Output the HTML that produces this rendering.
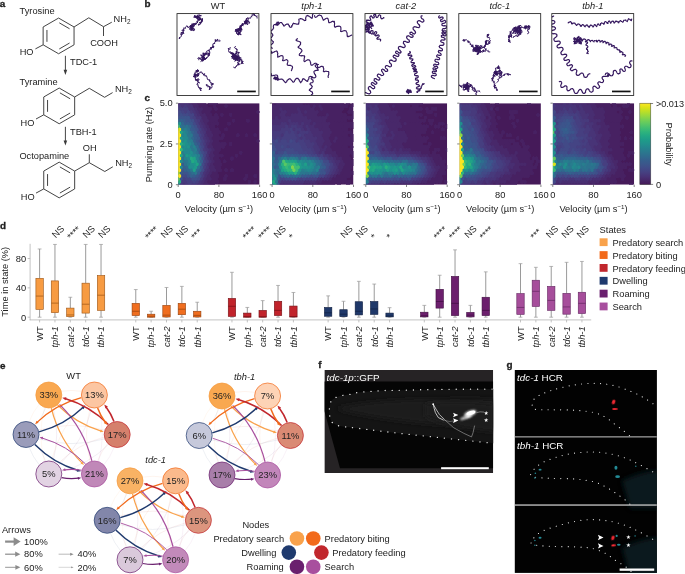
<!DOCTYPE html>
<html><head><meta charset="utf-8"><title>Figure</title>
<style>
html,body{margin:0;padding:0;background:#fff;}
svg{display:block;font-family:"Liberation Sans",sans-serif;font-size:9.3px;fill:#222;}
</style></head><body>
<svg width="685" height="574" viewBox="0 0 685 574">
<rect width="685" height="574" fill="#fff"/>
<g>
<g font-size="9.25">
<text x="-0.2" y="7.3" font-weight="bold" font-size="9.9" stroke="#1a1a1a" stroke-width="0.3">a</text>
<text x="19.6" y="14">Tyrosine</text>
<polygon points="58.6,18.05 74.06,26.98 74.06,44.82 58.6,53.75 43.14,44.82 43.14,26.97" fill="none" stroke="#3a3a3a" stroke-width="0.95" stroke-linejoin="round"/>
<line x1="59.3" y1="22.85" x2="69.55" y2="28.77" stroke="#3a3a3a" stroke-width="0.95"/>
<line x1="69.55" y1="43.03" x2="59.3" y2="48.95" stroke="#3a3a3a" stroke-width="0.95"/>
<line x1="46.95" y1="41.82" x2="46.95" y2="29.98" stroke="#3a3a3a" stroke-width="0.95"/>
<polyline points="74.06,26.98 88.8,17.8 103.5,26.7 111.8,22.2" fill="none" stroke="#3a3a3a" stroke-width="0.95" stroke-linejoin="round"/>
<line x1="103.5" y1="26.7" x2="103.5" y2="36" stroke="#3a3a3a" stroke-width="0.95"/>
<text x="113.6" y="21.5">NH<tspan font-size="6.4" dy="2.1">2</tspan></text>
<text x="90.2" y="46">COOH</text>
<line x1="43.14" y1="44.82" x2="35.4" y2="48.9" stroke="#3a3a3a" stroke-width="0.95"/>
<text x="19.7" y="55">HO</text>
<line x1="65.4" y1="55.8" x2="65.4" y2="71.9" stroke="#3a3a3a" stroke-width="0.95"/>
<polygon points="63.6,69.8 67.2,69.8 65.4,75" fill="#3a3a3a"/>
<text x="70" y="65">TDC-1</text>
<text x="19.6" y="84.8">Tyramine</text>
<polygon points="59.2,88.05 74.66,96.98 74.66,114.83 59.2,123.75 43.74,114.83 43.74,96.98" fill="none" stroke="#3a3a3a" stroke-width="0.95" stroke-linejoin="round"/>
<line x1="59.9" y1="92.85" x2="70.15" y2="98.77" stroke="#3a3a3a" stroke-width="0.95"/>
<line x1="70.15" y1="113.03" x2="59.9" y2="118.95" stroke="#3a3a3a" stroke-width="0.95"/>
<line x1="47.55" y1="111.82" x2="47.55" y2="99.98" stroke="#3a3a3a" stroke-width="0.95"/>
<polyline points="74.66,96.98 89.3,88.3 104.6,97.3 112.6,92.6" fill="none" stroke="#3a3a3a" stroke-width="0.95" stroke-linejoin="round"/>
<text x="114.9" y="92">NH<tspan font-size="6.4" dy="2.1">2</tspan></text>
<line x1="43.74" y1="114.83" x2="36" y2="119" stroke="#3a3a3a" stroke-width="0.95"/>
<text x="20.6" y="125.7">HO</text>
<line x1="65.4" y1="126.8" x2="65.4" y2="142.5" stroke="#3a3a3a" stroke-width="0.95"/>
<polygon points="63.6,140.4 67.2,140.4 65.4,145.6" fill="#3a3a3a"/>
<text x="70" y="135.4">TBH-1</text>
<text x="19.4" y="159">Octopamine</text>
<polygon points="59.2,162.15 74.66,171.07 74.66,188.93 59.2,197.85 43.74,188.93 43.74,171.07" fill="none" stroke="#3a3a3a" stroke-width="0.95" stroke-linejoin="round"/>
<line x1="59.9" y1="166.95" x2="70.15" y2="172.87" stroke="#3a3a3a" stroke-width="0.95"/>
<line x1="70.15" y1="187.13" x2="59.9" y2="193.05" stroke="#3a3a3a" stroke-width="0.95"/>
<line x1="47.55" y1="185.92" x2="47.55" y2="174.08" stroke="#3a3a3a" stroke-width="0.95"/>
<polyline points="74.66,171.07 89.3,162.7 104.8,171.5 112.8,166.8" fill="none" stroke="#3a3a3a" stroke-width="0.95" stroke-linejoin="round"/>
<line x1="89.3" y1="162.7" x2="89.3" y2="154.3" stroke="#3a3a3a" stroke-width="0.95"/>
<text x="82.8" y="151.3">OH</text>
<text x="115.2" y="165.6">NH<tspan font-size="6.4" dy="2.1">2</tspan></text>
<line x1="43.74" y1="188.93" x2="36" y2="193.1" stroke="#3a3a3a" stroke-width="0.95"/>
<text x="20.8" y="199.7">HO</text>
</g>
</g>
<g>
<text x="144.5" y="7.3" font-weight="bold" font-size="9.9" stroke="#1a1a1a" stroke-width="0.3">b</text>
<defs>
<clipPath id="cb0"><rect x="177" y="13.6" width="81.9" height="81.9"/></clipPath>
<clipPath id="cb1"><rect x="271" y="13.6" width="81.9" height="81.9"/></clipPath>
<clipPath id="cb2"><rect x="365" y="13.6" width="81.9" height="81.9"/></clipPath>
<clipPath id="cb3"><rect x="458.8" y="13.6" width="81.9" height="81.9"/></clipPath>
<clipPath id="cb4"><rect x="551.8" y="13.6" width="81.9" height="81.9"/></clipPath>
</defs>
<text x="217.95" y="8.8" text-anchor="middle">WT</text>
<path d="M195.2 16.8L196.1 16.3L195.0 16.3L195.6 17.3L194.6 16.1L195.4 16.5L196.8 17.4L196.6 17.0L198.8 16.7L197.8 15.7L197.7 15.9L197.2 16.0L197.3 16.6L198.1 16.8L196.4 17.3L195.1 17.1L194.0 17.0L193.6 17.1L196.7 17.0L197.4 15.8L197.0 16.5L196.8 16.8L196.8 15.9L197.2 15.3L198.7 15.0L199.0 15.2L199.4 14.8L199.9 14.9L200.5 15.6L200.1 15.1L200.3 15.7L201.2 15.4L201.1 16.0L200.7 16.2L200.3 15.8L199.0 15.5L199.1 16.9L199.6 17.7L199.9 18.2L199.6 18.6L200.7 18.1L199.5 19.6L199.4 20.0L199.7 18.6L201.3 19.9L200.9 20.1L200.4 18.9L199.8 19.0L200.3 19.3L199.9 20.1L198.8 20.3L199.4 19.6L197.5 18.5L197.6 18.7L198.7 17.6L198.4 18.0L198.0 15.8L198.5 17.8L199.1 16.9L198.4 17.0L200.2 17.5L199.8 18.7L199.3 20.0L198.4 19.2L198.7 20.1L199.0 19.9L197.1 18.9L196.5 18.1L196.9 17.7L197.5 17.6M195.7 16.4L194.8 16.5L194.5 16.7L195.7 16.4L194.5 15.1L195.3 16.8L196.6 18.1L197.5 17.9L197.3 17.3L195.3 16.6L197.1 17.1L196.8 17.7L198.2 19.0L198.5 18.7L197.9 18.9L198.3 20.6L197.7 20.5L197.8 22.0L197.6 22.0L197.4 23.0L196.8 21.2L197.4 21.4L196.9 22.5L197.2 22.7L196.0 24.0L195.9 23.2L196.3 23.5L195.2 23.8L196.1 24.8L194.8 24.0L193.5 24.5L195.6 23.3L194.2 24.0L192.6 24.4L193.6 23.8L193.8 23.6L191.5 24.2L192.4 24.6L192.9 25.3L190.8 25.5L191.0 27.0L190.9 25.6L191.9 26.6M190.9 27.7L190.2 25.9L190.6 26.5L191.0 27.0L191.0 26.5L190.4 26.3L190.2 27.2L190.9 26.1L191.6 26.2L192.7 27.6L193.1 26.0L193.5 24.7L194.7 24.4L194.2 26.4L192.3 26.5L191.3 26.1L190.6 26.8L190.5 27.2L191.2 25.6L192.6 25.6L191.0 25.2L191.9 26.3L191.2 26.5L191.5 27.5L191.5 28.4L190.7 27.6L191.4 28.2L191.4 28.6L191.7 29.1L192.8 29.4L193.4 28.8L192.7 26.4L193.0 26.5L193.3 24.9L192.7 24.7L191.0 25.8L192.2 24.8L192.6 26.7L191.4 27.6L192.9 29.3L191.5 28.0L191.7 29.0L190.6 28.1L189.7 29.0L189.5 29.3L190.4 30.1L190.9 30.1L192.1 30.2L190.9 29.3L191.9 29.2L191.5 29.2L194.6 28.9L194.7 29.1L194.2 30.0L194.7 30.0L193.1 30.8L193.6 30.3L191.0 29.9L189.9 29.3L189.7 28.3L190.9 28.3L192.2 27.3L191.9 28.5L192.2 27.7L191.4 27.1L191.4 27.7L191.6 28.3L192.4 28.3L193.5 28.9L193.1 28.5M190.6 25.5L190.6 26.6L190.0 27.4L189.4 26.4L188.7 27.3L188.3 28.0L187.0 25.8L187.5 26.5L187.8 26.9L188.0 26.6L186.6 26.1L186.3 26.3L185.5 27.2L185.6 28.2L185.8 28.2L183.3 28.0L183.8 28.6L183.3 30.7L183.3 30.8L183.3 30.7L183.3 31.5L183.5 31.2L183.0 30.3L184.4 30.2L182.9 29.8L181.8 30.4L182.4 30.6L183.2 31.7L183.7 33.1L183.6 33.7L183.4 33.2L183.7 33.4L182.4 32.0L182.7 32.0L182.1 33.4L181.4 32.0L180.8 34.5L183.0 33.8L181.9 34.0L181.2 33.9L181.1 35.1L181.8 36.0L179.4 37.9L179.3 38.7L179.5 37.3L179.6 38.7L179.6 37.8M197.9 18.0L198.6 17.6L199.2 18.4L200.3 18.8L200.5 19.7L200.8 19.9L202.4 18.1L202.0 19.5L201.8 19.5L202.9 19.5L202.0 19.7L201.8 21.1L202.0 20.6L202.4 21.1L202.1 20.2L202.5 20.1L201.4 20.2L202.3 20.2L201.9 21.1L201.5 21.7L201.5 20.5L201.3 21.8L202.0 21.5L200.7 22.0L202.2 21.9L202.1 21.2L200.9 22.9L200.0 22.8L199.8 22.2L200.4 22.9L200.7 22.0L200.9 23.6L199.5 22.5L200.5 23.7L199.8 23.5L200.0 24.8L198.3 24.1L198.6 25.1L198.0 24.8L198.3 24.9M257.1 18.1L257.0 17.1L256.5 16.6L257.4 16.1L256.3 16.2L256.2 16.0L254.9 15.7L254.6 14.7L255.2 15.5L253.5 15.2L253.8 14.2L253.4 12.8L253.9 14.1L254.7 14.5L253.2 13.8L252.8 13.2L252.0 14.9L252.7 15.3L251.5 15.8L251.9 17.1L251.0 16.5L250.4 17.4L250.5 18.3L249.1 18.1L248.3 18.7L248.2 17.9L248.1 17.8L247.2 18.3L247.8 17.7L248.2 20.0L247.5 20.3L247.3 20.5L246.6 21.1L248.6 21.0L248.2 20.6L248.3 21.8L247.1 20.1L247.0 20.1L245.7 20.2L245.7 20.4L246.3 20.4L246.5 18.2L246.1 20.6L245.5 22.0L246.2 23.0L245.5 22.0L244.8 23.1L244.8 23.5L243.4 23.7L244.1 24.2L242.5 25.2L241.8 24.3L242.4 25.0L242.5 25.2L242.4 23.1L242.3 24.7L242.1 24.4L243.2 25.9L242.3 25.2L242.5 25.5L240.9 25.5L240.3 27.0L239.9 25.8L241.9 26.0L241.3 25.2L240.5 26.4L241.7 25.9L239.5 27.1L241.3 26.9L241.3 27.4L240.8 26.0L240.3 27.8L240.2 28.4L240.0 29.4L239.0 28.0L240.4 28.1L241.3 28.5L239.3 28.7L240.0 29.5L239.5 28.9L240.2 29.8L240.2 31.1L239.6 32.2L239.2 32.8L238.9 32.0L239.9 32.1L239.4 32.6M237.8 30.8L238.8 30.6L239.0 29.2L238.8 29.0L239.8 29.4L239.8 28.9L238.9 29.1L240.3 27.5L237.4 29.9L239.3 30.7L239.7 30.3L239.3 29.2L240.0 29.3L238.0 29.0L237.7 28.6L239.8 30.0L236.7 30.6L238.1 32.0L239.1 29.9L240.1 30.2L241.5 30.8L239.8 32.7L238.6 33.7L239.2 32.8L237.0 31.8L236.4 31.5L236.6 33.1L237.4 34.1L236.5 33.3L237.8 34.0L238.7 33.3L237.8 34.8L237.3 34.0L239.2 33.7L238.6 34.3L238.5 35.2L238.5 33.9L241.1 34.8L241.1 34.3L239.6 33.3L238.3 33.9L239.7 33.2L239.2 33.4L239.2 33.6L239.7 33.7L240.4 32.4L241.0 30.2L240.9 30.0L241.1 30.0L241.2 28.3L240.4 27.8L240.7 28.4L240.1 28.2L239.3 28.3L239.7 29.3L239.5 28.5L238.7 29.4L237.7 29.3L235.6 30.3L236.0 29.7L236.2 30.4L236.4 30.7L236.8 29.5L235.3 30.6L235.2 31.7L236.8 31.1L236.5 30.5L238.4 30.6L238.3 31.5L237.4 30.8L237.1 30.7L236.0 30.1L236.6 29.1L235.9 29.7L235.2 29.7L236.5 29.9L238.6 29.9L237.2 30.3L237.6 31.1L236.4 31.0L237.8 31.1L239.1 30.4L239.6 30.5L241.1 29.5L242.1 29.9L241.8 29.4L240.4 28.1L240.6 27.5L241.6 28.3L241.8 29.7M247.0 23.6L246.7 23.9L245.7 23.8L244.9 23.7L245.1 24.2L245.0 23.3L244.5 22.0L246.0 20.6L246.2 21.4L246.1 20.5L246.5 21.9L247.6 20.9L247.6 21.7L249.6 21.9L249.5 23.3L248.1 22.9L246.4 22.6L245.9 22.2L246.6 22.8L247.0 22.6L246.5 21.6L246.8 22.1L246.4 21.4L245.7 22.0L246.8 22.8L245.9 22.3L245.2 23.5L245.8 22.5L246.3 22.7L246.5 23.0L245.9 22.1L246.5 23.8L245.5 22.7L246.1 21.5L243.9 21.3L245.0 22.3L245.9 21.7L246.2 21.4L245.7 21.8L244.8 22.6L245.4 23.2L245.9 22.6L247.8 24.4L247.5 24.1L247.0 23.7L247.6 24.7L247.0 23.7L245.9 23.5L245.6 23.5L245.9 22.0M219.5 40.2L220.3 40.8L219.7 41.2L219.0 41.0L217.9 40.8L216.6 41.2L218.0 39.1L216.7 40.0L216.0 40.6L214.9 41.1L216.2 40.7L215.3 41.0L215.3 39.4L215.5 40.8L216.1 41.0L215.7 40.9L216.2 40.4L214.5 42.8L214.3 43.9L214.9 43.2L212.9 43.9L212.9 45.1L213.4 46.1L213.2 47.1L212.1 47.0L213.5 47.6L212.7 47.1L213.9 46.4L214.1 46.9L212.3 45.9L213.8 47.0L212.1 47.3L210.6 47.6L211.2 47.7L211.8 48.1L210.2 48.0L211.7 47.9L211.6 48.0L211.6 47.8L211.5 48.5L211.0 48.0L210.7 48.3L211.2 49.6L210.0 48.9L209.3 49.4L209.0 50.6L209.5 50.6L208.8 49.9L208.9 50.0L208.0 51.0L207.7 50.7L207.4 51.2L207.2 51.2L207.1 50.8L206.6 51.3L206.4 52.1L205.8 53.0L206.1 54.1L206.5 54.5L205.5 54.9L205.3 54.3L205.6 53.5L205.6 53.2L205.4 53.2L206.7 53.2L205.7 54.1L205.8 53.6L204.8 53.9L207.0 53.8L205.6 53.6L203.9 54.4L204.3 54.8L205.2 54.3L203.7 54.1L203.4 53.8L202.7 53.2L202.7 53.4L204.1 53.3L204.0 53.4L203.8 52.8L203.1 54.5L203.9 53.1L204.1 55.0L202.9 54.7L202.8 56.7L203.9 55.6L202.5 57.9L201.6 57.3L201.7 57.7L200.4 58.7L199.2 58.1L198.6 57.5L199.5 58.2L200.4 58.0L199.3 58.5L198.9 58.9L198.8 59.8M204.1 56.3L204.1 54.5L203.9 56.0L205.2 55.2L204.5 55.2L202.0 56.8L202.7 57.3L203.6 57.0L203.8 57.7L204.3 57.2L203.1 57.7L203.4 56.7L204.3 57.3L204.5 57.3L204.8 58.5L204.3 59.6L204.4 59.6L205.5 59.5L205.6 58.7L205.3 58.7L204.6 57.9L205.2 58.7L204.2 58.0L204.7 58.8L203.7 58.3L204.6 59.8L205.2 58.5L206.1 58.3L205.5 58.5L204.4 57.7L201.8 58.6L202.1 58.1L202.3 57.9L201.9 57.2L201.8 55.1L200.5 55.1L202.0 55.7L202.8 56.5L202.7 56.8L202.7 56.5L202.7 56.9L202.4 56.3L202.7 56.4L202.9 57.5L203.1 57.5L202.6 56.5L203.1 57.1L203.6 57.6L203.0 57.9L203.2 58.4L202.9 59.2L203.8 58.1L203.6 58.0L204.0 59.0L202.5 59.7L203.2 59.0L202.7 59.3L202.6 58.7L202.3 60.2L200.8 61.4M197.8 58.4L198.2 58.3L199.4 58.5L201.6 59.6L201.0 59.0L201.3 60.0L201.7 60.7L203.3 60.8L203.6 60.1L202.8 59.7L204.2 59.3L202.0 61.3L203.6 58.5L203.9 59.6L203.9 59.9L204.1 59.0L205.5 58.8L205.9 58.2L206.6 57.6L206.5 58.7L206.8 57.6L206.9 58.0L207.9 56.3L208.4 56.4L209.4 55.2L208.1 55.7L208.0 53.6L207.8 54.1L208.6 53.5L207.5 52.7L208.1 53.3L208.4 54.2L208.3 54.5L208.0 53.4L208.4 55.9L209.7 55.0L208.8 52.8L209.3 53.9L209.5 54.0L209.8 52.9L209.0 51.3L209.9 51.8M236.2 56.6L239.9 57.2L239.6 57.7L238.5 56.8L238.8 56.3L239.3 56.1L236.9 54.7L235.8 52.8L235.7 53.0L236.7 52.5L236.3 53.6L237.0 52.9L238.6 52.6L239.5 52.8L238.6 51.9L238.1 55.1L237.1 57.0L238.4 56.6L239.3 58.1L238.5 57.4L239.4 57.7L241.3 58.1L239.3 57.9L237.6 58.6L238.1 57.9L236.8 58.8L236.3 59.9L235.1 59.2L234.6 57.8L237.7 59.5L236.8 60.1L234.6 61.1L236.0 60.2L235.5 60.1L236.1 59.3L235.1 58.7L234.7 59.4L234.9 59.3L233.1 58.6L233.0 57.8L233.2 57.4L231.8 58.4L233.3 57.6L234.3 56.5L233.0 56.3L235.1 56.3L233.5 56.6L233.1 55.9L233.8 54.1L232.1 52.8L233.7 53.4L233.3 53.1L234.4 55.0L233.7 55.5L236.6 56.4L236.2 56.9L236.3 57.7L236.7 57.1L236.4 57.5L235.6 57.6L234.7 58.9L236.6 57.7L237.5 57.9L237.4 57.5L237.5 58.6L236.0 59.6L235.7 58.1L235.7 58.7L235.7 58.9L235.3 58.1L236.5 56.9L237.6 57.4L237.1 57.1L236.7 57.1L236.5 57.0L234.4 54.7L234.9 54.3L234.5 54.5L233.4 56.5L233.8 56.4L232.9 57.5L234.1 59.1L235.3 58.0L234.0 59.4L233.5 59.1L233.7 59.4L234.6 58.0L234.0 56.0L234.9 56.0L233.2 57.3L233.6 56.2L233.4 55.7L233.9 56.1L233.5 56.7L231.0 56.4L232.3 57.6L233.6 56.4L232.1 56.2L235.1 56.6L234.4 54.8L234.8 54.7L235.5 55.2L233.0 55.3L234.2 54.9L233.1 53.9L232.0 56.7L234.1 56.1L235.8 55.1L235.2 54.5L235.1 55.6L237.4 56.6L237.1 56.8L236.8 57.3L235.7 57.5L236.3 58.5L235.3 58.8L235.7 57.7L233.6 57.1L234.8 56.8L237.4 57.4L236.5 57.3L236.9 57.8L236.5 58.2L239.7 59.1L239.4 58.3L237.1 58.4L236.5 58.2L235.8 58.9L237.0 57.9L235.4 58.2L236.9 58.5L237.3 56.8L236.6 57.5L236.9 57.4L237.4 58.3L237.3 57.4L235.6 57.6L235.5 57.3L236.7 56.6L236.3 57.4M230.2 47.4L229.9 48.6L230.1 49.2L229.5 49.2L228.7 48.7L228.2 48.0L228.8 50.0L229.1 50.0L228.5 50.5L229.0 52.3L230.3 51.9L229.9 52.2L230.6 52.0L230.7 52.2L231.1 53.0L230.8 53.3L231.2 53.1L231.3 54.1L232.6 53.6L230.9 53.1L232.3 53.1L230.6 53.0L231.4 53.3L231.2 53.3L231.9 53.1L233.5 54.4L232.1 54.1L232.9 54.6L233.6 55.0L234.8 56.6L234.7 55.7L234.7 55.0L234.7 55.5L234.1 54.8L235.3 55.5L235.9 55.9L235.5 55.8L235.4 55.9L234.9 56.0L235.2 55.2L235.7 55.3L235.9 55.7L236.8 56.2L235.6 54.6L235.0 55.2L234.0 55.0L233.9 56.3L234.0 56.9L233.9 54.9L234.4 53.8L234.6 54.1L235.9 53.3L237.1 53.1L236.1 51.5L236.0 51.1L237.1 52.0L236.9 50.1L236.6 49.5L237.5 49.7L236.3 49.4L236.5 48.6L235.5 48.1L235.5 48.7L234.3 47.4L235.5 46.5M236.0 57.8L235.5 56.0L234.7 56.7L237.3 56.8L237.2 58.8L236.6 59.6L237.3 59.8L237.4 60.7L238.1 60.8L236.8 59.8L238.0 59.7L238.1 59.9L237.4 59.6L238.0 60.8L239.1 61.1L239.1 60.2L239.6 60.6L239.4 61.9L237.4 62.4L238.8 64.1L238.8 64.0L238.8 64.9L238.6 63.4L237.9 63.0L238.8 64.7L238.9 63.5L238.7 63.4L239.4 64.2L237.6 64.6L239.1 65.0L238.3 64.2L237.0 65.3L236.3 66.5L237.0 65.6L235.7 66.5L235.2 68.1L233.6 67.2M236.7 57.7L237.4 58.0L237.8 59.1L236.3 57.8L238.7 60.0L238.2 59.6L238.3 59.3L240.1 60.5L239.1 60.2L240.4 59.6L240.7 59.1L240.5 59.6L241.0 59.4L239.0 58.9L240.6 59.4L240.4 60.1L241.7 59.5L242.1 60.1L240.9 61.1L242.8 61.0L243.2 61.6L241.8 61.5L243.1 63.4L242.9 63.7L241.6 62.3L243.1 63.3L241.8 62.4L241.3 62.9L242.0 63.4L240.8 63.8M197.2 71.1L198.2 71.3L196.3 71.1L199.0 70.5L196.2 71.7L197.6 69.4L198.7 71.3L195.9 70.4L197.5 72.2L195.7 72.1L195.2 71.7L195.0 74.6L194.7 73.8L193.9 74.2L194.1 74.1L194.6 74.3L195.6 76.0L195.2 73.7L194.5 75.8L194.8 75.8L196.0 75.4L194.4 75.6L194.9 76.6L194.1 74.7L196.2 76.3L194.8 76.2L195.5 75.2L195.3 75.9L195.0 77.2L195.5 79.2L195.1 78.9L195.5 78.9L195.4 80.0L196.3 80.0L196.3 79.7L196.3 79.9L195.6 79.4L195.2 79.7L197.8 80.1L197.4 80.1L196.6 80.6L196.6 80.4L195.7 80.2L197.5 79.0L197.9 79.8L198.0 78.6L199.3 79.6L197.4 80.7L197.6 81.4L197.2 80.9L197.8 80.7L198.1 80.3L197.9 81.9L199.0 82.8L199.6 82.8L198.8 82.7L198.4 81.8L197.3 83.8L198.1 84.5L197.8 83.7L196.7 84.4L198.4 85.7L197.9 85.8L198.8 87.4L199.8 88.3L198.7 87.8L198.7 87.1L199.5 87.8L200.9 88.6L200.2 88.6L201.2 88.8L201.3 88.5L200.6 87.8L199.7 88.7L200.6 88.5L201.4 88.3L200.6 89.7L201.0 91.0L200.3 89.7M195.7 74.6L196.2 74.6L197.4 75.2L196.9 75.8L197.0 75.4L197.6 75.0L198.8 75.7L198.3 75.6L198.7 74.6L198.3 73.7L198.2 73.9L198.9 73.9L198.6 75.0L197.8 76.0L197.4 75.1L197.8 75.5L197.3 76.6L198.2 76.0L197.6 75.8L197.3 75.3L197.6 75.3L197.6 75.3L197.5 74.7L196.7 74.5L196.4 75.3L196.7 74.7L195.9 75.7L196.2 76.3L195.4 76.1L196.1 77.1L195.8 76.9L195.7 76.9L195.6 77.0L195.7 77.7L195.5 76.9L194.8 76.9L193.7 76.0L194.3 77.1L193.1 76.4L193.5 76.3M196.0 74.8L196.5 75.4L197.4 74.7L198.0 74.3L197.3 73.6L198.9 73.6L198.7 73.4L198.5 73.6L198.9 73.2L200.2 72.6L200.5 72.7L201.0 71.5L201.0 71.7L201.1 72.3L201.8 73.2L202.1 72.6L202.8 74.1L204.0 74.8L204.0 75.0L203.1 74.4L204.5 73.6L204.8 73.9L205.0 73.9L203.9 75.5L204.7 75.7L206.3 75.7L205.8 76.1L206.2 76.0L207.3 77.4L206.7 77.8L207.6 78.6L207.3 78.7L208.0 80.0L208.9 79.8L209.9 80.9L209.3 79.5L210.0 80.3L209.6 80.7L210.0 82.1L210.5 82.0L211.0 83.4L211.0 82.9L213.6 83.9L212.4 84.5L211.2 84.7L211.3 83.9L213.1 84.4L211.6 85.4L212.1 86.3L211.6 88.1L210.4 87.2L209.7 88.9L210.0 88.9L208.9 89.5L210.4 89.1L209.7 88.2L210.3 88.2L209.6 88.3L209.6 86.7L209.6 86.6L210.2 86.0L209.6 86.6L209.6 86.7L208.3 86.1L208.0 87.2L207.9 85.2L205.9 84.9L207.0 84.8L206.7 85.8" fill="none" stroke="#35185f" stroke-width="0.95" stroke-linejoin="round" stroke-linecap="round" clip-path="url(#cb0)"/>
<rect x="177" y="13.6" width="81.9" height="81.9" fill="none" stroke="#222" stroke-width="0.85"/>
<rect x="237.2" y="90.6" width="18.6" height="1.7" fill="#111"/>
<text x="311.95" y="8.8" text-anchor="middle"><tspan font-style="italic">tph-1</tspan></text>
<path d="M277.3 22.5L276.6 23.0L276.8 23.2L276.9 24.0L277.5 24.5L277.3 24.0L276.7 23.7L275.2 24.5L275.5 24.3L276.2 23.9L276.4 24.2L275.6 24.9L275.9 25.0L275.4 24.4L276.6 23.9L276.4 24.0L277.3 22.4L278.1 22.6L278.5 22.0L278.5 23.0L278.3 22.6L277.9 22.3L278.3 22.5L277.8 22.9L277.1 22.1M276.3 24.5L276.5 24.8L277.1 25.3L277.5 25.2L277.9 25.1L278.0 24.8L278.5 24.2L279.2 23.7L279.7 22.9L280.2 22.6L280.8 22.5L281.4 22.5L281.9 23.0L282.3 23.5L282.7 24.3L283.3 24.8L283.4 25.1L283.5 25.6L283.8 25.9L284.0 26.1L284.1 26.1L284.7 25.6L285.0 25.2L285.6 24.8L286.4 24.3L286.9 24.1L287.5 24.0L288.3 24.1L288.3 24.2L288.5 25.0L289.3 25.5L289.3 26.3L289.8 27.0L290.1 27.2L290.6 27.3L290.7 27.2L291.2 27.1L291.9 26.8L291.6 26.0L292.1 25.5L292.6 24.9L292.5 24.4L292.8 24.0L293.1 23.7L293.5 23.2L294.2 23.7L294.6 23.5L295.4 23.7L296.0 23.9L296.8 24.1L297.1 24.1L297.6 24.2L298.1 24.3L298.7 24.0L298.6 24.0L298.4 23.5L299.0 22.9L298.8 22.5L299.0 21.7L299.1 21.0L298.9 20.0L298.8 19.2L299.4 19.0L300.1 19.0L300.6 18.5L301.1 18.8L301.8 18.9L302.7 19.3L303.3 19.7L303.7 20.1L304.6 20.6L305.0 20.5L305.2 20.5L305.6 20.5L305.7 20.2L305.8 19.6L305.8 19.1L305.6 18.3L305.9 17.2L306.1 16.7L306.2 16.0L306.9 15.8L307.3 15.4L308.0 16.0L308.6 15.8L309.3 16.5L310.2 17.0L311.1 17.9L311.4 18.0L311.8 18.3L312.2 18.2L312.2 17.7L312.4 17.0L312.6 16.0L312.4 15.2L312.8 14.0L313.2 13.9L313.4 13.3M314.6 15.5L314.6 16.1L314.9 16.8L315.1 17.1L315.2 17.4L315.7 17.3L316.5 17.0L316.8 16.8L317.4 16.2L318.0 15.6L318.6 15.4L319.6 14.9L320.3 15.4L320.5 15.5L321.2 15.6L321.6 16.2L321.9 16.8L322.3 17.3L322.4 18.1L322.7 18.7L323.1 19.3L323.0 19.5L323.2 20.0L323.5 20.2L323.7 20.2L324.0 19.8L324.6 19.5L325.1 19.0L325.9 18.6L326.5 18.3L327.2 18.2L327.7 18.4L328.0 18.8L328.3 19.7L328.5 20.2L328.5 21.0L328.6 21.6L328.7 22.3L328.9 22.6L329.4 22.6L329.6 22.7L329.9 22.6L330.6 22.2L331.4 22.0L331.9 21.5L332.5 21.2L333.4 21.4L333.5 21.8L334.4 21.4L334.3 22.2L334.5 22.8L334.6 23.8L334.5 24.7L334.4 25.3L334.5 26.3L334.7 26.6L334.5 26.7L334.9 27.1L335.4 27.1L335.4 27.2L336.5 26.5L337.1 26.2L337.7 26.4L338.1 26.4L338.9 26.0L339.7 26.2L340.0 26.4L340.6 26.8L340.6 27.1L340.9 27.8L340.9 28.4L340.9 29.0L340.9 29.7L340.7 30.4L340.8 30.8L340.6 31.4L341.0 31.5L341.5 31.6L341.9 31.4L342.6 31.3L343.5 30.8L344.0 30.7L344.8 30.5L345.5 30.7L346.2 31.1L346.2 31.1L346.5 32.0L346.9 32.5L347.0 33.0L347.1 33.7L347.1 34.5L347.1 35.1L347.3 35.9L347.2 36.2L347.6 36.6L348.1 36.4L348.4 36.6L348.6 36.4L349.7 36.1L350.4 35.7L351.2 35.3L351.7 35.1M276.0 24.7L275.5 24.6L275.0 24.5L274.5 24.5L274.1 24.7L273.8 25.2L273.6 25.4L273.4 26.2L273.3 27.0L273.5 27.3L273.6 28.0L273.5 28.3L273.1 28.7L272.9 29.2L272.6 29.7L272.4 29.9L271.8 30.1L271.4 30.7L271.0 31.3L270.8 31.2L270.7 31.6L270.8 32.0L270.9 32.1L271.2 32.9L271.7 33.4L272.3 33.8L272.7 34.4L272.7 34.9L272.9 35.4L272.4 35.9L272.4 36.2L271.8 36.8L271.6 37.4L271.0 37.8L270.7 37.8L270.4 38.5L270.0 38.7L270.3 39.1L270.8 39.6L271.6 39.9L271.8 40.4L272.5 41.1L273.0 41.4L273.5 41.9L273.0 42.7L273.0 43.1L272.3 43.7L271.9 44.0L271.5 44.4L271.0 44.9L270.4 45.4L270.2 45.9L270.1 46.1L270.4 46.6L270.6 46.7L271.1 47.1L271.2 47.6L272.0 47.8L272.2 48.5M297.3 38.5L296.7 39.6L296.1 39.7L296.1 39.9L296.2 40.6L296.5 40.5L297.1 40.8L297.8 41.1L298.6 41.3L299.6 41.7L300.3 42.1L300.7 42.6L300.5 43.1L300.6 43.8L300.5 44.3L300.2 44.7L299.5 45.6L299.0 46.2L298.4 46.5L298.1 47.0L298.4 47.2L298.2 47.5L298.7 47.9L299.2 48.0L299.6 48.3L300.3 48.5L301.0 49.2L301.6 49.8L301.7 50.1L302.0 50.5L301.9 51.1L301.6 51.5L301.3 52.0L300.7 52.6L300.4 53.1L299.7 53.6L299.4 54.0L299.3 54.5L299.3 54.8L299.3 55.2L299.6 55.5L300.3 55.7L301.0 55.6L301.7 55.9L302.3 55.6L302.9 55.7L303.3 55.8L303.8 55.9L304.5 55.9L304.7 56.4L304.6 57.1L304.2 58.2L304.2 59.2L304.1 60.1L303.9 60.7L304.2 61.3L304.3 61.6L304.7 61.5L305.5 61.2L306.1 60.5L306.8 60.2L307.4 59.8L308.2 59.9L308.7 59.8L309.2 60.0L309.8 60.5L309.9 60.7L310.2 61.2L310.3 62.2L310.7 62.6L310.7 63.0L310.6 63.6L310.8 64.5L311.0 64.8L311.2 65.1L311.6 65.0L312.2 65.2L312.6 64.9L313.0 64.7L313.6 64.0L314.2 63.8L315.0 63.3L315.5 63.2L316.2 63.4L316.4 63.8L316.9 64.2L317.1 64.6L317.2 65.3L317.6 66.1L317.6 66.6L317.7 67.1L317.8 67.5L318.0 67.8L318.5 67.7L318.7 67.6L319.3 67.4L319.8 67.3L320.3 66.8L321.0 66.4L321.4 66.4L322.1 66.4L322.7 66.6L323.4 66.8L323.3 67.8L323.7 68.3L323.7 69.2L323.7 69.5L323.6 70.4L323.4 70.9L323.3 71.2L323.7 71.7L323.9 71.5L324.5 71.7L325.3 71.2L326.3 71.3L326.9 71.4L327.8 71.5L328.3 71.5L328.9 72.1L328.7 72.8L328.7 73.5L328.8 74.2L328.5 75.0L328.3 75.5L328.1 76.3L328.1 76.8L328.1 77.0L328.2 77.3L328.4 77.3M271.7 51.3L271.5 52.0L271.6 52.8L271.7 53.4L271.8 53.3L272.3 52.9L273.3 52.3L273.8 52.2L274.8 51.5L275.7 51.3L276.3 50.9L277.0 51.3L277.4 51.8L277.3 52.5L277.9 53.3L277.6 54.1L277.6 55.2L277.9 55.7L277.7 56.5L277.6 57.1L277.8 57.0L278.4 56.9L279.0 56.7L279.8 56.2L280.7 55.8L281.2 55.6L282.0 55.7L282.5 55.7L282.8 56.1L283.0 56.6L283.1 57.4L283.1 58.0L283.1 59.1L282.7 59.7L282.8 60.1L282.5 60.4L283.1 60.7L283.4 60.7L284.0 60.6L284.8 60.2L285.5 60.0L286.3 59.6L287.1 60.0L287.5 60.2L287.7 60.5L287.9 61.1L287.8 61.9L287.6 62.7L287.4 63.3L287.2 64.2L287.4 64.7L287.3 64.8L287.6 65.1L288.2 65.3L288.7 65.5L289.0 65.4L289.9 65.3L290.6 65.4L291.2 65.8L291.8 66.1L292.3 66.4L292.5 66.8L292.5 67.4L292.5 68.1L292.0 68.6L291.9 69.6L291.5 70.3L291.4 70.7M275.8 79.7L274.7 78.6L275.3 77.9L274.9 77.6L274.6 77.8L274.3 77.0L274.3 78.2L274.5 77.5L276.8 77.2L276.9 77.2L277.4 77.9L276.4 79.1L276.9 78.3L276.1 77.6L277.1 78.2L277.1 79.2L278.2 79.4L278.2 79.3L277.8 79.3L277.3 79.8L278.0 78.8L278.2 78.5L277.7 77.4L275.6 77.6L275.2 77.4L275.1 76.8L275.5 78.3L276.4 78.8L276.3 78.9L276.1 78.7L275.6 78.3L278.8 79.1L278.9 79.4L277.9 79.4L276.8 79.3L275.7 78.9L275.6 79.6L275.4 78.8L273.6 78.7L274.5 78.9M271.5 73.8L271.3 74.3L271.3 75.0L271.5 75.6L271.7 75.9L271.8 75.8L272.6 75.6L273.2 75.4L274.1 75.5L274.9 75.2L275.4 75.0L276.4 75.0L276.9 75.3L277.4 75.4L277.6 75.9L277.7 76.9L277.5 77.7L277.4 78.6L277.3 79.2L277.2 79.9L277.3 80.0L277.6 80.2L278.2 79.9L279.0 79.6L279.4 79.3L280.1 79.2L280.4 79.3L281.2 79.0L281.7 79.1L282.0 79.1L282.3 79.3L282.8 79.6L283.2 80.2L283.5 80.5L283.9 81.0L284.6 81.7L284.9 82.1L285.1 82.3L285.4 82.7L285.8 82.5L286.0 82.4L286.1 82.0L286.8 81.7L286.9 81.0L287.2 80.3L287.7 80.1L288.1 79.5L288.7 79.4L289.1 78.7L289.8 78.8L290.3 78.8L290.8 79.3L291.4 80.1L291.8 80.6L292.5 81.2L292.6 81.7L293.0 82.0L293.3 82.2L293.7 82.0L294.0 81.8L294.4 81.5L294.4 80.9L294.9 80.3L295.4 79.4L295.8 79.0L296.4 78.4L297.0 78.4L297.6 78.2L298.1 78.2L298.1 78.9L298.9 79.5L299.2 80.1L299.4 80.9L300.0 81.5L300.2 82.1L300.6 82.4L300.7 82.8L301.1 82.0L301.7 81.6L302.0 80.8L302.4 80.2L302.5 79.2L302.9 78.8L303.5 78.7L303.8 79.1L304.5 79.1L305.0 79.7L305.5 80.3L306.3 80.7L306.7 81.0L307.0 81.3L307.2 81.4L307.8 81.3L307.7 80.8L308.0 80.1L308.3 79.4L308.9 78.8L308.8 77.9L309.1 77.0L309.2 76.9L309.8 76.6L310.2 76.4L310.7 76.5L311.1 76.5L312.3 76.9L312.8 77.3L313.2 77.8L314.0 77.9L314.5 77.7L315.0 77.6L315.5 77.1L315.7 77.1L315.9 76.2L315.9 76.0L315.4 75.3L315.4 74.8L314.7 74.2L314.5 73.5L314.2 73.2L314.1 72.7L313.9 72.0L314.0 71.4L314.7 70.9L315.4 70.6L316.2 70.4L317.1 70.3L317.7 70.3L318.3 70.2L318.3 70.1L318.1 69.6L317.4 68.9L317.4 68.4L316.3 67.3L315.8 66.9L315.2 66.0L315.3 65.2L315.8 64.9L316.2 64.7L317.3 64.2L318.4 64.5M312.1 77.8L311.3 77.8L311.1 78.2L311.2 78.7L311.4 79.1L312.0 79.3L312.4 79.9L313.0 80.1L313.1 81.1L313.2 81.5L312.8 82.3L312.5 82.6L311.3 82.8L310.5 83.1L310.3 83.2L310.1 83.8L310.0 84.2L310.3 84.6L311.2 85.0L311.6 85.8L312.0 86.0L312.3 86.4L311.8 87.2L311.8 87.7L311.6 88.2L310.5 88.6L310.2 89.3L309.7 89.4L309.3 90.1L309.2 90.1L309.6 90.5L310.3 90.8L310.8 91.4L311.5 91.7L312.4 92.1L312.5 93.0L312.7 93.5L312.6 94.1L311.8 94.5L311.3 94.9" fill="none" stroke="#35185f" stroke-width="1.15" stroke-linejoin="round" stroke-linecap="round" clip-path="url(#cb1)"/>
<rect x="271" y="13.6" width="81.9" height="81.9" fill="none" stroke="#222" stroke-width="0.85"/>
<rect x="331.2" y="90.6" width="18.6" height="1.7" fill="#111"/>
<text x="405.95" y="8.8" text-anchor="middle"><tspan font-style="italic">cat-2</tspan></text>
<path d="M367.5 26.6L369.0 29.0L367.2 27.7L366.2 27.1L366.2 25.3L366.8 23.6L367.7 22.7L368.2 23.7L368.0 23.2L367.1 22.1L369.3 23.4L371.6 24.2L371.7 23.7L371.0 21.9L372.0 23.7L373.5 26.0L371.6 22.7L372.2 23.5L370.4 22.6L371.3 25.4L371.5 24.6L372.3 26.3L370.2 27.3L368.7 27.2L369.3 27.1L367.2 27.5L365.5 28.3L363.3 27.3L363.2 26.3L364.1 26.6L367.1 27.1L368.7 25.5L370.1 26.7L371.7 28.6L370.1 26.5L368.8 25.6L370.6 23.0L370.4 24.7L370.0 23.0L368.6 24.1L369.5 24.1L369.8 26.2L369.2 28.9L367.7 31.1L365.9 32.3L366.2 29.5L366.6 29.8L367.6 29.5L367.4 28.7L367.6 30.0L368.3 30.4L368.6 31.8L371.8 34.1L369.7 31.9L368.1 30.7M383.9 17.8L383.5 17.5L383.5 18.0L383.3 18.1L382.9 18.3L382.8 18.7L382.4 18.6L382.0 18.6L382.1 18.7L381.5 18.6L381.5 18.8L381.1 18.4L381.1 18.3L380.7 17.7L380.8 17.4L380.9 17.3L380.5 16.9L380.6 16.5L380.6 16.3L380.8 16.1L380.7 15.8L380.6 15.6L380.4 15.4L380.1 15.2L379.9 15.1L379.7 14.9L379.2 14.9L378.9 15.1L378.5 15.6L378.4 15.4L378.3 15.6L378.3 16.0L378.2 16.4L378.0 16.7L378.0 16.8L377.6 17.2L377.2 17.4L377.1 17.3L376.9 17.5L376.7 17.5L376.5 17.6L376.2 17.0L376.2 16.7L375.9 16.3L375.9 16.1L375.6 16.1L375.6 15.5L375.9 15.2L375.8 14.8L375.6 14.6L375.4 14.4L375.1 14.3L375.1 14.1L374.5 14.4L374.4 14.6L374.1 14.5L373.8 14.8L373.9 15.4L373.6 15.5L373.9 15.8L374.0 16.1L374.3 16.3L374.2 16.6L374.4 17.0L374.2 17.2L374.0 17.5L374.0 17.5L373.9 17.9L373.6 17.9L373.5 17.8L373.2 18.0L372.9 17.6L372.5 17.9L372.4 17.2L372.2 17.0L372.1 16.9L371.9 16.5L371.8 16.3L371.5 16.0L371.5 15.8L370.9 15.9L370.8 16.3L370.2 16.2L370.2 16.3L370.0 16.8L369.8 17.2L369.8 17.4L369.9 17.4L370.2 18.1L370.1 18.5L370.4 18.6L370.3 18.9L370.5 19.2L370.7 19.3L370.6 19.6L370.8 20.1L370.4 19.9L370.2 20.2L369.8 20.5L369.5 20.6L369.3 20.5L369.0 20.4L368.6 20.2L368.0 20.4L368.2 20.1L367.7 20.0L367.3 20.3L367.0 20.0L366.8 20.1L366.5 20.3L366.4 20.6L366.3 21.0L366.3 21.5L366.2 21.6L366.6 22.1L366.6 22.3L366.7 22.3L366.9 22.5L367.3 22.7L367.4 22.9L367.6 23.3L367.8 23.4L367.6 23.8L368.1 23.9L368.1 24.2L368.2 24.3L367.9 24.6L367.8 25.1L367.3 24.9L367.3 25.1L367.0 25.2L366.5 25.4L366.3 25.2L366.0 25.3L365.5 25.2L365.2 25.2L365.1 25.5L364.8 25.6L364.7 25.5L364.5 25.8M366.6 26.5L366.8 26.6L366.6 27.0L366.3 27.3L366.3 27.3L366.0 27.5L365.8 28.0L365.6 27.8L365.4 28.2L364.9 28.4L364.9 28.5L365.0 28.9L365.2 29.2L365.6 29.3L365.6 29.8L366.0 29.6L366.4 29.5L366.8 29.4L367.0 29.4L367.2 28.9L367.3 29.1L367.6 28.7L368.0 28.5L368.4 28.7L368.5 28.7L368.5 28.6L368.9 29.0L368.9 29.3L369.3 29.5L369.4 29.9L369.0 30.1L368.9 30.4L368.6 30.5L368.4 30.7L368.1 31.0L368.0 31.2L368.2 31.3L368.0 31.9L368.2 32.1L368.3 32.4L369.0 32.8L369.2 32.8L369.4 33.1L369.9 32.9L370.3 32.6L370.3 32.3L370.5 32.3L370.7 31.8L370.7 31.7L371.0 31.5L371.0 30.8L371.1 30.6L371.5 30.7L371.8 30.7L372.1 30.5L372.3 30.6L372.7 30.7L372.6 30.8L373.1 31.1L373.1 31.4L373.0 31.9L372.9 32.0L373.0 32.4L372.9 32.8L372.8 33.1L372.9 33.3L372.7 33.6L373.0 33.9L373.0 33.9L373.4 34.2L373.5 34.1L373.6 34.1L373.7 33.9L374.0 34.0L373.9 33.6L374.3 33.5L374.4 33.2L374.3 32.9L374.7 32.4L375.0 32.1L375.0 32.0L375.4 31.7L375.6 31.6L375.9 31.7L376.3 31.7L376.7 31.9L376.7 32.7L376.6 32.5L376.6 33.0L376.4 33.3L376.3 33.6L376.1 33.7L376.1 34.0L375.6 34.1L375.5 34.1L375.2 34.5L375.1 34.6L374.9 35.0L375.1 35.2L374.9 35.4L375.2 35.7L375.5 35.6L375.6 35.9L376.0 35.8L376.1 35.6L376.5 35.9L376.8 35.5L377.0 35.7L377.4 35.1L377.7 35.3L377.7 35.2L378.1 35.0L378.4 34.9L378.6 35.2L378.8 35.3L379.1 35.5L379.1 35.7L379.2 36.1L379.0 36.4L378.8 36.5L378.7 36.8L378.4 37.1L378.3 37.3L377.9 37.3L377.5 37.4L377.4 37.5L377.3 37.9L377.2 38.1L377.0 38.2L376.8 38.7L376.9 38.7L377.0 39.0L377.4 39.0L377.6 39.1L377.8 39.4L377.9 39.1L378.3 39.2L378.7 39.1L378.8 39.0L379.2 39.0L379.5 39.1L379.7 39.2L380.1 39.3L380.4 39.4L380.7 39.8L380.6 40.0L380.5 40.4L380.6 40.7L380.3 40.9M422.2 15.8L421.9 15.8L421.7 15.9L421.1 16.1L421.2 16.3L421.0 16.7L421.0 17.0L421.1 17.1L421.2 17.6L421.5 18.0L421.5 18.2L421.6 18.3L421.7 18.6L422.1 18.6L422.3 18.9L422.7 19.0L422.8 19.0L423.2 19.3L423.3 19.3L423.4 19.8L423.6 19.8L423.7 20.1L423.7 20.4L423.9 20.6L424.0 20.8L423.9 21.2L423.7 21.5L423.5 21.6L423.0 21.8L423.0 22.1L422.8 22.2L422.5 22.0L422.2 22.1L421.9 22.0L421.5 21.9L421.1 21.6L420.9 21.5L420.7 21.3L420.5 21.2L420.2 20.9L420.0 20.8L419.7 20.8L419.5 20.8L419.2 20.6L418.7 20.6L418.5 20.8L418.1 20.9L418.0 20.9L417.7 21.4L417.5 21.3L417.3 21.7L417.4 21.9L417.4 22.1L417.3 22.7L417.5 22.8L417.5 23.0L417.8 23.4L417.8 23.6L418.2 23.8L418.3 24.1L418.4 24.2L418.7 24.5L419.0 24.5L419.4 24.7L419.3 24.8L419.3 25.4L419.6 25.3L419.7 25.8L419.7 25.9L419.8 26.3L419.6 26.6L419.6 26.9L419.4 27.1L419.1 27.4L418.8 27.4L418.8 27.7L418.2 27.5L418.0 27.5L417.6 27.5L417.3 27.4L417.1 27.4L416.9 27.4L416.6 27.1L416.3 27.2L416.1 26.9L415.7 26.9L415.3 26.9L415.0 26.9L414.8 26.6L414.5 26.9L414.0 26.9L413.7 27.0L413.6 27.0L413.3 27.4L413.1 27.7L413.1 28.0L413.2 28.1L413.0 28.5L413.2 28.8L413.2 29.1L413.3 29.6L413.5 29.6L413.7 29.8L414.0 30.2L414.1 30.2L414.3 30.3L414.5 30.8L414.9 30.9L414.9 31.2L415.1 31.2L415.2 31.4L415.5 32.0L415.2 32.1L415.6 32.4L415.5 32.8L415.5 32.9L415.1 33.4L415.1 33.5L414.8 33.6L414.6 33.8L414.3 34.1L413.9 33.9L413.7 33.8L413.3 33.5L413.2 33.6L412.9 33.2L412.6 33.1L412.4 32.8L412.3 32.6L411.9 32.3L411.8 32.3L411.5 32.3L411.2 32.1L410.9 32.2L410.6 32.4L410.3 32.3L410.0 32.5L410.0 32.8L410.0 33.1L409.9 33.4L410.0 33.7L410.0 33.9L410.3 34.2L410.7 34.4L410.8 34.4L411.1 34.6L411.6 34.7L411.7 34.6L412.0 34.9L412.2 34.9L412.3 35.0L412.6 35.3L413.0 35.5L413.0 36.0L413.0 36.0L413.1 36.4L413.2 36.8L412.6 36.8L412.5 37.3L412.2 37.0L411.9 37.3L411.7 37.3L411.4 37.3L410.9 37.3L410.7 37.1L410.5 37.0L410.3 36.8L410.0 36.7L409.6 36.4L409.5 36.3L409.2 36.2L409.0 36.1L408.6 35.8L408.4 35.7L408.2 35.8L407.7 35.8L407.6 36.1L406.9 36.1L407.1 36.2L406.9 36.5L406.6 36.8L406.6 37.0L406.6 37.4L406.7 37.5L406.7 37.8L406.9 38.0L407.1 38.5L407.2 38.8L407.6 38.8L407.7 39.0L407.9 39.3L408.2 39.6L408.4 39.7L408.7 39.7L408.9 39.9L409.0 40.1L409.3 40.3L409.1 40.6L409.4 41.0L409.4 41.2L409.4 41.5L409.4 41.9L409.0 42.0L408.7 42.2L408.5 42.3L408.2 42.5L407.9 42.2L407.6 42.4L407.1 42.5L407.0 42.0L406.7 42.1L406.2 42.0L406.1 41.7L405.8 41.5L405.6 41.4L405.3 41.3L404.9 41.3L404.7 41.4L404.5 41.4L404.1 41.3L403.8 41.5L403.5 41.7L403.6 42.0L403.4 42.2L403.5 42.5L403.4 43.1L403.3 43.2L403.6 43.4L403.9 43.8L403.9 44.0L404.2 44.3L404.3 44.4L404.5 44.6L404.6 44.8L404.8 45.2L404.9 45.3L405.1 45.7L405.2 45.9L405.4 46.1L405.1 46.5L404.9 46.8L404.9 47.1L404.6 47.2L404.3 47.3L404.0 47.6L403.7 47.3L403.4 47.6L403.0 47.4L402.8 47.3L402.4 47.4L402.4 47.1L402.1 47.2L401.7 46.9L401.4 46.9L401.3 46.6L400.8 46.6L400.4 46.6L400.3 46.3L400.2 46.3L399.5 46.5L399.7 46.5L399.1 46.6L399.0 46.7L398.7 47.0L398.5 47.1L398.4 47.5L398.5 47.8L398.4 48.2L398.5 48.5L398.4 48.7L398.6 48.8L399.0 49.3L399.2 49.3L399.1 49.7L399.3 49.9L399.8 49.9L399.9 50.3L400.3 50.6L400.1 50.6L400.5 51.2L400.8 51.3L401.0 51.5L401.0 51.6L401.1 51.9L401.1 52.1L400.9 52.4L400.7 52.8L400.7 52.8L400.3 53.1L400.1 52.8L399.6 53.1L399.4 52.9L399.0 52.8L398.8 52.7L398.5 52.5L398.2 52.1L398.1 51.9L397.8 51.7L397.7 51.7L397.6 51.6L397.3 51.3L396.9 51.1L396.7 51.1L396.4 51.3L396.1 51.2L396.0 51.5L395.7 51.7L395.7 51.9L395.6 52.3L395.5 52.6L395.7 52.8L395.8 53.0L396.1 53.3L396.4 53.5L396.6 53.6L396.8 53.7L397.3 53.8L397.5 53.8L397.6 53.8L398.1 54.1L398.3 54.2L398.4 54.3L398.4 54.6L399.0 54.8L398.8 55.3L398.9 55.6L398.6 55.7L398.5 56.0L398.4 56.3L398.1 56.3L397.8 56.6L397.5 56.4L397.3 56.4L396.9 56.4L396.7 56.2L396.3 56.1L396.0 55.8L395.8 55.9L395.7 55.7L395.2 55.5L395.2 55.2L394.9 55.3L394.6 55.1L394.3 55.3L393.8 55.3L393.6 55.4L393.7 55.6L393.3 55.9L393.1 56.1L393.1 56.5L393.4 56.8L393.5 57.0L393.6 57.2L393.7 57.5L394.3 57.9L394.2 57.7L394.6 57.8L394.8 58.1L395.1 58.1L395.7 58.3L395.7 58.5L395.9 58.7L396.1 58.9L396.1 59.4L396.3 59.7L395.9 59.7L395.9 60.2L396.0 60.5L396.0 60.7L395.7 60.9L395.4 61.1L395.1 61.4L394.7 61.4L394.5 61.2L394.3 61.3L393.8 61.2L393.7 61.2L393.2 61.1L392.9 61.0L392.6 60.8L392.5 60.5L392.1 60.5L392.0 60.1L391.5 60.3L391.2 60.0L391.1 60.1L390.8 60.2L390.5 60.0L390.2 60.3L389.8 60.6L390.0 60.7L389.5 60.9L389.4 61.3L389.5 61.2L389.3 61.7L389.5 62.1L389.6 62.2L389.6 62.6L389.6 62.7L390.0 63.0L390.3 63.2L390.4 63.3L390.8 63.6L391.1 63.9L391.0 64.1L391.4 64.5L391.2 64.7L391.3 65.1L391.5 65.2L391.5 65.6L391.4 65.9L391.3 66.0L391.1 66.5L390.8 66.6L390.3 66.7L390.1 66.8L389.8 67.0L389.6 66.7L389.2 66.5L389.0 66.5L388.7 66.4L388.4 66.2L388.2 66.0L387.9 65.9L387.7 65.7L387.4 65.7L387.1 65.6L386.8 65.5L386.5 65.6L386.1 65.6L386.0 65.7L385.8 65.9L385.4 66.3L385.6 66.2L385.4 66.8L385.3 67.1L385.3 67.3L385.4 67.6L385.5 68.0L385.7 68.3L385.9 68.4L386.0 68.5L386.5 68.7L386.8 68.7L386.8 69.0L387.2 69.0L387.3 69.5L387.4 69.7L387.7 70.1L387.6 70.4L387.4 70.7L387.7 70.9L387.3 71.1L387.0 71.5L386.8 71.4L386.5 71.4L386.0 71.5L385.9 71.5L385.5 71.5L385.5 71.0L385.1 71.0L384.8 70.7L384.7 70.6L384.5 70.1L384.5 70.0L384.2 69.8L383.7 69.8L383.5 69.3L383.4 69.3L383.2 69.2L382.8 69.2L382.5 69.1L382.2 69.3L381.9 69.3L381.9 69.6L381.6 70.0L381.5 70.1L381.7 70.7L381.6 71.0L381.7 71.1L381.9 71.1L382.0 71.7L382.3 71.7L382.5 72.2L382.6 72.4L382.7 72.7L382.9 72.8L383.2 73.1L383.2 73.3L383.5 73.6L383.6 73.7L383.7 74.2L383.6 74.4L383.5 74.9L383.3 74.8L383.1 75.1L382.9 75.2L382.7 75.5L382.6 75.5L382.0 75.5L381.8 75.6L381.5 75.3L381.0 75.3L380.9 75.1L380.6 75.0L380.5 74.7L380.2 74.5L379.9 74.4L379.9 74.5L379.2 74.3L379.0 74.2L378.8 74.1L378.5 74.2L378.2 74.1L378.2 74.3L377.9 74.5L377.5 74.8L377.5 75.1L377.4 75.2L377.2 75.5L377.4 75.9L377.4 76.1L377.6 76.3L377.9 76.6L378.0 76.9L378.2 77.1L378.6 77.2L378.9 77.2L378.9 77.6L379.4 77.7L379.6 78.1L379.6 78.2L379.8 78.4L379.9 78.7L379.8 79.1L379.8 79.2L379.7 79.7L379.4 79.5L379.4 80.0L379.0 80.0L378.6 80.2L378.5 80.1L378.1 80.1L378.0 79.9L377.6 79.8L377.1 79.7L377.0 79.6L376.8 79.3L376.4 79.2L376.4 78.9L376.1 78.8L376.0 78.5L375.5 78.6L375.2 78.6L374.9 78.7L374.5 78.7L374.3 78.8L374.4 79.1L374.3 79.5L374.1 79.8L374.0 79.9L374.2 80.3L374.1 80.6L374.4 81.0L374.8 81.0L374.8 81.2L375.1 81.6L375.5 81.5L375.8 81.6L376.0 81.7L376.2 81.7L376.3 82.3L376.6 82.3L376.7 82.5L376.9 82.9L376.9 83.2L376.8 83.6L376.7 83.9L376.5 83.8L376.2 84.0L375.8 84.0L375.6 84.3L375.3 84.5L374.9 84.2L374.6 83.9L374.6 83.8L374.4 83.7L374.1 83.5L373.7 83.2L373.6 83.2L373.4 82.9L373.1 82.8L372.6 82.6L372.5 82.7L372.2 82.4L372.0 82.7L371.8 82.7L371.5 82.9L371.4 83.2L371.2 83.6L371.3 83.8L371.3 84.2L371.3 84.3L371.7 84.5L372.0 84.8L372.1 85.1L372.4 85.3L372.4 85.4L372.9 85.3L373.0 85.6L373.4 85.8L373.8 85.8L374.0 85.9L374.1 86.1L374.3 86.4L374.5 86.5L374.7 86.8L374.7 87.3L374.8 87.5L374.6 87.6L374.6 88.2L374.2 88.3L374.1 88.5L373.9 88.5L373.6 88.8L373.1 88.6L372.9 88.6L372.4 88.5L372.4 88.3L372.0 88.1L371.9 88.0L371.6 87.7L371.5 87.5L371.1 87.1L371.1 87.2L370.7 87.0L370.4 86.7L370.4 86.5L369.9 86.4L369.7 86.5L369.5 86.5L369.1 86.9L368.9 86.9L368.6 87.1L368.5 87.4L368.3 87.6L368.3 87.9L368.3 88.3L368.6 88.6L368.4 88.9L368.7 89.1L368.8 89.5L369.0 89.8L369.1 89.9L369.3 90.1L369.8 90.2L369.8 90.5L370.2 90.6L370.1 91.0L370.2 91.3L370.5 91.5L370.6 91.7L370.6 92.1L370.8 92.3L370.6 92.7L370.5 92.9L370.3 93.1L370.2 93.2L369.7 93.6L369.6 93.9L369.3 93.7L368.9 93.8L368.7 93.9L368.5 93.8L368.1 93.7L367.9 93.5L367.5 93.5L367.3 93.4L366.9 93.4L366.8 93.1L366.6 92.9L366.4 92.8L365.8 92.7L365.7 92.7L365.5 92.5L364.9 92.8L365.0 92.7M439.6 15.8L439.4 15.9L439.1 16.1L438.9 16.2L438.7 16.5L438.7 16.6L438.7 17.3L438.7 17.4L438.8 17.7L439.2 17.8L439.5 18.1L439.8 17.9L440.2 18.0L440.3 17.9L440.7 17.5L440.8 17.3L441.1 17.1L441.3 17.1L441.9 17.1L442.0 16.9L442.2 16.9L442.4 17.0L442.7 17.2L443.0 17.3L443.1 17.6L443.0 18.1L443.1 18.2L443.1 18.4L442.7 18.7L442.5 19.0L442.3 19.1L442.1 19.2L441.6 19.2L441.4 19.5L441.1 19.6L441.1 19.7L440.6 19.9L440.5 20.2L440.8 20.5L440.5 20.7L440.6 21.0L440.8 21.3L440.9 21.4L441.2 21.4L441.3 21.7L441.7 21.8L442.0 21.7L442.3 21.6L442.7 21.3L442.8 21.1L443.1 21.0L443.3 21.0L443.7 21.0L443.9 20.7L444.2 20.4L444.3 20.4L444.7 20.4L445.0 20.5L445.5 20.9L445.5 21.2L445.8 21.5L445.6 21.9L445.7 21.9L445.6 22.2L445.3 22.7L445.1 22.6L444.6 23.1L444.4 23.1L444.2 23.2L443.8 23.3L443.7 23.3L443.3 23.4L442.9 23.5L442.7 23.4L442.5 23.5L442.2 23.8L442.0 23.9L441.8 24.1L442.0 24.5L442.0 24.7L441.9 24.9L442.1 25.3L442.2 25.5L442.6 25.6L442.8 25.7L442.9 25.8L443.5 25.9L443.6 25.9L443.9 25.7L444.2 26.0L444.6 25.5L444.9 25.8L445.2 25.7L445.6 25.7L445.6 25.8L446.1 25.8L446.4 26.2L446.3 26.3L446.6 26.7L446.8 26.8L446.7 27.3L446.7 27.6L446.3 27.8L446.1 28.2L446.0 28.2L445.7 28.5L445.4 28.4L445.0 28.5L444.7 28.5L444.4 28.7L444.1 28.9L443.9 28.6L443.8 28.8L443.3 28.6L443.1 28.8L442.6 28.9L442.4 29.1L442.4 29.5L442.3 29.8L442.0 30.2L442.3 30.3L442.4 30.4L442.5 30.5L442.7 30.9L442.9 30.8L443.3 30.7L443.7 31.0L444.1 31.1L444.2 30.9L444.6 30.8L444.7 30.7L445.1 30.7L445.6 30.7L445.8 30.8L445.8 31.0L446.3 31.1L446.0 31.5L446.1 32.0L446.1 32.2L445.9 32.3L445.4 32.5L445.2 32.6L444.8 32.7L444.5 32.8L444.4 32.6L444.1 32.4L443.8 32.4L443.5 31.9L443.5 32.3L442.9 32.0L442.6 31.9L442.4 32.2L442.2 32.4L442.1 32.5L441.9 32.8L442.0 33.3L442.1 33.5L442.3 33.7L442.6 33.7L442.8 33.7L443.0 33.9L443.6 33.9L443.7 33.9L444.2 33.7L444.4 33.7L444.5 33.7L445.0 33.6L445.2 33.6L445.5 34.0L445.7 33.9L445.8 34.0L446.2 34.4L446.2 34.6L446.3 34.8L446.0 35.2L446.1 35.5L445.6 35.6L445.6 35.8L445.3 35.9L444.7 35.8L444.4 35.7L444.3 35.9L444.1 35.4L443.8 35.4L443.2 35.5L443.2 35.1L443.1 35.1L442.8 35.1L442.4 35.1L441.8 35.4L442.0 35.4L441.6 35.5L441.3 35.7L441.3 35.8L441.4 36.2L441.5 36.7L441.4 36.9L441.9 37.2L442.1 37.1L442.7 37.2L442.7 37.3L443.0 37.5L443.3 37.4L443.8 37.7L443.8 37.6L444.2 37.9L444.3 38.1L444.7 38.0L444.9 38.3L445.2 38.6L445.0 38.7L445.2 39.2L445.0 39.3L444.9 39.7L444.5 40.0L444.2 39.9L444.0 40.1L443.8 40.2L443.5 40.1L443.0 40.0L442.7 40.0L442.2 39.8L442.1 39.9L441.9 40.1L441.5 39.9L441.5 40.0L441.3 40.1L441.0 40.4L440.9 40.5L440.8 40.8L440.7 41.3L440.7 41.6L441.0 41.7L441.4 42.0L441.4 42.0L441.9 42.3L442.1 42.3L442.3 42.4L442.6 42.5L443.0 42.6L443.2 42.8L443.4 42.8L443.7 42.9L443.8 43.2L444.0 43.6L443.9 43.6L443.9 44.0L443.9 44.5L443.6 44.7L443.6 44.9L443.2 45.0L442.9 45.3L442.9 45.5L442.3 45.3L442.1 45.4L441.7 45.4L441.7 45.3L441.3 45.4L441.0 45.5L440.8 45.3L440.4 45.3L440.2 45.3L439.9 45.5L439.6 45.5L439.5 46.0L439.5 46.1L439.1 46.4L439.3 46.8L439.5 47.0L439.6 47.5L439.9 47.7L440.1 47.7L440.6 47.9L440.7 48.1L440.8 48.2L441.3 48.2L441.5 48.3L441.8 48.6L442.0 48.7L442.1 48.9L442.4 49.4L442.4 49.5L442.5 49.8L442.4 50.1L442.2 50.4L442.3 50.6L441.9 50.5L441.7 50.6L441.4 50.9L440.9 50.7L440.8 50.8L440.5 50.8L440.2 50.5L440.0 50.5L439.6 50.6L439.2 50.6L439.0 50.3L438.7 50.7L438.6 50.7L438.4 51.3L438.3 51.6L438.4 51.6L438.4 52.1L438.6 52.1L438.8 52.5L438.8 52.7L439.4 52.8L439.4 52.8L439.9 53.0L440.2 53.2L440.4 53.5L440.7 53.5L440.8 53.8L440.9 53.8L441.1 54.4L441.2 54.6L441.1 55.0L441.0 55.1L440.6 55.3L440.4 55.3L440.0 55.3L439.7 55.5L439.3 55.3L438.9 55.3L438.8 55.2L438.3 55.1L438.3 55.0L437.9 54.9L437.6 54.8L437.3 54.9L437.3 55.1L436.9 55.4L436.7 55.6L436.7 55.8L436.7 56.4L436.8 56.4L437.0 56.7L437.1 56.9L437.6 57.0L437.7 57.1L437.9 57.3L438.3 57.4L438.5 57.5L438.8 57.6L439.0 57.6L439.4 57.9L439.5 58.1L439.6 58.4L439.5 58.8L439.7 59.0L439.5 59.3L439.3 59.3L439.2 59.7L438.6 59.7L438.4 59.7L438.2 59.5L437.7 59.6L437.4 59.6L437.1 59.4L437.2 59.4L436.6 59.2L436.6 59.2L436.2 59.2L435.7 59.3L435.4 59.4L435.2 59.5L435.1 59.8L435.0 60.0L435.1 60.2L434.9 60.7L435.1 60.9L435.0 61.1L435.5 61.4L435.9 61.9L435.8 61.8L436.4 61.8L436.6 62.1L436.7 62.1L437.0 62.1L437.3 62.0L437.5 62.2L438.0 62.3L438.3 62.5L438.4 62.6L438.5 62.8L438.6 63.2L438.8 63.5L438.8 63.9L438.6 64.1L438.5 64.1L438.1 64.7L438.1 64.7L437.6 64.5L437.4 64.7L437.1 64.6L436.7 64.8L436.3 64.7L436.2 64.7L435.8 64.5L435.6 64.4L435.3 64.1L435.1 64.1L434.6 64.2L434.4 64.2L434.0 64.3L434.1 64.5L433.8 64.7L433.7 65.0L433.5 65.2L433.7 65.3L433.9 65.8L434.2 66.1L434.3 66.3L434.6 66.4L435.0 66.2L435.3 66.3L435.6 66.3L435.8 66.3L436.0 66.4L436.3 66.2L436.6 66.3L437.1 66.5L437.4 66.5L437.4 67.0L437.5 67.2L437.7 67.3L437.8 67.7L437.7 67.8L437.4 68.1L437.1 68.3L436.8 68.5L436.6 68.6L436.3 68.6L436.0 68.5L435.7 68.3L435.5 68.2L435.2 68.3L434.9 68.0L434.5 67.8L434.4 67.7L433.9 67.7L433.8 67.7L433.5 67.9L433.5 67.9L433.2 68.1L432.9 68.5L432.9 68.8L433.4 69.2L433.2 69.3L433.6 69.4L433.8 69.6L434.2 69.7L434.4 69.8L434.7 69.7L434.9 69.7L435.3 69.9L435.6 69.6L436.0 70.1L436.2 70.1L436.3 70.3L436.5 70.8L436.5 71.2L436.5 71.1L436.0 71.6L435.8 71.4L435.7 71.6L435.0 71.8L434.9 71.6L434.7 71.7L434.4 71.5L434.1 71.3L433.9 71.3L433.4 71.0L433.3 71.1L433.0 71.2L432.6 71.3L432.4 71.6L432.4 71.8L432.3 72.1L432.4 72.4L432.4 72.7L432.7 72.9L432.9 73.2L433.2 73.4L433.5 73.3L433.7 73.4L434.0 73.4L434.4 73.3L434.6 73.6L434.9 73.3L435.2 73.4L435.5 73.7L435.8 73.8L436.1 74.1L436.1 74.2L436.2 74.5L436.2 74.8L436.3 75.1L436.2 75.3L435.7 75.5L435.5 75.6L435.3 75.7L435.0 75.9L434.7 75.9L434.3 75.8L434.1 75.7L433.9 75.6L433.6 75.5L433.2 75.3L432.9 75.4L432.7 75.2L432.4 75.2L432.1 75.2L432.0 75.5L431.6 75.8L431.5 75.9L431.3 76.1L431.4 76.3L431.4 76.6L431.4 77.1L431.6 77.2L432.1 77.4L432.1 77.6L432.4 77.8L432.7 78.0L433.2 78.1L433.2 78.1L433.5 78.2L433.7 78.2L433.9 78.5L434.3 78.5L434.4 78.6M409.7 51.4L409.8 51.6L410.2 51.8L410.4 52.2L410.4 52.2L410.4 52.9L409.6 52.9L409.8 53.1L409.7 53.3L409.3 53.5L409.2 53.6L408.6 53.6L408.5 53.9L408.2 53.9L408.2 54.3L408.1 54.6L408.1 54.8L408.1 55.3L408.5 55.3L408.7 55.6L409.0 55.2L409.4 55.5L409.8 55.5L409.8 55.4L410.0 55.1L410.6 55.2L410.9 55.1L411.2 55.0L411.6 55.2L411.6 55.5L411.4 55.5L411.9 56.0L411.9 56.3L411.5 56.6L411.1 56.9L411.1 57.0L410.8 56.8L410.5 57.0L410.2 57.2L409.9 57.5L410.1 57.7L409.5 58.0L409.5 58.0L409.9 58.3L409.9 58.7L410.0 58.9L410.3 58.9L410.8 58.9L411.2 58.7L411.2 58.8L412.0 59.0L412.0 58.7L412.4 58.9L412.4 59.1L413.0 59.1L412.8 59.4L412.7 59.6L412.7 60.0L412.6 60.2L412.5 60.5L412.1 60.4L411.9 60.8L411.4 60.9L411.3 61.1L411.1 61.3L411.0 61.7L410.9 61.9L411.0 62.1L411.4 62.5L411.5 62.7L412.0 62.6L412.3 62.5L412.6 62.6L412.7 62.6L413.1 62.8L413.2 62.5L413.8 62.5L414.0 62.9L414.2 62.6L414.1 63.2L414.4 63.6L414.1 63.7L413.8 64.0L413.5 64.2L413.2 64.2L412.8 64.4L412.8 64.3L412.5 64.6L412.1 64.7L412.1 65.2L411.8 65.0L411.7 65.5L411.7 65.4L411.9 65.9L412.1 66.0L412.4 66.3L412.9 66.3L412.9 66.2L413.4 65.9L413.5 65.8L413.8 66.0L413.9 65.8L414.4 65.6L414.5 65.5L415.0 65.7L415.3 65.6L415.3 66.0L415.6 66.3L415.8 66.7L415.4 66.9L415.5 66.9L414.9 67.4L414.7 67.2L414.5 67.6L414.3 67.7L414.1 67.7L413.5 67.9L413.4 68.0L413.1 67.8L413.1 68.2L412.8 68.5L413.1 68.8L413.4 69.2L413.6 69.5L413.8 69.1L414.1 69.3L414.3 69.2L414.4 69.1L415.0 68.9L415.1 68.8L415.3 68.6L415.5 69.0L415.9 68.8L415.9 69.0L416.4 69.5L416.4 69.6L416.3 70.1L415.8 70.1L415.5 69.9L415.3 69.9L415.3 70.7L414.8 70.2L414.2 70.3L414.2 70.3L414.0 70.9L414.1 70.8L413.8 71.3L413.8 71.6L414.4 71.6L414.3 71.8L414.8 71.6L415.2 71.8L415.2 71.5L415.4 71.4L416.0 71.3L416.4 71.6L416.5 71.2L416.4 71.4L417.2 71.7L416.7 71.9L417.2 72.3L417.1 72.4L416.9 72.8L416.6 73.0L416.6 73.1L416.0 73.4L415.8 73.3L415.8 73.4L415.1 73.9L415.0 73.6L414.9 73.7L414.6 74.2L414.6 74.3L414.5 74.5L414.6 75.1L414.9 75.2L415.1 75.4L415.4 75.6L415.5 75.5L416.0 75.6L416.2 75.8L416.1 75.5L416.8 75.8L416.9 75.7L417.3 75.8L417.8 75.6L418.1 76.2L418.0 76.0L418.2 76.2L418.3 76.7L418.4 77.0L418.0 77.3L417.8 77.4L417.2 77.9L417.3 78.0L416.9 78.2L416.8 78.0L416.3 77.9L415.9 78.3L415.6 78.1L415.7 78.6L415.5 78.6L415.5 79.2L415.5 79.4L415.7 79.5L415.4 79.9L415.9 79.9L416.2 80.2L416.8 80.1L417.0 79.8L417.3 80.2L417.7 79.8L417.8 80.2L418.2 80.3L418.4 80.5L418.2 80.8L418.5 81.1L418.5 81.2L418.5 81.6L418.5 81.9L418.1 82.2L418.0 82.3L417.5 82.5L417.2 82.3L416.9 82.7L416.5 82.8L416.3 82.8L416.4 83.0L416.0 83.5L415.9 83.7L416.3 83.9L416.4 84.0L416.5 84.4L416.9 84.4L417.4 84.4L417.6 84.7L417.6 84.7L418.1 84.7L418.4 84.7L418.6 84.6L419.0 85.2L419.1 85.1L419.2 85.1L419.2 85.6L419.5 85.8L419.4 86.2L419.2 86.1L419.1 86.5L418.5 86.7L418.2 86.6L417.9 86.9L417.5 86.9L417.3 87.2L416.9 87.1L417.0 87.3L416.6 87.3L416.5 87.7L416.3 88.0L416.7 88.3L416.7 88.3L416.9 88.8L417.1 88.9L417.3 88.8L418.0 88.8L417.9 89.1L418.4 89.1L418.7 89.1L419.2 88.8L419.3 89.1L419.6 89.1L419.7 89.5L420.0 89.7L420.0 89.9L419.9 90.0L419.8 90.4L419.7 90.7L419.3 90.9L419.0 91.0L418.7 91.1L418.4 91.2L418.1 90.9L418.1 91.0L417.6 91.1L417.4 91.3L417.1 91.3L417.1 91.7L416.8 92.1L417.0 92.1L417.6 92.4M418.5 90.9L419.1 90.3L419.0 90.4L419.9 90.1L419.8 89.6L420.1 89.3L420.3 88.5L421.4 87.6L421.2 87.5L421.3 88.3L421.2 87.9L421.2 86.2L421.8 86.0L422.0 85.4L422.4 84.6L422.5 84.3L422.8 83.9L423.0 84.5L424.1 83.7L423.1 84.5L422.9 84.1L422.8 83.5M408.4 91.4L408.3 90.7L408.8 90.6L408.9 90.3L410.4 90.1L411.1 91.0L411.0 92.0L411.0 91.5L410.8 91.8L411.4 92.1L411.3 92.4L410.8 91.7L410.2 92.3L410.4 91.7L409.1 90.1L408.5 90.0L409.2 91.1L409.6 91.9L410.0 90.5L409.7 91.4L409.5 92.1L409.0 92.0L409.3 92.2L408.8 93.0L408.4 93.6L408.7 92.0L407.2 92.7L408.5 92.5L408.2 91.7L407.7 91.9L407.9 91.4L406.8 90.9L407.9 89.4L408.3 90.0L408.1 91.7L407.1 91.0L406.4 91.5L407.4 91.4L406.6 91.9L408.0 90.5" fill="none" stroke="#35185f" stroke-width="1.15" stroke-linejoin="round" stroke-linecap="round" clip-path="url(#cb2)"/>
<rect x="365" y="13.6" width="81.9" height="81.9" fill="none" stroke="#222" stroke-width="0.85"/>
<rect x="425.2" y="90.6" width="18.6" height="1.7" fill="#111"/>
<text x="499.75" y="8.8" text-anchor="middle"><tspan font-style="italic">tdc-1</tspan></text>
<path d="M464.8 40.5L462.7 40.4L463.6 39.3L464.0 40.4L464.3 41.4L464.8 39.7L463.6 40.8L466.2 39.6L467.5 40.6L468.6 42.6L467.9 42.4L468.4 40.8L468.1 41.6L469.8 41.8L469.6 42.2L470.2 43.3L470.3 43.8L470.3 44.7L470.5 43.8L470.3 43.7L471.1 44.6L470.5 44.6L472.0 45.7L471.4 46.5L471.2 46.3L473.2 47.0L472.8 46.0L473.4 46.1L473.3 45.8L472.0 46.3L472.7 44.7L472.3 45.8L472.7 46.8L474.3 48.5L474.9 47.1L476.3 46.7L475.5 47.4M477.9 49.5L477.6 48.3L478.6 48.0L479.0 47.9L479.9 48.1L480.0 49.1L479.5 49.0L479.2 49.1L479.6 49.4L479.4 50.3L479.4 49.1L480.6 47.4L482.2 46.1L480.3 45.8L480.9 45.3L481.3 46.8L480.2 47.0L480.4 47.7L479.4 46.1L478.6 45.6L478.6 46.0L477.7 45.4L477.1 46.1L477.6 46.9L478.6 48.3L478.0 49.7L476.7 50.2L476.7 48.3L478.4 50.6L479.5 48.9L476.7 49.7L477.1 49.0L476.4 47.2L476.6 45.2L475.1 45.4L476.8 46.6L477.9 48.3L478.7 47.9L478.8 48.2L478.1 48.3L477.9 47.0L476.3 47.3L477.1 48.5L478.4 49.0L478.5 48.5L477.1 45.5L476.8 46.6L476.9 48.9L478.5 49.9L478.3 51.6L479.7 50.0L479.9 51.2L478.8 53.0L478.4 53.2L478.0 53.0L478.2 54.2L477.8 54.2L478.5 53.3L478.8 51.3L477.2 50.6L475.5 49.5L475.5 48.7L475.0 47.7L475.8 47.7L473.3 48.7L475.4 49.5L476.8 48.7L478.6 49.4L478.4 50.7L478.6 49.7L478.5 50.2L478.1 50.5L477.4 48.5L478.6 49.1L479.0 47.4L478.7 48.9L478.0 47.8L480.3 48.0L480.5 48.1L481.5 48.5L480.3 48.2L480.0 50.2L479.8 50.0L480.7 51.1L479.8 51.2L480.4 50.7L481.0 51.0L479.3 51.7L479.2 51.0L476.7 51.2L474.6 51.2L476.5 49.9L476.3 49.4L477.4 49.3L476.9 50.5L475.2 50.0L473.2 49.4L474.1 47.9L474.2 49.6L472.8 49.6L473.1 51.4L473.5 50.5L475.1 49.9L474.5 50.2L473.4 51.4L475.0 50.6L474.1 50.2L476.1 51.7L476.1 51.5L476.3 52.2L476.6 51.2L478.0 52.9L477.1 54.8L477.6 54.2L477.8 54.6L476.9 53.8L479.4 52.7L476.4 51.1L478.4 48.7L477.8 48.5M474.2 49.5L475.0 48.3L475.6 48.2L475.9 49.2L475.2 48.3L475.0 48.7L476.0 48.7L475.8 50.7L477.1 50.4L476.0 50.8L478.9 50.7L479.6 49.8L479.9 50.2L480.1 51.3L479.9 51.2L480.5 52.8L481.8 51.0L481.7 51.2L482.0 52.2L484.3 51.2L482.7 51.1L483.5 49.7L482.8 50.6L484.0 50.6L485.3 51.5L485.2 50.9L486.0 50.3L485.9 49.7L485.1 49.6L486.3 48.8L485.5 49.1L487.5 50.9L488.2 50.4L488.1 50.4L488.4 51.9L489.8 51.9M477.7 47.6L478.0 47.6L481.0 47.9L478.2 46.8L480.8 48.4L481.8 47.5L482.4 47.0L482.4 47.2L484.0 47.3L482.2 47.8L485.2 46.5L484.2 47.3L485.1 48.4L484.2 48.0L484.5 45.4L484.3 45.8L485.5 46.5L485.4 45.2L487.1 43.8L487.6 44.7L487.5 44.4L488.2 44.6L488.4 43.4L488.2 43.7L488.2 43.0L489.2 42.7L488.8 42.5L489.8 40.9L489.6 41.8L490.4 40.4L489.5 39.6L489.8 38.8L489.3 37.3L487.8 37.8L487.6 37.1L487.1 37.2L487.6 36.3L487.3 36.4L488.0 34.5L487.2 36.5L488.8 34.5L488.6 35.1L486.9 34.9L488.5 34.2L487.0 35.7L488.4 35.3L488.1 36.1M489.0 43.0L489.6 43.8L490.0 42.6L489.5 43.2L488.9 41.1L488.2 40.5L487.6 41.1L487.4 40.5L486.4 40.4L486.4 40.5L486.7 41.8L485.5 41.2L486.2 41.5L485.2 41.5L485.9 42.8L485.5 43.0L485.9 42.6L486.7 42.3L486.5 42.6L485.2 42.8L485.7 43.6L485.3 43.7L486.3 44.3L485.8 44.5L485.7 43.9L486.5 42.3L486.6 43.6L486.5 42.8L486.6 43.0L486.0 43.3L485.4 43.2L485.3 43.0L485.7 43.8L485.4 43.7L485.3 45.5L486.0 43.9L485.7 44.3L485.6 43.1L485.7 42.8L485.8 42.3L485.6 43.0L486.5 42.7L486.4 42.2L487.0 42.0L486.0 41.7L485.9 41.0L486.0 41.0L487.2 41.0L486.7 40.8L485.8 41.1M508.4 41.5L509.4 41.4L509.9 41.4L509.5 41.0L510.2 41.1L509.3 41.5L510.2 42.6L508.9 40.6L510.1 40.7L508.8 40.2L508.8 40.2L508.8 40.2L508.0 39.9L509.4 39.5L509.4 39.1L508.7 39.5L509.6 37.1L508.1 37.2L509.6 37.1L508.5 35.9L509.3 36.2L508.9 35.3L509.4 35.3L509.8 34.4L510.7 34.8L511.2 33.3L509.8 33.4L511.0 33.1L511.0 32.6L510.1 31.6L510.2 32.4L511.0 32.8L509.9 32.4L511.0 31.8L511.3 32.2L511.2 31.1L512.8 30.3L514.0 30.2L512.4 28.9L512.4 29.7L515.1 28.1L513.2 28.3L515.1 28.1L513.9 27.7L515.1 27.7L515.5 26.8L515.7 27.3L515.7 27.0L514.9 27.7L516.1 27.5L516.5 28.2L517.2 27.7L517.2 26.7L517.7 26.1L517.7 26.2L519.0 25.8L520.5 25.6L520.7 25.1L520.7 25.9L520.1 25.4L519.2 26.7L519.0 27.1L517.8 27.4L520.4 27.6L519.8 27.7L519.4 28.1L521.6 26.8L520.9 27.3L523.1 27.3L523.2 28.0L525.2 27.5L524.1 27.3L525.0 27.1L525.0 27.3L524.7 27.5L525.7 27.8L524.4 27.7L526.0 27.3L524.4 26.2L526.1 26.0L525.7 28.4L525.4 28.6L525.5 29.0L524.6 28.2L525.5 28.8L525.5 28.4L527.0 27.3L526.8 28.0L528.7 27.8L528.3 26.2L529.8 26.1L529.0 27.9L529.4 28.1L529.8 27.8L528.9 29.8L528.4 29.3L527.7 30.7L527.1 30.6L529.0 32.2L527.6 33.8L528.4 33.1M511.5 36.8L510.0 36.3L509.1 36.2L508.7 37.5L509.4 35.4L509.7 35.5L510.9 36.0L510.8 36.4L511.9 37.4L510.8 35.7L511.5 35.4L511.4 35.4L512.1 35.5L510.9 36.1L511.5 35.3L511.4 35.1L511.2 34.8L512.0 33.9L512.6 33.4L512.5 32.8L513.5 31.9L513.9 33.6L513.7 31.9L514.8 31.6L514.8 30.3L515.0 31.4L513.9 31.2L513.6 31.8L514.1 30.3L515.4 30.5L514.9 30.5L514.5 29.4L515.6 29.5L515.7 28.3L515.5 29.0L516.4 29.6L516.5 29.8L515.2 30.4L515.6 28.5L517.1 28.7L518.1 29.7L517.6 28.0L518.8 27.7L519.1 28.8L519.5 28.9L520.1 28.3L520.6 28.0L521.1 29.2L520.1 31.0L520.9 30.5L520.3 29.2L521.1 31.1L520.9 32.3L520.5 32.4L520.5 33.2L521.0 33.8L518.4 32.3L520.0 34.5L520.3 34.0L519.5 34.1L518.7 34.8L519.3 34.6L518.3 34.3L517.6 35.4L517.8 35.6L518.3 35.2L519.3 35.2L517.1 36.8L516.5 34.8L516.0 35.4L515.2 35.9L515.1 36.3L514.9 36.2L513.2 37.5L513.6 36.6M517.9 29.2L516.5 27.3L517.8 27.9L517.3 28.7L519.4 27.0L519.6 26.3L519.8 26.3L518.5 26.8L519.7 27.7L518.8 28.6L520.0 29.6L520.0 29.8L520.4 29.1L518.9 28.1L519.0 26.1L519.6 27.4L520.5 28.8L520.4 29.7L520.2 31.2L518.1 31.3L517.0 30.4L516.8 29.5L516.3 30.0L517.2 32.0L516.5 31.0L516.3 30.4L517.4 29.5L517.1 31.0L515.7 30.9L517.8 32.5L518.2 31.8L518.0 31.5L518.7 31.5L520.9 32.3L519.4 32.1L519.1 31.0L517.5 30.9L516.9 30.2L519.1 30.9L521.8 30.5L521.9 30.9L522.0 32.6L520.2 33.1L520.0 31.5L520.8 34.4L519.0 33.0L520.2 33.0L520.1 31.6L518.2 32.3L516.8 32.0L516.8 31.9L515.6 31.4L515.8 30.2L516.8 28.4L517.4 28.8L518.1 27.1L518.3 26.9L518.8 27.0L519.5 28.5L519.3 28.4L519.1 28.1L518.4 28.7L518.6 27.7L520.4 28.6L518.6 30.1L518.8 30.5L518.4 31.3L519.8 31.3L520.0 29.9L517.9 29.9L517.7 30.3L517.8 32.2L518.6 32.6L517.6 34.2L517.0 32.8L516.9 33.2L518.0 33.3L516.7 32.0L516.7 32.2L515.3 33.9L515.4 30.2L514.7 29.5L515.7 29.1L516.1 29.9L516.5 30.3L517.7 29.8L516.7 29.7L517.3 30.2L519.4 30.5L519.8 31.1M527.8 29.6L527.9 29.3L528.4 28.3L528.3 28.2L528.5 27.6L528.7 26.8L528.6 25.8L527.9 27.0L529.3 26.8L529.4 26.8L528.3 25.9L528.1 26.3L528.0 25.7L528.5 25.8L529.1 26.6L529.5 25.9L529.7 26.6L530.0 27.2L529.8 26.6L529.0 26.6L526.8 26.6L526.4 27.1L526.0 25.9L527.1 26.5L526.4 26.1L525.5 26.2L526.1 26.0L526.5 26.6L526.1 26.6L525.4 26.9L524.8 27.4L524.3 27.3L524.8 26.8L526.6 27.2L526.3 27.8L527.1 28.4L527.2 28.1L527.1 28.0L526.8 28.2L526.7 26.6M498.8 66.8L498.5 65.6L498.1 68.3L498.7 69.0L498.2 68.0L497.1 67.7L498.9 68.6L498.4 67.3L497.8 68.4L498.1 66.7L496.5 67.8L496.4 67.8L495.4 68.5L495.4 68.3L496.1 68.5L495.8 68.4L495.6 69.5L495.8 69.3L495.5 70.8L494.0 72.4L494.9 74.0L494.7 73.0L497.3 73.1L493.0 74.2L494.4 75.1L494.9 76.7L494.4 74.9L493.4 76.4L494.0 75.5L494.0 75.7L493.0 76.0L493.2 75.3L493.6 77.6L493.2 78.7L492.8 77.2L492.3 78.8L492.1 78.7L492.7 78.9L492.9 79.4L491.3 78.7L491.5 78.8L492.1 78.7L492.7 80.0L492.4 80.6L491.8 80.7L493.0 80.0L492.7 79.7L493.2 81.5L493.0 82.1L494.3 81.4L494.5 82.3L493.6 82.9L493.6 82.7L494.6 82.9L494.9 83.6L494.5 84.8L494.8 85.9L494.2 84.5L495.7 85.5L494.7 86.2L493.6 86.1L494.7 86.1L494.9 85.8L494.3 86.2L495.6 87.7L496.4 87.4L495.0 87.4L494.4 86.7L494.6 87.0L494.5 87.9L495.1 87.0L494.1 87.7L495.2 88.5L495.5 87.0L496.8 88.1L496.4 89.2L496.8 90.0L497.1 89.2L496.9 91.0L497.2 90.1M498.8 66.6L498.3 67.6L499.8 67.6L499.6 69.7L498.2 71.7L499.7 70.9L499.8 70.7L500.3 71.0L500.2 70.7L498.8 70.9L499.6 70.9L499.5 71.2L500.1 70.3L500.3 71.0L499.8 71.5L500.4 70.2L499.5 71.5L501.3 72.0L501.4 72.4L501.8 71.3L500.7 72.4L501.3 72.5L501.8 72.4L502.2 73.1L502.2 72.9L501.1 73.1L502.0 73.6L501.4 73.9L501.2 74.1L501.1 74.6L501.4 73.9L501.2 75.9L499.4 74.6L500.6 75.3L498.9 76.2L499.4 77.7L500.0 77.3L499.8 78.3L499.6 77.8L498.6 79.0L498.2 79.8L498.2 79.6L497.7 79.6L498.8 80.7L496.8 82.4M500.5 77.4L500.4 77.0L501.7 77.2L501.4 76.0L501.6 75.9L501.3 76.5L502.5 75.9L502.9 75.6L504.9 74.7L504.0 75.3L503.5 75.1L505.0 74.8L504.1 74.3L505.0 74.1L507.6 73.7L508.2 74.2L507.5 74.9L507.0 74.5L508.1 73.9L509.3 74.2L507.4 74.1L508.7 75.3L509.2 74.4L510.6 74.8L510.4 74.4L510.3 74.7M496.3 72.3L497.2 71.7L498.5 72.5L498.9 72.7L499.8 73.2L500.1 72.0L500.0 73.7L500.2 72.9L499.6 74.1L501.3 73.6L501.8 72.4L501.4 73.6L499.7 73.9L498.8 73.7L498.8 73.4L498.1 73.9L498.4 73.6L496.3 72.4L494.9 71.0L494.4 71.7L494.1 72.4L494.2 72.6L496.0 72.4L495.6 71.4L496.0 72.1L497.8 71.7L496.2 72.1L496.6 72.1L496.0 72.7L495.5 73.6L495.6 73.8L496.4 72.9L496.6 72.4L496.3 73.3L497.3 73.4L497.6 74.0L497.2 75.3L496.5 74.8L495.7 74.0L496.1 75.3L496.1 74.8L495.3 74.2L497.6 75.2L495.4 72.9L494.7 72.9L495.7 73.9L495.3 73.7L496.1 72.5L498.4 73.7L496.4 74.5L496.3 74.4L495.5 73.8L495.9 72.6L495.4 73.2L494.1 73.2L494.7 72.2L495.1 72.3L494.8 71.9L495.6 71.1L496.1 71.1L496.5 70.9L496.6 71.9L496.4 72.9L495.3 72.7L496.7 72.9L495.8 73.6L495.4 75.0L495.7 75.0L495.6 73.4L496.1 74.0M465.0 86.2L463.2 87.5L466.8 87.7L466.2 85.7L466.4 85.0L467.1 83.8L468.3 85.7L466.5 86.4L467.9 87.1L468.1 87.0L468.2 87.1L467.3 86.6L467.9 88.3L467.8 87.0L468.1 88.6L466.9 87.9L466.5 88.7L465.9 88.4L467.1 88.1L467.1 88.2L466.8 89.5L466.8 88.8L467.1 87.7L468.4 85.7L467.7 87.2L466.9 86.7L468.3 86.3L468.7 86.1L468.3 88.4L467.8 89.1L467.3 90.7L467.1 90.7L468.8 91.6L469.1 91.2L468.1 91.7L469.3 88.6L467.4 88.6L466.8 89.4L468.5 89.4L466.7 88.6L467.8 86.7L469.3 86.4L469.7 87.0L468.9 86.5L467.8 87.1L468.4 87.8L467.1 85.4L466.2 84.2L467.7 87.1L467.7 85.3L466.2 85.6L467.0 86.1L470.1 86.6L468.7 87.7L468.4 86.3L471.2 85.9L470.3 85.9L470.1 84.7L471.3 85.1L468.5 83.4L467.3 83.1L467.7 83.9L467.4 82.1L466.5 83.7L466.5 84.0L466.6 84.9L466.8 84.6L467.1 85.8L467.7 85.4L466.9 87.1L464.6 87.4L463.9 87.2L465.4 86.1L463.6 86.7L463.6 87.2L464.2 87.9L465.0 85.8L465.3 86.0L465.5 86.2L464.8 85.6L464.6 85.2L463.9 83.8L463.5 86.8L463.2 90.1L465.9 89.4L464.3 89.9L465.4 89.0L465.6 87.6L465.7 89.7L465.4 87.5L466.6 87.8L467.8 87.9L466.6 87.3L465.5 87.4L466.7 87.4L466.5 86.0L467.2 86.0L467.2 86.2L466.5 86.7L464.9 87.3M459.9 85.9L459.2 85.3L459.8 85.4L460.4 86.3L460.5 86.1L460.5 86.1L459.5 85.2L461.4 86.5L461.4 87.1L461.4 86.5L461.4 86.3L462.2 86.4L461.9 87.6L460.7 86.4L461.9 85.9L462.7 85.1L463.0 85.4L463.5 85.1L464.7 86.4L465.4 85.7L465.2 84.5L464.9 85.2L465.4 86.2L464.8 85.1L465.4 86.1L465.8 83.9L467.4 85.5L466.7 84.0L467.9 85.0L468.3 84.8L469.4 85.5L469.2 85.3L469.5 84.8L470.0 85.4L470.6 85.7L470.8 85.3L470.8 85.4L470.0 87.0L471.3 85.5L470.9 85.7L471.3 84.7L472.2 86.0L472.1 86.2L471.5 87.6L472.4 87.1L473.2 87.6L472.4 86.9L472.8 88.0L473.2 88.2L474.4 87.6L474.7 89.6L475.0 89.1L474.7 88.4L475.2 90.0L476.1 90.4L475.6 90.5L476.8 92.6L476.3 91.3L477.3 91.0L479.7 91.0L479.3 91.3L480.0 91.8M472.3 89.5L472.8 88.1L473.0 89.5L472.9 90.5L473.4 90.8L474.1 90.2L474.5 91.5L474.4 90.8L474.6 91.2L475.4 91.1L476.3 91.5L476.1 92.0L476.4 92.7L475.5 94.2L476.6 94.3" fill="none" stroke="#35185f" stroke-width="0.95" stroke-linejoin="round" stroke-linecap="round" clip-path="url(#cb3)"/>
<rect x="458.8" y="13.6" width="81.9" height="81.9" fill="none" stroke="#222" stroke-width="0.85"/>
<rect x="519" y="90.6" width="18.6" height="1.7" fill="#111"/>
<text x="592.75" y="8.8" text-anchor="middle"><tspan font-style="italic">tbh-1</tspan></text>
<path d="M568.3 22.4L568.3 22.2L568.3 22.9L568.8 22.5L569.6 22.0L569.9 21.9L570.6 21.5L571.1 22.2L571.6 22.8L571.5 23.5L571.8 23.8L572.4 23.8L572.5 23.8L572.9 23.1L573.5 23.1L574.0 23.1L574.8 23.1L575.1 23.6L575.3 24.0L575.9 24.5L576.3 25.1L576.5 25.4L576.7 25.0L577.6 24.8L577.9 23.9L578.7 24.0L578.9 24.1L579.4 24.4L580.0 25.1L580.7 25.3L580.4 26.1L581.0 26.4L581.3 26.2L581.6 25.7L582.2 24.9L582.5 24.6L582.7 24.5L583.5 25.0L583.9 25.4L584.3 26.1L584.8 26.7L585.1 26.8L585.1 26.3L585.9 25.7L586.0 25.2L586.6 24.9L587.5 25.1L587.7 25.3L588.0 26.4L588.7 26.6L588.7 27.1L589.1 27.4L589.6 26.7L589.5 26.1L590.3 25.7L590.7 24.9L590.9 24.9L591.6 25.5L592.1 25.8L592.7 26.3L592.9 27.0L593.3 26.9L593.5 26.4L593.9 25.8L594.2 24.9L594.7 24.5L595.0 24.6L595.8 25.7L596.6 26.5L596.8 26.7L596.7 26.0L597.1 25.3L597.4 24.7L597.8 24.1L598.3 23.8L598.6 24.1L599.1 24.9L600.1 25.4L600.3 25.2L600.3 25.0L600.6 24.8L600.5 23.6L601.1 23.2L601.5 22.9L602.5 23.2L602.4 23.3L603.3 23.5L603.6 24.2L604.3 23.9L604.4 23.6L604.2 23.1L604.4 22.5L605.0 21.7L605.5 21.6L605.9 21.7L606.5 22.3L606.9 22.7L607.1 23.4L608.0 23.4L607.7 22.5L608.2 22.1L608.6 21.2L609.2 20.9L609.7 21.2L610.0 22.1L610.6 22.6L610.6 23.2L610.9 23.0L611.3 22.0L611.6 21.7L612.2 21.0L613.0 21.4L613.4 21.2L613.8 22.3L613.9 22.7L614.2 23.1L614.5 22.8L615.0 22.4L615.4 21.4L615.7 21.1L616.5 21.4L616.8 21.2L617.3 21.8L618.0 21.9L618.3 22.6L618.3 22.8L619.0 22.6L618.7 21.9L619.5 21.3L620.0 21.0L620.4 20.6L620.7 20.6L621.4 21.5L622.0 21.5L622.5 22.1L622.8 22.1L623.3 21.7L623.4 21.4L623.7 20.4L624.2 20.2L625.1 20.3L625.7 19.9L626.1 20.8L626.4 21.0L627.3 21.2L627.1 21.6L627.6 20.9L627.8 20.1L628.3 19.4L628.5 18.7L629.1 19.0L629.6 19.2L630.4 20.1L630.7 19.9L631.3 20.6L631.5 20.0L631.5 19.7L631.7 19.1M553.6 16.0L553.4 16.2L553.2 16.2L553.1 16.5L552.7 16.7L552.3 16.6L552.2 16.9L551.7 16.8L551.6 16.9L551.4 16.9L551.0 17.1L550.8 17.2L550.4 17.1L550.2 17.3L550.2 17.5L549.8 17.7L549.8 18.0L549.7 18.3L549.5 18.7L549.7 18.9L549.7 19.2L549.8 19.4L550.2 19.6L550.3 20.0L550.4 20.1L550.9 20.3L551.2 20.3L551.4 20.4L551.6 20.6L552.1 20.6L552.4 20.6L552.7 20.5L553.0 20.5L553.3 20.5L553.5 20.6L553.8 20.7L554.1 20.9L554.4 21.1L554.4 21.3L554.7 21.5L554.9 21.8L554.9 22.0L554.8 22.4L554.6 22.8L554.5 23.2L554.3 23.2L554.0 23.4L553.9 23.4L553.5 23.7L553.3 23.8L552.9 23.8L552.7 23.8L552.4 24.0L552.1 24.2L551.9 24.2L551.7 24.4L551.4 24.6L551.3 24.8L551.3 25.2L551.3 25.4L551.4 25.8L551.5 26.1L551.7 26.2L551.9 26.4L552.3 26.7L552.6 26.9L552.7 26.6L552.9 26.7L553.5 26.8L553.8 27.0L554.1 26.9L554.3 26.9L554.6 27.0L554.7 27.2L555.0 27.4L555.2 27.6L555.4 27.9L555.5 28.1L555.5 28.5L555.4 28.8L555.3 28.9L555.0 29.2L554.9 29.4L554.5 29.7L554.3 29.8L554.1 30.0L553.8 30.1L553.4 30.1L553.2 29.9L552.9 30.2L552.7 30.3L552.4 30.3L552.0 30.5L552.0 30.5L551.8 30.8L551.5 30.9L551.2 31.3L551.2 31.7L551.2 32.0L551.3 32.2L551.2 32.6L551.5 33.0L551.6 33.1L552.0 33.5L552.1 33.7L552.3 33.7L552.8 33.7L553.1 33.8L553.5 33.8L553.8 33.6L554.2 33.7L554.4 33.7L554.7 33.6L554.9 33.7L555.2 33.7L555.6 33.9L555.9 33.9L556.3 34.0L556.3 34.2L556.5 34.4L556.8 34.6L556.8 35.0L557.0 35.1L557.0 35.6L556.7 35.8L556.8 36.0L556.8 36.4L556.5 36.5L556.4 36.7L556.1 37.0L555.8 37.1L555.6 37.3L555.4 37.5L555.2 37.7L554.8 37.8L554.7 38.1L554.4 38.2L554.2 38.5L554.0 38.6L554.1 39.1L554.0 39.2L553.8 39.5L554.0 39.7L554.1 40.2L554.3 40.6L554.4 40.8L554.6 40.8L554.8 41.3L555.1 41.4L555.6 41.5L555.9 41.4L556.0 41.4L556.5 41.2L556.8 41.2L557.2 41.4L557.2 41.2L557.6 41.3L558.0 41.1L558.3 41.0L558.5 41.1L558.9 41.1L559.1 41.1L559.5 41.2L559.8 41.5L559.9 41.7L560.0 41.9L560.3 42.0L560.3 42.4L560.1 42.5L560.2 43.0L560.1 43.3L559.9 43.8L559.5 43.9L559.6 43.9L559.4 44.4L559.1 44.2L558.8 44.4L558.3 44.6L558.2 44.8L558.1 45.0L557.8 45.1L557.4 45.3L557.3 45.7L557.2 45.7L557.0 46.0L557.0 46.3L557.0 46.6L557.1 46.8L557.2 47.1L557.3 47.3L557.7 47.6L557.9 47.7L558.3 47.9L558.6 47.9L559.0 47.8L559.1 47.9L559.4 47.9L559.8 47.6L560.1 47.5L560.3 47.6L560.6 47.5L560.9 47.4L561.2 47.4L561.6 47.4L561.7 47.5L562.2 47.6L562.5 47.8L562.5 47.8L562.8 48.2L562.9 48.4L563.0 48.6L562.9 49.0L563.1 49.3L563.1 49.6L562.9 49.9L562.8 50.1L562.7 50.3L562.3 50.6L562.2 50.8L562.1 51.0L561.9 51.3L561.5 51.4L561.4 51.8L561.2 52.0L561.2 52.3L560.9 52.4L560.8 52.7L560.9 53.1L561.0 53.4L561.1 53.6L561.2 54.0L561.5 54.1L561.5 54.3L561.8 54.6L562.1 54.6L562.5 54.7L562.7 54.8L563.1 54.7L563.4 54.6L563.6 54.5L563.9 54.5L564.2 54.3L564.5 54.3L564.7 54.1L565.0 54.4L565.4 54.2L565.7 54.3L566.0 54.3L566.3 54.4L566.4 54.7L566.6 54.8L566.7 55.1L566.7 55.5L566.7 55.8L566.5 56.0L566.3 56.3L566.2 56.7L566.1 56.7L565.8 56.9L565.5 57.3L565.3 57.4L565.1 57.6L564.8 57.7L564.6 57.9L564.5 58.0L564.2 58.1L564.0 58.4L564.0 58.9L563.8 59.2L564.1 59.4L564.0 59.5L564.1 59.8L564.4 60.2L564.7 60.4L564.9 60.4L565.2 60.4L565.5 60.3L565.8 60.4L566.1 60.4L566.4 60.2L566.6 60.2L566.9 59.9L567.0 59.9L567.5 59.9L567.8 59.6L568.1 59.6L568.3 59.7L568.7 59.6L569.0 59.7L569.2 60.0L569.5 60.3L569.5 60.3L569.5 60.6L569.6 61.0L569.5 61.3L569.4 61.7L569.3 61.9L569.1 61.9L568.7 62.2L568.6 62.3L568.4 62.6L568.2 62.8L567.8 63.0L567.5 63.1L567.2 63.2L567.2 63.4L567.0 63.8L566.9 63.8L566.7 64.2L566.9 64.5L566.9 64.8L567.2 65.0L567.3 65.3L567.6 65.7L567.9 65.6L568.0 65.7L568.5 65.7L568.9 65.7L569.2 65.5L569.4 65.5L569.5 65.1L569.8 65.1L570.0 65.1L570.5 64.9L570.7 64.9L571.0 64.8L571.2 64.8L571.4 64.6L571.9 64.8L572.0 65.0L572.3 65.2L572.4 65.4L572.6 65.8L572.5 66.0L572.5 66.2L572.3 66.5L572.1 66.8L572.0 67.2L571.9 67.3L571.8 67.4L571.4 67.7L571.0 68.0L571.1 68.0L570.7 68.3L570.6 68.5L570.4 68.9L570.4 69.0L570.3 69.5L570.5 69.7L570.7 70.0L570.9 70.3L571.2 70.4L571.4 70.7L571.6 70.7L572.1 70.7L572.3 70.6L572.6 70.6L572.9 70.3L573.2 70.1L573.4 69.9L573.8 69.9L574.0 69.6L574.3 69.6L574.5 69.5L574.9 69.5L574.9 69.2L575.3 69.3L575.7 69.3L576.0 69.5L576.0 69.6L576.3 69.7L576.4 70.0L576.6 70.3L576.9 70.5L576.7 70.9L576.8 71.3L576.8 71.4L576.5 71.8L576.6 71.9L576.6 72.2L576.4 72.4L576.2 72.8L576.2 73.1L576.2 73.4L576.2 73.7L576.2 73.9L576.3 74.3L576.5 74.5L576.6 74.8L576.8 75.2L577.0 75.1L577.4 75.3L577.7 75.5L578.1 75.4L578.4 75.4L578.8 75.1L579.1 75.1L579.2 74.7L579.5 74.6L579.7 74.3L580.0 74.1L580.2 74.0L580.3 73.9L580.6 73.7L580.8 73.4L581.1 73.3L581.3 73.2L581.5 73.0L581.9 73.1L582.1 73.0L582.4 73.1L582.5 73.1L582.7 73.3L583.1 73.6L583.2 73.8L583.4 74.1L583.4 74.3L583.5 74.5L583.6 75.0L583.7 75.1L583.6 75.5L583.7 75.7L584.0 76.1L584.1 76.3L584.0 76.7L584.1 76.9L584.5 77.1L584.6 77.2L585.0 77.3L585.3 77.5L585.6 77.4L586.1 77.4L586.1 77.4L586.3 77.2L586.7 76.9L586.9 76.8L587.2 76.7L587.2 76.4L587.4 76.0L587.7 75.7L587.8 75.5L587.8 75.3L587.8 75.0L587.9 74.7L588.2 74.5L588.4 74.2L588.8 74.2L589.0 73.8L589.1 73.7L589.4 73.7L589.6 73.7L589.9 73.8M578.3 40.5L577.4 40.0L576.7 39.4L576.3 39.4L577.1 39.8L577.3 39.6L576.9 40.3L576.2 39.9L577.7 38.2L577.3 38.1L578.7 37.0L577.1 37.7L578.9 36.4L578.9 37.4L579.1 37.0L579.0 37.6L579.0 37.2L579.5 38.5L580.8 39.4L582.6 40.6L582.4 40.9L580.5 41.0L578.8 41.0L578.9 42.6L579.1 43.1L579.3 41.8L580.6 42.0L581.1 42.2L580.2 42.8L581.3 43.9L581.4 42.3L580.8 42.8L580.5 43.4L578.7 43.0L580.4 43.8L581.1 42.6L580.4 42.1L580.2 42.1L581.1 42.7L581.3 43.6L581.1 42.2L580.3 40.8L579.2 39.8L578.8 39.4L579.4 39.4L579.7 39.9L580.6 37.6L580.8 37.8L579.4 39.0L580.0 39.6L579.2 39.3L578.8 40.3L580.0 41.6L579.3 41.5L578.3 41.3L578.1 40.8L578.0 40.9L577.2 40.1L577.7 38.8L576.5 38.8L576.3 39.9L575.8 40.5L576.1 40.4L576.7 41.4L577.6 41.7L578.1 40.5L578.2 39.6L579.2 39.6L579.2 38.6L578.0 40.0L576.7 41.5L576.8 40.7L576.1 39.6L575.3 38.8L574.5 39.8L573.7 38.9L574.4 37.7L574.2 37.8L575.6 38.6L575.1 38.7M574.9 41.5L575.1 41.7L574.6 42.8L575.0 42.5L574.4 42.6L574.9 42.3L574.7 42.8L575.3 42.7L575.9 43.4L574.5 43.7L574.1 43.7L575.2 43.5L576.7 43.3L577.2 42.2L576.1 41.8L575.8 41.4L576.4 41.6L576.4 41.5L576.0 41.0L575.2 41.6L574.3 41.1L573.8 41.5L573.6 41.3L573.9 41.3L574.1 41.1L575.3 43.0L575.0 42.5L574.8 42.0L574.7 41.6L574.5 41.8M578.7 39.4L578.4 39.3L578.5 39.5L579.4 38.8L579.6 38.8L580.6 38.3L581.2 38.7L581.7 38.9L581.8 39.6L582.6 40.3L582.0 40.2L582.5 39.8L583.2 39.4L583.5 39.1L584.3 38.9L585.1 39.3L585.8 39.9L586.0 40.5L586.0 40.8L586.5 41.0L586.6 40.8L587.1 40.7L587.6 39.7L588.8 39.6L589.2 40.3L589.8 40.3L590.1 40.9L590.2 41.2L590.4 41.7L590.5 41.0L590.9 41.0L591.3 40.5L592.3 40.3L592.6 40.7L592.8 41.0L593.7 41.3L593.9 41.8L594.0 41.9L593.8 41.3L594.4 40.5L594.9 40.7L596.0 40.5L596.5 40.3L596.5 41.7L596.9 41.8L597.4 41.8L597.3 41.8L597.8 40.9L598.3 40.3L599.2 40.3L599.7 40.7L600.2 41.3L600.2 42.1L599.9 42.0L600.7 41.3L601.0 41.6L601.6 40.8L602.3 40.6L602.8 41.1L603.1 42.0L602.9 42.7L603.4 42.3L603.7 42.0L604.3 41.4L605.2 41.3L605.4 42.0L606.1 42.5L606.0 43.2L606.2 43.7L606.3 43.6L606.5 43.1L607.1 42.2L607.7 42.8L608.7 42.7L608.9 43.5L609.1 44.6L609.1 45.1L608.7 44.7L609.7 44.6L610.2 44.0L611.1 44.1L611.8 44.6L611.8 45.6L611.8 46.5L611.4 46.0L612.0 46.2L612.6 46.1L613.4 45.6L614.0 46.0L614.4 45.9L614.2 46.8L614.2 47.9L614.3 47.7L614.6 47.7L615.4 47.7L615.9 47.4L616.7 47.8L616.9 48.0L617.1 49.1L617.2 49.6L617.1 49.5L617.5 49.6L618.1 49.8L619.4 49.8L619.4 50.6L620.1 50.6L619.8 51.5L619.7 52.2L620.2 52.3L620.2 51.9L621.6 51.6L621.8 52.0L622.5 52.2L623.0 52.8L622.9 53.6L622.4 54.5L622.7 54.8L622.3 54.7L622.9 54.7L623.8 54.5L624.9 54.6L625.0 55.1L625.6 55.6L625.0 56.5M585.8 41.4L585.4 41.5L585.6 42.0L586.3 41.8L587.3 42.1L587.6 42.7L587.4 43.2L586.5 43.7L586.3 44.4L585.8 44.9L585.9 45.0L586.9 45.6L587.2 45.5L587.9 46.6L587.8 47.1L587.7 47.2L586.7 48.1L586.5 48.3L586.5 48.9L587.0 49.0L586.7 49.5L587.5 49.4L587.6 50.7L588.0 50.9L588.3 51.7L587.5 52.0L587.4 52.7L586.7 53.1L586.9 52.9L587.4 53.3L588.2 53.6M559.3 81.7L559.5 81.6L559.8 81.5L560.1 81.4L560.5 81.5L560.8 81.6L561.1 81.6L561.3 81.8L561.5 82.2L561.6 82.3L561.7 82.7L561.7 83.0L561.6 83.3L561.6 83.5L561.6 83.7L561.3 84.0L561.2 84.4L561.0 84.7L560.9 84.8L560.9 85.2L560.7 85.4L560.8 85.9L560.8 86.1L560.9 86.3L560.9 86.6L561.0 87.0L561.2 87.0L561.4 87.4L561.9 87.4L562.2 87.4L562.5 87.4L563.0 87.3L563.1 87.2L563.2 87.0L563.6 86.9L564.0 86.7L564.2 86.4L564.3 86.2L564.6 86.1L564.8 85.8L565.2 86.0L565.4 85.9L565.5 85.8L565.9 85.9L566.2 85.9L566.4 86.1L566.6 86.3L566.7 86.6L567.0 86.8L566.9 87.1L566.9 87.6L567.1 87.8L566.9 88.1L566.9 88.4L566.9 88.6L566.9 88.9L567.0 89.3L566.8 89.5L567.0 89.8L567.2 90.0L567.3 90.3L567.6 90.4L567.9 90.8L568.2 90.8L568.6 90.6L568.9 90.6L569.2 90.5L569.5 90.4L569.7 90.3L569.9 89.9L570.0 89.8L570.2 89.7L570.4 89.5L570.6 89.1L570.9 89.0L571.1 88.8L571.3 88.8L571.9 88.7L571.9 88.5L572.3 88.6L572.4 88.6L572.8 88.8L573.1 89.2L573.3 89.2L573.2 89.3L573.6 89.8L573.7 90.0L573.6 90.2L573.9 90.6L573.9 90.9L574.1 91.1L574.0 91.4L574.2 91.8L574.3 92.0L574.3 92.2L574.5 92.5L574.6 92.7L574.8 93.0L574.8 93.1L575.2 93.4L575.7 93.5L575.8 93.4L576.3 93.5L576.6 93.4L577.0 93.2L577.1 92.9L577.5 92.9L577.6 92.7L577.9 92.3L577.9 92.0L578.0 91.8L578.1 91.5L578.3 91.3L578.5 91.0L578.5 90.6L578.7 90.4L578.9 90.3L579.2 90.0L579.3 89.8L579.6 89.7L579.7 89.5L580.1 89.3L580.5 89.4L580.7 89.5L580.8 89.7L581.3 89.8L581.5 90.0L581.6 90.3L581.6 90.4L581.7 90.9L582.0 91.1L582.2 91.4L582.3 91.6L582.2 91.8L582.4 92.2L582.4 92.5L582.8 92.8L582.9 93.0L583.3 93.2L583.5 93.3L583.8 93.3L584.2 93.3L584.3 93.2L584.7 93.2L585.1 92.9L585.0 92.7L585.3 92.4L585.6 92.2L585.5 91.9L585.5 91.5L585.6 91.3L585.6 90.9L585.9 90.7L585.7 90.3L586.0 90.2L586.0 89.8L586.2 89.6L586.3 89.3L586.6 89.3L586.8 88.9L587.0 88.9L587.3 88.9L587.6 88.9L587.8 88.9L588.2 88.8L588.4 89.1L588.5 89.4L588.9 89.8L589.2 89.9L589.0 90.1L589.2 90.3L589.4 90.6L589.7 91.0L589.8 91.1L589.8 91.4L590.1 91.6L590.4 91.7L590.6 92.0L590.8 92.0L591.2 92.1L591.7 92.2L592.0 91.9L592.2 91.9L592.6 91.6L592.8 91.3L593.1 90.9L593.2 90.8L593.1 90.4L593.0 90.2L593.2 89.9L593.2 89.4L593.0 89.0L593.1 89.0L593.0 88.6L592.9 88.3L592.8 88.0L592.8 87.7L593.0 87.4L593.1 87.1L593.1 86.8L593.4 86.7L593.4 86.5L593.7 86.3L594.1 86.2L594.3 86.1L594.5 86.3L594.9 86.2L595.1 86.4L595.3 86.5L595.6 86.7L595.8 87.0L596.0 87.2L596.2 87.2L596.5 87.4L596.7 87.6L596.8 87.9L597.1 88.1L597.4 88.2L597.7 88.4L597.9 88.4L598.3 88.3L598.7 88.1L598.8 88.1L599.0 87.7L599.4 87.7L599.4 87.2L599.5 86.9L599.7 86.6L599.5 86.2L599.3 86.2L599.3 85.9L599.1 85.4L598.8 85.2L598.7 85.1L598.4 84.5L598.4 84.5L598.1 84.2L598.2 84.0L598.0 83.8L597.9 83.5L597.7 83.2L597.9 82.9L598.0 82.5L598.2 82.4L598.5 82.1L598.6 82.0L598.9 81.9L599.1 82.0L599.5 81.8L599.7 81.9L600.2 82.0L600.3 82.0L600.7 82.3L600.8 82.5L601.4 82.5L601.6 82.5L601.8 82.5L602.1 82.6L602.4 82.5L602.6 82.4L603.0 82.3L603.0 82.1L603.1 81.8L603.4 81.6L603.5 81.2L603.6 80.8L603.4 80.5L603.5 80.2L603.3 80.0L603.1 79.6L602.8 79.5L602.6 79.2L602.5 79.0L602.3 78.7L602.3 78.4L602.1 78.2L602.1 77.9L602.1 77.5L602.3 77.2L602.2 77.1L602.5 77.0L602.8 76.9L602.8 76.6L603.1 76.4L603.5 76.5L603.7 76.4L604.2 76.2L604.4 76.2L604.5 76.3L605.0 76.3L605.2 76.4L605.6 76.4L605.8 76.4L606.2 76.3L606.4 76.4L606.7 76.3L606.9 76.1L607.3 76.1L607.4 76.1M605.3 74.6L605.4 74.3L605.6 74.1L605.6 73.7L605.8 73.5L605.9 73.3L606.3 73.2L606.3 73.2L606.7 73.1L607.2 73.1L607.5 72.9L607.7 73.1L608.0 73.3L608.1 73.3L608.5 73.7L608.8 73.8L608.9 73.8L609.3 74.1L609.4 74.5L609.6 74.6L609.6 74.9L610.0 75.1L610.1 75.2L610.5 75.4L610.6 75.7L610.9 75.8L611.0 75.7L611.6 75.8L611.8 75.7L612.2 75.7L612.3 75.4L612.6 75.4L612.6 75.0L613.0 74.8L613.1 74.6L613.2 74.3L613.3 73.9L613.3 73.6L613.4 73.3L613.3 73.2L613.3 72.7L613.2 72.3L613.3 72.1L613.4 71.8L613.3 71.5L613.6 71.3L613.4 70.9L613.8 70.7L614.0 70.6L614.4 70.6L614.5 70.4L614.8 70.4L615.3 70.3L615.4 70.5L615.8 70.6L615.9 70.9L616.2 71.2L616.3 71.2L616.5 71.7L616.7 71.9L616.7 72.1L616.8 72.3L616.9 72.7L617.0 72.9L617.3 73.2L617.7 73.4L617.9 73.6L618.0 73.8L618.2 73.9L618.5 73.7L618.8 73.8L619.1 73.6L619.4 73.5L619.7 73.3L620.1 73.0L619.9 72.7L620.1 72.6L620.0 72.2L620.3 71.9L620.0 71.4L620.1 71.4L620.0 71.0L620.0 70.5L619.9 70.4L619.8 70.0L620.0 69.8L620.1 69.6L620.2 69.3L620.6 69.0L620.8 69.0L620.9 68.9L621.3 69.0L621.6 69.0L621.8 69.3L622.1 69.5L622.4 69.5L622.3 70.1L622.5 70.1L622.7 70.2L622.9 70.7L623.0 71.0L623.4 71.0L623.3 71.3L623.8 71.4L624.2 71.5L624.6 71.3L625.0 71.2L625.1 70.8L625.2 70.7L625.3 70.4L625.4 70.0L625.3 69.7L625.3 69.5L625.2 69.2L625.1 68.8L624.9 68.5L624.7 68.2L624.7 68.1L624.6 67.7L624.5 67.7L624.6 67.2L624.7 66.9L625.0 66.7L625.2 66.5L625.4 66.3L625.7 66.2L625.9 66.2L626.3 66.2L626.6 66.2L626.8 66.3L627.0 66.4L627.4 66.6L627.4 66.7L627.9 67.0L628.2 67.1L628.1 67.3L628.6 67.3L628.8 67.6L629.1 67.6L629.3 67.7L629.8 67.7L630.1 67.4L630.4 67.5L630.7 67.1L630.7 66.8L630.9 66.6L630.9 66.2L631.2 65.8L630.9 65.4L631.0 65.4L631.0 65.0L630.7 64.7L630.6 64.4L630.3 64.2L630.3 63.8L629.9 63.8L629.9 63.5L629.7 63.1L629.7 62.8L629.5 62.7L629.7 62.3L629.7 62.0L629.9 61.7L630.0 61.5L630.1 61.3L630.5 61.1L630.6 60.9L630.9 61.1L631.3 60.8L631.8 60.8L631.8 60.9L632.0 60.9M607.8 74.8L607.9 75.1L607.8 74.8L607.6 75.0L608.1 74.9L607.8 75.3L608.0 74.8L608.1 74.3L608.0 75.4L609.0 75.5L608.4 76.1L608.1 75.9L608.2 75.9L608.4 75.9L608.2 76.1L608.0 75.4L608.0 75.4L607.6 74.8L607.8 74.6L608.1 75.7L607.9 76.6L608.4 76.3L608.2 75.8L608.5 75.1L608.3 75.0" fill="none" stroke="#35185f" stroke-width="1.15" stroke-linejoin="round" stroke-linecap="round" clip-path="url(#cb4)"/>
<rect x="551.8" y="13.6" width="81.9" height="81.9" fill="none" stroke="#222" stroke-width="0.85"/>
<rect x="612" y="90.6" width="18.6" height="1.7" fill="#111"/>
</g>
<g>
<defs><filter id="sa" color-interpolation-filters="sRGB" filterUnits="userSpaceOnUse" x="3400" y="2000" width="9400" height="1800"><feComponentTransfer><feFuncA type="discrete" tableValues="0 0 1 1 1 1 1 1 1 1 1 1 1 1 1 1"/></feComponentTransfer></filter></defs>
<text x="144.5" y="100.7" font-weight="bold" font-size="9.9" stroke="#1a1a1a" stroke-width="0.3">c</text>
<clipPath id="ch0"><rect x="178.2" y="103.2" width="81.4" height="81.5"/></clipPath>
<g clip-path="url(#ch0)">
<rect x="178.2" y="103.2" width="81.4" height="81.5" fill="#451a59"/>
<g transform="scale(0.05)" filter="url(#sa)">
<path fill="#472162" d="M3971 2026l29 19v39l-29 19l-29-19v-39zM4029 2026l29 19v39l-29 19l-29-19v-39zM4087 2026l29 19v39l-29 19l-29-19v-39zM4087 2142l29 19v39l-29 19l-29-19v-39zM4145 2142l29 19v39l-29 19l-29-19v-39zM4145 2259l29 19v39l-29 19l-29-19v-39zM4204 2026l29 19v39l-29 19l-29-19v-39zM4204 2142l29 19v39l-29 19l-29-19v-39zM4204 2259l29 19v39l-29 19l-29-19v-39zM4204 2375l29 19v39l-29 19l-29-19v-39zM4204 2492l29 19v39l-29 19l-29-19v-39zM4204 3656l29 19v39l-29 19l-29-19v-39zM4262 2026l29 19v39l-29 19l-29-19v-39zM4262 2375l29 19v39l-29 19l-29-19v-39zM4262 2492l29 19v39l-29 19l-29-19v-39zM4262 2608l29 19v39l-29 19l-29-19v-39zM4262 2725l29 19v39l-29 19l-29-19v-39zM4262 2841l29 19v39l-29 19l-29-19v-39zM4262 3423l29 19v39l-29 19l-29-19v-39zM4262 3540l29 19v39l-29 19l-29-19v-39zM4262 3656l29 19v39l-29 19l-29-19v-39zM4320 2026l29 19v39l-29 19l-29-19v-39zM4320 2142l29 19v39l-29 19l-29-19v-39zM4320 2259l29 19v39l-29 19l-29-19v-39zM4320 2375l29 19v39l-29 19l-29-19v-39zM4320 2608l29 19v39l-29 19l-29-19v-39zM4320 2725l29 19v39l-29 19l-29-19v-39zM4320 2841l29 19v39l-29 19l-29-19v-39zM4320 2957l29 19v39l-29 19l-29-19v-39zM4320 3074l29 19v39l-29 19l-29-19v-39zM4320 3190l29 19v39l-29 19l-29-19v-39zM4320 3307l29 19v39l-29 19l-29-19v-39zM4320 3423l29 19v39l-29 19l-29-19v-39zM4320 3540l29 19v39l-29 19l-29-19v-39zM4378 2608l29 19v39l-29 19l-29-19v-39zM4378 2725l29 19v39l-29 19l-29-19v-39zM4378 2841l29 19v39l-29 19l-29-19v-39zM4378 2957l29 19v39l-29 19l-29-19v-39zM4378 3074l29 19v39l-29 19l-29-19v-39zM4378 3190l29 19v39l-29 19l-29-19v-39zM4378 3307l29 19v39l-29 19l-29-19v-39zM4436 2259l29 19v39l-29 19l-29-19v-39zM4436 2725l29 19v39l-29 19l-29-19v-39zM4436 2841l29 19v39l-29 19l-29-19v-39zM4436 3074l29 19v39l-29 19l-29-19v-39zM4494 2841l29 19v39l-29 19l-29-19v-39zM4494 3190l29 19v39l-29 19l-29-19v-39zM4494 3540l29 19v39l-29 19l-29-19v-39zM4611 2259l29 19v39l-29 19l-29-19v-39zM4611 2841l29 19v39l-29 19l-29-19v-39zM4669 2375l29 19v39l-29 19l-29-19v-39zM4727 3074l29 19v39l-29 19l-29-19v-39zM4901 3540l29 19v39l-29 19l-29-19v-39zM4959 2375l29 19v39l-29 19l-29-19v-39zM4000 2084l29 19v39l-29 19l-29-19v-39zM4058 2084l29 19v39l-29 19l-29-19v-39zM4058 2201l29 19v39l-29 19l-29-19v-39zM4116 2084l29 19v39l-29 19l-29-19v-39zM4116 2201l29 19v39l-29 19l-29-19v-39zM4174 2201l29 19v39l-29 19l-29-19v-39zM4174 2317l29 19v39l-29 19l-29-19v-39zM4174 2434l29 19v39l-29 19l-29-19v-39zM4174 3598l29 19v39l-29 19l-29-19v-39zM4233 2317l29 19v39l-29 19l-29-19v-39zM4233 2434l29 19v39l-29 19l-29-19v-39zM4233 2550l29 19v39l-29 19l-29-19v-39zM4233 3481l29 19v39l-29 19l-29-19v-39zM4233 3598l29 19v39l-29 19l-29-19v-39zM4291 2084l29 19v39l-29 19l-29-19v-39zM4291 2317l29 19v39l-29 19l-29-19v-39zM4291 2434l29 19v39l-29 19l-29-19v-39zM4291 2550l29 19v39l-29 19l-29-19v-39zM4291 2666l29 19v39l-29 19l-29-19v-39zM4291 2783l29 19v39l-29 19l-29-19v-39zM4291 2899l29 19v39l-29 19l-29-19v-39zM4291 3016l29 19v39l-29 19l-29-19v-39zM4291 3132l29 19v39l-29 19l-29-19v-39zM4291 3248l29 19v39l-29 19l-29-19v-39zM4291 3481l29 19v39l-29 19l-29-19v-39zM4291 3598l29 19v39l-29 19l-29-19v-39zM4349 2317l29 19v39l-29 19l-29-19v-39zM4349 2434l29 19v39l-29 19l-29-19v-39zM4349 2550l29 19v39l-29 19l-29-19v-39zM4349 2666l29 19v39l-29 19l-29-19v-39zM4349 2783l29 19v39l-29 19l-29-19v-39zM4349 2899l29 19v39l-29 19l-29-19v-39zM4349 3016l29 19v39l-29 19l-29-19v-39zM4349 3132l29 19v39l-29 19l-29-19v-39zM4349 3248l29 19v39l-29 19l-29-19v-39zM4349 3365l29 19v39l-29 19l-29-19v-39zM4349 3481l29 19v39l-29 19l-29-19v-39zM4349 3598l29 19v39l-29 19l-29-19v-39zM4407 2899l29 19v39l-29 19l-29-19v-39zM4407 3248l29 19v39l-29 19l-29-19v-39zM4407 3365l29 19v39l-29 19l-29-19v-39zM4465 2666l29 19v39l-29 19l-29-19v-39zM4465 2899l29 19v39l-29 19l-29-19v-39zM4523 2084l29 19v39l-29 19l-29-19v-39zM4523 2550l29 19v39l-29 19l-29-19v-39zM4523 3365l29 19v39l-29 19l-29-19v-39zM4523 3481l29 19v39l-29 19l-29-19v-39zM4582 2434l29 19v39l-29 19l-29-19v-39zM4640 3132l29 19v39l-29 19l-29-19v-39zM4640 3365l29 19v39l-29 19l-29-19v-39zM4756 2666l29 19v39l-29 19l-29-19v-39zM4814 3016l29 19v39l-29 19l-29-19v-39zM4930 2666l29 19v39l-29 19l-29-19v-39zM4930 3481l29 19v39l-29 19l-29-19v-39zM4988 3598l29 19v39l-29 19l-29-19v-39zM5105 2666l29 19v39l-29 19l-29-19v-39zM5105 3481l29 19v39l-29 19l-29-19v-39zM5105 3598l29 19v39l-29 19l-29-19v-39zM5163 2201l29 19v39l-29 19l-29-19v-39zM5163 2783l29 19v39l-29 19l-29-19v-39z"/>
<path fill="#48286a" d="M3855 2026l29 19v39l-29 19l-29-19v-39zM3913 2026l29 19v39l-29 19l-29-19v-39zM3971 2142l29 19v39l-29 19l-29-19v-39zM4029 2142l29 19v39l-29 19l-29-19v-39zM4029 2259l29 19v39l-29 19l-29-19v-39zM4087 2259l29 19v39l-29 19l-29-19v-39zM4087 2375l29 19v39l-29 19l-29-19v-39zM4087 3656l29 19v39l-29 19l-29-19v-39zM4145 2375l29 19v39l-29 19l-29-19v-39zM4145 2492l29 19v39l-29 19l-29-19v-39zM4145 2608l29 19v39l-29 19l-29-19v-39zM4145 3540l29 19v39l-29 19l-29-19v-39zM4145 3656l29 19v39l-29 19l-29-19v-39zM4204 2608l29 19v39l-29 19l-29-19v-39zM4204 2725l29 19v39l-29 19l-29-19v-39zM4204 2841l29 19v39l-29 19l-29-19v-39zM4204 3074l29 19v39l-29 19l-29-19v-39zM4204 3307l29 19v39l-29 19l-29-19v-39zM4204 3423l29 19v39l-29 19l-29-19v-39zM4204 3540l29 19v39l-29 19l-29-19v-39zM4262 2957l29 19v39l-29 19l-29-19v-39zM4262 3074l29 19v39l-29 19l-29-19v-39zM4262 3190l29 19v39l-29 19l-29-19v-39zM4262 3307l29 19v39l-29 19l-29-19v-39zM3884 2084l29 19v39l-29 19l-29-19v-39zM3942 2084l29 19v39l-29 19l-29-19v-39zM4000 2201l29 19v39l-29 19l-29-19v-39zM4058 2317l29 19v39l-29 19l-29-19v-39zM4116 2317l29 19v39l-29 19l-29-19v-39zM4116 2434l29 19v39l-29 19l-29-19v-39zM4116 3598l29 19v39l-29 19l-29-19v-39zM4174 2550l29 19v39l-29 19l-29-19v-39zM4174 2666l29 19v39l-29 19l-29-19v-39zM4174 2899l29 19v39l-29 19l-29-19v-39zM4174 3481l29 19v39l-29 19l-29-19v-39zM4233 2666l29 19v39l-29 19l-29-19v-39zM4233 2783l29 19v39l-29 19l-29-19v-39zM4233 2899l29 19v39l-29 19l-29-19v-39zM4233 3016l29 19v39l-29 19l-29-19v-39zM4233 3132l29 19v39l-29 19l-29-19v-39zM4233 3248l29 19v39l-29 19l-29-19v-39zM4233 3365l29 19v39l-29 19l-29-19v-39zM4291 3365l29 19v39l-29 19l-29-19v-39z"/>
<path fill="#482e71" d="M3564 2026l29 19v39l-29 19l-29-19v-39zM3797 2026l29 19v39l-29 19l-29-19v-39zM3913 2142l29 19v39l-29 19l-29-19v-39zM3971 2259l29 19v39l-29 19l-29-19v-39zM4029 2375l29 19v39l-29 19l-29-19v-39zM4029 3656l29 19v39l-29 19l-29-19v-39zM4087 2492l29 19v39l-29 19l-29-19v-39zM4087 3540l29 19v39l-29 19l-29-19v-39zM4145 2725l29 19v39l-29 19l-29-19v-39zM4145 2841l29 19v39l-29 19l-29-19v-39zM4145 3423l29 19v39l-29 19l-29-19v-39zM4204 2957l29 19v39l-29 19l-29-19v-39zM4204 3190l29 19v39l-29 19l-29-19v-39zM3942 2201l29 19v39l-29 19l-29-19v-39zM4058 2434l29 19v39l-29 19l-29-19v-39zM4058 3598l29 19v39l-29 19l-29-19v-39zM4116 2550l29 19v39l-29 19l-29-19v-39zM4116 2666l29 19v39l-29 19l-29-19v-39zM4116 3481l29 19v39l-29 19l-29-19v-39zM4174 2783l29 19v39l-29 19l-29-19v-39zM4174 3016l29 19v39l-29 19l-29-19v-39zM4174 3132l29 19v39l-29 19l-29-19v-39zM4174 3248l29 19v39l-29 19l-29-19v-39zM4174 3365l29 19v39l-29 19l-29-19v-39z"/>
<path fill="#483477" d="M3622 2026l29 19v39l-29 19l-29-19v-39zM3680 2026l29 19v39l-29 19l-29-19v-39zM3680 3656l29 19v39l-29 19l-29-19v-39zM3738 2026l29 19v39l-29 19l-29-19v-39zM3797 2142l29 19v39l-29 19l-29-19v-39zM3855 2142l29 19v39l-29 19l-29-19v-39zM3913 2259l29 19v39l-29 19l-29-19v-39zM3971 3656l29 19v39l-29 19l-29-19v-39zM4029 2492l29 19v39l-29 19l-29-19v-39zM4087 2608l29 19v39l-29 19l-29-19v-39zM4087 2725l29 19v39l-29 19l-29-19v-39zM4087 3423l29 19v39l-29 19l-29-19v-39zM4145 2957l29 19v39l-29 19l-29-19v-39zM4145 3074l29 19v39l-29 19l-29-19v-39zM4145 3307l29 19v39l-29 19l-29-19v-39zM3651 2084l29 19v39l-29 19l-29-19v-39zM3768 2084l29 19v39l-29 19l-29-19v-39zM3826 2084l29 19v39l-29 19l-29-19v-39zM3884 2201l29 19v39l-29 19l-29-19v-39zM3942 2317l29 19v39l-29 19l-29-19v-39zM4000 2317l29 19v39l-29 19l-29-19v-39zM4000 2434l29 19v39l-29 19l-29-19v-39zM4000 3598l29 19v39l-29 19l-29-19v-39zM4058 2550l29 19v39l-29 19l-29-19v-39zM4116 2783l29 19v39l-29 19l-29-19v-39zM4116 2899l29 19v39l-29 19l-29-19v-39zM4116 3365l29 19v39l-29 19l-29-19v-39z"/>
<path fill="#473a7c" d="M3738 3656l29 19v39l-29 19l-29-19v-39zM3855 3656l29 19v39l-29 19l-29-19v-39zM3913 3656l29 19v39l-29 19l-29-19v-39zM3971 2375l29 19v39l-29 19l-29-19v-39zM4029 2608l29 19v39l-29 19l-29-19v-39zM4029 3540l29 19v39l-29 19l-29-19v-39zM4087 2841l29 19v39l-29 19l-29-19v-39zM4087 2957l29 19v39l-29 19l-29-19v-39zM4145 3190l29 19v39l-29 19l-29-19v-39zM3593 2084l29 19v39l-29 19l-29-19v-39zM3651 3598l29 19v39l-29 19l-29-19v-39zM3709 2084l29 19v39l-29 19l-29-19v-39zM3709 3598l29 19v39l-29 19l-29-19v-39zM3826 2201l29 19v39l-29 19l-29-19v-39zM4058 2666l29 19v39l-29 19l-29-19v-39zM4058 3481l29 19v39l-29 19l-29-19v-39zM4116 3132l29 19v39l-29 19l-29-19v-39zM4116 3248l29 19v39l-29 19l-29-19v-39z"/>
<path fill="#463f80" d="M3564 2142l29 19v39l-29 19l-29-19v-39zM3622 2142l29 19v39l-29 19l-29-19v-39zM3622 3656l29 19v39l-29 19l-29-19v-39zM3680 2142l29 19v39l-29 19l-29-19v-39zM3680 3540l29 19v39l-29 19l-29-19v-39zM3738 2142l29 19v39l-29 19l-29-19v-39zM3797 3656l29 19v39l-29 19l-29-19v-39zM3913 2375l29 19v39l-29 19l-29-19v-39zM3971 2492l29 19v39l-29 19l-29-19v-39zM4029 2725l29 19v39l-29 19l-29-19v-39zM4087 3307l29 19v39l-29 19l-29-19v-39zM3709 2201l29 19v39l-29 19l-29-19v-39zM3768 3598l29 19v39l-29 19l-29-19v-39zM3826 3598l29 19v39l-29 19l-29-19v-39zM3884 2317l29 19v39l-29 19l-29-19v-39zM3942 2434l29 19v39l-29 19l-29-19v-39zM3942 3598l29 19v39l-29 19l-29-19v-39zM4000 2550l29 19v39l-29 19l-29-19v-39zM4058 2783l29 19v39l-29 19l-29-19v-39zM4116 3016l29 19v39l-29 19l-29-19v-39z"/>
<path fill="#444484" d="M3738 3540l29 19v39l-29 19l-29-19v-39zM3797 2259l29 19v39l-29 19l-29-19v-39zM3797 3540l29 19v39l-29 19l-29-19v-39zM3855 2259l29 19v39l-29 19l-29-19v-39zM3971 2608l29 19v39l-29 19l-29-19v-39zM4029 2841l29 19v39l-29 19l-29-19v-39zM4029 3423l29 19v39l-29 19l-29-19v-39zM4087 3074l29 19v39l-29 19l-29-19v-39zM4087 3190l29 19v39l-29 19l-29-19v-39zM3651 2201l29 19v39l-29 19l-29-19v-39zM3768 2201l29 19v39l-29 19l-29-19v-39zM3826 2317l29 19v39l-29 19l-29-19v-39zM3884 3598l29 19v39l-29 19l-29-19v-39zM4000 2666l29 19v39l-29 19l-29-19v-39zM4058 2899l29 19v39l-29 19l-29-19v-39z"/>
<path fill="#424a87" d="M3564 2259l29 19v39l-29 19l-29-19v-39zM3680 2259l29 19v39l-29 19l-29-19v-39zM3738 2259l29 19v39l-29 19l-29-19v-39zM3971 3540l29 19v39l-29 19l-29-19v-39zM4029 2957l29 19v39l-29 19l-29-19v-39zM3593 2201l29 19v39l-29 19l-29-19v-39zM3651 3481l29 19v39l-29 19l-29-19v-39zM3709 3481l29 19v39l-29 19l-29-19v-39zM3884 2434l29 19v39l-29 19l-29-19v-39zM4000 2783l29 19v39l-29 19l-29-19v-39zM4000 3481l29 19v39l-29 19l-29-19v-39zM4058 3016l29 19v39l-29 19l-29-19v-39zM4058 3248l29 19v39l-29 19l-29-19v-39zM4058 3365l29 19v39l-29 19l-29-19v-39z"/>
<path fill="#3f4f89" d="M3622 2259l29 19v39l-29 19l-29-19v-39zM3855 2375l29 19v39l-29 19l-29-19v-39zM3855 3540l29 19v39l-29 19l-29-19v-39zM3913 2492l29 19v39l-29 19l-29-19v-39zM3913 3540l29 19v39l-29 19l-29-19v-39zM3942 2550l29 19v39l-29 19l-29-19v-39zM4000 2899l29 19v39l-29 19l-29-19v-39zM4058 3132l29 19v39l-29 19l-29-19v-39z"/>
<path fill="#3c548b" d="M3680 3423l29 19v39l-29 19l-29-19v-39zM3738 2375l29 19v39l-29 19l-29-19v-39zM3738 3423l29 19v39l-29 19l-29-19v-39zM3797 2375l29 19v39l-29 19l-29-19v-39zM3971 2725l29 19v39l-29 19l-29-19v-39zM3593 2317l29 19v39l-29 19l-29-19v-39zM3651 2317l29 19v39l-29 19l-29-19v-39zM3709 2317l29 19v39l-29 19l-29-19v-39zM3768 2317l29 19v39l-29 19l-29-19v-39zM3768 3481l29 19v39l-29 19l-29-19v-39zM3942 2783l29 19v39l-29 19l-29-19v-39zM3942 3481l29 19v39l-29 19l-29-19v-39z"/>
<path fill="#3a578c" d="M3622 3540l29 19v39l-29 19l-29-19v-39zM3855 2492l29 19v39l-29 19l-29-19v-39zM3913 2608l29 19v39l-29 19l-29-19v-39zM3971 2841l29 19v39l-29 19l-29-19v-39zM4029 3307l29 19v39l-29 19l-29-19v-39zM3651 3365l29 19v39l-29 19l-29-19v-39zM3826 2434l29 19v39l-29 19l-29-19v-39zM3884 2550l29 19v39l-29 19l-29-19v-39zM3942 2666l29 19v39l-29 19l-29-19v-39zM4000 3016l29 19v39l-29 19l-29-19v-39z"/>
<path fill="#375c8d" d="M3622 3423l29 19v39l-29 19l-29-19v-39zM3680 2375l29 19v39l-29 19l-29-19v-39zM3913 2725l29 19v39l-29 19l-29-19v-39zM3971 3423l29 19v39l-29 19l-29-19v-39zM4029 3074l29 19v39l-29 19l-29-19v-39zM3651 3248l29 19v39l-29 19l-29-19v-39zM3709 2434l29 19v39l-29 19l-29-19v-39zM3768 2434l29 19v39l-29 19l-29-19v-39zM3826 2550l29 19v39l-29 19l-29-19v-39zM3884 2666l29 19v39l-29 19l-29-19v-39zM3884 3481l29 19v39l-29 19l-29-19v-39z"/>
<path fill="#34618d" d="M3622 2375l29 19v39l-29 19l-29-19v-39zM3680 3307l29 19v39l-29 19l-29-19v-39zM3797 3423l29 19v39l-29 19l-29-19v-39zM3855 2608l29 19v39l-29 19l-29-19v-39zM3913 2841l29 19v39l-29 19l-29-19v-39zM3971 2957l29 19v39l-29 19l-29-19v-39zM4029 3190l29 19v39l-29 19l-29-19v-39zM3709 3365l29 19v39l-29 19l-29-19v-39zM3826 3481l29 19v39l-29 19l-29-19v-39zM3884 2783l29 19v39l-29 19l-29-19v-39zM4000 3365l29 19v39l-29 19l-29-19v-39z"/>
<path fill="#31678e" d="M3564 2375l29 19v39l-29 19l-29-19v-39zM3738 3307l29 19v39l-29 19l-29-19v-39zM3797 2492l29 19v39l-29 19l-29-19v-39zM3855 2725l29 19v39l-29 19l-29-19v-39zM3651 2434l29 19v39l-29 19l-29-19v-39zM3768 3365l29 19v39l-29 19l-29-19v-39zM3942 2899l29 19v39l-29 19l-29-19v-39z"/>
<path fill="#2e6d8e" d="M3680 2492l29 19v39l-29 19l-29-19v-39zM3855 3423l29 19v39l-29 19l-29-19v-39zM3942 3365l29 19v39l-29 19l-29-19v-39zM4000 3132l29 19v39l-29 19l-29-19v-39z"/>
<path fill="#2c728e" d="M3622 2492l29 19v39l-29 19l-29-19v-39zM3680 3190l29 19v39l-29 19l-29-19v-39zM3738 2492l29 19v39l-29 19l-29-19v-39zM3797 2608l29 19v39l-29 19l-29-19v-39zM3971 3307l29 19v39l-29 19l-29-19v-39zM3651 3132l29 19v39l-29 19l-29-19v-39zM3709 3248l29 19v39l-29 19l-29-19v-39zM3768 2550l29 19v39l-29 19l-29-19v-39zM3942 3016l29 19v39l-29 19l-29-19v-39z"/>
<path fill="#2a778e" d="M3680 3074l29 19v39l-29 19l-29-19v-39zM3738 3190l29 19v39l-29 19l-29-19v-39zM3797 2725l29 19v39l-29 19l-29-19v-39zM3855 2957l29 19v39l-29 19l-29-19v-39zM3913 3423l29 19v39l-29 19l-29-19v-39zM3651 2550l29 19v39l-29 19l-29-19v-39zM3768 2666l29 19v39l-29 19l-29-19v-39zM3826 2666l29 19v39l-29 19l-29-19v-39zM3826 2899l29 19v39l-29 19l-29-19v-39zM3826 3365l29 19v39l-29 19l-29-19v-39zM4000 3248l29 19v39l-29 19l-29-19v-39z"/>
<path fill="#287d8e" d="M3564 3656l29 19v39l-29 19l-29-19v-39zM3738 2608l29 19v39l-29 19l-29-19v-39zM3855 2841l29 19v39l-29 19l-29-19v-39zM3913 2957l29 19v39l-29 19l-29-19v-39zM3971 3074l29 19v39l-29 19l-29-19v-39zM3971 3190l29 19v39l-29 19l-29-19v-39zM3651 3016l29 19v39l-29 19l-29-19v-39zM3709 2550l29 19v39l-29 19l-29-19v-39zM3768 3248l29 19v39l-29 19l-29-19v-39zM3826 2783l29 19v39l-29 19l-29-19v-39zM3884 3016l29 19v39l-29 19l-29-19v-39z"/>
<path fill="#26828e" d="M3651 2666l29 19v39l-29 19l-29-19v-39zM3709 3132l29 19v39l-29 19l-29-19v-39zM3768 2783l29 19v39l-29 19l-29-19v-39zM3884 2899l29 19v39l-29 19l-29-19v-39zM3942 3132l29 19v39l-29 19l-29-19v-39z"/>
<path fill="#23888e" d="M3622 3307l29 19v39l-29 19l-29-19v-39zM3680 2608l29 19v39l-29 19l-29-19v-39zM3680 2725l29 19v39l-29 19l-29-19v-39zM3738 2725l29 19v39l-29 19l-29-19v-39zM3738 2957l29 19v39l-29 19l-29-19v-39zM3797 2841l29 19v39l-29 19l-29-19v-39zM3797 2957l29 19v39l-29 19l-29-19v-39zM3797 3190l29 19v39l-29 19l-29-19v-39zM3855 3074l29 19v39l-29 19l-29-19v-39zM3913 3074l29 19v39l-29 19l-29-19v-39zM3651 2783l29 19v39l-29 19l-29-19v-39zM3651 2899l29 19v39l-29 19l-29-19v-39zM3709 2666l29 19v39l-29 19l-29-19v-39zM3709 3016l29 19v39l-29 19l-29-19v-39zM3768 3016l29 19v39l-29 19l-29-19v-39zM3768 3132l29 19v39l-29 19l-29-19v-39z"/>
<path fill="#218e8d" d="M3622 3190l29 19v39l-29 19l-29-19v-39zM3680 2957l29 19v39l-29 19l-29-19v-39zM3738 2841l29 19v39l-29 19l-29-19v-39zM3797 3307l29 19v39l-29 19l-29-19v-39zM3855 3307l29 19v39l-29 19l-29-19v-39zM3593 2434l29 19v39l-29 19l-29-19v-39zM3709 2899l29 19v39l-29 19l-29-19v-39zM3826 3016l29 19v39l-29 19l-29-19v-39zM3826 3248l29 19v39l-29 19l-29-19v-39z"/>
<path fill="#20928c" d="M3797 3074l29 19v39l-29 19l-29-19v-39zM3709 2783l29 19v39l-29 19l-29-19v-39zM3768 2899l29 19v39l-29 19l-29-19v-39zM3884 3248l29 19v39l-29 19l-29-19v-39z"/>
<path fill="#1f988b" d="M3622 2725l29 19v39l-29 19l-29-19v-39zM3680 2841l29 19v39l-29 19l-29-19v-39zM3738 3074l29 19v39l-29 19l-29-19v-39zM3913 3307l29 19v39l-29 19l-29-19v-39z"/>
<path fill="#1f9e89" d="M3913 3190l29 19v39l-29 19l-29-19v-39zM3884 3365l29 19v39l-29 19l-29-19v-39z"/>
<path fill="#20a386" d="M3622 2608l29 19v39l-29 19l-29-19v-39zM3884 3132l29 19v39l-29 19l-29-19v-39zM3942 3248l29 19v39l-29 19l-29-19v-39z"/>
<path fill="#23a983" d="M3622 3074l29 19v39l-29 19l-29-19v-39zM3855 3190l29 19v39l-29 19l-29-19v-39zM3826 3132l29 19v39l-29 19l-29-19v-39z"/>
<path fill="#28ae80" d="M3622 2841l29 19v39l-29 19l-29-19v-39zM3593 3598l29 19v39l-29 19l-29-19v-39z"/>
<path fill="#37b878" d="M3622 2957l29 19v39l-29 19l-29-19v-39z"/>
<path fill="#40bd72" d="M3564 2492l29 19v39l-29 19l-29-19v-39z"/>
<path fill="#63cb5f" d="M3564 3540l29 19v39l-29 19l-29-19v-39z"/>
<path fill="#addc30" d="M3564 3423l29 19v39l-29 19l-29-19v-39z"/>
<path fill="#dae319" d="M3593 2550l29 19v39l-29 19l-29-19v-39z"/>
<path fill="#f8e621" d="M3564 2608l29 19v39l-29 19l-29-19v-39zM3564 2725l29 19v39l-29 19l-29-19v-39zM3564 2841l29 19v39l-29 19l-29-19v-39zM3564 2957l29 19v39l-29 19l-29-19v-39zM3564 3074l29 19v39l-29 19l-29-19v-39zM3564 3190l29 19v39l-29 19l-29-19v-39zM3564 3307l29 19v39l-29 19l-29-19v-39zM3593 2666l29 19v39l-29 19l-29-19v-39zM3593 2783l29 19v39l-29 19l-29-19v-39zM3593 2899l29 19v39l-29 19l-29-19v-39zM3593 3016l29 19v39l-29 19l-29-19v-39zM3593 3132l29 19v39l-29 19l-29-19v-39zM3593 3248l29 19v39l-29 19l-29-19v-39zM3593 3365l29 19v39l-29 19l-29-19v-39zM3593 3481l29 19v39l-29 19l-29-19v-39z"/>
</g>
</g>
<line x1="178.2" y1="184.7" x2="178.2" y2="187" stroke="#333" stroke-width="0.6"/>
<text x="178.2" y="198.4" text-anchor="middle">0</text>
<line x1="218.9" y1="184.7" x2="218.9" y2="187" stroke="#333" stroke-width="0.6"/>
<text x="218.9" y="198.4" text-anchor="middle">80</text>
<line x1="259.6" y1="184.7" x2="259.6" y2="187" stroke="#333" stroke-width="0.6"/>
<text x="259.6" y="198.4" text-anchor="middle">160</text>
<line x1="175.9" y1="103.2" x2="178.2" y2="103.2" stroke="#333" stroke-width="0.6"/>
<text x="172.6" y="106.45" text-anchor="end">5.0</text>
<line x1="175.9" y1="143.95" x2="178.2" y2="143.95" stroke="#333" stroke-width="0.6"/>
<text x="172.6" y="147.2" text-anchor="end">2.5</text>
<line x1="175.9" y1="184.7" x2="178.2" y2="184.7" stroke="#333" stroke-width="0.6"/>
<text x="172.6" y="187.95" text-anchor="end">0</text>
<text x="218.9" y="211.6" text-anchor="middle">Velocity (µm s<tspan font-size="6.2" dy="-3">−1</tspan><tspan dy="3">)</tspan></text>
<clipPath id="ch1"><rect x="272.1" y="103.2" width="81.4" height="81.5"/></clipPath>
<g clip-path="url(#ch1)">
<rect x="272.1" y="103.2" width="81.4" height="81.5" fill="#451a59"/>
<g transform="scale(0.05)" filter="url(#sa)">
<path fill="#472162" d="M5442 2026l29 19v39l-29 19l-29-19v-39zM5500 2026l29 19v39l-29 19l-29-19v-39zM6082 2026l29 19v39l-29 19l-29-19v-39zM6140 2026l29 19v39l-29 19l-29-19v-39zM6198 2026l29 19v39l-29 19l-29-19v-39zM6256 2026l29 19v39l-29 19l-29-19v-39zM6314 2026l29 19v39l-29 19l-29-19v-39zM6314 2142l29 19v39l-29 19l-29-19v-39zM6372 2026l29 19v39l-29 19l-29-19v-39zM6372 2142l29 19v39l-29 19l-29-19v-39zM6372 2259l29 19v39l-29 19l-29-19v-39zM6372 3656l29 19v39l-29 19l-29-19v-39zM6430 2026l29 19v39l-29 19l-29-19v-39zM6430 2259l29 19v39l-29 19l-29-19v-39zM6430 3656l29 19v39l-29 19l-29-19v-39zM6489 2026l29 19v39l-29 19l-29-19v-39zM6489 2142l29 19v39l-29 19l-29-19v-39zM6489 2259l29 19v39l-29 19l-29-19v-39zM6489 3656l29 19v39l-29 19l-29-19v-39zM6547 2026l29 19v39l-29 19l-29-19v-39zM6547 2142l29 19v39l-29 19l-29-19v-39zM6547 2375l29 19v39l-29 19l-29-19v-39zM6547 3656l29 19v39l-29 19l-29-19v-39zM6605 2026l29 19v39l-29 19l-29-19v-39zM6605 2142l29 19v39l-29 19l-29-19v-39zM6605 2259l29 19v39l-29 19l-29-19v-39zM6605 2375l29 19v39l-29 19l-29-19v-39zM6605 2492l29 19v39l-29 19l-29-19v-39zM6605 2725l29 19v39l-29 19l-29-19v-39zM6605 3656l29 19v39l-29 19l-29-19v-39zM6663 2026l29 19v39l-29 19l-29-19v-39zM6663 2142l29 19v39l-29 19l-29-19v-39zM6663 2259l29 19v39l-29 19l-29-19v-39zM6663 2375l29 19v39l-29 19l-29-19v-39zM6663 2492l29 19v39l-29 19l-29-19v-39zM6663 2608l29 19v39l-29 19l-29-19v-39zM6663 2725l29 19v39l-29 19l-29-19v-39zM6663 2841l29 19v39l-29 19l-29-19v-39zM6663 2957l29 19v39l-29 19l-29-19v-39zM6663 3540l29 19v39l-29 19l-29-19v-39zM6663 3656l29 19v39l-29 19l-29-19v-39zM6721 2026l29 19v39l-29 19l-29-19v-39zM6721 2142l29 19v39l-29 19l-29-19v-39zM6721 2259l29 19v39l-29 19l-29-19v-39zM6721 2375l29 19v39l-29 19l-29-19v-39zM6721 2492l29 19v39l-29 19l-29-19v-39zM6721 2608l29 19v39l-29 19l-29-19v-39zM6721 2841l29 19v39l-29 19l-29-19v-39zM6721 2957l29 19v39l-29 19l-29-19v-39zM6721 3540l29 19v39l-29 19l-29-19v-39zM6779 2026l29 19v39l-29 19l-29-19v-39zM6779 2142l29 19v39l-29 19l-29-19v-39zM6779 2259l29 19v39l-29 19l-29-19v-39zM6779 2375l29 19v39l-29 19l-29-19v-39zM6779 2492l29 19v39l-29 19l-29-19v-39zM6779 2608l29 19v39l-29 19l-29-19v-39zM6779 2725l29 19v39l-29 19l-29-19v-39zM6779 2841l29 19v39l-29 19l-29-19v-39zM6779 2957l29 19v39l-29 19l-29-19v-39zM6779 3074l29 19v39l-29 19l-29-19v-39zM6779 3540l29 19v39l-29 19l-29-19v-39zM6779 3656l29 19v39l-29 19l-29-19v-39zM6837 2026l29 19v39l-29 19l-29-19v-39zM6837 2142l29 19v39l-29 19l-29-19v-39zM6837 2259l29 19v39l-29 19l-29-19v-39zM6837 2375l29 19v39l-29 19l-29-19v-39zM6837 2492l29 19v39l-29 19l-29-19v-39zM6837 2608l29 19v39l-29 19l-29-19v-39zM6837 2725l29 19v39l-29 19l-29-19v-39zM6837 2841l29 19v39l-29 19l-29-19v-39zM6837 2957l29 19v39l-29 19l-29-19v-39zM6837 3074l29 19v39l-29 19l-29-19v-39zM6837 3423l29 19v39l-29 19l-29-19v-39zM6837 3540l29 19v39l-29 19l-29-19v-39zM6896 2259l29 19v39l-29 19l-29-19v-39zM6896 2375l29 19v39l-29 19l-29-19v-39zM6896 2492l29 19v39l-29 19l-29-19v-39zM6896 2608l29 19v39l-29 19l-29-19v-39zM6896 2725l29 19v39l-29 19l-29-19v-39zM6896 2841l29 19v39l-29 19l-29-19v-39zM6896 2957l29 19v39l-29 19l-29-19v-39zM6896 3074l29 19v39l-29 19l-29-19v-39zM6896 3190l29 19v39l-29 19l-29-19v-39zM6896 3307l29 19v39l-29 19l-29-19v-39zM6896 3423l29 19v39l-29 19l-29-19v-39zM6896 3540l29 19v39l-29 19l-29-19v-39zM6954 2026l29 19v39l-29 19l-29-19v-39zM6954 2492l29 19v39l-29 19l-29-19v-39zM6954 2608l29 19v39l-29 19l-29-19v-39zM6954 2725l29 19v39l-29 19l-29-19v-39zM6954 2841l29 19v39l-29 19l-29-19v-39zM6954 2957l29 19v39l-29 19l-29-19v-39zM6954 3074l29 19v39l-29 19l-29-19v-39zM6954 3190l29 19v39l-29 19l-29-19v-39zM6954 3307l29 19v39l-29 19l-29-19v-39zM6954 3423l29 19v39l-29 19l-29-19v-39zM6954 3656l29 19v39l-29 19l-29-19v-39zM7012 2142l29 19v39l-29 19l-29-19v-39zM7012 2492l29 19v39l-29 19l-29-19v-39zM7012 2608l29 19v39l-29 19l-29-19v-39zM7012 2725l29 19v39l-29 19l-29-19v-39zM7012 2841l29 19v39l-29 19l-29-19v-39zM7012 2957l29 19v39l-29 19l-29-19v-39zM7012 3190l29 19v39l-29 19l-29-19v-39zM7012 3307l29 19v39l-29 19l-29-19v-39zM7012 3423l29 19v39l-29 19l-29-19v-39zM7070 2026l29 19v39l-29 19l-29-19v-39zM7070 2259l29 19v39l-29 19l-29-19v-39zM7070 2492l29 19v39l-29 19l-29-19v-39zM7070 2725l29 19v39l-29 19l-29-19v-39zM7070 3074l29 19v39l-29 19l-29-19v-39zM7070 3190l29 19v39l-29 19l-29-19v-39zM7070 3423l29 19v39l-29 19l-29-19v-39zM6227 2084l29 19v39l-29 19l-29-19v-39zM6343 2084l29 19v39l-29 19l-29-19v-39zM6401 2201l29 19v39l-29 19l-29-19v-39zM6460 2084l29 19v39l-29 19l-29-19v-39zM6460 2201l29 19v39l-29 19l-29-19v-39zM6460 3598l29 19v39l-29 19l-29-19v-39zM6518 2084l29 19v39l-29 19l-29-19v-39zM6518 2201l29 19v39l-29 19l-29-19v-39zM6518 3598l29 19v39l-29 19l-29-19v-39zM6576 2084l29 19v39l-29 19l-29-19v-39zM6576 2201l29 19v39l-29 19l-29-19v-39zM6576 2317l29 19v39l-29 19l-29-19v-39zM6576 3598l29 19v39l-29 19l-29-19v-39zM6634 2084l29 19v39l-29 19l-29-19v-39zM6634 2201l29 19v39l-29 19l-29-19v-39zM6634 2317l29 19v39l-29 19l-29-19v-39zM6634 2434l29 19v39l-29 19l-29-19v-39zM6634 2550l29 19v39l-29 19l-29-19v-39zM6634 2666l29 19v39l-29 19l-29-19v-39zM6634 2783l29 19v39l-29 19l-29-19v-39zM6634 2899l29 19v39l-29 19l-29-19v-39zM6634 3598l29 19v39l-29 19l-29-19v-39zM6692 2084l29 19v39l-29 19l-29-19v-39zM6692 2201l29 19v39l-29 19l-29-19v-39zM6692 2317l29 19v39l-29 19l-29-19v-39zM6692 2434l29 19v39l-29 19l-29-19v-39zM6692 2550l29 19v39l-29 19l-29-19v-39zM6692 2666l29 19v39l-29 19l-29-19v-39zM6692 2899l29 19v39l-29 19l-29-19v-39zM6692 3598l29 19v39l-29 19l-29-19v-39zM6750 2084l29 19v39l-29 19l-29-19v-39zM6750 2201l29 19v39l-29 19l-29-19v-39zM6750 2317l29 19v39l-29 19l-29-19v-39zM6750 2434l29 19v39l-29 19l-29-19v-39zM6750 2550l29 19v39l-29 19l-29-19v-39zM6750 2666l29 19v39l-29 19l-29-19v-39zM6750 2783l29 19v39l-29 19l-29-19v-39zM6750 2899l29 19v39l-29 19l-29-19v-39zM6750 3016l29 19v39l-29 19l-29-19v-39zM6750 3481l29 19v39l-29 19l-29-19v-39zM6750 3598l29 19v39l-29 19l-29-19v-39zM6808 2084l29 19v39l-29 19l-29-19v-39zM6808 2201l29 19v39l-29 19l-29-19v-39zM6808 2317l29 19v39l-29 19l-29-19v-39zM6808 2434l29 19v39l-29 19l-29-19v-39zM6808 2550l29 19v39l-29 19l-29-19v-39zM6808 2666l29 19v39l-29 19l-29-19v-39zM6808 2783l29 19v39l-29 19l-29-19v-39zM6808 2899l29 19v39l-29 19l-29-19v-39zM6808 3016l29 19v39l-29 19l-29-19v-39zM6808 3481l29 19v39l-29 19l-29-19v-39zM6808 3598l29 19v39l-29 19l-29-19v-39zM6867 2084l29 19v39l-29 19l-29-19v-39zM6867 2317l29 19v39l-29 19l-29-19v-39zM6867 2434l29 19v39l-29 19l-29-19v-39zM6867 2550l29 19v39l-29 19l-29-19v-39zM6867 2666l29 19v39l-29 19l-29-19v-39zM6867 2783l29 19v39l-29 19l-29-19v-39zM6867 2899l29 19v39l-29 19l-29-19v-39zM6867 3016l29 19v39l-29 19l-29-19v-39zM6867 3132l29 19v39l-29 19l-29-19v-39zM6867 3365l29 19v39l-29 19l-29-19v-39zM6867 3481l29 19v39l-29 19l-29-19v-39zM6867 3598l29 19v39l-29 19l-29-19v-39zM6925 2084l29 19v39l-29 19l-29-19v-39zM6925 2317l29 19v39l-29 19l-29-19v-39zM6925 2434l29 19v39l-29 19l-29-19v-39zM6925 2550l29 19v39l-29 19l-29-19v-39zM6925 2666l29 19v39l-29 19l-29-19v-39zM6925 2783l29 19v39l-29 19l-29-19v-39zM6925 2899l29 19v39l-29 19l-29-19v-39zM6925 3016l29 19v39l-29 19l-29-19v-39zM6925 3132l29 19v39l-29 19l-29-19v-39zM6925 3248l29 19v39l-29 19l-29-19v-39zM6925 3365l29 19v39l-29 19l-29-19v-39zM6925 3481l29 19v39l-29 19l-29-19v-39zM6925 3598l29 19v39l-29 19l-29-19v-39zM6983 2201l29 19v39l-29 19l-29-19v-39zM6983 2317l29 19v39l-29 19l-29-19v-39zM6983 2434l29 19v39l-29 19l-29-19v-39zM6983 2783l29 19v39l-29 19l-29-19v-39zM6983 3016l29 19v39l-29 19l-29-19v-39zM6983 3132l29 19v39l-29 19l-29-19v-39zM6983 3248l29 19v39l-29 19l-29-19v-39zM6983 3365l29 19v39l-29 19l-29-19v-39zM6983 3481l29 19v39l-29 19l-29-19v-39zM6983 3598l29 19v39l-29 19l-29-19v-39zM7041 2084l29 19v39l-29 19l-29-19v-39zM7041 2201l29 19v39l-29 19l-29-19v-39zM7041 2317l29 19v39l-29 19l-29-19v-39zM7041 2434l29 19v39l-29 19l-29-19v-39zM7041 2666l29 19v39l-29 19l-29-19v-39zM7041 2783l29 19v39l-29 19l-29-19v-39zM7041 2899l29 19v39l-29 19l-29-19v-39zM7041 3016l29 19v39l-29 19l-29-19v-39zM7041 3248l29 19v39l-29 19l-29-19v-39z"/>
<path fill="#48286a" d="M5442 2142l29 19v39l-29 19l-29-19v-39zM5442 2259l29 19v39l-29 19l-29-19v-39zM5500 2142l29 19v39l-29 19l-29-19v-39zM5500 2259l29 19v39l-29 19l-29-19v-39zM5558 2026l29 19v39l-29 19l-29-19v-39zM5558 2142l29 19v39l-29 19l-29-19v-39zM5558 2259l29 19v39l-29 19l-29-19v-39zM5616 2026l29 19v39l-29 19l-29-19v-39zM5675 2026l29 19v39l-29 19l-29-19v-39zM5675 2142l29 19v39l-29 19l-29-19v-39zM5733 2026l29 19v39l-29 19l-29-19v-39zM5733 2142l29 19v39l-29 19l-29-19v-39zM5733 2259l29 19v39l-29 19l-29-19v-39zM5791 2026l29 19v39l-29 19l-29-19v-39zM5791 2142l29 19v39l-29 19l-29-19v-39zM5791 2259l29 19v39l-29 19l-29-19v-39zM5849 2026l29 19v39l-29 19l-29-19v-39zM5849 2142l29 19v39l-29 19l-29-19v-39zM5907 2026l29 19v39l-29 19l-29-19v-39zM5907 2142l29 19v39l-29 19l-29-19v-39zM5965 2026l29 19v39l-29 19l-29-19v-39zM6023 2026l29 19v39l-29 19l-29-19v-39zM6023 2142l29 19v39l-29 19l-29-19v-39zM6082 2142l29 19v39l-29 19l-29-19v-39zM6082 2259l29 19v39l-29 19l-29-19v-39zM6082 3656l29 19v39l-29 19l-29-19v-39zM6140 2142l29 19v39l-29 19l-29-19v-39zM6140 2259l29 19v39l-29 19l-29-19v-39zM6140 3656l29 19v39l-29 19l-29-19v-39zM6198 2142l29 19v39l-29 19l-29-19v-39zM6198 2259l29 19v39l-29 19l-29-19v-39zM6198 3656l29 19v39l-29 19l-29-19v-39zM6256 2142l29 19v39l-29 19l-29-19v-39zM6256 2259l29 19v39l-29 19l-29-19v-39zM6256 2375l29 19v39l-29 19l-29-19v-39zM6256 3656l29 19v39l-29 19l-29-19v-39zM6314 2259l29 19v39l-29 19l-29-19v-39zM6314 2375l29 19v39l-29 19l-29-19v-39zM6314 2492l29 19v39l-29 19l-29-19v-39zM6314 3656l29 19v39l-29 19l-29-19v-39zM6372 2375l29 19v39l-29 19l-29-19v-39zM6372 2492l29 19v39l-29 19l-29-19v-39zM6430 2142l29 19v39l-29 19l-29-19v-39zM6430 2375l29 19v39l-29 19l-29-19v-39zM6430 2492l29 19v39l-29 19l-29-19v-39zM6489 2375l29 19v39l-29 19l-29-19v-39zM6489 2492l29 19v39l-29 19l-29-19v-39zM6489 2608l29 19v39l-29 19l-29-19v-39zM6489 2725l29 19v39l-29 19l-29-19v-39zM6489 2841l29 19v39l-29 19l-29-19v-39zM6547 2259l29 19v39l-29 19l-29-19v-39zM6547 2492l29 19v39l-29 19l-29-19v-39zM6547 2608l29 19v39l-29 19l-29-19v-39zM6547 2725l29 19v39l-29 19l-29-19v-39zM6547 2841l29 19v39l-29 19l-29-19v-39zM6547 2957l29 19v39l-29 19l-29-19v-39zM6605 2608l29 19v39l-29 19l-29-19v-39zM6605 2841l29 19v39l-29 19l-29-19v-39zM6605 2957l29 19v39l-29 19l-29-19v-39zM6605 3540l29 19v39l-29 19l-29-19v-39zM6663 3074l29 19v39l-29 19l-29-19v-39zM6721 2725l29 19v39l-29 19l-29-19v-39zM6721 3074l29 19v39l-29 19l-29-19v-39zM6779 3307l29 19v39l-29 19l-29-19v-39zM6779 3423l29 19v39l-29 19l-29-19v-39zM6837 3190l29 19v39l-29 19l-29-19v-39zM6837 3307l29 19v39l-29 19l-29-19v-39zM5471 2084l29 19v39l-29 19l-29-19v-39zM5471 2201l29 19v39l-29 19l-29-19v-39zM5471 2317l29 19v39l-29 19l-29-19v-39zM5529 2084l29 19v39l-29 19l-29-19v-39zM5529 2201l29 19v39l-29 19l-29-19v-39zM5587 2084l29 19v39l-29 19l-29-19v-39zM5587 2201l29 19v39l-29 19l-29-19v-39zM5587 2317l29 19v39l-29 19l-29-19v-39zM5646 2084l29 19v39l-29 19l-29-19v-39zM5704 2084l29 19v39l-29 19l-29-19v-39zM5762 2084l29 19v39l-29 19l-29-19v-39zM5762 2201l29 19v39l-29 19l-29-19v-39zM5820 2084l29 19v39l-29 19l-29-19v-39zM5820 2201l29 19v39l-29 19l-29-19v-39zM5878 2084l29 19v39l-29 19l-29-19v-39zM5878 2201l29 19v39l-29 19l-29-19v-39zM5936 2084l29 19v39l-29 19l-29-19v-39zM5936 2201l29 19v39l-29 19l-29-19v-39zM5994 2084l29 19v39l-29 19l-29-19v-39zM6052 2084l29 19v39l-29 19l-29-19v-39zM6052 2201l29 19v39l-29 19l-29-19v-39zM6111 2084l29 19v39l-29 19l-29-19v-39zM6169 2084l29 19v39l-29 19l-29-19v-39zM6169 2201l29 19v39l-29 19l-29-19v-39zM6169 2317l29 19v39l-29 19l-29-19v-39zM6227 2201l29 19v39l-29 19l-29-19v-39zM6227 2317l29 19v39l-29 19l-29-19v-39zM6227 2434l29 19v39l-29 19l-29-19v-39zM6285 2084l29 19v39l-29 19l-29-19v-39zM6285 2201l29 19v39l-29 19l-29-19v-39zM6285 2317l29 19v39l-29 19l-29-19v-39zM6343 2201l29 19v39l-29 19l-29-19v-39zM6343 2317l29 19v39l-29 19l-29-19v-39zM6343 2434l29 19v39l-29 19l-29-19v-39zM6343 3598l29 19v39l-29 19l-29-19v-39zM6401 2084l29 19v39l-29 19l-29-19v-39zM6401 2317l29 19v39l-29 19l-29-19v-39zM6401 2434l29 19v39l-29 19l-29-19v-39zM6401 2550l29 19v39l-29 19l-29-19v-39zM6401 3598l29 19v39l-29 19l-29-19v-39zM6460 2317l29 19v39l-29 19l-29-19v-39zM6460 2434l29 19v39l-29 19l-29-19v-39zM6460 2550l29 19v39l-29 19l-29-19v-39zM6460 2666l29 19v39l-29 19l-29-19v-39zM6460 2899l29 19v39l-29 19l-29-19v-39zM6518 2317l29 19v39l-29 19l-29-19v-39zM6518 2434l29 19v39l-29 19l-29-19v-39zM6518 2550l29 19v39l-29 19l-29-19v-39zM6518 2666l29 19v39l-29 19l-29-19v-39zM6518 2783l29 19v39l-29 19l-29-19v-39zM6518 3016l29 19v39l-29 19l-29-19v-39zM6576 2434l29 19v39l-29 19l-29-19v-39zM6576 2550l29 19v39l-29 19l-29-19v-39zM6576 2666l29 19v39l-29 19l-29-19v-39zM6576 2783l29 19v39l-29 19l-29-19v-39zM6576 2899l29 19v39l-29 19l-29-19v-39zM6576 3016l29 19v39l-29 19l-29-19v-39zM6634 3016l29 19v39l-29 19l-29-19v-39zM6692 2783l29 19v39l-29 19l-29-19v-39zM6692 3016l29 19v39l-29 19l-29-19v-39zM6692 3481l29 19v39l-29 19l-29-19v-39zM6750 3132l29 19v39l-29 19l-29-19v-39zM6808 3132l29 19v39l-29 19l-29-19v-39zM6808 3248l29 19v39l-29 19l-29-19v-39zM6808 3365l29 19v39l-29 19l-29-19v-39zM6867 3248l29 19v39l-29 19l-29-19v-39z"/>
<path fill="#482e71" d="M5442 2375l29 19v39l-29 19l-29-19v-39zM5500 2375l29 19v39l-29 19l-29-19v-39zM5558 2375l29 19v39l-29 19l-29-19v-39zM5616 2142l29 19v39l-29 19l-29-19v-39zM5616 2259l29 19v39l-29 19l-29-19v-39zM5616 2375l29 19v39l-29 19l-29-19v-39zM5616 3656l29 19v39l-29 19l-29-19v-39zM5675 2259l29 19v39l-29 19l-29-19v-39zM5675 2375l29 19v39l-29 19l-29-19v-39zM5675 3656l29 19v39l-29 19l-29-19v-39zM5733 2375l29 19v39l-29 19l-29-19v-39zM5733 3656l29 19v39l-29 19l-29-19v-39zM5791 3656l29 19v39l-29 19l-29-19v-39zM5849 2259l29 19v39l-29 19l-29-19v-39zM5849 2375l29 19v39l-29 19l-29-19v-39zM5849 3656l29 19v39l-29 19l-29-19v-39zM5907 2259l29 19v39l-29 19l-29-19v-39zM5907 2375l29 19v39l-29 19l-29-19v-39zM5907 3656l29 19v39l-29 19l-29-19v-39zM5965 2142l29 19v39l-29 19l-29-19v-39zM5965 2259l29 19v39l-29 19l-29-19v-39zM5965 2375l29 19v39l-29 19l-29-19v-39zM5965 3656l29 19v39l-29 19l-29-19v-39zM6023 2259l29 19v39l-29 19l-29-19v-39zM6023 2375l29 19v39l-29 19l-29-19v-39zM6023 3656l29 19v39l-29 19l-29-19v-39zM6082 2375l29 19v39l-29 19l-29-19v-39zM6082 2492l29 19v39l-29 19l-29-19v-39zM6140 2375l29 19v39l-29 19l-29-19v-39zM6198 2375l29 19v39l-29 19l-29-19v-39zM6198 2492l29 19v39l-29 19l-29-19v-39zM6256 2492l29 19v39l-29 19l-29-19v-39zM6256 2608l29 19v39l-29 19l-29-19v-39zM6314 2608l29 19v39l-29 19l-29-19v-39zM6372 2608l29 19v39l-29 19l-29-19v-39zM6372 2725l29 19v39l-29 19l-29-19v-39zM6372 2841l29 19v39l-29 19l-29-19v-39zM6430 2608l29 19v39l-29 19l-29-19v-39zM6430 2725l29 19v39l-29 19l-29-19v-39zM6430 2841l29 19v39l-29 19l-29-19v-39zM6430 2957l29 19v39l-29 19l-29-19v-39zM6430 3540l29 19v39l-29 19l-29-19v-39zM6489 2957l29 19v39l-29 19l-29-19v-39zM6489 3540l29 19v39l-29 19l-29-19v-39zM6547 3540l29 19v39l-29 19l-29-19v-39zM6605 3074l29 19v39l-29 19l-29-19v-39zM6721 3190l29 19v39l-29 19l-29-19v-39zM6721 3423l29 19v39l-29 19l-29-19v-39zM6779 3190l29 19v39l-29 19l-29-19v-39zM5471 2434l29 19v39l-29 19l-29-19v-39zM5529 2317l29 19v39l-29 19l-29-19v-39zM5529 2434l29 19v39l-29 19l-29-19v-39zM5587 2434l29 19v39l-29 19l-29-19v-39zM5646 2201l29 19v39l-29 19l-29-19v-39zM5646 2317l29 19v39l-29 19l-29-19v-39zM5704 2201l29 19v39l-29 19l-29-19v-39zM5704 2317l29 19v39l-29 19l-29-19v-39zM5762 2317l29 19v39l-29 19l-29-19v-39zM5762 2434l29 19v39l-29 19l-29-19v-39zM5820 2317l29 19v39l-29 19l-29-19v-39zM5878 2317l29 19v39l-29 19l-29-19v-39zM5936 2317l29 19v39l-29 19l-29-19v-39zM5994 2201l29 19v39l-29 19l-29-19v-39zM5994 2317l29 19v39l-29 19l-29-19v-39zM5994 2434l29 19v39l-29 19l-29-19v-39zM6052 2317l29 19v39l-29 19l-29-19v-39zM6111 2201l29 19v39l-29 19l-29-19v-39zM6111 2317l29 19v39l-29 19l-29-19v-39zM6111 2434l29 19v39l-29 19l-29-19v-39zM6111 2550l29 19v39l-29 19l-29-19v-39zM6111 3598l29 19v39l-29 19l-29-19v-39zM6169 2434l29 19v39l-29 19l-29-19v-39zM6169 3598l29 19v39l-29 19l-29-19v-39zM6227 2550l29 19v39l-29 19l-29-19v-39zM6227 3598l29 19v39l-29 19l-29-19v-39zM6285 2434l29 19v39l-29 19l-29-19v-39zM6285 2550l29 19v39l-29 19l-29-19v-39zM6285 2666l29 19v39l-29 19l-29-19v-39zM6285 3598l29 19v39l-29 19l-29-19v-39zM6343 2550l29 19v39l-29 19l-29-19v-39zM6343 2666l29 19v39l-29 19l-29-19v-39zM6343 2783l29 19v39l-29 19l-29-19v-39zM6401 2666l29 19v39l-29 19l-29-19v-39zM6401 2783l29 19v39l-29 19l-29-19v-39zM6401 2899l29 19v39l-29 19l-29-19v-39zM6401 3016l29 19v39l-29 19l-29-19v-39zM6460 2783l29 19v39l-29 19l-29-19v-39zM6518 2899l29 19v39l-29 19l-29-19v-39zM6634 3481l29 19v39l-29 19l-29-19v-39zM6692 3132l29 19v39l-29 19l-29-19v-39zM6750 3248l29 19v39l-29 19l-29-19v-39zM6750 3365l29 19v39l-29 19l-29-19v-39z"/>
<path fill="#483477" d="M5442 2492l29 19v39l-29 19l-29-19v-39zM5500 2492l29 19v39l-29 19l-29-19v-39zM5558 2492l29 19v39l-29 19l-29-19v-39zM5616 2492l29 19v39l-29 19l-29-19v-39zM5675 2492l29 19v39l-29 19l-29-19v-39zM5791 2375l29 19v39l-29 19l-29-19v-39zM5791 2492l29 19v39l-29 19l-29-19v-39zM5965 2492l29 19v39l-29 19l-29-19v-39zM5965 2608l29 19v39l-29 19l-29-19v-39zM6023 2492l29 19v39l-29 19l-29-19v-39zM6023 2725l29 19v39l-29 19l-29-19v-39zM6140 2492l29 19v39l-29 19l-29-19v-39zM6140 2725l29 19v39l-29 19l-29-19v-39zM6198 2608l29 19v39l-29 19l-29-19v-39zM6198 2725l29 19v39l-29 19l-29-19v-39zM6256 2725l29 19v39l-29 19l-29-19v-39zM6314 2725l29 19v39l-29 19l-29-19v-39zM6314 2841l29 19v39l-29 19l-29-19v-39zM6314 2957l29 19v39l-29 19l-29-19v-39zM6372 2957l29 19v39l-29 19l-29-19v-39zM6372 3540l29 19v39l-29 19l-29-19v-39zM6489 3074l29 19v39l-29 19l-29-19v-39zM6547 3074l29 19v39l-29 19l-29-19v-39zM6663 3190l29 19v39l-29 19l-29-19v-39zM6663 3423l29 19v39l-29 19l-29-19v-39zM6721 3307l29 19v39l-29 19l-29-19v-39zM5471 2550l29 19v39l-29 19l-29-19v-39zM5529 2550l29 19v39l-29 19l-29-19v-39zM5587 2550l29 19v39l-29 19l-29-19v-39zM5646 2434l29 19v39l-29 19l-29-19v-39zM5646 2666l29 19v39l-29 19l-29-19v-39zM5646 3598l29 19v39l-29 19l-29-19v-39zM5704 2434l29 19v39l-29 19l-29-19v-39zM5704 3598l29 19v39l-29 19l-29-19v-39zM5762 3598l29 19v39l-29 19l-29-19v-39zM5820 2434l29 19v39l-29 19l-29-19v-39zM5820 3598l29 19v39l-29 19l-29-19v-39zM5878 2434l29 19v39l-29 19l-29-19v-39zM5878 2550l29 19v39l-29 19l-29-19v-39zM5878 3598l29 19v39l-29 19l-29-19v-39zM5936 2434l29 19v39l-29 19l-29-19v-39zM5936 3598l29 19v39l-29 19l-29-19v-39zM5994 3598l29 19v39l-29 19l-29-19v-39zM6052 2434l29 19v39l-29 19l-29-19v-39zM6052 2550l29 19v39l-29 19l-29-19v-39zM6052 3598l29 19v39l-29 19l-29-19v-39zM6111 2666l29 19v39l-29 19l-29-19v-39zM6169 2550l29 19v39l-29 19l-29-19v-39zM6169 2666l29 19v39l-29 19l-29-19v-39zM6227 2666l29 19v39l-29 19l-29-19v-39zM6227 2783l29 19v39l-29 19l-29-19v-39zM6285 2783l29 19v39l-29 19l-29-19v-39zM6285 2899l29 19v39l-29 19l-29-19v-39zM6343 2899l29 19v39l-29 19l-29-19v-39zM6343 3016l29 19v39l-29 19l-29-19v-39zM6460 3016l29 19v39l-29 19l-29-19v-39zM6576 3132l29 19v39l-29 19l-29-19v-39zM6576 3481l29 19v39l-29 19l-29-19v-39zM6634 3132l29 19v39l-29 19l-29-19v-39zM6692 3248l29 19v39l-29 19l-29-19v-39zM6692 3365l29 19v39l-29 19l-29-19v-39z"/>
<path fill="#473a7c" d="M5442 2608l29 19v39l-29 19l-29-19v-39zM5500 2608l29 19v39l-29 19l-29-19v-39zM5500 2725l29 19v39l-29 19l-29-19v-39zM5558 2608l29 19v39l-29 19l-29-19v-39zM5616 2608l29 19v39l-29 19l-29-19v-39zM5616 2725l29 19v39l-29 19l-29-19v-39zM5675 2608l29 19v39l-29 19l-29-19v-39zM5733 2492l29 19v39l-29 19l-29-19v-39zM5791 2608l29 19v39l-29 19l-29-19v-39zM5849 2492l29 19v39l-29 19l-29-19v-39zM5907 2492l29 19v39l-29 19l-29-19v-39zM5907 2608l29 19v39l-29 19l-29-19v-39zM5965 2725l29 19v39l-29 19l-29-19v-39zM6023 2608l29 19v39l-29 19l-29-19v-39zM6082 2608l29 19v39l-29 19l-29-19v-39zM6082 2725l29 19v39l-29 19l-29-19v-39zM6140 2608l29 19v39l-29 19l-29-19v-39zM6140 2841l29 19v39l-29 19l-29-19v-39zM6198 2841l29 19v39l-29 19l-29-19v-39zM6256 2841l29 19v39l-29 19l-29-19v-39zM6256 2957l29 19v39l-29 19l-29-19v-39zM6372 3074l29 19v39l-29 19l-29-19v-39zM6605 3190l29 19v39l-29 19l-29-19v-39zM6605 3423l29 19v39l-29 19l-29-19v-39zM6663 3307l29 19v39l-29 19l-29-19v-39zM5471 2666l29 19v39l-29 19l-29-19v-39zM5529 2666l29 19v39l-29 19l-29-19v-39zM5587 2666l29 19v39l-29 19l-29-19v-39zM5646 2550l29 19v39l-29 19l-29-19v-39zM5704 2550l29 19v39l-29 19l-29-19v-39zM5762 2550l29 19v39l-29 19l-29-19v-39zM5936 2550l29 19v39l-29 19l-29-19v-39zM5936 2666l29 19v39l-29 19l-29-19v-39zM5936 2783l29 19v39l-29 19l-29-19v-39zM5994 2550l29 19v39l-29 19l-29-19v-39zM6052 2666l29 19v39l-29 19l-29-19v-39zM6111 2783l29 19v39l-29 19l-29-19v-39zM6169 2783l29 19v39l-29 19l-29-19v-39zM6169 2899l29 19v39l-29 19l-29-19v-39zM6227 2899l29 19v39l-29 19l-29-19v-39zM6285 3016l29 19v39l-29 19l-29-19v-39zM6518 3481l29 19v39l-29 19l-29-19v-39zM6634 3365l29 19v39l-29 19l-29-19v-39z"/>
<path fill="#463f80" d="M5442 2725l29 19v39l-29 19l-29-19v-39zM5558 2725l29 19v39l-29 19l-29-19v-39zM5675 2725l29 19v39l-29 19l-29-19v-39zM5733 2608l29 19v39l-29 19l-29-19v-39zM5733 2725l29 19v39l-29 19l-29-19v-39zM5791 2725l29 19v39l-29 19l-29-19v-39zM5849 2608l29 19v39l-29 19l-29-19v-39zM5849 2725l29 19v39l-29 19l-29-19v-39zM5907 2725l29 19v39l-29 19l-29-19v-39zM6023 2841l29 19v39l-29 19l-29-19v-39zM6023 3540l29 19v39l-29 19l-29-19v-39zM6082 2841l29 19v39l-29 19l-29-19v-39zM6082 2957l29 19v39l-29 19l-29-19v-39zM6140 2957l29 19v39l-29 19l-29-19v-39zM6140 3540l29 19v39l-29 19l-29-19v-39zM6198 2957l29 19v39l-29 19l-29-19v-39zM6198 3540l29 19v39l-29 19l-29-19v-39zM6256 3540l29 19v39l-29 19l-29-19v-39zM6314 3540l29 19v39l-29 19l-29-19v-39zM6430 3074l29 19v39l-29 19l-29-19v-39zM6605 3307l29 19v39l-29 19l-29-19v-39zM5587 2783l29 19v39l-29 19l-29-19v-39zM5587 3598l29 19v39l-29 19l-29-19v-39zM5704 2666l29 19v39l-29 19l-29-19v-39zM5762 2666l29 19v39l-29 19l-29-19v-39zM5762 2783l29 19v39l-29 19l-29-19v-39zM5762 2899l29 19v39l-29 19l-29-19v-39zM5820 2550l29 19v39l-29 19l-29-19v-39zM5820 2666l29 19v39l-29 19l-29-19v-39zM5878 2666l29 19v39l-29 19l-29-19v-39zM5994 2666l29 19v39l-29 19l-29-19v-39zM5994 2783l29 19v39l-29 19l-29-19v-39zM6052 2783l29 19v39l-29 19l-29-19v-39zM6052 2899l29 19v39l-29 19l-29-19v-39zM6111 2899l29 19v39l-29 19l-29-19v-39zM6169 3016l29 19v39l-29 19l-29-19v-39zM6227 3016l29 19v39l-29 19l-29-19v-39zM6518 3132l29 19v39l-29 19l-29-19v-39zM6634 3248l29 19v39l-29 19l-29-19v-39z"/>
<path fill="#444484" d="M5500 2841l29 19v39l-29 19l-29-19v-39zM5558 2841l29 19v39l-29 19l-29-19v-39zM5558 2957l29 19v39l-29 19l-29-19v-39zM5616 2841l29 19v39l-29 19l-29-19v-39zM5616 2957l29 19v39l-29 19l-29-19v-39zM5616 3540l29 19v39l-29 19l-29-19v-39zM5675 2841l29 19v39l-29 19l-29-19v-39zM5675 2957l29 19v39l-29 19l-29-19v-39zM5675 3540l29 19v39l-29 19l-29-19v-39zM5733 2841l29 19v39l-29 19l-29-19v-39zM5791 2841l29 19v39l-29 19l-29-19v-39zM5849 2841l29 19v39l-29 19l-29-19v-39zM5907 2841l29 19v39l-29 19l-29-19v-39zM5907 2957l29 19v39l-29 19l-29-19v-39zM5965 2841l29 19v39l-29 19l-29-19v-39zM5965 2957l29 19v39l-29 19l-29-19v-39zM5965 3540l29 19v39l-29 19l-29-19v-39zM6023 2957l29 19v39l-29 19l-29-19v-39zM6082 3540l29 19v39l-29 19l-29-19v-39zM6256 3074l29 19v39l-29 19l-29-19v-39zM6314 3074l29 19v39l-29 19l-29-19v-39zM6547 3423l29 19v39l-29 19l-29-19v-39zM5471 2783l29 19v39l-29 19l-29-19v-39zM5529 2899l29 19v39l-29 19l-29-19v-39zM5529 3016l29 19v39l-29 19l-29-19v-39zM5587 2899l29 19v39l-29 19l-29-19v-39zM5646 2783l29 19v39l-29 19l-29-19v-39zM5704 2783l29 19v39l-29 19l-29-19v-39zM5704 2899l29 19v39l-29 19l-29-19v-39zM5820 2899l29 19v39l-29 19l-29-19v-39zM5878 2783l29 19v39l-29 19l-29-19v-39zM5878 2899l29 19v39l-29 19l-29-19v-39zM5936 2899l29 19v39l-29 19l-29-19v-39zM5994 2899l29 19v39l-29 19l-29-19v-39zM5994 3016l29 19v39l-29 19l-29-19v-39zM6052 3016l29 19v39l-29 19l-29-19v-39zM6111 3016l29 19v39l-29 19l-29-19v-39zM6401 3481l29 19v39l-29 19l-29-19v-39zM6460 3132l29 19v39l-29 19l-29-19v-39zM6460 3481l29 19v39l-29 19l-29-19v-39zM6576 3365l29 19v39l-29 19l-29-19v-39z"/>
<path fill="#424a87" d="M5733 2957l29 19v39l-29 19l-29-19v-39zM5733 3540l29 19v39l-29 19l-29-19v-39zM5791 2957l29 19v39l-29 19l-29-19v-39zM5791 3540l29 19v39l-29 19l-29-19v-39zM5849 2957l29 19v39l-29 19l-29-19v-39zM6198 3074l29 19v39l-29 19l-29-19v-39zM6489 3190l29 19v39l-29 19l-29-19v-39zM6547 3190l29 19v39l-29 19l-29-19v-39zM6547 3307l29 19v39l-29 19l-29-19v-39zM5529 2783l29 19v39l-29 19l-29-19v-39zM5587 3016l29 19v39l-29 19l-29-19v-39zM5646 2899l29 19v39l-29 19l-29-19v-39zM5646 3016l29 19v39l-29 19l-29-19v-39zM5762 3016l29 19v39l-29 19l-29-19v-39zM5820 2783l29 19v39l-29 19l-29-19v-39zM5820 3016l29 19v39l-29 19l-29-19v-39zM5878 3016l29 19v39l-29 19l-29-19v-39zM5936 3016l29 19v39l-29 19l-29-19v-39zM6401 3132l29 19v39l-29 19l-29-19v-39zM6518 3365l29 19v39l-29 19l-29-19v-39zM6576 3248l29 19v39l-29 19l-29-19v-39z"/>
<path fill="#3f4f89" d="M5442 2841l29 19v39l-29 19l-29-19v-39zM5500 2957l29 19v39l-29 19l-29-19v-39zM5849 3540l29 19v39l-29 19l-29-19v-39zM5907 3540l29 19v39l-29 19l-29-19v-39zM6140 3074l29 19v39l-29 19l-29-19v-39zM5471 2899l29 19v39l-29 19l-29-19v-39zM6227 3481l29 19v39l-29 19l-29-19v-39zM6518 3248l29 19v39l-29 19l-29-19v-39z"/>
<path fill="#3c548b" d="M5442 2957l29 19v39l-29 19l-29-19v-39zM5500 3074l29 19v39l-29 19l-29-19v-39zM5558 3074l29 19v39l-29 19l-29-19v-39zM5616 3074l29 19v39l-29 19l-29-19v-39zM6023 3074l29 19v39l-29 19l-29-19v-39zM6082 3074l29 19v39l-29 19l-29-19v-39zM6430 3423l29 19v39l-29 19l-29-19v-39zM6489 3423l29 19v39l-29 19l-29-19v-39zM5529 3132l29 19v39l-29 19l-29-19v-39zM5587 3481l29 19v39l-29 19l-29-19v-39zM5704 3016l29 19v39l-29 19l-29-19v-39zM6285 3481l29 19v39l-29 19l-29-19v-39zM6343 3481l29 19v39l-29 19l-29-19v-39zM6460 3365l29 19v39l-29 19l-29-19v-39z"/>
<path fill="#3a578c" d="M5500 3307l29 19v39l-29 19l-29-19v-39zM5791 3074l29 19v39l-29 19l-29-19v-39zM5907 3074l29 19v39l-29 19l-29-19v-39zM5965 3074l29 19v39l-29 19l-29-19v-39zM6169 3481l29 19v39l-29 19l-29-19v-39zM6343 3132l29 19v39l-29 19l-29-19v-39zM6401 3365l29 19v39l-29 19l-29-19v-39zM6460 3248l29 19v39l-29 19l-29-19v-39z"/>
<path fill="#375c8d" d="M5500 3190l29 19v39l-29 19l-29-19v-39zM5558 3540l29 19v39l-29 19l-29-19v-39zM5558 3656l29 19v39l-29 19l-29-19v-39zM5675 3074l29 19v39l-29 19l-29-19v-39zM5733 3074l29 19v39l-29 19l-29-19v-39zM5849 3074l29 19v39l-29 19l-29-19v-39zM6430 3190l29 19v39l-29 19l-29-19v-39zM6489 3307l29 19v39l-29 19l-29-19v-39zM6052 3481l29 19v39l-29 19l-29-19v-39zM6111 3481l29 19v39l-29 19l-29-19v-39z"/>
<path fill="#34618d" d="M5558 3190l29 19v39l-29 19l-29-19v-39zM5558 3307l29 19v39l-29 19l-29-19v-39zM6372 3423l29 19v39l-29 19l-29-19v-39zM6430 3307l29 19v39l-29 19l-29-19v-39zM5471 3016l29 19v39l-29 19l-29-19v-39zM5529 3248l29 19v39l-29 19l-29-19v-39zM5646 3481l29 19v39l-29 19l-29-19v-39zM5994 3132l29 19v39l-29 19l-29-19v-39zM6227 3132l29 19v39l-29 19l-29-19v-39zM6285 3132l29 19v39l-29 19l-29-19v-39z"/>
<path fill="#31678e" d="M5442 3074l29 19v39l-29 19l-29-19v-39zM5558 3423l29 19v39l-29 19l-29-19v-39zM6372 3190l29 19v39l-29 19l-29-19v-39zM5587 3132l29 19v39l-29 19l-29-19v-39zM5704 3481l29 19v39l-29 19l-29-19v-39zM5820 3481l29 19v39l-29 19l-29-19v-39zM5994 3481l29 19v39l-29 19l-29-19v-39zM6169 3132l29 19v39l-29 19l-29-19v-39zM6401 3248l29 19v39l-29 19l-29-19v-39z"/>
<path fill="#2e6d8e" d="M6256 3423l29 19v39l-29 19l-29-19v-39zM6314 3190l29 19v39l-29 19l-29-19v-39zM6314 3423l29 19v39l-29 19l-29-19v-39zM5471 3248l29 19v39l-29 19l-29-19v-39zM5529 3365l29 19v39l-29 19l-29-19v-39zM5762 3481l29 19v39l-29 19l-29-19v-39zM5878 3481l29 19v39l-29 19l-29-19v-39zM5936 3481l29 19v39l-29 19l-29-19v-39zM6343 3248l29 19v39l-29 19l-29-19v-39z"/>
<path fill="#2c728e" d="M5500 3423l29 19v39l-29 19l-29-19v-39zM6140 3423l29 19v39l-29 19l-29-19v-39zM5471 3132l29 19v39l-29 19l-29-19v-39zM5587 3365l29 19v39l-29 19l-29-19v-39zM5762 3132l29 19v39l-29 19l-29-19v-39zM6052 3132l29 19v39l-29 19l-29-19v-39z"/>
<path fill="#2a778e" d="M5442 3190l29 19v39l-29 19l-29-19v-39zM5442 3307l29 19v39l-29 19l-29-19v-39zM6023 3423l29 19v39l-29 19l-29-19v-39zM6082 3423l29 19v39l-29 19l-29-19v-39zM6198 3423l29 19v39l-29 19l-29-19v-39zM6314 3307l29 19v39l-29 19l-29-19v-39zM5529 3481l29 19v39l-29 19l-29-19v-39zM5529 3598l29 19v39l-29 19l-29-19v-39zM5646 3132l29 19v39l-29 19l-29-19v-39zM5936 3132l29 19v39l-29 19l-29-19v-39zM6111 3132l29 19v39l-29 19l-29-19v-39zM6285 3365l29 19v39l-29 19l-29-19v-39z"/>
<path fill="#287d8e" d="M5442 3540l29 19v39l-29 19l-29-19v-39zM5442 3656l29 19v39l-29 19l-29-19v-39zM5616 3423l29 19v39l-29 19l-29-19v-39zM6256 3190l29 19v39l-29 19l-29-19v-39zM6372 3307l29 19v39l-29 19l-29-19v-39zM5471 3365l29 19v39l-29 19l-29-19v-39zM5587 3248l29 19v39l-29 19l-29-19v-39zM5820 3132l29 19v39l-29 19l-29-19v-39zM5878 3132l29 19v39l-29 19l-29-19v-39zM6052 3365l29 19v39l-29 19l-29-19v-39z"/>
<path fill="#26828e" d="M5616 3190l29 19v39l-29 19l-29-19v-39zM5675 3423l29 19v39l-29 19l-29-19v-39zM6140 3190l29 19v39l-29 19l-29-19v-39zM5704 3132l29 19v39l-29 19l-29-19v-39zM6111 3365l29 19v39l-29 19l-29-19v-39zM6169 3248l29 19v39l-29 19l-29-19v-39zM6227 3365l29 19v39l-29 19l-29-19v-39zM6285 3248l29 19v39l-29 19l-29-19v-39zM6343 3365l29 19v39l-29 19l-29-19v-39z"/>
<path fill="#23888e" d="M5442 3423l29 19v39l-29 19l-29-19v-39zM5965 3190l29 19v39l-29 19l-29-19v-39zM6082 3190l29 19v39l-29 19l-29-19v-39zM6198 3190l29 19v39l-29 19l-29-19v-39zM6256 3307l29 19v39l-29 19l-29-19v-39zM6169 3365l29 19v39l-29 19l-29-19v-39z"/>
<path fill="#218e8d" d="M5733 3423l29 19v39l-29 19l-29-19v-39zM5965 3423l29 19v39l-29 19l-29-19v-39zM6023 3190l29 19v39l-29 19l-29-19v-39zM6198 3307l29 19v39l-29 19l-29-19v-39zM5471 3481l29 19v39l-29 19l-29-19v-39zM6052 3248l29 19v39l-29 19l-29-19v-39zM6227 3248l29 19v39l-29 19l-29-19v-39z"/>
<path fill="#20928c" d="M5616 3307l29 19v39l-29 19l-29-19v-39zM6082 3307l29 19v39l-29 19l-29-19v-39zM6140 3307l29 19v39l-29 19l-29-19v-39zM5994 3365l29 19v39l-29 19l-29-19v-39z"/>
<path fill="#1f988b" d="M5500 3540l29 19v39l-29 19l-29-19v-39zM6023 3307l29 19v39l-29 19l-29-19v-39z"/>
<path fill="#1f9e89" d="M5791 3423l29 19v39l-29 19l-29-19v-39zM5849 3423l29 19v39l-29 19l-29-19v-39zM5907 3190l29 19v39l-29 19l-29-19v-39zM5646 3365l29 19v39l-29 19l-29-19v-39zM5994 3248l29 19v39l-29 19l-29-19v-39zM6111 3248l29 19v39l-29 19l-29-19v-39z"/>
<path fill="#20a386" d="M5500 3656l29 19v39l-29 19l-29-19v-39zM5791 3190l29 19v39l-29 19l-29-19v-39zM5849 3190l29 19v39l-29 19l-29-19v-39z"/>
<path fill="#23a983" d="M5733 3190l29 19v39l-29 19l-29-19v-39zM5471 3598l29 19v39l-29 19l-29-19v-39zM5704 3365l29 19v39l-29 19l-29-19v-39z"/>
<path fill="#28ae80" d="M5675 3307l29 19v39l-29 19l-29-19v-39zM5791 3307l29 19v39l-29 19l-29-19v-39zM5907 3423l29 19v39l-29 19l-29-19v-39zM5646 3248l29 19v39l-29 19l-29-19v-39zM5936 3248l29 19v39l-29 19l-29-19v-39z"/>
<path fill="#2eb37c" d="M5762 3365l29 19v39l-29 19l-29-19v-39zM5820 3365l29 19v39l-29 19l-29-19v-39z"/>
<path fill="#37b878" d="M5733 3307l29 19v39l-29 19l-29-19v-39zM5762 3248l29 19v39l-29 19l-29-19v-39zM5820 3248l29 19v39l-29 19l-29-19v-39zM5936 3365l29 19v39l-29 19l-29-19v-39z"/>
<path fill="#40bd72" d="M5907 3307l29 19v39l-29 19l-29-19v-39zM5965 3307l29 19v39l-29 19l-29-19v-39zM5878 3248l29 19v39l-29 19l-29-19v-39z"/>
<path fill="#4cc26c" d="M5675 3190l29 19v39l-29 19l-29-19v-39z"/>
<path fill="#58c765" d="M5704 3248l29 19v39l-29 19l-29-19v-39z"/>
<path fill="#70cf57" d="M5878 3365l29 19v39l-29 19l-29-19v-39z"/>
<path fill="#7fd34e" d="M5849 3307l29 19v39l-29 19l-29-19v-39z"/>
</g>
</g>
<line x1="272.1" y1="184.7" x2="272.1" y2="187" stroke="#333" stroke-width="0.6"/>
<text x="272.1" y="198.4" text-anchor="middle">0</text>
<line x1="312.8" y1="184.7" x2="312.8" y2="187" stroke="#333" stroke-width="0.6"/>
<text x="312.8" y="198.4" text-anchor="middle">80</text>
<line x1="353.5" y1="184.7" x2="353.5" y2="187" stroke="#333" stroke-width="0.6"/>
<text x="353.5" y="198.4" text-anchor="middle">160</text>
<line x1="269.8" y1="103.2" x2="272.1" y2="103.2" stroke="#333" stroke-width="0.6"/>
<line x1="269.8" y1="143.95" x2="272.1" y2="143.95" stroke="#333" stroke-width="0.6"/>
<line x1="269.8" y1="184.7" x2="272.1" y2="184.7" stroke="#333" stroke-width="0.6"/>
<text x="312.8" y="211.6" text-anchor="middle">Velocity (µm s<tspan font-size="6.2" dy="-3">−1</tspan><tspan dy="3">)</tspan></text>
<clipPath id="ch2"><rect x="365.8" y="103.2" width="81.4" height="81.5"/></clipPath>
<g clip-path="url(#ch2)">
<rect x="365.8" y="103.2" width="81.4" height="81.5" fill="#451a59"/>
<g transform="scale(0.05)" filter="url(#sa)">
<path fill="#472162" d="M7781 2026l29 19v39l-29 19l-29-19v-39zM7839 2026l29 19v39l-29 19l-29-19v-39zM7839 2142l29 19v39l-29 19l-29-19v-39zM7897 2026l29 19v39l-29 19l-29-19v-39zM7897 2142l29 19v39l-29 19l-29-19v-39zM7956 2026l29 19v39l-29 19l-29-19v-39zM7956 2142l29 19v39l-29 19l-29-19v-39zM7956 2259l29 19v39l-29 19l-29-19v-39zM8014 2026l29 19v39l-29 19l-29-19v-39zM8014 2142l29 19v39l-29 19l-29-19v-39zM8014 2259l29 19v39l-29 19l-29-19v-39zM8014 2375l29 19v39l-29 19l-29-19v-39zM8072 2026l29 19v39l-29 19l-29-19v-39zM8072 2142l29 19v39l-29 19l-29-19v-39zM8072 2259l29 19v39l-29 19l-29-19v-39zM8072 2375l29 19v39l-29 19l-29-19v-39zM8072 2492l29 19v39l-29 19l-29-19v-39zM8072 2841l29 19v39l-29 19l-29-19v-39zM8130 2026l29 19v39l-29 19l-29-19v-39zM8130 2142l29 19v39l-29 19l-29-19v-39zM8130 2259l29 19v39l-29 19l-29-19v-39zM8130 2375l29 19v39l-29 19l-29-19v-39zM8130 2492l29 19v39l-29 19l-29-19v-39zM8130 2608l29 19v39l-29 19l-29-19v-39zM8130 2841l29 19v39l-29 19l-29-19v-39zM8188 2026l29 19v39l-29 19l-29-19v-39zM8188 2142l29 19v39l-29 19l-29-19v-39zM8188 2259l29 19v39l-29 19l-29-19v-39zM8188 2375l29 19v39l-29 19l-29-19v-39zM8188 2492l29 19v39l-29 19l-29-19v-39zM8188 2608l29 19v39l-29 19l-29-19v-39zM8188 2725l29 19v39l-29 19l-29-19v-39zM8188 2841l29 19v39l-29 19l-29-19v-39zM8246 2026l29 19v39l-29 19l-29-19v-39zM8246 2142l29 19v39l-29 19l-29-19v-39zM8246 2259l29 19v39l-29 19l-29-19v-39zM8246 2375l29 19v39l-29 19l-29-19v-39zM8246 2492l29 19v39l-29 19l-29-19v-39zM8246 2608l29 19v39l-29 19l-29-19v-39zM8246 2725l29 19v39l-29 19l-29-19v-39zM8246 2841l29 19v39l-29 19l-29-19v-39zM8246 2957l29 19v39l-29 19l-29-19v-39zM8304 2026l29 19v39l-29 19l-29-19v-39zM8304 2142l29 19v39l-29 19l-29-19v-39zM8304 2259l29 19v39l-29 19l-29-19v-39zM8304 2375l29 19v39l-29 19l-29-19v-39zM8304 2492l29 19v39l-29 19l-29-19v-39zM8304 2608l29 19v39l-29 19l-29-19v-39zM8304 2725l29 19v39l-29 19l-29-19v-39zM8304 2841l29 19v39l-29 19l-29-19v-39zM8304 2957l29 19v39l-29 19l-29-19v-39zM8363 2026l29 19v39l-29 19l-29-19v-39zM8363 2142l29 19v39l-29 19l-29-19v-39zM8363 2259l29 19v39l-29 19l-29-19v-39zM8363 2375l29 19v39l-29 19l-29-19v-39zM8363 2492l29 19v39l-29 19l-29-19v-39zM8363 2608l29 19v39l-29 19l-29-19v-39zM8363 2725l29 19v39l-29 19l-29-19v-39zM8363 2841l29 19v39l-29 19l-29-19v-39zM8363 2957l29 19v39l-29 19l-29-19v-39zM8363 3656l29 19v39l-29 19l-29-19v-39zM8421 2026l29 19v39l-29 19l-29-19v-39zM8421 2142l29 19v39l-29 19l-29-19v-39zM8421 2259l29 19v39l-29 19l-29-19v-39zM8421 2375l29 19v39l-29 19l-29-19v-39zM8421 2492l29 19v39l-29 19l-29-19v-39zM8421 2608l29 19v39l-29 19l-29-19v-39zM8421 2725l29 19v39l-29 19l-29-19v-39zM8421 2841l29 19v39l-29 19l-29-19v-39zM8421 2957l29 19v39l-29 19l-29-19v-39zM8421 3656l29 19v39l-29 19l-29-19v-39zM8479 2375l29 19v39l-29 19l-29-19v-39zM8479 2492l29 19v39l-29 19l-29-19v-39zM8479 2608l29 19v39l-29 19l-29-19v-39zM8479 2725l29 19v39l-29 19l-29-19v-39zM8479 2957l29 19v39l-29 19l-29-19v-39zM8479 3656l29 19v39l-29 19l-29-19v-39zM8537 2142l29 19v39l-29 19l-29-19v-39zM8537 2492l29 19v39l-29 19l-29-19v-39zM8537 2725l29 19v39l-29 19l-29-19v-39zM8537 2957l29 19v39l-29 19l-29-19v-39zM8537 3656l29 19v39l-29 19l-29-19v-39zM8595 2375l29 19v39l-29 19l-29-19v-39zM8595 2841l29 19v39l-29 19l-29-19v-39zM8595 3074l29 19v39l-29 19l-29-19v-39zM8595 3656l29 19v39l-29 19l-29-19v-39zM8653 2142l29 19v39l-29 19l-29-19v-39zM8653 2375l29 19v39l-29 19l-29-19v-39zM8653 2608l29 19v39l-29 19l-29-19v-39zM8653 3074l29 19v39l-29 19l-29-19v-39zM8653 3540l29 19v39l-29 19l-29-19v-39zM8653 3656l29 19v39l-29 19l-29-19v-39zM8711 2142l29 19v39l-29 19l-29-19v-39zM8711 2259l29 19v39l-29 19l-29-19v-39zM8711 2492l29 19v39l-29 19l-29-19v-39zM8711 2957l29 19v39l-29 19l-29-19v-39zM8711 3074l29 19v39l-29 19l-29-19v-39zM8711 3190l29 19v39l-29 19l-29-19v-39zM8711 3540l29 19v39l-29 19l-29-19v-39zM8770 2492l29 19v39l-29 19l-29-19v-39zM8770 2957l29 19v39l-29 19l-29-19v-39zM8770 3074l29 19v39l-29 19l-29-19v-39zM8770 3190l29 19v39l-29 19l-29-19v-39zM8770 3423l29 19v39l-29 19l-29-19v-39zM8770 3540l29 19v39l-29 19l-29-19v-39zM8828 2725l29 19v39l-29 19l-29-19v-39zM8828 3190l29 19v39l-29 19l-29-19v-39zM8828 3307l29 19v39l-29 19l-29-19v-39zM8828 3423l29 19v39l-29 19l-29-19v-39zM8828 3540l29 19v39l-29 19l-29-19v-39zM8886 2725l29 19v39l-29 19l-29-19v-39zM8886 3190l29 19v39l-29 19l-29-19v-39zM8886 3307l29 19v39l-29 19l-29-19v-39zM8886 3423l29 19v39l-29 19l-29-19v-39zM8944 2492l29 19v39l-29 19l-29-19v-39zM8944 2957l29 19v39l-29 19l-29-19v-39zM8944 3307l29 19v39l-29 19l-29-19v-39zM7810 2084l29 19v39l-29 19l-29-19v-39zM7926 2084l29 19v39l-29 19l-29-19v-39zM7985 2084l29 19v39l-29 19l-29-19v-39zM7985 2201l29 19v39l-29 19l-29-19v-39zM7985 2550l29 19v39l-29 19l-29-19v-39zM8043 2084l29 19v39l-29 19l-29-19v-39zM8043 2201l29 19v39l-29 19l-29-19v-39zM8043 2317l29 19v39l-29 19l-29-19v-39zM8043 2434l29 19v39l-29 19l-29-19v-39zM8043 2550l29 19v39l-29 19l-29-19v-39zM8101 2084l29 19v39l-29 19l-29-19v-39zM8101 2201l29 19v39l-29 19l-29-19v-39zM8101 2317l29 19v39l-29 19l-29-19v-39zM8101 2550l29 19v39l-29 19l-29-19v-39zM8101 2899l29 19v39l-29 19l-29-19v-39zM8159 2084l29 19v39l-29 19l-29-19v-39zM8159 2201l29 19v39l-29 19l-29-19v-39zM8159 2317l29 19v39l-29 19l-29-19v-39zM8159 2434l29 19v39l-29 19l-29-19v-39zM8159 2550l29 19v39l-29 19l-29-19v-39zM8159 2666l29 19v39l-29 19l-29-19v-39zM8159 2783l29 19v39l-29 19l-29-19v-39zM8159 2899l29 19v39l-29 19l-29-19v-39zM8217 2201l29 19v39l-29 19l-29-19v-39zM8217 2317l29 19v39l-29 19l-29-19v-39zM8217 2434l29 19v39l-29 19l-29-19v-39zM8217 2550l29 19v39l-29 19l-29-19v-39zM8217 2666l29 19v39l-29 19l-29-19v-39zM8217 2783l29 19v39l-29 19l-29-19v-39zM8217 2899l29 19v39l-29 19l-29-19v-39zM8275 2084l29 19v39l-29 19l-29-19v-39zM8275 2201l29 19v39l-29 19l-29-19v-39zM8275 2317l29 19v39l-29 19l-29-19v-39zM8275 2434l29 19v39l-29 19l-29-19v-39zM8275 2550l29 19v39l-29 19l-29-19v-39zM8275 2666l29 19v39l-29 19l-29-19v-39zM8275 2783l29 19v39l-29 19l-29-19v-39zM8275 2899l29 19v39l-29 19l-29-19v-39zM8334 2084l29 19v39l-29 19l-29-19v-39zM8334 2317l29 19v39l-29 19l-29-19v-39zM8334 2434l29 19v39l-29 19l-29-19v-39zM8334 2550l29 19v39l-29 19l-29-19v-39zM8334 2666l29 19v39l-29 19l-29-19v-39zM8334 2783l29 19v39l-29 19l-29-19v-39zM8334 2899l29 19v39l-29 19l-29-19v-39zM8392 2434l29 19v39l-29 19l-29-19v-39zM8392 2550l29 19v39l-29 19l-29-19v-39zM8392 2666l29 19v39l-29 19l-29-19v-39zM8392 2783l29 19v39l-29 19l-29-19v-39zM8392 2899l29 19v39l-29 19l-29-19v-39zM8450 2550l29 19v39l-29 19l-29-19v-39zM8450 2783l29 19v39l-29 19l-29-19v-39zM8450 2899l29 19v39l-29 19l-29-19v-39zM8450 3016l29 19v39l-29 19l-29-19v-39zM8508 2317l29 19v39l-29 19l-29-19v-39zM8508 2550l29 19v39l-29 19l-29-19v-39zM8508 2783l29 19v39l-29 19l-29-19v-39zM8508 2899l29 19v39l-29 19l-29-19v-39zM8508 3016l29 19v39l-29 19l-29-19v-39zM8566 2201l29 19v39l-29 19l-29-19v-39zM8566 2899l29 19v39l-29 19l-29-19v-39zM8566 3016l29 19v39l-29 19l-29-19v-39zM8566 3598l29 19v39l-29 19l-29-19v-39zM8624 2201l29 19v39l-29 19l-29-19v-39zM8624 2434l29 19v39l-29 19l-29-19v-39zM8624 3598l29 19v39l-29 19l-29-19v-39zM8682 3016l29 19v39l-29 19l-29-19v-39zM8682 3132l29 19v39l-29 19l-29-19v-39zM8682 3598l29 19v39l-29 19l-29-19v-39zM8740 3132l29 19v39l-29 19l-29-19v-39zM8740 3248l29 19v39l-29 19l-29-19v-39zM8740 3481l29 19v39l-29 19l-29-19v-39zM8740 3598l29 19v39l-29 19l-29-19v-39zM8799 2434l29 19v39l-29 19l-29-19v-39zM8799 3132l29 19v39l-29 19l-29-19v-39zM8799 3248l29 19v39l-29 19l-29-19v-39zM8799 3365l29 19v39l-29 19l-29-19v-39zM8799 3481l29 19v39l-29 19l-29-19v-39zM8799 3598l29 19v39l-29 19l-29-19v-39zM8857 2434l29 19v39l-29 19l-29-19v-39zM8857 2550l29 19v39l-29 19l-29-19v-39zM8857 3248l29 19v39l-29 19l-29-19v-39zM8857 3365l29 19v39l-29 19l-29-19v-39zM8915 3598l29 19v39l-29 19l-29-19v-39z"/>
<path fill="#48286a" d="M7607 2026l29 19v39l-29 19l-29-19v-39zM7607 2142l29 19v39l-29 19l-29-19v-39zM7665 2026l29 19v39l-29 19l-29-19v-39zM7665 2142l29 19v39l-29 19l-29-19v-39zM7723 2026l29 19v39l-29 19l-29-19v-39zM7723 2142l29 19v39l-29 19l-29-19v-39zM7723 2259l29 19v39l-29 19l-29-19v-39zM7723 2375l29 19v39l-29 19l-29-19v-39zM7781 2142l29 19v39l-29 19l-29-19v-39zM7781 2259l29 19v39l-29 19l-29-19v-39zM7781 2375l29 19v39l-29 19l-29-19v-39zM7781 2492l29 19v39l-29 19l-29-19v-39zM7781 2608l29 19v39l-29 19l-29-19v-39zM7839 2259l29 19v39l-29 19l-29-19v-39zM7839 2375l29 19v39l-29 19l-29-19v-39zM7839 2492l29 19v39l-29 19l-29-19v-39zM7839 2841l29 19v39l-29 19l-29-19v-39zM7839 2957l29 19v39l-29 19l-29-19v-39zM7897 2259l29 19v39l-29 19l-29-19v-39zM7897 2375l29 19v39l-29 19l-29-19v-39zM7897 2492l29 19v39l-29 19l-29-19v-39zM7897 2608l29 19v39l-29 19l-29-19v-39zM7897 2725l29 19v39l-29 19l-29-19v-39zM7897 2841l29 19v39l-29 19l-29-19v-39zM7897 3656l29 19v39l-29 19l-29-19v-39zM7956 2375l29 19v39l-29 19l-29-19v-39zM7956 2492l29 19v39l-29 19l-29-19v-39zM7956 2608l29 19v39l-29 19l-29-19v-39zM7956 2725l29 19v39l-29 19l-29-19v-39zM7956 2841l29 19v39l-29 19l-29-19v-39zM7956 2957l29 19v39l-29 19l-29-19v-39zM7956 3656l29 19v39l-29 19l-29-19v-39zM8014 2492l29 19v39l-29 19l-29-19v-39zM8014 2608l29 19v39l-29 19l-29-19v-39zM8014 2725l29 19v39l-29 19l-29-19v-39zM8014 2841l29 19v39l-29 19l-29-19v-39zM8014 3656l29 19v39l-29 19l-29-19v-39zM8072 2608l29 19v39l-29 19l-29-19v-39zM8072 2725l29 19v39l-29 19l-29-19v-39zM8072 2957l29 19v39l-29 19l-29-19v-39zM8072 3656l29 19v39l-29 19l-29-19v-39zM8130 2725l29 19v39l-29 19l-29-19v-39zM8130 2957l29 19v39l-29 19l-29-19v-39zM8130 3656l29 19v39l-29 19l-29-19v-39zM8188 2957l29 19v39l-29 19l-29-19v-39zM8188 3656l29 19v39l-29 19l-29-19v-39zM8246 3656l29 19v39l-29 19l-29-19v-39zM8304 3656l29 19v39l-29 19l-29-19v-39zM8421 3074l29 19v39l-29 19l-29-19v-39zM8479 3074l29 19v39l-29 19l-29-19v-39zM8537 3074l29 19v39l-29 19l-29-19v-39zM8595 3540l29 19v39l-29 19l-29-19v-39zM8653 3190l29 19v39l-29 19l-29-19v-39zM8711 3307l29 19v39l-29 19l-29-19v-39zM8711 3423l29 19v39l-29 19l-29-19v-39zM8770 3307l29 19v39l-29 19l-29-19v-39zM7578 2084l29 19v39l-29 19l-29-19v-39zM7636 2084l29 19v39l-29 19l-29-19v-39zM7636 2201l29 19v39l-29 19l-29-19v-39zM7694 2084l29 19v39l-29 19l-29-19v-39zM7694 2201l29 19v39l-29 19l-29-19v-39zM7752 2084l29 19v39l-29 19l-29-19v-39zM7752 2201l29 19v39l-29 19l-29-19v-39zM7752 2434l29 19v39l-29 19l-29-19v-39zM7752 2666l29 19v39l-29 19l-29-19v-39zM7810 2201l29 19v39l-29 19l-29-19v-39zM7810 2317l29 19v39l-29 19l-29-19v-39zM7810 2434l29 19v39l-29 19l-29-19v-39zM7810 2550l29 19v39l-29 19l-29-19v-39zM7810 2666l29 19v39l-29 19l-29-19v-39zM7810 2783l29 19v39l-29 19l-29-19v-39zM7868 2084l29 19v39l-29 19l-29-19v-39zM7868 2201l29 19v39l-29 19l-29-19v-39zM7868 2317l29 19v39l-29 19l-29-19v-39zM7868 2434l29 19v39l-29 19l-29-19v-39zM7868 2550l29 19v39l-29 19l-29-19v-39zM7868 2783l29 19v39l-29 19l-29-19v-39zM7868 2899l29 19v39l-29 19l-29-19v-39zM7926 2201l29 19v39l-29 19l-29-19v-39zM7926 2317l29 19v39l-29 19l-29-19v-39zM7926 2434l29 19v39l-29 19l-29-19v-39zM7926 2550l29 19v39l-29 19l-29-19v-39zM7926 2666l29 19v39l-29 19l-29-19v-39zM7926 2783l29 19v39l-29 19l-29-19v-39zM7926 2899l29 19v39l-29 19l-29-19v-39zM7985 2317l29 19v39l-29 19l-29-19v-39zM7985 2434l29 19v39l-29 19l-29-19v-39zM7985 2666l29 19v39l-29 19l-29-19v-39zM7985 2783l29 19v39l-29 19l-29-19v-39zM7985 2899l29 19v39l-29 19l-29-19v-39zM8043 2666l29 19v39l-29 19l-29-19v-39zM8043 2783l29 19v39l-29 19l-29-19v-39zM8043 2899l29 19v39l-29 19l-29-19v-39zM8101 2434l29 19v39l-29 19l-29-19v-39zM8101 2666l29 19v39l-29 19l-29-19v-39zM8101 2783l29 19v39l-29 19l-29-19v-39zM8217 3016l29 19v39l-29 19l-29-19v-39zM8275 3016l29 19v39l-29 19l-29-19v-39zM8334 3016l29 19v39l-29 19l-29-19v-39zM8392 3016l29 19v39l-29 19l-29-19v-39zM8450 3598l29 19v39l-29 19l-29-19v-39zM8508 3598l29 19v39l-29 19l-29-19v-39zM8624 3132l29 19v39l-29 19l-29-19v-39zM8682 3248l29 19v39l-29 19l-29-19v-39zM8682 3481l29 19v39l-29 19l-29-19v-39zM8740 3365l29 19v39l-29 19l-29-19v-39z"/>
<path fill="#482e71" d="M7316 2026l29 19v39l-29 19l-29-19v-39zM7374 2026l29 19v39l-29 19l-29-19v-39zM7374 2142l29 19v39l-29 19l-29-19v-39zM7432 2026l29 19v39l-29 19l-29-19v-39zM7490 2026l29 19v39l-29 19l-29-19v-39zM7549 2026l29 19v39l-29 19l-29-19v-39zM7607 2259l29 19v39l-29 19l-29-19v-39zM7607 3656l29 19v39l-29 19l-29-19v-39zM7665 2259l29 19v39l-29 19l-29-19v-39zM7665 2375l29 19v39l-29 19l-29-19v-39zM7665 2608l29 19v39l-29 19l-29-19v-39zM7665 2725l29 19v39l-29 19l-29-19v-39zM7665 2957l29 19v39l-29 19l-29-19v-39zM7665 3656l29 19v39l-29 19l-29-19v-39zM7723 2492l29 19v39l-29 19l-29-19v-39zM7723 2608l29 19v39l-29 19l-29-19v-39zM7723 2725l29 19v39l-29 19l-29-19v-39zM7723 2841l29 19v39l-29 19l-29-19v-39zM7723 3656l29 19v39l-29 19l-29-19v-39zM7781 2725l29 19v39l-29 19l-29-19v-39zM7781 2841l29 19v39l-29 19l-29-19v-39zM7781 2957l29 19v39l-29 19l-29-19v-39zM7781 3656l29 19v39l-29 19l-29-19v-39zM7839 2608l29 19v39l-29 19l-29-19v-39zM7839 2725l29 19v39l-29 19l-29-19v-39zM7839 3656l29 19v39l-29 19l-29-19v-39zM7897 2957l29 19v39l-29 19l-29-19v-39zM8014 2957l29 19v39l-29 19l-29-19v-39zM8363 3074l29 19v39l-29 19l-29-19v-39zM8479 3540l29 19v39l-29 19l-29-19v-39zM8537 3540l29 19v39l-29 19l-29-19v-39zM8595 3190l29 19v39l-29 19l-29-19v-39zM8653 3307l29 19v39l-29 19l-29-19v-39zM8653 3423l29 19v39l-29 19l-29-19v-39zM7461 2084l29 19v39l-29 19l-29-19v-39zM7578 2201l29 19v39l-29 19l-29-19v-39zM7636 2317l29 19v39l-29 19l-29-19v-39zM7636 2434l29 19v39l-29 19l-29-19v-39zM7694 2317l29 19v39l-29 19l-29-19v-39zM7694 2434l29 19v39l-29 19l-29-19v-39zM7694 2550l29 19v39l-29 19l-29-19v-39zM7694 2783l29 19v39l-29 19l-29-19v-39zM7752 2317l29 19v39l-29 19l-29-19v-39zM7752 2550l29 19v39l-29 19l-29-19v-39zM7752 2783l29 19v39l-29 19l-29-19v-39zM7752 2899l29 19v39l-29 19l-29-19v-39zM7810 2899l29 19v39l-29 19l-29-19v-39zM7868 2666l29 19v39l-29 19l-29-19v-39zM7926 3016l29 19v39l-29 19l-29-19v-39zM7985 3016l29 19v39l-29 19l-29-19v-39zM8043 3016l29 19v39l-29 19l-29-19v-39zM8101 3016l29 19v39l-29 19l-29-19v-39zM8159 3016l29 19v39l-29 19l-29-19v-39zM8275 3598l29 19v39l-29 19l-29-19v-39zM8334 3598l29 19v39l-29 19l-29-19v-39zM8392 3598l29 19v39l-29 19l-29-19v-39zM8566 3132l29 19v39l-29 19l-29-19v-39zM8624 3248l29 19v39l-29 19l-29-19v-39zM8624 3481l29 19v39l-29 19l-29-19v-39zM8682 3365l29 19v39l-29 19l-29-19v-39z"/>
<path fill="#483477" d="M7432 2142l29 19v39l-29 19l-29-19v-39zM7432 3656l29 19v39l-29 19l-29-19v-39zM7490 2142l29 19v39l-29 19l-29-19v-39zM7490 3656l29 19v39l-29 19l-29-19v-39zM7549 2142l29 19v39l-29 19l-29-19v-39zM7549 2259l29 19v39l-29 19l-29-19v-39zM7549 3656l29 19v39l-29 19l-29-19v-39zM7607 2375l29 19v39l-29 19l-29-19v-39zM7665 2492l29 19v39l-29 19l-29-19v-39zM7723 2957l29 19v39l-29 19l-29-19v-39zM7956 3074l29 19v39l-29 19l-29-19v-39zM8246 3074l29 19v39l-29 19l-29-19v-39zM8304 3074l29 19v39l-29 19l-29-19v-39zM8421 3540l29 19v39l-29 19l-29-19v-39zM8537 3190l29 19v39l-29 19l-29-19v-39zM8595 3423l29 19v39l-29 19l-29-19v-39zM7345 2084l29 19v39l-29 19l-29-19v-39zM7403 2084l29 19v39l-29 19l-29-19v-39zM7461 2201l29 19v39l-29 19l-29-19v-39zM7520 2084l29 19v39l-29 19l-29-19v-39zM7520 2201l29 19v39l-29 19l-29-19v-39zM7520 2317l29 19v39l-29 19l-29-19v-39zM7578 2317l29 19v39l-29 19l-29-19v-39zM7578 2434l29 19v39l-29 19l-29-19v-39zM7636 2550l29 19v39l-29 19l-29-19v-39zM7636 2666l29 19v39l-29 19l-29-19v-39zM7636 2783l29 19v39l-29 19l-29-19v-39zM7636 2899l29 19v39l-29 19l-29-19v-39zM7694 2666l29 19v39l-29 19l-29-19v-39zM7694 2899l29 19v39l-29 19l-29-19v-39zM7810 3016l29 19v39l-29 19l-29-19v-39zM7868 3016l29 19v39l-29 19l-29-19v-39zM8043 3598l29 19v39l-29 19l-29-19v-39zM8101 3598l29 19v39l-29 19l-29-19v-39zM8159 3598l29 19v39l-29 19l-29-19v-39zM8217 3598l29 19v39l-29 19l-29-19v-39zM8450 3132l29 19v39l-29 19l-29-19v-39zM8508 3132l29 19v39l-29 19l-29-19v-39zM8566 3248l29 19v39l-29 19l-29-19v-39zM8566 3481l29 19v39l-29 19l-29-19v-39zM8624 3365l29 19v39l-29 19l-29-19v-39z"/>
<path fill="#473a7c" d="M7316 2142l29 19v39l-29 19l-29-19v-39zM7316 2259l29 19v39l-29 19l-29-19v-39zM7374 2259l29 19v39l-29 19l-29-19v-39zM7374 3656l29 19v39l-29 19l-29-19v-39zM7432 2259l29 19v39l-29 19l-29-19v-39zM7490 2259l29 19v39l-29 19l-29-19v-39zM7490 2492l29 19v39l-29 19l-29-19v-39zM7549 2375l29 19v39l-29 19l-29-19v-39zM7549 2492l29 19v39l-29 19l-29-19v-39zM7549 2608l29 19v39l-29 19l-29-19v-39zM7607 2492l29 19v39l-29 19l-29-19v-39zM7607 2608l29 19v39l-29 19l-29-19v-39zM7607 2725l29 19v39l-29 19l-29-19v-39zM7607 2841l29 19v39l-29 19l-29-19v-39zM7607 2957l29 19v39l-29 19l-29-19v-39zM7665 2841l29 19v39l-29 19l-29-19v-39zM8014 3074l29 19v39l-29 19l-29-19v-39zM8072 3074l29 19v39l-29 19l-29-19v-39zM8130 3074l29 19v39l-29 19l-29-19v-39zM8188 3074l29 19v39l-29 19l-29-19v-39zM8363 3540l29 19v39l-29 19l-29-19v-39zM8479 3190l29 19v39l-29 19l-29-19v-39zM8595 3307l29 19v39l-29 19l-29-19v-39zM7403 2201l29 19v39l-29 19l-29-19v-39zM7403 2317l29 19v39l-29 19l-29-19v-39zM7520 2434l29 19v39l-29 19l-29-19v-39zM7578 2550l29 19v39l-29 19l-29-19v-39zM7578 2899l29 19v39l-29 19l-29-19v-39zM7636 3016l29 19v39l-29 19l-29-19v-39zM7636 3598l29 19v39l-29 19l-29-19v-39zM7694 3016l29 19v39l-29 19l-29-19v-39zM7752 3016l29 19v39l-29 19l-29-19v-39zM7752 3598l29 19v39l-29 19l-29-19v-39zM7810 3598l29 19v39l-29 19l-29-19v-39zM7868 3598l29 19v39l-29 19l-29-19v-39zM7926 3598l29 19v39l-29 19l-29-19v-39zM7985 3598l29 19v39l-29 19l-29-19v-39zM8392 3132l29 19v39l-29 19l-29-19v-39zM8508 3481l29 19v39l-29 19l-29-19v-39zM8566 3365l29 19v39l-29 19l-29-19v-39z"/>
<path fill="#463f80" d="M7374 2375l29 19v39l-29 19l-29-19v-39zM7432 2375l29 19v39l-29 19l-29-19v-39zM7490 2375l29 19v39l-29 19l-29-19v-39zM7490 2608l29 19v39l-29 19l-29-19v-39zM7549 2841l29 19v39l-29 19l-29-19v-39zM7723 3074l29 19v39l-29 19l-29-19v-39zM7781 3074l29 19v39l-29 19l-29-19v-39zM7839 3074l29 19v39l-29 19l-29-19v-39zM7897 3074l29 19v39l-29 19l-29-19v-39zM8246 3540l29 19v39l-29 19l-29-19v-39zM8304 3540l29 19v39l-29 19l-29-19v-39zM8537 3307l29 19v39l-29 19l-29-19v-39zM8537 3423l29 19v39l-29 19l-29-19v-39zM7345 2201l29 19v39l-29 19l-29-19v-39zM7461 2317l29 19v39l-29 19l-29-19v-39zM7461 3598l29 19v39l-29 19l-29-19v-39zM7520 2666l29 19v39l-29 19l-29-19v-39zM7520 3598l29 19v39l-29 19l-29-19v-39zM7578 2666l29 19v39l-29 19l-29-19v-39zM7578 2783l29 19v39l-29 19l-29-19v-39zM7578 3598l29 19v39l-29 19l-29-19v-39zM7694 3598l29 19v39l-29 19l-29-19v-39zM8334 3132l29 19v39l-29 19l-29-19v-39z"/>
<path fill="#444484" d="M7316 2375l29 19v39l-29 19l-29-19v-39zM7432 2492l29 19v39l-29 19l-29-19v-39zM7432 2608l29 19v39l-29 19l-29-19v-39zM7432 2841l29 19v39l-29 19l-29-19v-39zM7490 2725l29 19v39l-29 19l-29-19v-39zM7490 2841l29 19v39l-29 19l-29-19v-39zM7549 2725l29 19v39l-29 19l-29-19v-39zM7549 2957l29 19v39l-29 19l-29-19v-39zM7665 3074l29 19v39l-29 19l-29-19v-39zM8014 3540l29 19v39l-29 19l-29-19v-39zM8421 3190l29 19v39l-29 19l-29-19v-39zM7345 2317l29 19v39l-29 19l-29-19v-39zM7403 2434l29 19v39l-29 19l-29-19v-39zM7403 2550l29 19v39l-29 19l-29-19v-39zM7403 2666l29 19v39l-29 19l-29-19v-39zM7403 2783l29 19v39l-29 19l-29-19v-39zM7403 3016l29 19v39l-29 19l-29-19v-39zM7403 3598l29 19v39l-29 19l-29-19v-39zM7461 2434l29 19v39l-29 19l-29-19v-39zM7461 2550l29 19v39l-29 19l-29-19v-39zM7461 2666l29 19v39l-29 19l-29-19v-39zM7461 2783l29 19v39l-29 19l-29-19v-39zM7461 2899l29 19v39l-29 19l-29-19v-39zM7461 3016l29 19v39l-29 19l-29-19v-39zM7520 2550l29 19v39l-29 19l-29-19v-39zM7520 2783l29 19v39l-29 19l-29-19v-39zM8275 3132l29 19v39l-29 19l-29-19v-39zM8450 3481l29 19v39l-29 19l-29-19v-39zM8508 3248l29 19v39l-29 19l-29-19v-39z"/>
<path fill="#424a87" d="M7374 2492l29 19v39l-29 19l-29-19v-39zM7374 2608l29 19v39l-29 19l-29-19v-39zM7432 2725l29 19v39l-29 19l-29-19v-39zM7432 2957l29 19v39l-29 19l-29-19v-39zM7490 2957l29 19v39l-29 19l-29-19v-39zM7607 3074l29 19v39l-29 19l-29-19v-39zM7897 3540l29 19v39l-29 19l-29-19v-39zM8072 3540l29 19v39l-29 19l-29-19v-39zM8130 3540l29 19v39l-29 19l-29-19v-39zM8363 3190l29 19v39l-29 19l-29-19v-39zM8479 3423l29 19v39l-29 19l-29-19v-39zM7345 2434l29 19v39l-29 19l-29-19v-39zM7403 2899l29 19v39l-29 19l-29-19v-39zM7520 2899l29 19v39l-29 19l-29-19v-39zM7578 3016l29 19v39l-29 19l-29-19v-39zM7868 3132l29 19v39l-29 19l-29-19v-39zM7926 3132l29 19v39l-29 19l-29-19v-39zM8159 3132l29 19v39l-29 19l-29-19v-39zM8217 3132l29 19v39l-29 19l-29-19v-39zM8392 3481l29 19v39l-29 19l-29-19v-39zM8508 3365l29 19v39l-29 19l-29-19v-39z"/>
<path fill="#3f4f89" d="M7374 2725l29 19v39l-29 19l-29-19v-39zM7549 3074l29 19v39l-29 19l-29-19v-39zM7607 3540l29 19v39l-29 19l-29-19v-39zM7665 3540l29 19v39l-29 19l-29-19v-39zM7723 3540l29 19v39l-29 19l-29-19v-39zM7781 3540l29 19v39l-29 19l-29-19v-39zM7839 3540l29 19v39l-29 19l-29-19v-39zM7956 3540l29 19v39l-29 19l-29-19v-39zM8188 3540l29 19v39l-29 19l-29-19v-39zM7520 3016l29 19v39l-29 19l-29-19v-39zM7985 3132l29 19v39l-29 19l-29-19v-39zM8043 3132l29 19v39l-29 19l-29-19v-39zM8101 3132l29 19v39l-29 19l-29-19v-39zM8334 3481l29 19v39l-29 19l-29-19v-39zM8450 3248l29 19v39l-29 19l-29-19v-39z"/>
<path fill="#3c548b" d="M7374 2841l29 19v39l-29 19l-29-19v-39zM7374 3540l29 19v39l-29 19l-29-19v-39zM7432 3540l29 19v39l-29 19l-29-19v-39zM7490 3074l29 19v39l-29 19l-29-19v-39zM7490 3540l29 19v39l-29 19l-29-19v-39zM7549 3540l29 19v39l-29 19l-29-19v-39zM8304 3190l29 19v39l-29 19l-29-19v-39zM8421 3423l29 19v39l-29 19l-29-19v-39zM8479 3307l29 19v39l-29 19l-29-19v-39zM7694 3132l29 19v39l-29 19l-29-19v-39zM8450 3365l29 19v39l-29 19l-29-19v-39z"/>
<path fill="#3a578c" d="M7432 3074l29 19v39l-29 19l-29-19v-39zM8421 3307l29 19v39l-29 19l-29-19v-39zM7752 3132l29 19v39l-29 19l-29-19v-39zM7810 3132l29 19v39l-29 19l-29-19v-39zM8275 3481l29 19v39l-29 19l-29-19v-39zM8392 3248l29 19v39l-29 19l-29-19v-39z"/>
<path fill="#375c8d" d="M7316 2492l29 19v39l-29 19l-29-19v-39zM7316 3656l29 19v39l-29 19l-29-19v-39zM8188 3190l29 19v39l-29 19l-29-19v-39zM8246 3190l29 19v39l-29 19l-29-19v-39zM8363 3423l29 19v39l-29 19l-29-19v-39zM7578 3132l29 19v39l-29 19l-29-19v-39zM7636 3132l29 19v39l-29 19l-29-19v-39zM7926 3481l29 19v39l-29 19l-29-19v-39zM8101 3481l29 19v39l-29 19l-29-19v-39zM8217 3481l29 19v39l-29 19l-29-19v-39z"/>
<path fill="#34618d" d="M8014 3190l29 19v39l-29 19l-29-19v-39zM7345 2550l29 19v39l-29 19l-29-19v-39zM7403 3132l29 19v39l-29 19l-29-19v-39zM7868 3481l29 19v39l-29 19l-29-19v-39zM8043 3481l29 19v39l-29 19l-29-19v-39zM8159 3481l29 19v39l-29 19l-29-19v-39zM8392 3365l29 19v39l-29 19l-29-19v-39z"/>
<path fill="#31678e" d="M7316 2608l29 19v39l-29 19l-29-19v-39zM7374 2957l29 19v39l-29 19l-29-19v-39zM7781 3190l29 19v39l-29 19l-29-19v-39zM7897 3190l29 19v39l-29 19l-29-19v-39zM7956 3190l29 19v39l-29 19l-29-19v-39zM8363 3307l29 19v39l-29 19l-29-19v-39zM7461 3132l29 19v39l-29 19l-29-19v-39zM7520 3132l29 19v39l-29 19l-29-19v-39zM7578 3481l29 19v39l-29 19l-29-19v-39zM7694 3481l29 19v39l-29 19l-29-19v-39zM7752 3481l29 19v39l-29 19l-29-19v-39zM7985 3481l29 19v39l-29 19l-29-19v-39z"/>
<path fill="#2e6d8e" d="M7723 3190l29 19v39l-29 19l-29-19v-39zM7839 3190l29 19v39l-29 19l-29-19v-39zM8072 3190l29 19v39l-29 19l-29-19v-39zM8130 3190l29 19v39l-29 19l-29-19v-39zM7403 3481l29 19v39l-29 19l-29-19v-39zM7810 3481l29 19v39l-29 19l-29-19v-39zM8217 3248l29 19v39l-29 19l-29-19v-39zM8334 3365l29 19v39l-29 19l-29-19v-39z"/>
<path fill="#2c728e" d="M7374 3074l29 19v39l-29 19l-29-19v-39zM7665 3190l29 19v39l-29 19l-29-19v-39zM7723 3423l29 19v39l-29 19l-29-19v-39zM8246 3423l29 19v39l-29 19l-29-19v-39zM8304 3423l29 19v39l-29 19l-29-19v-39zM8159 3248l29 19v39l-29 19l-29-19v-39zM8334 3248l29 19v39l-29 19l-29-19v-39z"/>
<path fill="#2a778e" d="M8014 3423l29 19v39l-29 19l-29-19v-39zM8188 3423l29 19v39l-29 19l-29-19v-39zM7345 2666l29 19v39l-29 19l-29-19v-39zM7461 3481l29 19v39l-29 19l-29-19v-39zM7520 3481l29 19v39l-29 19l-29-19v-39zM7636 3481l29 19v39l-29 19l-29-19v-39zM8275 3248l29 19v39l-29 19l-29-19v-39z"/>
<path fill="#287d8e" d="M7432 3190l29 19v39l-29 19l-29-19v-39zM7490 3190l29 19v39l-29 19l-29-19v-39zM7549 3190l29 19v39l-29 19l-29-19v-39zM7607 3190l29 19v39l-29 19l-29-19v-39zM7665 3423l29 19v39l-29 19l-29-19v-39zM7781 3423l29 19v39l-29 19l-29-19v-39zM7839 3423l29 19v39l-29 19l-29-19v-39zM8130 3423l29 19v39l-29 19l-29-19v-39zM8246 3307l29 19v39l-29 19l-29-19v-39zM8304 3307l29 19v39l-29 19l-29-19v-39zM7345 3598l29 19v39l-29 19l-29-19v-39zM7926 3248l29 19v39l-29 19l-29-19v-39z"/>
<path fill="#26828e" d="M8072 3307l29 19v39l-29 19l-29-19v-39zM8275 3365l29 19v39l-29 19l-29-19v-39z"/>
<path fill="#23888e" d="M7316 3540l29 19v39l-29 19l-29-19v-39zM7374 3423l29 19v39l-29 19l-29-19v-39zM7956 3423l29 19v39l-29 19l-29-19v-39zM8072 3423l29 19v39l-29 19l-29-19v-39zM8130 3307l29 19v39l-29 19l-29-19v-39zM7403 3248l29 19v39l-29 19l-29-19v-39zM7636 3248l29 19v39l-29 19l-29-19v-39zM7810 3248l29 19v39l-29 19l-29-19v-39zM7868 3248l29 19v39l-29 19l-29-19v-39zM7985 3248l29 19v39l-29 19l-29-19v-39zM7985 3365l29 19v39l-29 19l-29-19v-39zM8101 3248l29 19v39l-29 19l-29-19v-39zM8159 3365l29 19v39l-29 19l-29-19v-39zM8217 3365l29 19v39l-29 19l-29-19v-39z"/>
<path fill="#218e8d" d="M7490 3423l29 19v39l-29 19l-29-19v-39zM7607 3423l29 19v39l-29 19l-29-19v-39zM7897 3423l29 19v39l-29 19l-29-19v-39zM7694 3365l29 19v39l-29 19l-29-19v-39zM8043 3248l29 19v39l-29 19l-29-19v-39zM8101 3365l29 19v39l-29 19l-29-19v-39z"/>
<path fill="#20928c" d="M7432 3423l29 19v39l-29 19l-29-19v-39zM7549 3423l29 19v39l-29 19l-29-19v-39zM7665 3307l29 19v39l-29 19l-29-19v-39zM7839 3307l29 19v39l-29 19l-29-19v-39zM7956 3307l29 19v39l-29 19l-29-19v-39zM8188 3307l29 19v39l-29 19l-29-19v-39zM7520 3365l29 19v39l-29 19l-29-19v-39zM7578 3248l29 19v39l-29 19l-29-19v-39zM7636 3365l29 19v39l-29 19l-29-19v-39zM7752 3248l29 19v39l-29 19l-29-19v-39zM7810 3365l29 19v39l-29 19l-29-19v-39z"/>
<path fill="#1f988b" d="M7316 2725l29 19v39l-29 19l-29-19v-39zM7897 3307l29 19v39l-29 19l-29-19v-39zM7520 3248l29 19v39l-29 19l-29-19v-39zM7578 3365l29 19v39l-29 19l-29-19v-39zM7694 3248l29 19v39l-29 19l-29-19v-39zM7868 3365l29 19v39l-29 19l-29-19v-39z"/>
<path fill="#1f9e89" d="M7374 3190l29 19v39l-29 19l-29-19v-39zM7781 3307l29 19v39l-29 19l-29-19v-39zM7461 3248l29 19v39l-29 19l-29-19v-39zM7752 3365l29 19v39l-29 19l-29-19v-39zM7926 3365l29 19v39l-29 19l-29-19v-39z"/>
<path fill="#20a386" d="M7432 3307l29 19v39l-29 19l-29-19v-39zM7549 3307l29 19v39l-29 19l-29-19v-39zM7607 3307l29 19v39l-29 19l-29-19v-39zM8014 3307l29 19v39l-29 19l-29-19v-39zM7403 3365l29 19v39l-29 19l-29-19v-39zM8043 3365l29 19v39l-29 19l-29-19v-39z"/>
<path fill="#23a983" d="M7490 3307l29 19v39l-29 19l-29-19v-39zM7345 2783l29 19v39l-29 19l-29-19v-39zM7461 3365l29 19v39l-29 19l-29-19v-39z"/>
<path fill="#28ae80" d="M7723 3307l29 19v39l-29 19l-29-19v-39z"/>
<path fill="#2eb37c" d="M7316 2841l29 19v39l-29 19l-29-19v-39z"/>
<path fill="#4cc26c" d="M7345 2899l29 19v39l-29 19l-29-19v-39z"/>
<path fill="#58c765" d="M7374 3307l29 19v39l-29 19l-29-19v-39z"/>
<path fill="#7fd34e" d="M7345 3481l29 19v39l-29 19l-29-19v-39z"/>
<path fill="#f8e621" d="M7316 2957l29 19v39l-29 19l-29-19v-39zM7316 3074l29 19v39l-29 19l-29-19v-39zM7316 3190l29 19v39l-29 19l-29-19v-39zM7316 3307l29 19v39l-29 19l-29-19v-39zM7316 3423l29 19v39l-29 19l-29-19v-39zM7345 3016l29 19v39l-29 19l-29-19v-39zM7345 3132l29 19v39l-29 19l-29-19v-39zM7345 3248l29 19v39l-29 19l-29-19v-39zM7345 3365l29 19v39l-29 19l-29-19v-39z"/>
</g>
</g>
<line x1="365.8" y1="184.7" x2="365.8" y2="187" stroke="#333" stroke-width="0.6"/>
<text x="365.8" y="198.4" text-anchor="middle">0</text>
<line x1="406.5" y1="184.7" x2="406.5" y2="187" stroke="#333" stroke-width="0.6"/>
<text x="406.5" y="198.4" text-anchor="middle">80</text>
<line x1="447.2" y1="184.7" x2="447.2" y2="187" stroke="#333" stroke-width="0.6"/>
<text x="447.2" y="198.4" text-anchor="middle">160</text>
<line x1="363.5" y1="103.2" x2="365.8" y2="103.2" stroke="#333" stroke-width="0.6"/>
<line x1="363.5" y1="143.95" x2="365.8" y2="143.95" stroke="#333" stroke-width="0.6"/>
<line x1="363.5" y1="184.7" x2="365.8" y2="184.7" stroke="#333" stroke-width="0.6"/>
<text x="406.5" y="211.6" text-anchor="middle">Velocity (µm s<tspan font-size="6.2" dy="-3">−1</tspan><tspan dy="3">)</tspan></text>
<clipPath id="ch3"><rect x="459.5" y="103.2" width="81.4" height="81.5"/></clipPath>
<g clip-path="url(#ch3)">
<rect x="459.5" y="103.2" width="81.4" height="81.5" fill="#451a59"/>
<g transform="scale(0.05)" filter="url(#sa)">
<path fill="#472162" d="M9713 2026l29 19v39l-29 19l-29-19v-39zM9771 2026l29 19v39l-29 19l-29-19v-39zM9771 2142l29 19v39l-29 19l-29-19v-39zM9830 2259l29 19v39l-29 19l-29-19v-39zM9830 2375l29 19v39l-29 19l-29-19v-39zM9830 2492l29 19v39l-29 19l-29-19v-39zM9888 2259l29 19v39l-29 19l-29-19v-39zM9888 2375l29 19v39l-29 19l-29-19v-39zM9888 2492l29 19v39l-29 19l-29-19v-39zM9888 2608l29 19v39l-29 19l-29-19v-39zM9888 2725l29 19v39l-29 19l-29-19v-39zM9888 3656l29 19v39l-29 19l-29-19v-39zM9946 2026l29 19v39l-29 19l-29-19v-39zM9946 2142l29 19v39l-29 19l-29-19v-39zM9946 2608l29 19v39l-29 19l-29-19v-39zM9946 2725l29 19v39l-29 19l-29-19v-39zM10004 2725l29 19v39l-29 19l-29-19v-39zM10004 2841l29 19v39l-29 19l-29-19v-39zM10004 3656l29 19v39l-29 19l-29-19v-39zM10062 2608l29 19v39l-29 19l-29-19v-39zM10062 2841l29 19v39l-29 19l-29-19v-39zM10062 3656l29 19v39l-29 19l-29-19v-39zM10120 2841l29 19v39l-29 19l-29-19v-39zM10120 3656l29 19v39l-29 19l-29-19v-39zM10178 2841l29 19v39l-29 19l-29-19v-39zM10178 2957l29 19v39l-29 19l-29-19v-39zM10178 3656l29 19v39l-29 19l-29-19v-39zM10237 2259l29 19v39l-29 19l-29-19v-39zM10237 2957l29 19v39l-29 19l-29-19v-39zM10237 3540l29 19v39l-29 19l-29-19v-39zM10237 3656l29 19v39l-29 19l-29-19v-39zM10295 2492l29 19v39l-29 19l-29-19v-39zM10295 2841l29 19v39l-29 19l-29-19v-39zM10295 2957l29 19v39l-29 19l-29-19v-39zM10295 3540l29 19v39l-29 19l-29-19v-39zM10295 3656l29 19v39l-29 19l-29-19v-39zM10353 2375l29 19v39l-29 19l-29-19v-39zM10353 2725l29 19v39l-29 19l-29-19v-39zM10353 2841l29 19v39l-29 19l-29-19v-39zM10353 2957l29 19v39l-29 19l-29-19v-39zM10353 3074l29 19v39l-29 19l-29-19v-39zM10353 3423l29 19v39l-29 19l-29-19v-39zM10353 3540l29 19v39l-29 19l-29-19v-39zM10411 2957l29 19v39l-29 19l-29-19v-39zM10411 3074l29 19v39l-29 19l-29-19v-39zM10411 3190l29 19v39l-29 19l-29-19v-39zM10411 3307l29 19v39l-29 19l-29-19v-39zM10411 3423l29 19v39l-29 19l-29-19v-39zM10411 3540l29 19v39l-29 19l-29-19v-39zM10469 2841l29 19v39l-29 19l-29-19v-39zM10469 2957l29 19v39l-29 19l-29-19v-39zM10469 3074l29 19v39l-29 19l-29-19v-39zM10469 3190l29 19v39l-29 19l-29-19v-39zM10469 3307l29 19v39l-29 19l-29-19v-39zM10469 3423l29 19v39l-29 19l-29-19v-39zM10527 2957l29 19v39l-29 19l-29-19v-39zM10527 3074l29 19v39l-29 19l-29-19v-39zM10527 3190l29 19v39l-29 19l-29-19v-39zM10527 3307l29 19v39l-29 19l-29-19v-39zM10527 3423l29 19v39l-29 19l-29-19v-39zM10585 2026l29 19v39l-29 19l-29-19v-39zM10585 3074l29 19v39l-29 19l-29-19v-39zM10585 3190l29 19v39l-29 19l-29-19v-39zM10585 3307l29 19v39l-29 19l-29-19v-39zM10585 3423l29 19v39l-29 19l-29-19v-39zM10644 3190l29 19v39l-29 19l-29-19v-39zM10644 3307l29 19v39l-29 19l-29-19v-39zM10644 3423l29 19v39l-29 19l-29-19v-39zM10702 2608l29 19v39l-29 19l-29-19v-39zM10702 3307l29 19v39l-29 19l-29-19v-39zM10760 2259l29 19v39l-29 19l-29-19v-39zM10760 3190l29 19v39l-29 19l-29-19v-39zM9742 2084l29 19v39l-29 19l-29-19v-39zM9742 2317l29 19v39l-29 19l-29-19v-39zM9800 2084l29 19v39l-29 19l-29-19v-39zM9800 2201l29 19v39l-29 19l-29-19v-39zM9800 2550l29 19v39l-29 19l-29-19v-39zM9859 2084l29 19v39l-29 19l-29-19v-39zM9859 2201l29 19v39l-29 19l-29-19v-39zM9859 2317l29 19v39l-29 19l-29-19v-39zM9859 2434l29 19v39l-29 19l-29-19v-39zM9859 2550l29 19v39l-29 19l-29-19v-39zM9917 2434l29 19v39l-29 19l-29-19v-39zM9917 2550l29 19v39l-29 19l-29-19v-39zM9917 2666l29 19v39l-29 19l-29-19v-39zM9975 2317l29 19v39l-29 19l-29-19v-39zM9975 2666l29 19v39l-29 19l-29-19v-39zM9975 2783l29 19v39l-29 19l-29-19v-39zM10033 2666l29 19v39l-29 19l-29-19v-39zM10033 2783l29 19v39l-29 19l-29-19v-39zM10091 2783l29 19v39l-29 19l-29-19v-39zM10091 2899l29 19v39l-29 19l-29-19v-39zM10149 2666l29 19v39l-29 19l-29-19v-39zM10149 2783l29 19v39l-29 19l-29-19v-39zM10149 2899l29 19v39l-29 19l-29-19v-39zM10149 3598l29 19v39l-29 19l-29-19v-39zM10208 2201l29 19v39l-29 19l-29-19v-39zM10208 2317l29 19v39l-29 19l-29-19v-39zM10208 2666l29 19v39l-29 19l-29-19v-39zM10208 2783l29 19v39l-29 19l-29-19v-39zM10208 2899l29 19v39l-29 19l-29-19v-39zM10208 3016l29 19v39l-29 19l-29-19v-39zM10208 3598l29 19v39l-29 19l-29-19v-39zM10266 2201l29 19v39l-29 19l-29-19v-39zM10266 2317l29 19v39l-29 19l-29-19v-39zM10266 2434l29 19v39l-29 19l-29-19v-39zM10266 2783l29 19v39l-29 19l-29-19v-39zM10266 2899l29 19v39l-29 19l-29-19v-39zM10266 3016l29 19v39l-29 19l-29-19v-39zM10266 3481l29 19v39l-29 19l-29-19v-39zM10266 3598l29 19v39l-29 19l-29-19v-39zM10324 2201l29 19v39l-29 19l-29-19v-39zM10324 2899l29 19v39l-29 19l-29-19v-39zM10324 3481l29 19v39l-29 19l-29-19v-39zM10324 3598l29 19v39l-29 19l-29-19v-39zM10382 2899l29 19v39l-29 19l-29-19v-39zM10382 3016l29 19v39l-29 19l-29-19v-39zM10382 3132l29 19v39l-29 19l-29-19v-39zM10382 3481l29 19v39l-29 19l-29-19v-39zM10440 2783l29 19v39l-29 19l-29-19v-39zM10440 3016l29 19v39l-29 19l-29-19v-39zM10440 3132l29 19v39l-29 19l-29-19v-39zM10440 3365l29 19v39l-29 19l-29-19v-39zM10440 3481l29 19v39l-29 19l-29-19v-39zM10440 3598l29 19v39l-29 19l-29-19v-39zM10498 2899l29 19v39l-29 19l-29-19v-39zM10498 3016l29 19v39l-29 19l-29-19v-39zM10498 3132l29 19v39l-29 19l-29-19v-39zM10498 3365l29 19v39l-29 19l-29-19v-39zM10498 3481l29 19v39l-29 19l-29-19v-39zM10498 3598l29 19v39l-29 19l-29-19v-39zM10556 2899l29 19v39l-29 19l-29-19v-39zM10556 3016l29 19v39l-29 19l-29-19v-39zM10556 3132l29 19v39l-29 19l-29-19v-39zM10556 3248l29 19v39l-29 19l-29-19v-39zM10556 3365l29 19v39l-29 19l-29-19v-39zM10556 3481l29 19v39l-29 19l-29-19v-39zM10614 3248l29 19v39l-29 19l-29-19v-39zM10614 3365l29 19v39l-29 19l-29-19v-39zM10673 3132l29 19v39l-29 19l-29-19v-39zM10731 3132l29 19v39l-29 19l-29-19v-39zM10731 3248l29 19v39l-29 19l-29-19v-39z"/>
<path fill="#48286a" d="M9655 2026l29 19v39l-29 19l-29-19v-39zM9655 2142l29 19v39l-29 19l-29-19v-39zM9713 2142l29 19v39l-29 19l-29-19v-39zM9713 2259l29 19v39l-29 19l-29-19v-39zM9713 2375l29 19v39l-29 19l-29-19v-39zM9713 3656l29 19v39l-29 19l-29-19v-39zM9771 2259l29 19v39l-29 19l-29-19v-39zM9771 2375l29 19v39l-29 19l-29-19v-39zM9771 2492l29 19v39l-29 19l-29-19v-39zM9771 2608l29 19v39l-29 19l-29-19v-39zM9830 2142l29 19v39l-29 19l-29-19v-39zM9830 2608l29 19v39l-29 19l-29-19v-39zM9830 2725l29 19v39l-29 19l-29-19v-39zM9830 2841l29 19v39l-29 19l-29-19v-39zM9830 3656l29 19v39l-29 19l-29-19v-39zM9888 2841l29 19v39l-29 19l-29-19v-39zM9946 2841l29 19v39l-29 19l-29-19v-39zM9946 2957l29 19v39l-29 19l-29-19v-39zM9946 3656l29 19v39l-29 19l-29-19v-39zM10004 2957l29 19v39l-29 19l-29-19v-39zM10004 3540l29 19v39l-29 19l-29-19v-39zM10062 2957l29 19v39l-29 19l-29-19v-39zM10062 3540l29 19v39l-29 19l-29-19v-39zM10120 2957l29 19v39l-29 19l-29-19v-39zM10120 3074l29 19v39l-29 19l-29-19v-39zM10120 3540l29 19v39l-29 19l-29-19v-39zM10178 3074l29 19v39l-29 19l-29-19v-39zM10178 3540l29 19v39l-29 19l-29-19v-39zM10237 3074l29 19v39l-29 19l-29-19v-39zM10237 3190l29 19v39l-29 19l-29-19v-39zM10237 3423l29 19v39l-29 19l-29-19v-39zM10295 3074l29 19v39l-29 19l-29-19v-39zM10295 3190l29 19v39l-29 19l-29-19v-39zM10295 3307l29 19v39l-29 19l-29-19v-39zM10295 3423l29 19v39l-29 19l-29-19v-39zM10353 3190l29 19v39l-29 19l-29-19v-39zM10353 3307l29 19v39l-29 19l-29-19v-39zM9626 2084l29 19v39l-29 19l-29-19v-39zM9684 2084l29 19v39l-29 19l-29-19v-39zM9684 2201l29 19v39l-29 19l-29-19v-39zM9742 2201l29 19v39l-29 19l-29-19v-39zM9742 2434l29 19v39l-29 19l-29-19v-39zM9742 2550l29 19v39l-29 19l-29-19v-39zM9800 2317l29 19v39l-29 19l-29-19v-39zM9800 2434l29 19v39l-29 19l-29-19v-39zM9800 2666l29 19v39l-29 19l-29-19v-39zM9859 2666l29 19v39l-29 19l-29-19v-39zM9859 2783l29 19v39l-29 19l-29-19v-39zM9859 3598l29 19v39l-29 19l-29-19v-39zM9917 2783l29 19v39l-29 19l-29-19v-39zM9917 2899l29 19v39l-29 19l-29-19v-39zM9917 3598l29 19v39l-29 19l-29-19v-39zM9975 2899l29 19v39l-29 19l-29-19v-39zM9975 3598l29 19v39l-29 19l-29-19v-39zM10033 2899l29 19v39l-29 19l-29-19v-39zM10033 3016l29 19v39l-29 19l-29-19v-39zM10033 3598l29 19v39l-29 19l-29-19v-39zM10091 3016l29 19v39l-29 19l-29-19v-39zM10091 3481l29 19v39l-29 19l-29-19v-39zM10091 3598l29 19v39l-29 19l-29-19v-39zM10149 3016l29 19v39l-29 19l-29-19v-39zM10149 3481l29 19v39l-29 19l-29-19v-39zM10208 3365l29 19v39l-29 19l-29-19v-39zM10208 3481l29 19v39l-29 19l-29-19v-39zM10266 3132l29 19v39l-29 19l-29-19v-39zM10266 3365l29 19v39l-29 19l-29-19v-39zM10324 3016l29 19v39l-29 19l-29-19v-39zM10324 3132l29 19v39l-29 19l-29-19v-39zM10324 3248l29 19v39l-29 19l-29-19v-39zM10324 3365l29 19v39l-29 19l-29-19v-39zM10382 3248l29 19v39l-29 19l-29-19v-39zM10382 3365l29 19v39l-29 19l-29-19v-39zM10440 3248l29 19v39l-29 19l-29-19v-39zM10498 3248l29 19v39l-29 19l-29-19v-39z"/>
<path fill="#482e71" d="M9481 2026l29 19v39l-29 19l-29-19v-39zM9539 2026l29 19v39l-29 19l-29-19v-39zM9597 2026l29 19v39l-29 19l-29-19v-39zM9597 2142l29 19v39l-29 19l-29-19v-39zM9655 2259l29 19v39l-29 19l-29-19v-39zM9655 2375l29 19v39l-29 19l-29-19v-39zM9655 2492l29 19v39l-29 19l-29-19v-39zM9655 3656l29 19v39l-29 19l-29-19v-39zM9713 2492l29 19v39l-29 19l-29-19v-39zM9713 2608l29 19v39l-29 19l-29-19v-39zM9713 2725l29 19v39l-29 19l-29-19v-39zM9771 2725l29 19v39l-29 19l-29-19v-39zM9771 2841l29 19v39l-29 19l-29-19v-39zM9771 3656l29 19v39l-29 19l-29-19v-39zM9830 2957l29 19v39l-29 19l-29-19v-39zM9888 2957l29 19v39l-29 19l-29-19v-39zM9946 3540l29 19v39l-29 19l-29-19v-39zM10062 3074l29 19v39l-29 19l-29-19v-39zM10120 3423l29 19v39l-29 19l-29-19v-39zM10178 3307l29 19v39l-29 19l-29-19v-39zM10178 3423l29 19v39l-29 19l-29-19v-39zM10237 3307l29 19v39l-29 19l-29-19v-39zM9568 2084l29 19v39l-29 19l-29-19v-39zM9568 2201l29 19v39l-29 19l-29-19v-39zM9626 2201l29 19v39l-29 19l-29-19v-39zM9626 2317l29 19v39l-29 19l-29-19v-39zM9684 2317l29 19v39l-29 19l-29-19v-39zM9684 2434l29 19v39l-29 19l-29-19v-39zM9684 2550l29 19v39l-29 19l-29-19v-39zM9684 3598l29 19v39l-29 19l-29-19v-39zM9742 2666l29 19v39l-29 19l-29-19v-39zM9742 2783l29 19v39l-29 19l-29-19v-39zM9800 2783l29 19v39l-29 19l-29-19v-39zM9800 3598l29 19v39l-29 19l-29-19v-39zM9859 2899l29 19v39l-29 19l-29-19v-39zM10033 3481l29 19v39l-29 19l-29-19v-39zM10149 3132l29 19v39l-29 19l-29-19v-39zM10208 3132l29 19v39l-29 19l-29-19v-39zM10208 3248l29 19v39l-29 19l-29-19v-39zM10266 3248l29 19v39l-29 19l-29-19v-39z"/>
<path fill="#483477" d="M9248 2026l29 19v39l-29 19l-29-19v-39zM9306 2026l29 19v39l-29 19l-29-19v-39zM9364 2026l29 19v39l-29 19l-29-19v-39zM9423 2026l29 19v39l-29 19l-29-19v-39zM9423 3656l29 19v39l-29 19l-29-19v-39zM9481 3656l29 19v39l-29 19l-29-19v-39zM9539 2142l29 19v39l-29 19l-29-19v-39zM9539 2259l29 19v39l-29 19l-29-19v-39zM9539 3656l29 19v39l-29 19l-29-19v-39zM9597 2259l29 19v39l-29 19l-29-19v-39zM9597 2375l29 19v39l-29 19l-29-19v-39zM9597 3656l29 19v39l-29 19l-29-19v-39zM9655 2608l29 19v39l-29 19l-29-19v-39zM9713 2841l29 19v39l-29 19l-29-19v-39zM9713 3540l29 19v39l-29 19l-29-19v-39zM9771 2957l29 19v39l-29 19l-29-19v-39zM9771 3540l29 19v39l-29 19l-29-19v-39zM9830 3540l29 19v39l-29 19l-29-19v-39zM9888 3540l29 19v39l-29 19l-29-19v-39zM9946 3074l29 19v39l-29 19l-29-19v-39zM9946 3423l29 19v39l-29 19l-29-19v-39zM10004 3074l29 19v39l-29 19l-29-19v-39zM10004 3423l29 19v39l-29 19l-29-19v-39zM10062 3423l29 19v39l-29 19l-29-19v-39zM10120 3190l29 19v39l-29 19l-29-19v-39zM10120 3307l29 19v39l-29 19l-29-19v-39zM10178 3190l29 19v39l-29 19l-29-19v-39zM9452 2084l29 19v39l-29 19l-29-19v-39zM9510 2084l29 19v39l-29 19l-29-19v-39zM9568 2317l29 19v39l-29 19l-29-19v-39zM9568 3598l29 19v39l-29 19l-29-19v-39zM9626 2434l29 19v39l-29 19l-29-19v-39zM9626 2550l29 19v39l-29 19l-29-19v-39zM9626 3598l29 19v39l-29 19l-29-19v-39zM9684 2666l29 19v39l-29 19l-29-19v-39zM9684 2783l29 19v39l-29 19l-29-19v-39zM9742 2899l29 19v39l-29 19l-29-19v-39zM9742 3598l29 19v39l-29 19l-29-19v-39zM9800 2899l29 19v39l-29 19l-29-19v-39zM9917 3016l29 19v39l-29 19l-29-19v-39zM9917 3481l29 19v39l-29 19l-29-19v-39zM9975 3016l29 19v39l-29 19l-29-19v-39zM9975 3481l29 19v39l-29 19l-29-19v-39zM10033 3132l29 19v39l-29 19l-29-19v-39zM10091 3132l29 19v39l-29 19l-29-19v-39zM10091 3365l29 19v39l-29 19l-29-19v-39zM10149 3248l29 19v39l-29 19l-29-19v-39zM10149 3365l29 19v39l-29 19l-29-19v-39z"/>
<path fill="#473a7c" d="M9190 2026l29 19v39l-29 19l-29-19v-39zM9248 2142l29 19v39l-29 19l-29-19v-39zM9306 2142l29 19v39l-29 19l-29-19v-39zM9306 3656l29 19v39l-29 19l-29-19v-39zM9364 2142l29 19v39l-29 19l-29-19v-39zM9364 3656l29 19v39l-29 19l-29-19v-39zM9423 2142l29 19v39l-29 19l-29-19v-39zM9423 2259l29 19v39l-29 19l-29-19v-39zM9481 2142l29 19v39l-29 19l-29-19v-39zM9481 2259l29 19v39l-29 19l-29-19v-39zM9539 2375l29 19v39l-29 19l-29-19v-39zM9597 2492l29 19v39l-29 19l-29-19v-39zM9597 2608l29 19v39l-29 19l-29-19v-39zM9655 2725l29 19v39l-29 19l-29-19v-39zM9655 3540l29 19v39l-29 19l-29-19v-39zM9713 2957l29 19v39l-29 19l-29-19v-39zM9830 3423l29 19v39l-29 19l-29-19v-39zM9888 3074l29 19v39l-29 19l-29-19v-39zM9888 3423l29 19v39l-29 19l-29-19v-39zM10062 3190l29 19v39l-29 19l-29-19v-39zM10062 3307l29 19v39l-29 19l-29-19v-39zM9277 2084l29 19v39l-29 19l-29-19v-39zM9277 3598l29 19v39l-29 19l-29-19v-39zM9335 2084l29 19v39l-29 19l-29-19v-39zM9394 2084l29 19v39l-29 19l-29-19v-39zM9452 2201l29 19v39l-29 19l-29-19v-39zM9452 3598l29 19v39l-29 19l-29-19v-39zM9510 2201l29 19v39l-29 19l-29-19v-39zM9510 2317l29 19v39l-29 19l-29-19v-39zM9568 2434l29 19v39l-29 19l-29-19v-39zM9626 2666l29 19v39l-29 19l-29-19v-39zM9684 2899l29 19v39l-29 19l-29-19v-39zM9800 3481l29 19v39l-29 19l-29-19v-39zM9859 3016l29 19v39l-29 19l-29-19v-39zM9859 3481l29 19v39l-29 19l-29-19v-39zM9975 3132l29 19v39l-29 19l-29-19v-39zM9975 3365l29 19v39l-29 19l-29-19v-39zM10033 3365l29 19v39l-29 19l-29-19v-39zM10091 3248l29 19v39l-29 19l-29-19v-39z"/>
<path fill="#463f80" d="M9248 3656l29 19v39l-29 19l-29-19v-39zM9306 2259l29 19v39l-29 19l-29-19v-39zM9364 2259l29 19v39l-29 19l-29-19v-39zM9539 2492l29 19v39l-29 19l-29-19v-39zM9597 2725l29 19v39l-29 19l-29-19v-39zM9597 2841l29 19v39l-29 19l-29-19v-39zM9597 3540l29 19v39l-29 19l-29-19v-39zM9655 2841l29 19v39l-29 19l-29-19v-39zM9830 3074l29 19v39l-29 19l-29-19v-39zM9946 3190l29 19v39l-29 19l-29-19v-39zM10004 3190l29 19v39l-29 19l-29-19v-39zM10004 3307l29 19v39l-29 19l-29-19v-39zM9219 2084l29 19v39l-29 19l-29-19v-39zM9277 2201l29 19v39l-29 19l-29-19v-39zM9335 2201l29 19v39l-29 19l-29-19v-39zM9335 3598l29 19v39l-29 19l-29-19v-39zM9394 2201l29 19v39l-29 19l-29-19v-39zM9394 3598l29 19v39l-29 19l-29-19v-39zM9452 2317l29 19v39l-29 19l-29-19v-39zM9452 2434l29 19v39l-29 19l-29-19v-39zM9510 2434l29 19v39l-29 19l-29-19v-39zM9510 3598l29 19v39l-29 19l-29-19v-39zM9568 2550l29 19v39l-29 19l-29-19v-39zM9568 2666l29 19v39l-29 19l-29-19v-39zM9626 2783l29 19v39l-29 19l-29-19v-39zM9626 2899l29 19v39l-29 19l-29-19v-39zM9742 3481l29 19v39l-29 19l-29-19v-39zM9800 3016l29 19v39l-29 19l-29-19v-39zM9859 3132l29 19v39l-29 19l-29-19v-39zM9917 3132l29 19v39l-29 19l-29-19v-39zM9917 3365l29 19v39l-29 19l-29-19v-39zM9975 3248l29 19v39l-29 19l-29-19v-39zM10033 3248l29 19v39l-29 19l-29-19v-39z"/>
<path fill="#444484" d="M9248 2259l29 19v39l-29 19l-29-19v-39zM9306 3540l29 19v39l-29 19l-29-19v-39zM9423 2375l29 19v39l-29 19l-29-19v-39zM9481 2375l29 19v39l-29 19l-29-19v-39zM9481 2492l29 19v39l-29 19l-29-19v-39zM9539 2608l29 19v39l-29 19l-29-19v-39zM9539 3540l29 19v39l-29 19l-29-19v-39zM9771 3074l29 19v39l-29 19l-29-19v-39zM9771 3423l29 19v39l-29 19l-29-19v-39zM9888 3307l29 19v39l-29 19l-29-19v-39zM9946 3307l29 19v39l-29 19l-29-19v-39zM9394 2317l29 19v39l-29 19l-29-19v-39zM9510 2550l29 19v39l-29 19l-29-19v-39zM9568 2783l29 19v39l-29 19l-29-19v-39zM9684 3481l29 19v39l-29 19l-29-19v-39zM9742 3016l29 19v39l-29 19l-29-19v-39zM9800 3132l29 19v39l-29 19l-29-19v-39zM9859 3365l29 19v39l-29 19l-29-19v-39zM9917 3248l29 19v39l-29 19l-29-19v-39z"/>
<path fill="#424a87" d="M9190 2142l29 19v39l-29 19l-29-19v-39zM9364 3540l29 19v39l-29 19l-29-19v-39zM9423 2492l29 19v39l-29 19l-29-19v-39zM9423 3540l29 19v39l-29 19l-29-19v-39zM9481 2608l29 19v39l-29 19l-29-19v-39zM9481 3540l29 19v39l-29 19l-29-19v-39zM9539 2725l29 19v39l-29 19l-29-19v-39zM9655 2957l29 19v39l-29 19l-29-19v-39zM9655 3423l29 19v39l-29 19l-29-19v-39zM9713 3074l29 19v39l-29 19l-29-19v-39zM9713 3423l29 19v39l-29 19l-29-19v-39zM9888 3190l29 19v39l-29 19l-29-19v-39zM9277 2317l29 19v39l-29 19l-29-19v-39zM9335 2317l29 19v39l-29 19l-29-19v-39zM9394 2550l29 19v39l-29 19l-29-19v-39zM9510 2666l29 19v39l-29 19l-29-19v-39zM9568 2899l29 19v39l-29 19l-29-19v-39zM9568 3481l29 19v39l-29 19l-29-19v-39zM9626 3481l29 19v39l-29 19l-29-19v-39zM9684 3016l29 19v39l-29 19l-29-19v-39zM9859 3248l29 19v39l-29 19l-29-19v-39z"/>
<path fill="#3f4f89" d="M9306 2375l29 19v39l-29 19l-29-19v-39zM9364 2375l29 19v39l-29 19l-29-19v-39zM9364 2492l29 19v39l-29 19l-29-19v-39zM9423 2608l29 19v39l-29 19l-29-19v-39zM9423 2725l29 19v39l-29 19l-29-19v-39zM9481 2725l29 19v39l-29 19l-29-19v-39zM9539 2841l29 19v39l-29 19l-29-19v-39zM9597 2957l29 19v39l-29 19l-29-19v-39zM9830 3307l29 19v39l-29 19l-29-19v-39zM9277 2434l29 19v39l-29 19l-29-19v-39zM9335 2434l29 19v39l-29 19l-29-19v-39zM9452 2666l29 19v39l-29 19l-29-19v-39zM9452 2783l29 19v39l-29 19l-29-19v-39zM9510 2783l29 19v39l-29 19l-29-19v-39zM9510 3481l29 19v39l-29 19l-29-19v-39zM9626 3016l29 19v39l-29 19l-29-19v-39zM9684 3365l29 19v39l-29 19l-29-19v-39zM9742 3365l29 19v39l-29 19l-29-19v-39zM9800 3365l29 19v39l-29 19l-29-19v-39z"/>
<path fill="#3c548b" d="M9248 2375l29 19v39l-29 19l-29-19v-39zM9248 3540l29 19v39l-29 19l-29-19v-39zM9306 2492l29 19v39l-29 19l-29-19v-39zM9306 2725l29 19v39l-29 19l-29-19v-39zM9364 2608l29 19v39l-29 19l-29-19v-39zM9481 2841l29 19v39l-29 19l-29-19v-39zM9539 2957l29 19v39l-29 19l-29-19v-39zM9597 3423l29 19v39l-29 19l-29-19v-39zM9655 3074l29 19v39l-29 19l-29-19v-39zM9771 3190l29 19v39l-29 19l-29-19v-39zM9830 3190l29 19v39l-29 19l-29-19v-39zM9219 2201l29 19v39l-29 19l-29-19v-39zM9277 2550l29 19v39l-29 19l-29-19v-39zM9277 2666l29 19v39l-29 19l-29-19v-39zM9335 2550l29 19v39l-29 19l-29-19v-39zM9394 2434l29 19v39l-29 19l-29-19v-39zM9394 2666l29 19v39l-29 19l-29-19v-39zM9452 2550l29 19v39l-29 19l-29-19v-39zM9452 2899l29 19v39l-29 19l-29-19v-39zM9452 3481l29 19v39l-29 19l-29-19v-39zM9510 2899l29 19v39l-29 19l-29-19v-39z"/>
<path fill="#3a578c" d="M9190 2259l29 19v39l-29 19l-29-19v-39zM9306 2608l29 19v39l-29 19l-29-19v-39zM9364 2841l29 19v39l-29 19l-29-19v-39zM9423 2841l29 19v39l-29 19l-29-19v-39zM9481 2957l29 19v39l-29 19l-29-19v-39zM9771 3307l29 19v39l-29 19l-29-19v-39zM9277 2783l29 19v39l-29 19l-29-19v-39zM9277 3481l29 19v39l-29 19l-29-19v-39zM9335 2666l29 19v39l-29 19l-29-19v-39zM9335 2783l29 19v39l-29 19l-29-19v-39zM9394 2783l29 19v39l-29 19l-29-19v-39zM9394 2899l29 19v39l-29 19l-29-19v-39zM9394 3481l29 19v39l-29 19l-29-19v-39zM9626 3365l29 19v39l-29 19l-29-19v-39zM9742 3132l29 19v39l-29 19l-29-19v-39zM9742 3248l29 19v39l-29 19l-29-19v-39zM9800 3248l29 19v39l-29 19l-29-19v-39z"/>
<path fill="#375c8d" d="M9248 2608l29 19v39l-29 19l-29-19v-39zM9306 2841l29 19v39l-29 19l-29-19v-39zM9306 2957l29 19v39l-29 19l-29-19v-39zM9364 2725l29 19v39l-29 19l-29-19v-39zM9539 3074l29 19v39l-29 19l-29-19v-39zM9539 3423l29 19v39l-29 19l-29-19v-39zM9655 3307l29 19v39l-29 19l-29-19v-39zM9277 2899l29 19v39l-29 19l-29-19v-39zM9335 2899l29 19v39l-29 19l-29-19v-39zM9335 3481l29 19v39l-29 19l-29-19v-39zM9510 3016l29 19v39l-29 19l-29-19v-39zM9568 3016l29 19v39l-29 19l-29-19v-39zM9684 3132l29 19v39l-29 19l-29-19v-39z"/>
<path fill="#34618d" d="M9190 3656l29 19v39l-29 19l-29-19v-39zM9248 2492l29 19v39l-29 19l-29-19v-39zM9364 2957l29 19v39l-29 19l-29-19v-39zM9597 3074l29 19v39l-29 19l-29-19v-39zM9713 3190l29 19v39l-29 19l-29-19v-39zM9713 3307l29 19v39l-29 19l-29-19v-39zM9219 2317l29 19v39l-29 19l-29-19v-39zM9568 3365l29 19v39l-29 19l-29-19v-39zM9626 3132l29 19v39l-29 19l-29-19v-39zM9684 3248l29 19v39l-29 19l-29-19v-39z"/>
<path fill="#31678e" d="M9481 3423l29 19v39l-29 19l-29-19v-39zM9452 3016l29 19v39l-29 19l-29-19v-39zM9626 3248l29 19v39l-29 19l-29-19v-39z"/>
<path fill="#2e6d8e" d="M9190 2375l29 19v39l-29 19l-29-19v-39zM9248 2725l29 19v39l-29 19l-29-19v-39zM9364 3423l29 19v39l-29 19l-29-19v-39zM9597 3307l29 19v39l-29 19l-29-19v-39zM9655 3190l29 19v39l-29 19l-29-19v-39zM9277 3016l29 19v39l-29 19l-29-19v-39zM9568 3132l29 19v39l-29 19l-29-19v-39z"/>
<path fill="#2c728e" d="M9306 3423l29 19v39l-29 19l-29-19v-39zM9423 2957l29 19v39l-29 19l-29-19v-39zM9423 3423l29 19v39l-29 19l-29-19v-39zM9539 3190l29 19v39l-29 19l-29-19v-39zM9335 3016l29 19v39l-29 19l-29-19v-39zM9394 3016l29 19v39l-29 19l-29-19v-39z"/>
<path fill="#2a778e" d="M9481 3074l29 19v39l-29 19l-29-19v-39zM9597 3190l29 19v39l-29 19l-29-19v-39zM9510 3132l29 19v39l-29 19l-29-19v-39zM9510 3365l29 19v39l-29 19l-29-19v-39zM9568 3248l29 19v39l-29 19l-29-19v-39z"/>
<path fill="#287d8e" d="M9423 3074l29 19v39l-29 19l-29-19v-39zM9539 3307l29 19v39l-29 19l-29-19v-39zM9510 3248l29 19v39l-29 19l-29-19v-39z"/>
<path fill="#26828e" d="M9306 3074l29 19v39l-29 19l-29-19v-39zM9219 3598l29 19v39l-29 19l-29-19v-39zM9394 3365l29 19v39l-29 19l-29-19v-39z"/>
<path fill="#23888e" d="M9190 2492l29 19v39l-29 19l-29-19v-39zM9248 2841l29 19v39l-29 19l-29-19v-39zM9364 3074l29 19v39l-29 19l-29-19v-39zM9481 3307l29 19v39l-29 19l-29-19v-39z"/>
<path fill="#218e8d" d="M9481 3190l29 19v39l-29 19l-29-19v-39zM9219 2434l29 19v39l-29 19l-29-19v-39zM9452 3248l29 19v39l-29 19l-29-19v-39zM9452 3365l29 19v39l-29 19l-29-19v-39z"/>
<path fill="#20928c" d="M9190 3540l29 19v39l-29 19l-29-19v-39zM9277 3365l29 19v39l-29 19l-29-19v-39zM9335 3365l29 19v39l-29 19l-29-19v-39zM9452 3132l29 19v39l-29 19l-29-19v-39z"/>
<path fill="#1f9e89" d="M9248 2957l29 19v39l-29 19l-29-19v-39zM9335 3132l29 19v39l-29 19l-29-19v-39zM9394 3132l29 19v39l-29 19l-29-19v-39z"/>
<path fill="#20a386" d="M9364 3307l29 19v39l-29 19l-29-19v-39zM9423 3190l29 19v39l-29 19l-29-19v-39zM9423 3307l29 19v39l-29 19l-29-19v-39zM9219 2550l29 19v39l-29 19l-29-19v-39z"/>
<path fill="#23a983" d="M9277 3132l29 19v39l-29 19l-29-19v-39zM9335 3248l29 19v39l-29 19l-29-19v-39z"/>
<path fill="#28ae80" d="M9364 3190l29 19v39l-29 19l-29-19v-39z"/>
<path fill="#2eb37c" d="M9248 3423l29 19v39l-29 19l-29-19v-39zM9306 3307l29 19v39l-29 19l-29-19v-39zM9394 3248l29 19v39l-29 19l-29-19v-39z"/>
<path fill="#37b878" d="M9306 3190l29 19v39l-29 19l-29-19v-39z"/>
<path fill="#4cc26c" d="M9190 2608l29 19v39l-29 19l-29-19v-39z"/>
<path fill="#70cf57" d="M9248 3074l29 19v39l-29 19l-29-19v-39zM9219 3481l29 19v39l-29 19l-29-19v-39zM9277 3248l29 19v39l-29 19l-29-19v-39z"/>
<path fill="#8ed645" d="M9219 2666l29 19v39l-29 19l-29-19v-39z"/>
<path fill="#f8e621" d="M9190 2725l29 19v39l-29 19l-29-19v-39zM9190 2841l29 19v39l-29 19l-29-19v-39zM9190 2957l29 19v39l-29 19l-29-19v-39zM9190 3074l29 19v39l-29 19l-29-19v-39zM9190 3190l29 19v39l-29 19l-29-19v-39zM9190 3307l29 19v39l-29 19l-29-19v-39zM9190 3423l29 19v39l-29 19l-29-19v-39zM9248 3190l29 19v39l-29 19l-29-19v-39zM9248 3307l29 19v39l-29 19l-29-19v-39zM9219 2783l29 19v39l-29 19l-29-19v-39zM9219 2899l29 19v39l-29 19l-29-19v-39zM9219 3016l29 19v39l-29 19l-29-19v-39zM9219 3132l29 19v39l-29 19l-29-19v-39zM9219 3248l29 19v39l-29 19l-29-19v-39zM9219 3365l29 19v39l-29 19l-29-19v-39z"/>
</g>
</g>
<line x1="459.5" y1="184.7" x2="459.5" y2="187" stroke="#333" stroke-width="0.6"/>
<text x="459.5" y="198.4" text-anchor="middle">0</text>
<line x1="500.2" y1="184.7" x2="500.2" y2="187" stroke="#333" stroke-width="0.6"/>
<text x="500.2" y="198.4" text-anchor="middle">80</text>
<line x1="540.9" y1="184.7" x2="540.9" y2="187" stroke="#333" stroke-width="0.6"/>
<text x="540.9" y="198.4" text-anchor="middle">160</text>
<line x1="457.2" y1="103.2" x2="459.5" y2="103.2" stroke="#333" stroke-width="0.6"/>
<line x1="457.2" y1="143.95" x2="459.5" y2="143.95" stroke="#333" stroke-width="0.6"/>
<line x1="457.2" y1="184.7" x2="459.5" y2="184.7" stroke="#333" stroke-width="0.6"/>
<text x="500.2" y="211.6" text-anchor="middle">Velocity (µm s<tspan font-size="6.2" dy="-3">−1</tspan><tspan dy="3">)</tspan></text>
<clipPath id="ch4"><rect x="552.8" y="103.2" width="81.4" height="81.5"/></clipPath>
<g clip-path="url(#ch4)">
<rect x="552.8" y="103.2" width="81.4" height="81.5" fill="#451a59"/>
<g transform="scale(0.05)" filter="url(#sa)">
<path fill="#472162" d="M11812 3656l29 19v39l-29 19l-29-19v-39zM11928 2026l29 19v39l-29 19l-29-19v-39zM11928 3656l29 19v39l-29 19l-29-19v-39zM11986 2026l29 19v39l-29 19l-29-19v-39zM11986 3656l29 19v39l-29 19l-29-19v-39zM12044 2026l29 19v39l-29 19l-29-19v-39zM12044 3656l29 19v39l-29 19l-29-19v-39zM12103 2026l29 19v39l-29 19l-29-19v-39zM12103 2142l29 19v39l-29 19l-29-19v-39zM12103 2259l29 19v39l-29 19l-29-19v-39zM12103 2375l29 19v39l-29 19l-29-19v-39zM12103 3656l29 19v39l-29 19l-29-19v-39zM12161 2026l29 19v39l-29 19l-29-19v-39zM12161 2142l29 19v39l-29 19l-29-19v-39zM12161 2259l29 19v39l-29 19l-29-19v-39zM12161 2375l29 19v39l-29 19l-29-19v-39zM12161 3540l29 19v39l-29 19l-29-19v-39zM12161 3656l29 19v39l-29 19l-29-19v-39zM12219 2142l29 19v39l-29 19l-29-19v-39zM12219 2259l29 19v39l-29 19l-29-19v-39zM12219 2375l29 19v39l-29 19l-29-19v-39zM12219 2492l29 19v39l-29 19l-29-19v-39zM12219 2608l29 19v39l-29 19l-29-19v-39zM12219 2725l29 19v39l-29 19l-29-19v-39zM12219 2841l29 19v39l-29 19l-29-19v-39zM12219 3540l29 19v39l-29 19l-29-19v-39zM12277 2026l29 19v39l-29 19l-29-19v-39zM12277 2142l29 19v39l-29 19l-29-19v-39zM12277 2259l29 19v39l-29 19l-29-19v-39zM12277 2375l29 19v39l-29 19l-29-19v-39zM12277 2492l29 19v39l-29 19l-29-19v-39zM12277 2608l29 19v39l-29 19l-29-19v-39zM12277 2725l29 19v39l-29 19l-29-19v-39zM12277 2841l29 19v39l-29 19l-29-19v-39zM12277 2957l29 19v39l-29 19l-29-19v-39zM12277 3074l29 19v39l-29 19l-29-19v-39zM12277 3540l29 19v39l-29 19l-29-19v-39zM12335 2142l29 19v39l-29 19l-29-19v-39zM12335 2259l29 19v39l-29 19l-29-19v-39zM12335 2375l29 19v39l-29 19l-29-19v-39zM12335 2492l29 19v39l-29 19l-29-19v-39zM12335 2608l29 19v39l-29 19l-29-19v-39zM12335 2725l29 19v39l-29 19l-29-19v-39zM12335 2841l29 19v39l-29 19l-29-19v-39zM12335 2957l29 19v39l-29 19l-29-19v-39zM12335 3074l29 19v39l-29 19l-29-19v-39zM12335 3423l29 19v39l-29 19l-29-19v-39zM12393 2142l29 19v39l-29 19l-29-19v-39zM12393 2259l29 19v39l-29 19l-29-19v-39zM12393 2375l29 19v39l-29 19l-29-19v-39zM12393 2492l29 19v39l-29 19l-29-19v-39zM12393 2608l29 19v39l-29 19l-29-19v-39zM12393 2725l29 19v39l-29 19l-29-19v-39zM12393 2841l29 19v39l-29 19l-29-19v-39zM12393 2957l29 19v39l-29 19l-29-19v-39zM12393 3074l29 19v39l-29 19l-29-19v-39zM12393 3190l29 19v39l-29 19l-29-19v-39zM12393 3307l29 19v39l-29 19l-29-19v-39zM12393 3423l29 19v39l-29 19l-29-19v-39zM12451 2492l29 19v39l-29 19l-29-19v-39zM12451 2841l29 19v39l-29 19l-29-19v-39zM12451 2957l29 19v39l-29 19l-29-19v-39zM12451 3074l29 19v39l-29 19l-29-19v-39zM12451 3307l29 19v39l-29 19l-29-19v-39zM12451 3423l29 19v39l-29 19l-29-19v-39zM12451 3540l29 19v39l-29 19l-29-19v-39zM12510 2725l29 19v39l-29 19l-29-19v-39zM12510 3307l29 19v39l-29 19l-29-19v-39zM12568 2026l29 19v39l-29 19l-29-19v-39zM12568 3074l29 19v39l-29 19l-29-19v-39zM12626 2608l29 19v39l-29 19l-29-19v-39zM12626 2725l29 19v39l-29 19l-29-19v-39zM12626 3656l29 19v39l-29 19l-29-19v-39zM11957 2084l29 19v39l-29 19l-29-19v-39zM12015 2084l29 19v39l-29 19l-29-19v-39zM12015 3598l29 19v39l-29 19l-29-19v-39zM12074 2084l29 19v39l-29 19l-29-19v-39zM12074 3598l29 19v39l-29 19l-29-19v-39zM12132 2084l29 19v39l-29 19l-29-19v-39zM12132 2201l29 19v39l-29 19l-29-19v-39zM12132 2317l29 19v39l-29 19l-29-19v-39zM12132 2434l29 19v39l-29 19l-29-19v-39zM12132 3598l29 19v39l-29 19l-29-19v-39zM12190 2084l29 19v39l-29 19l-29-19v-39zM12190 2201l29 19v39l-29 19l-29-19v-39zM12190 2317l29 19v39l-29 19l-29-19v-39zM12190 2434l29 19v39l-29 19l-29-19v-39zM12190 2550l29 19v39l-29 19l-29-19v-39zM12190 2783l29 19v39l-29 19l-29-19v-39zM12190 2899l29 19v39l-29 19l-29-19v-39zM12190 3016l29 19v39l-29 19l-29-19v-39zM12190 3598l29 19v39l-29 19l-29-19v-39zM12248 2201l29 19v39l-29 19l-29-19v-39zM12248 2317l29 19v39l-29 19l-29-19v-39zM12248 2434l29 19v39l-29 19l-29-19v-39zM12248 2550l29 19v39l-29 19l-29-19v-39zM12248 2666l29 19v39l-29 19l-29-19v-39zM12248 2783l29 19v39l-29 19l-29-19v-39zM12248 2899l29 19v39l-29 19l-29-19v-39zM12248 3016l29 19v39l-29 19l-29-19v-39zM12248 3481l29 19v39l-29 19l-29-19v-39zM12248 3598l29 19v39l-29 19l-29-19v-39zM12306 2084l29 19v39l-29 19l-29-19v-39zM12306 2201l29 19v39l-29 19l-29-19v-39zM12306 2317l29 19v39l-29 19l-29-19v-39zM12306 2434l29 19v39l-29 19l-29-19v-39zM12306 2550l29 19v39l-29 19l-29-19v-39zM12306 2666l29 19v39l-29 19l-29-19v-39zM12306 2783l29 19v39l-29 19l-29-19v-39zM12306 2899l29 19v39l-29 19l-29-19v-39zM12306 3016l29 19v39l-29 19l-29-19v-39zM12306 3132l29 19v39l-29 19l-29-19v-39zM12306 3481l29 19v39l-29 19l-29-19v-39zM12306 3598l29 19v39l-29 19l-29-19v-39zM12364 2317l29 19v39l-29 19l-29-19v-39zM12364 2434l29 19v39l-29 19l-29-19v-39zM12364 2550l29 19v39l-29 19l-29-19v-39zM12364 2666l29 19v39l-29 19l-29-19v-39zM12364 2783l29 19v39l-29 19l-29-19v-39zM12364 2899l29 19v39l-29 19l-29-19v-39zM12364 3016l29 19v39l-29 19l-29-19v-39zM12364 3132l29 19v39l-29 19l-29-19v-39zM12364 3248l29 19v39l-29 19l-29-19v-39zM12364 3365l29 19v39l-29 19l-29-19v-39zM12364 3481l29 19v39l-29 19l-29-19v-39zM12422 2201l29 19v39l-29 19l-29-19v-39zM12422 2317l29 19v39l-29 19l-29-19v-39zM12422 3016l29 19v39l-29 19l-29-19v-39zM12422 3132l29 19v39l-29 19l-29-19v-39zM12422 3248l29 19v39l-29 19l-29-19v-39zM12422 3365l29 19v39l-29 19l-29-19v-39zM12422 3481l29 19v39l-29 19l-29-19v-39zM12480 2084l29 19v39l-29 19l-29-19v-39zM12480 3132l29 19v39l-29 19l-29-19v-39zM12480 3248l29 19v39l-29 19l-29-19v-39zM12480 3481l29 19v39l-29 19l-29-19v-39zM12539 2084l29 19v39l-29 19l-29-19v-39zM12539 2317l29 19v39l-29 19l-29-19v-39zM12539 3248l29 19v39l-29 19l-29-19v-39zM12597 2201l29 19v39l-29 19l-29-19v-39zM12597 3016l29 19v39l-29 19l-29-19v-39zM12597 3248l29 19v39l-29 19l-29-19v-39zM12597 3365l29 19v39l-29 19l-29-19v-39zM12655 3016l29 19v39l-29 19l-29-19v-39zM12655 3365l29 19v39l-29 19l-29-19v-39z"/>
<path fill="#48286a" d="M11172 3656l29 19v39l-29 19l-29-19v-39zM11230 3656l29 19v39l-29 19l-29-19v-39zM11289 3656l29 19v39l-29 19l-29-19v-39zM11347 3656l29 19v39l-29 19l-29-19v-39zM11405 3656l29 19v39l-29 19l-29-19v-39zM11463 3656l29 19v39l-29 19l-29-19v-39zM11521 3656l29 19v39l-29 19l-29-19v-39zM11579 3656l29 19v39l-29 19l-29-19v-39zM11637 3656l29 19v39l-29 19l-29-19v-39zM11696 3656l29 19v39l-29 19l-29-19v-39zM11754 2026l29 19v39l-29 19l-29-19v-39zM11754 3656l29 19v39l-29 19l-29-19v-39zM11812 2026l29 19v39l-29 19l-29-19v-39zM11870 2026l29 19v39l-29 19l-29-19v-39zM11870 2142l29 19v39l-29 19l-29-19v-39zM11870 3656l29 19v39l-29 19l-29-19v-39zM11928 2142l29 19v39l-29 19l-29-19v-39zM11928 2259l29 19v39l-29 19l-29-19v-39zM11986 2142l29 19v39l-29 19l-29-19v-39zM11986 2259l29 19v39l-29 19l-29-19v-39zM11986 2608l29 19v39l-29 19l-29-19v-39zM12044 2142l29 19v39l-29 19l-29-19v-39zM12044 2259l29 19v39l-29 19l-29-19v-39zM12044 2375l29 19v39l-29 19l-29-19v-39zM12044 2492l29 19v39l-29 19l-29-19v-39zM12044 2608l29 19v39l-29 19l-29-19v-39zM12044 2725l29 19v39l-29 19l-29-19v-39zM12044 2841l29 19v39l-29 19l-29-19v-39zM12044 2957l29 19v39l-29 19l-29-19v-39zM12044 3540l29 19v39l-29 19l-29-19v-39zM12103 2492l29 19v39l-29 19l-29-19v-39zM12103 2608l29 19v39l-29 19l-29-19v-39zM12103 2725l29 19v39l-29 19l-29-19v-39zM12103 2841l29 19v39l-29 19l-29-19v-39zM12103 2957l29 19v39l-29 19l-29-19v-39zM12103 3540l29 19v39l-29 19l-29-19v-39zM12161 2492l29 19v39l-29 19l-29-19v-39zM12161 2608l29 19v39l-29 19l-29-19v-39zM12161 2725l29 19v39l-29 19l-29-19v-39zM12161 2841l29 19v39l-29 19l-29-19v-39zM12161 2957l29 19v39l-29 19l-29-19v-39zM12161 3074l29 19v39l-29 19l-29-19v-39zM12219 2957l29 19v39l-29 19l-29-19v-39zM12219 3074l29 19v39l-29 19l-29-19v-39zM12219 3423l29 19v39l-29 19l-29-19v-39zM12277 3190l29 19v39l-29 19l-29-19v-39zM12277 3423l29 19v39l-29 19l-29-19v-39zM12335 3190l29 19v39l-29 19l-29-19v-39zM12335 3307l29 19v39l-29 19l-29-19v-39zM11783 3598l29 19v39l-29 19l-29-19v-39zM11841 2084l29 19v39l-29 19l-29-19v-39zM11841 3598l29 19v39l-29 19l-29-19v-39zM11899 2084l29 19v39l-29 19l-29-19v-39zM11899 2201l29 19v39l-29 19l-29-19v-39zM11899 2317l29 19v39l-29 19l-29-19v-39zM11899 3598l29 19v39l-29 19l-29-19v-39zM11957 2201l29 19v39l-29 19l-29-19v-39zM11957 2317l29 19v39l-29 19l-29-19v-39zM11957 2434l29 19v39l-29 19l-29-19v-39zM11957 3598l29 19v39l-29 19l-29-19v-39zM12015 2201l29 19v39l-29 19l-29-19v-39zM12015 2317l29 19v39l-29 19l-29-19v-39zM12015 2434l29 19v39l-29 19l-29-19v-39zM12015 2550l29 19v39l-29 19l-29-19v-39zM12015 2783l29 19v39l-29 19l-29-19v-39zM12074 2201l29 19v39l-29 19l-29-19v-39zM12074 2317l29 19v39l-29 19l-29-19v-39zM12074 2434l29 19v39l-29 19l-29-19v-39zM12074 2550l29 19v39l-29 19l-29-19v-39zM12074 2666l29 19v39l-29 19l-29-19v-39zM12074 2783l29 19v39l-29 19l-29-19v-39zM12074 2899l29 19v39l-29 19l-29-19v-39zM12132 2550l29 19v39l-29 19l-29-19v-39zM12132 2666l29 19v39l-29 19l-29-19v-39zM12132 2783l29 19v39l-29 19l-29-19v-39zM12132 2899l29 19v39l-29 19l-29-19v-39zM12132 3016l29 19v39l-29 19l-29-19v-39zM12132 3481l29 19v39l-29 19l-29-19v-39zM12190 2666l29 19v39l-29 19l-29-19v-39zM12190 3481l29 19v39l-29 19l-29-19v-39zM12248 3132l29 19v39l-29 19l-29-19v-39zM12248 3365l29 19v39l-29 19l-29-19v-39zM12306 3248l29 19v39l-29 19l-29-19v-39zM12306 3365l29 19v39l-29 19l-29-19v-39z"/>
<path fill="#482e71" d="M11114 2026l29 19v39l-29 19l-29-19v-39zM11114 3656l29 19v39l-29 19l-29-19v-39zM11172 2026l29 19v39l-29 19l-29-19v-39zM11230 2026l29 19v39l-29 19l-29-19v-39zM11347 2026l29 19v39l-29 19l-29-19v-39zM11463 2026l29 19v39l-29 19l-29-19v-39zM11521 2026l29 19v39l-29 19l-29-19v-39zM11579 2026l29 19v39l-29 19l-29-19v-39zM11579 2142l29 19v39l-29 19l-29-19v-39zM11637 2026l29 19v39l-29 19l-29-19v-39zM11696 2026l29 19v39l-29 19l-29-19v-39zM11696 2142l29 19v39l-29 19l-29-19v-39zM11754 2142l29 19v39l-29 19l-29-19v-39zM11812 2142l29 19v39l-29 19l-29-19v-39zM11812 2259l29 19v39l-29 19l-29-19v-39zM11812 2375l29 19v39l-29 19l-29-19v-39zM11870 2259l29 19v39l-29 19l-29-19v-39zM11870 2375l29 19v39l-29 19l-29-19v-39zM11870 2492l29 19v39l-29 19l-29-19v-39zM11870 3540l29 19v39l-29 19l-29-19v-39zM11928 2375l29 19v39l-29 19l-29-19v-39zM11928 2492l29 19v39l-29 19l-29-19v-39zM11928 2608l29 19v39l-29 19l-29-19v-39zM11928 2725l29 19v39l-29 19l-29-19v-39zM11928 2957l29 19v39l-29 19l-29-19v-39zM11928 3540l29 19v39l-29 19l-29-19v-39zM11986 2375l29 19v39l-29 19l-29-19v-39zM11986 2492l29 19v39l-29 19l-29-19v-39zM11986 2725l29 19v39l-29 19l-29-19v-39zM11986 2841l29 19v39l-29 19l-29-19v-39zM11986 2957l29 19v39l-29 19l-29-19v-39zM11986 3540l29 19v39l-29 19l-29-19v-39zM12103 3074l29 19v39l-29 19l-29-19v-39zM12161 3423l29 19v39l-29 19l-29-19v-39zM12219 3190l29 19v39l-29 19l-29-19v-39zM12219 3307l29 19v39l-29 19l-29-19v-39zM12277 3307l29 19v39l-29 19l-29-19v-39zM11143 3598l29 19v39l-29 19l-29-19v-39zM11259 3598l29 19v39l-29 19l-29-19v-39zM11318 3598l29 19v39l-29 19l-29-19v-39zM11376 3598l29 19v39l-29 19l-29-19v-39zM11434 3598l29 19v39l-29 19l-29-19v-39zM11492 3598l29 19v39l-29 19l-29-19v-39zM11550 2084l29 19v39l-29 19l-29-19v-39zM11550 3598l29 19v39l-29 19l-29-19v-39zM11608 3598l29 19v39l-29 19l-29-19v-39zM11666 2084l29 19v39l-29 19l-29-19v-39zM11666 3598l29 19v39l-29 19l-29-19v-39zM11725 2084l29 19v39l-29 19l-29-19v-39zM11725 2201l29 19v39l-29 19l-29-19v-39zM11725 3598l29 19v39l-29 19l-29-19v-39zM11783 2084l29 19v39l-29 19l-29-19v-39zM11783 2201l29 19v39l-29 19l-29-19v-39zM11783 2317l29 19v39l-29 19l-29-19v-39zM11841 2201l29 19v39l-29 19l-29-19v-39zM11841 2317l29 19v39l-29 19l-29-19v-39zM11899 2434l29 19v39l-29 19l-29-19v-39zM11899 2550l29 19v39l-29 19l-29-19v-39zM11899 2899l29 19v39l-29 19l-29-19v-39zM11957 2550l29 19v39l-29 19l-29-19v-39zM11957 2666l29 19v39l-29 19l-29-19v-39zM11957 2783l29 19v39l-29 19l-29-19v-39zM11957 2899l29 19v39l-29 19l-29-19v-39zM12015 2666l29 19v39l-29 19l-29-19v-39zM12015 2899l29 19v39l-29 19l-29-19v-39zM12015 3016l29 19v39l-29 19l-29-19v-39zM12074 3016l29 19v39l-29 19l-29-19v-39zM12074 3481l29 19v39l-29 19l-29-19v-39zM12190 3132l29 19v39l-29 19l-29-19v-39zM12248 3248l29 19v39l-29 19l-29-19v-39z"/>
<path fill="#483477" d="M11114 2142l29 19v39l-29 19l-29-19v-39zM11172 2142l29 19v39l-29 19l-29-19v-39zM11172 3540l29 19v39l-29 19l-29-19v-39zM11230 2142l29 19v39l-29 19l-29-19v-39zM11289 2026l29 19v39l-29 19l-29-19v-39zM11347 2142l29 19v39l-29 19l-29-19v-39zM11405 2026l29 19v39l-29 19l-29-19v-39zM11405 3540l29 19v39l-29 19l-29-19v-39zM11463 2142l29 19v39l-29 19l-29-19v-39zM11463 3540l29 19v39l-29 19l-29-19v-39zM11521 2142l29 19v39l-29 19l-29-19v-39zM11637 2142l29 19v39l-29 19l-29-19v-39zM11637 2259l29 19v39l-29 19l-29-19v-39zM11637 3540l29 19v39l-29 19l-29-19v-39zM11696 2259l29 19v39l-29 19l-29-19v-39zM11696 2492l29 19v39l-29 19l-29-19v-39zM11696 3540l29 19v39l-29 19l-29-19v-39zM11754 2259l29 19v39l-29 19l-29-19v-39zM11812 2492l29 19v39l-29 19l-29-19v-39zM11812 2608l29 19v39l-29 19l-29-19v-39zM11812 2841l29 19v39l-29 19l-29-19v-39zM11812 3540l29 19v39l-29 19l-29-19v-39zM11870 2608l29 19v39l-29 19l-29-19v-39zM11870 2725l29 19v39l-29 19l-29-19v-39zM11870 2841l29 19v39l-29 19l-29-19v-39zM11870 2957l29 19v39l-29 19l-29-19v-39zM11928 2841l29 19v39l-29 19l-29-19v-39zM12044 3074l29 19v39l-29 19l-29-19v-39zM12103 3423l29 19v39l-29 19l-29-19v-39zM12161 3190l29 19v39l-29 19l-29-19v-39zM12161 3307l29 19v39l-29 19l-29-19v-39zM11143 2084l29 19v39l-29 19l-29-19v-39zM11143 2201l29 19v39l-29 19l-29-19v-39zM11201 2084l29 19v39l-29 19l-29-19v-39zM11201 3598l29 19v39l-29 19l-29-19v-39zM11259 2084l29 19v39l-29 19l-29-19v-39zM11318 2084l29 19v39l-29 19l-29-19v-39zM11376 2084l29 19v39l-29 19l-29-19v-39zM11434 2084l29 19v39l-29 19l-29-19v-39zM11492 2084l29 19v39l-29 19l-29-19v-39zM11492 2201l29 19v39l-29 19l-29-19v-39zM11608 2084l29 19v39l-29 19l-29-19v-39zM11608 2201l29 19v39l-29 19l-29-19v-39zM11666 2201l29 19v39l-29 19l-29-19v-39zM11666 2317l29 19v39l-29 19l-29-19v-39zM11725 2317l29 19v39l-29 19l-29-19v-39zM11725 2434l29 19v39l-29 19l-29-19v-39zM11783 2434l29 19v39l-29 19l-29-19v-39zM11783 2666l29 19v39l-29 19l-29-19v-39zM11783 2783l29 19v39l-29 19l-29-19v-39zM11841 2434l29 19v39l-29 19l-29-19v-39zM11841 2550l29 19v39l-29 19l-29-19v-39zM11841 2666l29 19v39l-29 19l-29-19v-39zM11841 2783l29 19v39l-29 19l-29-19v-39zM11841 2899l29 19v39l-29 19l-29-19v-39zM11899 2666l29 19v39l-29 19l-29-19v-39zM11899 2783l29 19v39l-29 19l-29-19v-39zM11957 3016l29 19v39l-29 19l-29-19v-39zM12015 3481l29 19v39l-29 19l-29-19v-39zM12132 3132l29 19v39l-29 19l-29-19v-39zM12190 3248l29 19v39l-29 19l-29-19v-39zM12190 3365l29 19v39l-29 19l-29-19v-39z"/>
<path fill="#473a7c" d="M11056 2026l29 19v39l-29 19l-29-19v-39zM11230 3540l29 19v39l-29 19l-29-19v-39zM11289 2142l29 19v39l-29 19l-29-19v-39zM11289 3540l29 19v39l-29 19l-29-19v-39zM11347 3540l29 19v39l-29 19l-29-19v-39zM11405 2142l29 19v39l-29 19l-29-19v-39zM11521 3540l29 19v39l-29 19l-29-19v-39zM11579 2259l29 19v39l-29 19l-29-19v-39zM11579 3540l29 19v39l-29 19l-29-19v-39zM11637 2375l29 19v39l-29 19l-29-19v-39zM11637 2492l29 19v39l-29 19l-29-19v-39zM11696 2375l29 19v39l-29 19l-29-19v-39zM11696 2608l29 19v39l-29 19l-29-19v-39zM11754 2375l29 19v39l-29 19l-29-19v-39zM11754 2492l29 19v39l-29 19l-29-19v-39zM11754 2608l29 19v39l-29 19l-29-19v-39zM11754 2725l29 19v39l-29 19l-29-19v-39zM11754 2841l29 19v39l-29 19l-29-19v-39zM11754 2957l29 19v39l-29 19l-29-19v-39zM11754 3540l29 19v39l-29 19l-29-19v-39zM11812 2725l29 19v39l-29 19l-29-19v-39zM11812 2957l29 19v39l-29 19l-29-19v-39zM11085 2084l29 19v39l-29 19l-29-19v-39zM11201 2201l29 19v39l-29 19l-29-19v-39zM11259 2201l29 19v39l-29 19l-29-19v-39zM11376 2201l29 19v39l-29 19l-29-19v-39zM11434 2201l29 19v39l-29 19l-29-19v-39zM11492 2317l29 19v39l-29 19l-29-19v-39zM11550 2201l29 19v39l-29 19l-29-19v-39zM11608 2317l29 19v39l-29 19l-29-19v-39zM11666 2434l29 19v39l-29 19l-29-19v-39zM11666 2783l29 19v39l-29 19l-29-19v-39zM11666 2899l29 19v39l-29 19l-29-19v-39zM11725 2550l29 19v39l-29 19l-29-19v-39zM11725 2899l29 19v39l-29 19l-29-19v-39zM11783 2550l29 19v39l-29 19l-29-19v-39zM11783 2899l29 19v39l-29 19l-29-19v-39zM11899 3016l29 19v39l-29 19l-29-19v-39zM11957 3481l29 19v39l-29 19l-29-19v-39zM12074 3132l29 19v39l-29 19l-29-19v-39zM12132 3365l29 19v39l-29 19l-29-19v-39z"/>
<path fill="#463f80" d="M11056 2142l29 19v39l-29 19l-29-19v-39zM11056 3656l29 19v39l-29 19l-29-19v-39zM11114 2259l29 19v39l-29 19l-29-19v-39zM11114 3540l29 19v39l-29 19l-29-19v-39zM11172 2259l29 19v39l-29 19l-29-19v-39zM11172 2957l29 19v39l-29 19l-29-19v-39zM11230 2259l29 19v39l-29 19l-29-19v-39zM11405 2259l29 19v39l-29 19l-29-19v-39zM11463 2259l29 19v39l-29 19l-29-19v-39zM11521 2259l29 19v39l-29 19l-29-19v-39zM11521 2375l29 19v39l-29 19l-29-19v-39zM11579 2375l29 19v39l-29 19l-29-19v-39zM11579 2492l29 19v39l-29 19l-29-19v-39zM11579 2608l29 19v39l-29 19l-29-19v-39zM11637 2608l29 19v39l-29 19l-29-19v-39zM11637 2841l29 19v39l-29 19l-29-19v-39zM11637 2957l29 19v39l-29 19l-29-19v-39zM11696 2725l29 19v39l-29 19l-29-19v-39zM11696 2841l29 19v39l-29 19l-29-19v-39zM11870 3074l29 19v39l-29 19l-29-19v-39zM11928 3074l29 19v39l-29 19l-29-19v-39zM11986 3074l29 19v39l-29 19l-29-19v-39zM12044 3423l29 19v39l-29 19l-29-19v-39zM12103 3190l29 19v39l-29 19l-29-19v-39zM11143 2317l29 19v39l-29 19l-29-19v-39zM11143 2434l29 19v39l-29 19l-29-19v-39zM11143 2899l29 19v39l-29 19l-29-19v-39zM11201 2899l29 19v39l-29 19l-29-19v-39zM11318 2201l29 19v39l-29 19l-29-19v-39zM11550 2317l29 19v39l-29 19l-29-19v-39zM11550 2434l29 19v39l-29 19l-29-19v-39zM11550 2666l29 19v39l-29 19l-29-19v-39zM11550 2899l29 19v39l-29 19l-29-19v-39zM11608 2434l29 19v39l-29 19l-29-19v-39zM11608 2550l29 19v39l-29 19l-29-19v-39zM11608 2666l29 19v39l-29 19l-29-19v-39zM11608 2783l29 19v39l-29 19l-29-19v-39zM11608 2899l29 19v39l-29 19l-29-19v-39zM11666 2550l29 19v39l-29 19l-29-19v-39zM11666 2666l29 19v39l-29 19l-29-19v-39zM11725 2666l29 19v39l-29 19l-29-19v-39zM11725 2783l29 19v39l-29 19l-29-19v-39zM11725 3016l29 19v39l-29 19l-29-19v-39zM11841 3016l29 19v39l-29 19l-29-19v-39zM11841 3481l29 19v39l-29 19l-29-19v-39zM11899 3481l29 19v39l-29 19l-29-19v-39zM12074 3248l29 19v39l-29 19l-29-19v-39zM12074 3365l29 19v39l-29 19l-29-19v-39zM12132 3248l29 19v39l-29 19l-29-19v-39z"/>
<path fill="#444484" d="M11114 2375l29 19v39l-29 19l-29-19v-39zM11172 2608l29 19v39l-29 19l-29-19v-39zM11172 2725l29 19v39l-29 19l-29-19v-39zM11172 2841l29 19v39l-29 19l-29-19v-39zM11230 2841l29 19v39l-29 19l-29-19v-39zM11289 2259l29 19v39l-29 19l-29-19v-39zM11347 2259l29 19v39l-29 19l-29-19v-39zM11405 2841l29 19v39l-29 19l-29-19v-39zM11405 2957l29 19v39l-29 19l-29-19v-39zM11463 2841l29 19v39l-29 19l-29-19v-39zM11521 2492l29 19v39l-29 19l-29-19v-39zM11521 2841l29 19v39l-29 19l-29-19v-39zM11521 2957l29 19v39l-29 19l-29-19v-39zM11579 2725l29 19v39l-29 19l-29-19v-39zM11579 2841l29 19v39l-29 19l-29-19v-39zM11579 2957l29 19v39l-29 19l-29-19v-39zM11637 2725l29 19v39l-29 19l-29-19v-39zM11696 2957l29 19v39l-29 19l-29-19v-39zM11696 3074l29 19v39l-29 19l-29-19v-39zM11812 3074l29 19v39l-29 19l-29-19v-39zM11986 3423l29 19v39l-29 19l-29-19v-39zM12044 3190l29 19v39l-29 19l-29-19v-39zM12103 3307l29 19v39l-29 19l-29-19v-39zM11143 2550l29 19v39l-29 19l-29-19v-39zM11143 2666l29 19v39l-29 19l-29-19v-39zM11143 3016l29 19v39l-29 19l-29-19v-39zM11143 3481l29 19v39l-29 19l-29-19v-39zM11201 2317l29 19v39l-29 19l-29-19v-39zM11259 2899l29 19v39l-29 19l-29-19v-39zM11259 3481l29 19v39l-29 19l-29-19v-39zM11376 3016l29 19v39l-29 19l-29-19v-39zM11376 3481l29 19v39l-29 19l-29-19v-39zM11434 2899l29 19v39l-29 19l-29-19v-39zM11492 2434l29 19v39l-29 19l-29-19v-39zM11492 2783l29 19v39l-29 19l-29-19v-39zM11492 2899l29 19v39l-29 19l-29-19v-39zM11550 2550l29 19v39l-29 19l-29-19v-39zM11550 2783l29 19v39l-29 19l-29-19v-39zM11608 3016l29 19v39l-29 19l-29-19v-39zM11608 3481l29 19v39l-29 19l-29-19v-39zM11666 3016l29 19v39l-29 19l-29-19v-39zM11666 3481l29 19v39l-29 19l-29-19v-39zM11725 3481l29 19v39l-29 19l-29-19v-39zM11783 3016l29 19v39l-29 19l-29-19v-39zM11783 3481l29 19v39l-29 19l-29-19v-39zM12015 3132l29 19v39l-29 19l-29-19v-39z"/>
<path fill="#424a87" d="M11172 2375l29 19v39l-29 19l-29-19v-39zM11230 2375l29 19v39l-29 19l-29-19v-39zM11230 2725l29 19v39l-29 19l-29-19v-39zM11230 2957l29 19v39l-29 19l-29-19v-39zM11289 2841l29 19v39l-29 19l-29-19v-39zM11289 2957l29 19v39l-29 19l-29-19v-39zM11347 2841l29 19v39l-29 19l-29-19v-39zM11347 2957l29 19v39l-29 19l-29-19v-39zM11405 2725l29 19v39l-29 19l-29-19v-39zM11463 2375l29 19v39l-29 19l-29-19v-39zM11463 2492l29 19v39l-29 19l-29-19v-39zM11463 2957l29 19v39l-29 19l-29-19v-39zM11521 2608l29 19v39l-29 19l-29-19v-39zM11521 2725l29 19v39l-29 19l-29-19v-39zM11754 3074l29 19v39l-29 19l-29-19v-39zM11085 2201l29 19v39l-29 19l-29-19v-39zM11085 3598l29 19v39l-29 19l-29-19v-39zM11143 2783l29 19v39l-29 19l-29-19v-39zM11201 2783l29 19v39l-29 19l-29-19v-39zM11201 3481l29 19v39l-29 19l-29-19v-39zM11259 2317l29 19v39l-29 19l-29-19v-39zM11318 2317l29 19v39l-29 19l-29-19v-39zM11318 2783l29 19v39l-29 19l-29-19v-39zM11318 2899l29 19v39l-29 19l-29-19v-39zM11318 3481l29 19v39l-29 19l-29-19v-39zM11376 2317l29 19v39l-29 19l-29-19v-39zM11376 2899l29 19v39l-29 19l-29-19v-39zM11434 2317l29 19v39l-29 19l-29-19v-39zM11434 2434l29 19v39l-29 19l-29-19v-39zM11434 2666l29 19v39l-29 19l-29-19v-39zM11434 2783l29 19v39l-29 19l-29-19v-39zM11434 3016l29 19v39l-29 19l-29-19v-39zM11434 3481l29 19v39l-29 19l-29-19v-39zM11492 2550l29 19v39l-29 19l-29-19v-39zM11492 2666l29 19v39l-29 19l-29-19v-39zM11492 3481l29 19v39l-29 19l-29-19v-39zM11550 3016l29 19v39l-29 19l-29-19v-39zM11550 3481l29 19v39l-29 19l-29-19v-39zM11957 3132l29 19v39l-29 19l-29-19v-39zM11957 3365l29 19v39l-29 19l-29-19v-39z"/>
<path fill="#3f4f89" d="M11056 2259l29 19v39l-29 19l-29-19v-39zM11114 2492l29 19v39l-29 19l-29-19v-39zM11114 2608l29 19v39l-29 19l-29-19v-39zM11114 2841l29 19v39l-29 19l-29-19v-39zM11172 2492l29 19v39l-29 19l-29-19v-39zM11289 2375l29 19v39l-29 19l-29-19v-39zM11289 2725l29 19v39l-29 19l-29-19v-39zM11405 2375l29 19v39l-29 19l-29-19v-39zM11463 2725l29 19v39l-29 19l-29-19v-39zM11579 3074l29 19v39l-29 19l-29-19v-39zM11637 3074l29 19v39l-29 19l-29-19v-39zM11928 3423l29 19v39l-29 19l-29-19v-39zM12044 3307l29 19v39l-29 19l-29-19v-39zM11201 2434l29 19v39l-29 19l-29-19v-39zM11201 2666l29 19v39l-29 19l-29-19v-39zM11201 3016l29 19v39l-29 19l-29-19v-39zM11259 2783l29 19v39l-29 19l-29-19v-39zM11259 3016l29 19v39l-29 19l-29-19v-39zM11318 3016l29 19v39l-29 19l-29-19v-39zM11376 2666l29 19v39l-29 19l-29-19v-39zM11376 2783l29 19v39l-29 19l-29-19v-39zM11434 2550l29 19v39l-29 19l-29-19v-39zM11492 3016l29 19v39l-29 19l-29-19v-39zM11899 3132l29 19v39l-29 19l-29-19v-39zM12015 3248l29 19v39l-29 19l-29-19v-39zM12015 3365l29 19v39l-29 19l-29-19v-39z"/>
<path fill="#3c548b" d="M11056 3540l29 19v39l-29 19l-29-19v-39zM11114 2957l29 19v39l-29 19l-29-19v-39zM11172 3423l29 19v39l-29 19l-29-19v-39zM11230 2492l29 19v39l-29 19l-29-19v-39zM11230 2608l29 19v39l-29 19l-29-19v-39zM11289 2492l29 19v39l-29 19l-29-19v-39zM11289 3074l29 19v39l-29 19l-29-19v-39zM11347 2375l29 19v39l-29 19l-29-19v-39zM11405 2492l29 19v39l-29 19l-29-19v-39zM11405 2608l29 19v39l-29 19l-29-19v-39zM11463 2608l29 19v39l-29 19l-29-19v-39zM11521 3074l29 19v39l-29 19l-29-19v-39zM11812 3423l29 19v39l-29 19l-29-19v-39zM11870 3423l29 19v39l-29 19l-29-19v-39zM11986 3190l29 19v39l-29 19l-29-19v-39zM11201 2550l29 19v39l-29 19l-29-19v-39zM11259 2434l29 19v39l-29 19l-29-19v-39zM11318 2434l29 19v39l-29 19l-29-19v-39zM11318 2666l29 19v39l-29 19l-29-19v-39z"/>
<path fill="#3a578c" d="M11172 3074l29 19v39l-29 19l-29-19v-39zM11230 3423l29 19v39l-29 19l-29-19v-39zM11289 3423l29 19v39l-29 19l-29-19v-39zM11347 2492l29 19v39l-29 19l-29-19v-39zM11347 2725l29 19v39l-29 19l-29-19v-39zM11347 3074l29 19v39l-29 19l-29-19v-39zM11405 3074l29 19v39l-29 19l-29-19v-39zM11463 3074l29 19v39l-29 19l-29-19v-39zM11521 3423l29 19v39l-29 19l-29-19v-39zM11637 3423l29 19v39l-29 19l-29-19v-39zM11696 3423l29 19v39l-29 19l-29-19v-39zM11928 3190l29 19v39l-29 19l-29-19v-39zM11986 3307l29 19v39l-29 19l-29-19v-39zM11259 2666l29 19v39l-29 19l-29-19v-39zM11376 2434l29 19v39l-29 19l-29-19v-39zM11376 2550l29 19v39l-29 19l-29-19v-39zM11783 3132l29 19v39l-29 19l-29-19v-39zM11841 3132l29 19v39l-29 19l-29-19v-39zM11899 3365l29 19v39l-29 19l-29-19v-39z"/>
<path fill="#375c8d" d="M11114 2725l29 19v39l-29 19l-29-19v-39zM11114 3074l29 19v39l-29 19l-29-19v-39zM11230 3074l29 19v39l-29 19l-29-19v-39zM11289 2608l29 19v39l-29 19l-29-19v-39zM11347 2608l29 19v39l-29 19l-29-19v-39zM11347 3423l29 19v39l-29 19l-29-19v-39zM11463 3423l29 19v39l-29 19l-29-19v-39zM11579 3423l29 19v39l-29 19l-29-19v-39zM11754 3423l29 19v39l-29 19l-29-19v-39zM11870 3190l29 19v39l-29 19l-29-19v-39zM11085 2317l29 19v39l-29 19l-29-19v-39zM11201 3132l29 19v39l-29 19l-29-19v-39zM11259 2550l29 19v39l-29 19l-29-19v-39z"/>
<path fill="#34618d" d="M11114 3423l29 19v39l-29 19l-29-19v-39zM11405 3423l29 19v39l-29 19l-29-19v-39zM11143 3132l29 19v39l-29 19l-29-19v-39zM11259 3132l29 19v39l-29 19l-29-19v-39zM11318 2550l29 19v39l-29 19l-29-19v-39zM11550 3132l29 19v39l-29 19l-29-19v-39zM11608 3132l29 19v39l-29 19l-29-19v-39zM11666 3132l29 19v39l-29 19l-29-19v-39zM11725 3132l29 19v39l-29 19l-29-19v-39z"/>
<path fill="#31678e" d="M11812 3190l29 19v39l-29 19l-29-19v-39zM11928 3307l29 19v39l-29 19l-29-19v-39zM11259 3365l29 19v39l-29 19l-29-19v-39zM11318 3132l29 19v39l-29 19l-29-19v-39zM11376 3132l29 19v39l-29 19l-29-19v-39zM11434 3132l29 19v39l-29 19l-29-19v-39zM11492 3132l29 19v39l-29 19l-29-19v-39zM11608 3365l29 19v39l-29 19l-29-19v-39zM11783 3365l29 19v39l-29 19l-29-19v-39zM11957 3248l29 19v39l-29 19l-29-19v-39z"/>
<path fill="#2e6d8e" d="M11056 2375l29 19v39l-29 19l-29-19v-39zM11172 3190l29 19v39l-29 19l-29-19v-39zM11696 3190l29 19v39l-29 19l-29-19v-39zM11085 3481l29 19v39l-29 19l-29-19v-39zM11143 3365l29 19v39l-29 19l-29-19v-39zM11201 3365l29 19v39l-29 19l-29-19v-39z"/>
<path fill="#2c728e" d="M11230 3190l29 19v39l-29 19l-29-19v-39zM11230 3307l29 19v39l-29 19l-29-19v-39zM11637 3190l29 19v39l-29 19l-29-19v-39zM11637 3307l29 19v39l-29 19l-29-19v-39zM11754 3307l29 19v39l-29 19l-29-19v-39zM11812 3307l29 19v39l-29 19l-29-19v-39zM11870 3307l29 19v39l-29 19l-29-19v-39zM11318 3365l29 19v39l-29 19l-29-19v-39zM11376 3248l29 19v39l-29 19l-29-19v-39zM11376 3365l29 19v39l-29 19l-29-19v-39zM11434 3365l29 19v39l-29 19l-29-19v-39zM11666 3365l29 19v39l-29 19l-29-19v-39zM11725 3365l29 19v39l-29 19l-29-19v-39zM11783 3248l29 19v39l-29 19l-29-19v-39zM11841 3365l29 19v39l-29 19l-29-19v-39zM11899 3248l29 19v39l-29 19l-29-19v-39z"/>
<path fill="#2a778e" d="M11405 3190l29 19v39l-29 19l-29-19v-39zM11405 3307l29 19v39l-29 19l-29-19v-39zM11521 3190l29 19v39l-29 19l-29-19v-39zM11579 3190l29 19v39l-29 19l-29-19v-39zM11696 3307l29 19v39l-29 19l-29-19v-39zM11754 3190l29 19v39l-29 19l-29-19v-39zM11143 3248l29 19v39l-29 19l-29-19v-39zM11550 3365l29 19v39l-29 19l-29-19v-39zM11608 3248l29 19v39l-29 19l-29-19v-39zM11725 3248l29 19v39l-29 19l-29-19v-39zM11841 3248l29 19v39l-29 19l-29-19v-39z"/>
<path fill="#287d8e" d="M11172 3307l29 19v39l-29 19l-29-19v-39zM11289 3190l29 19v39l-29 19l-29-19v-39zM11347 3190l29 19v39l-29 19l-29-19v-39zM11347 3307l29 19v39l-29 19l-29-19v-39zM11463 3190l29 19v39l-29 19l-29-19v-39zM11259 3248l29 19v39l-29 19l-29-19v-39zM11434 3248l29 19v39l-29 19l-29-19v-39zM11492 3365l29 19v39l-29 19l-29-19v-39zM11550 3248l29 19v39l-29 19l-29-19v-39zM11666 3248l29 19v39l-29 19l-29-19v-39z"/>
<path fill="#26828e" d="M11114 3190l29 19v39l-29 19l-29-19v-39zM11521 3307l29 19v39l-29 19l-29-19v-39z"/>
<path fill="#23888e" d="M11056 2957l29 19v39l-29 19l-29-19v-39zM11056 3423l29 19v39l-29 19l-29-19v-39zM11463 3307l29 19v39l-29 19l-29-19v-39zM11579 3307l29 19v39l-29 19l-29-19v-39zM11201 3248l29 19v39l-29 19l-29-19v-39zM11492 3248l29 19v39l-29 19l-29-19v-39z"/>
<path fill="#218e8d" d="M11114 3307l29 19v39l-29 19l-29-19v-39zM11289 3307l29 19v39l-29 19l-29-19v-39zM11085 2899l29 19v39l-29 19l-29-19v-39zM11085 3016l29 19v39l-29 19l-29-19v-39zM11318 3248l29 19v39l-29 19l-29-19v-39z"/>
<path fill="#20928c" d="M11056 2841l29 19v39l-29 19l-29-19v-39zM11085 2434l29 19v39l-29 19l-29-19v-39z"/>
<path fill="#1f988b" d="M11056 2725l29 19v39l-29 19l-29-19v-39zM11056 3074l29 19v39l-29 19l-29-19v-39z"/>
<path fill="#1f9e89" d="M11085 2666l29 19v39l-29 19l-29-19v-39zM11085 2783l29 19v39l-29 19l-29-19v-39z"/>
<path fill="#23a983" d="M11085 2550l29 19v39l-29 19l-29-19v-39z"/>
<path fill="#28ae80" d="M11056 2492l29 19v39l-29 19l-29-19v-39z"/>
<path fill="#37b878" d="M11085 3365l29 19v39l-29 19l-29-19v-39z"/>
<path fill="#40bd72" d="M11056 3307l29 19v39l-29 19l-29-19v-39z"/>
<path fill="#4cc26c" d="M11056 3190l29 19v39l-29 19l-29-19v-39z"/>
<path fill="#58c765" d="M11056 2608l29 19v39l-29 19l-29-19v-39z"/>
<path fill="#63cb5f" d="M11085 3132l29 19v39l-29 19l-29-19v-39z"/>
<path fill="#dae319" d="M11085 3248l29 19v39l-29 19l-29-19v-39z"/>
</g>
</g>
<line x1="552.8" y1="184.7" x2="552.8" y2="187" stroke="#333" stroke-width="0.6"/>
<text x="552.8" y="198.4" text-anchor="middle">0</text>
<line x1="593.5" y1="184.7" x2="593.5" y2="187" stroke="#333" stroke-width="0.6"/>
<text x="593.5" y="198.4" text-anchor="middle">80</text>
<line x1="634.2" y1="184.7" x2="634.2" y2="187" stroke="#333" stroke-width="0.6"/>
<text x="634.2" y="198.4" text-anchor="middle">160</text>
<line x1="550.5" y1="103.2" x2="552.8" y2="103.2" stroke="#333" stroke-width="0.6"/>
<line x1="550.5" y1="143.95" x2="552.8" y2="143.95" stroke="#333" stroke-width="0.6"/>
<line x1="550.5" y1="184.7" x2="552.8" y2="184.7" stroke="#333" stroke-width="0.6"/>
<text x="593.5" y="211.6" text-anchor="middle">Velocity (µm s<tspan font-size="6.2" dy="-3">−1</tspan><tspan dy="3">)</tspan></text>
<text text-anchor="middle" transform="translate(152 144.5) rotate(-90)">Pumping rate (Hz)</text>
<defs><linearGradient id="vg" x1="0" y1="1" x2="0" y2="0">
<stop offset="0" stop-color="#441856"/>
<stop offset="0.05" stop-color="#472667"/>
<stop offset="0.1" stop-color="#483376"/>
<stop offset="0.15" stop-color="#464081"/>
<stop offset="0.2" stop-color="#414b88"/>
<stop offset="0.25" stop-color="#3b568b"/>
<stop offset="0.3" stop-color="#355f8d"/>
<stop offset="0.35" stop-color="#2f6c8e"/>
<stop offset="0.4" stop-color="#2a788e"/>
<stop offset="0.45" stop-color="#25848e"/>
<stop offset="0.5" stop-color="#21918c"/>
<stop offset="0.55" stop-color="#1e9c89"/>
<stop offset="0.6" stop-color="#22a884"/>
<stop offset="0.65" stop-color="#2fb47c"/>
<stop offset="0.7" stop-color="#44bf70"/>
<stop offset="0.75" stop-color="#5ec962"/>
<stop offset="0.8" stop-color="#7ad151"/>
<stop offset="0.85" stop-color="#9bd93c"/>
<stop offset="0.9" stop-color="#bddf26"/>
<stop offset="0.95" stop-color="#dfe318"/>
<stop offset="1" stop-color="#fde725"/>
</linearGradient></defs>
<rect x="639.8" y="103.2" width="11" height="81.5" fill="url(#vg)" stroke="#444" stroke-width="0.5"/>
<line x1="650.8" y1="103.5" x2="653.1" y2="103.5" stroke="#333" stroke-width="0.6"/>
<line x1="650.8" y1="184.4" x2="653.1" y2="184.4" stroke="#333" stroke-width="0.6"/>
<text x="655.9" y="106.6" font-size="9.1">&gt;0.013</text>
<text x="656" y="188.2">0</text>
<text text-anchor="middle" transform="translate(665.6 144.2) rotate(90)">Probability</text>
</g>
<g>
<text x="0" y="229" font-weight="bold" font-size="9.9" stroke="#1a1a1a" stroke-width="0.3">d</text>
<line x1="30.1" y1="243.8" x2="30.1" y2="320.2" stroke="#b4b4b4" stroke-width="0.8"/>
<line x1="29.7" y1="319.9" x2="591.2" y2="319.9" stroke="#b4b4b4" stroke-width="0.8"/>
<line x1="27.6" y1="317.2" x2="30.1" y2="317.2" stroke="#b4b4b4" stroke-width="0.8"/>
<text x="26.2" y="320.5" text-anchor="end">0</text>
<line x1="27.6" y1="287.86" x2="30.1" y2="287.86" stroke="#b4b4b4" stroke-width="0.8"/>
<text x="26.2" y="291.16" text-anchor="end">40</text>
<line x1="27.6" y1="258.52" x2="30.1" y2="258.52" stroke="#b4b4b4" stroke-width="0.8"/>
<text x="26.2" y="261.82" text-anchor="end">80</text>
<text text-anchor="middle" transform="translate(8.3 281.8) rotate(-90)">Time in state (%)</text>
<line x1="39.6" y1="319.9" x2="39.6" y2="322.4" stroke="#b4b4b4" stroke-width="0.8"/>
<line x1="39.6" y1="248.98" x2="39.6" y2="278.32" stroke="#555" stroke-width="0.6"/>
<line x1="39.6" y1="309.42" x2="39.6" y2="317.2" stroke="#555" stroke-width="0.6"/>
<line x1="37.7" y1="248.98" x2="41.5" y2="248.98" stroke="#999" stroke-width="0.7"/>
<line x1="37.7" y1="317.2" x2="41.5" y2="317.2" stroke="#999" stroke-width="0.7"/>
<rect x="35.9" y="278.32" width="7.4" height="31.1" fill="#f79b42" stroke="#9c5414" stroke-width="0.6"/>
<line x1="35.9" y1="296.08" x2="43.3" y2="296.08" stroke="#9c5414" stroke-width="0.7"/>
<text text-anchor="end" transform="translate(42.9 326.4) rotate(-90)">WT</text>
<line x1="54.96" y1="319.9" x2="54.96" y2="322.4" stroke="#b4b4b4" stroke-width="0.8"/>
<line x1="54.96" y1="244.44" x2="54.96" y2="280.89" stroke="#555" stroke-width="0.6"/>
<line x1="54.96" y1="312.65" x2="54.96" y2="317.2" stroke="#555" stroke-width="0.6"/>
<line x1="53.06" y1="244.44" x2="56.86" y2="244.44" stroke="#999" stroke-width="0.7"/>
<line x1="53.06" y1="317.2" x2="56.86" y2="317.2" stroke="#999" stroke-width="0.7"/>
<rect x="51.26" y="280.89" width="7.4" height="31.76" fill="#f79b42" stroke="#9c5414" stroke-width="0.6"/>
<line x1="51.26" y1="303.12" x2="58.66" y2="303.12" stroke="#9c5414" stroke-width="0.7"/>
<text text-anchor="end" transform="translate(58.26 326.4) rotate(-90)"><tspan font-style="italic">tph-1</tspan></text>
<text transform="translate(55.86 238.6) rotate(-45)">NS</text>
<line x1="70.32" y1="319.9" x2="70.32" y2="322.4" stroke="#b4b4b4" stroke-width="0.8"/>
<line x1="70.32" y1="297.25" x2="70.32" y2="308.1" stroke="#555" stroke-width="0.6"/>
<line x1="70.32" y1="316.69" x2="70.32" y2="317.2" stroke="#555" stroke-width="0.6"/>
<line x1="68.42" y1="297.25" x2="72.22" y2="297.25" stroke="#999" stroke-width="0.7"/>
<line x1="68.42" y1="317.2" x2="72.22" y2="317.2" stroke="#999" stroke-width="0.7"/>
<rect x="66.62" y="308.1" width="7.4" height="8.58" fill="#f79b42" stroke="#9c5414" stroke-width="0.6"/>
<line x1="66.62" y1="314.93" x2="74.02" y2="314.93" stroke="#9c5414" stroke-width="0.7"/>
<text text-anchor="end" transform="translate(73.62 326.4) rotate(-90)"><tspan font-style="italic">cat-2</tspan></text>
<text transform="translate(71.12 240.2) rotate(-45)">****</text>
<line x1="85.68" y1="319.9" x2="85.68" y2="322.4" stroke="#b4b4b4" stroke-width="0.8"/>
<line x1="85.68" y1="244.44" x2="85.68" y2="283.17" stroke="#555" stroke-width="0.6"/>
<line x1="85.68" y1="313.09" x2="85.68" y2="317.2" stroke="#555" stroke-width="0.6"/>
<line x1="83.78" y1="244.44" x2="87.58" y2="244.44" stroke="#999" stroke-width="0.7"/>
<line x1="83.78" y1="317.2" x2="87.58" y2="317.2" stroke="#999" stroke-width="0.7"/>
<rect x="81.98" y="283.17" width="7.4" height="29.93" fill="#f79b42" stroke="#9c5414" stroke-width="0.6"/>
<line x1="81.98" y1="304.22" x2="89.38" y2="304.22" stroke="#9c5414" stroke-width="0.7"/>
<text text-anchor="end" transform="translate(88.98 326.4) rotate(-90)"><tspan font-style="italic">tdc-1</tspan></text>
<text transform="translate(86.58 238.6) rotate(-45)">NS</text>
<line x1="101.04" y1="319.9" x2="101.04" y2="322.4" stroke="#b4b4b4" stroke-width="0.8"/>
<line x1="101.04" y1="244.44" x2="101.04" y2="275.46" stroke="#555" stroke-width="0.6"/>
<line x1="101.04" y1="310.38" x2="101.04" y2="317.2" stroke="#555" stroke-width="0.6"/>
<line x1="99.14" y1="244.44" x2="102.94" y2="244.44" stroke="#999" stroke-width="0.7"/>
<line x1="99.14" y1="317.2" x2="102.94" y2="317.2" stroke="#999" stroke-width="0.7"/>
<rect x="97.34" y="275.46" width="7.4" height="34.91" fill="#f79b42" stroke="#9c5414" stroke-width="0.6"/>
<line x1="97.34" y1="295.19" x2="104.74" y2="295.19" stroke="#9c5414" stroke-width="0.7"/>
<text text-anchor="end" transform="translate(104.34 326.4) rotate(-90)"><tspan font-style="italic">tbh-1</tspan></text>
<text transform="translate(101.94 238.6) rotate(-45)">NS</text>
<line x1="135.78" y1="319.9" x2="135.78" y2="322.4" stroke="#b4b4b4" stroke-width="0.8"/>
<line x1="135.78" y1="289.55" x2="135.78" y2="303.34" stroke="#555" stroke-width="0.6"/>
<line x1="135.78" y1="315.59" x2="135.78" y2="317.2" stroke="#555" stroke-width="0.6"/>
<line x1="133.88" y1="289.55" x2="137.68" y2="289.55" stroke="#999" stroke-width="0.7"/>
<line x1="133.88" y1="317.2" x2="137.68" y2="317.2" stroke="#999" stroke-width="0.7"/>
<rect x="132.08" y="303.34" width="7.4" height="12.25" fill="#f06e1f" stroke="#94400c" stroke-width="0.6"/>
<line x1="132.08" y1="311.26" x2="139.48" y2="311.26" stroke="#94400c" stroke-width="0.7"/>
<text text-anchor="end" transform="translate(139.08 326.4) rotate(-90)">WT</text>
<line x1="151.14" y1="319.9" x2="151.14" y2="322.4" stroke="#b4b4b4" stroke-width="0.8"/>
<line x1="151.14" y1="311.26" x2="151.14" y2="314.19" stroke="#555" stroke-width="0.6"/>
<line x1="151.14" y1="317.2" x2="151.14" y2="317.2" stroke="#555" stroke-width="0.6"/>
<line x1="149.24" y1="311.26" x2="153.04" y2="311.26" stroke="#999" stroke-width="0.7"/>
<line x1="149.24" y1="317.2" x2="153.04" y2="317.2" stroke="#999" stroke-width="0.7"/>
<rect x="147.44" y="314.19" width="7.4" height="3.01" fill="#f06e1f" stroke="#94400c" stroke-width="0.6"/>
<line x1="147.44" y1="316.25" x2="154.84" y2="316.25" stroke="#94400c" stroke-width="0.7"/>
<text text-anchor="end" transform="translate(154.44 326.4) rotate(-90)"><tspan font-style="italic">tph-1</tspan></text>
<text transform="translate(148.94 240.2) rotate(-45)">****</text>
<line x1="166.5" y1="319.9" x2="166.5" y2="322.4" stroke="#b4b4b4" stroke-width="0.8"/>
<line x1="166.5" y1="287.49" x2="166.5" y2="305.39" stroke="#555" stroke-width="0.6"/>
<line x1="166.5" y1="316.98" x2="166.5" y2="317.2" stroke="#555" stroke-width="0.6"/>
<line x1="164.6" y1="287.49" x2="168.4" y2="287.49" stroke="#999" stroke-width="0.7"/>
<line x1="164.6" y1="317.2" x2="168.4" y2="317.2" stroke="#999" stroke-width="0.7"/>
<rect x="162.8" y="305.39" width="7.4" height="11.59" fill="#f06e1f" stroke="#94400c" stroke-width="0.6"/>
<line x1="162.8" y1="315.15" x2="170.2" y2="315.15" stroke="#94400c" stroke-width="0.7"/>
<text text-anchor="end" transform="translate(169.8 326.4) rotate(-90)"><tspan font-style="italic">cat-2</tspan></text>
<text transform="translate(164.4 238.6) rotate(-45)">NS</text>
<line x1="181.86" y1="319.9" x2="181.86" y2="322.4" stroke="#b4b4b4" stroke-width="0.8"/>
<line x1="181.86" y1="286.39" x2="181.86" y2="303.34" stroke="#555" stroke-width="0.6"/>
<line x1="181.86" y1="314.71" x2="181.86" y2="317.2" stroke="#555" stroke-width="0.6"/>
<line x1="179.96" y1="286.39" x2="183.76" y2="286.39" stroke="#999" stroke-width="0.7"/>
<line x1="179.96" y1="317.2" x2="183.76" y2="317.2" stroke="#999" stroke-width="0.7"/>
<rect x="178.16" y="303.34" width="7.4" height="11.37" fill="#f06e1f" stroke="#94400c" stroke-width="0.6"/>
<line x1="178.16" y1="309.2" x2="185.56" y2="309.2" stroke="#94400c" stroke-width="0.7"/>
<text text-anchor="end" transform="translate(185.16 326.4) rotate(-90)"><tspan font-style="italic">tdc-1</tspan></text>
<text transform="translate(179.76 238.6) rotate(-45)">NS</text>
<line x1="197.22" y1="319.9" x2="197.22" y2="322.4" stroke="#b4b4b4" stroke-width="0.8"/>
<line x1="197.22" y1="302.24" x2="197.22" y2="311.26" stroke="#555" stroke-width="0.6"/>
<line x1="197.22" y1="316.98" x2="197.22" y2="317.2" stroke="#555" stroke-width="0.6"/>
<line x1="195.32" y1="302.24" x2="199.12" y2="302.24" stroke="#999" stroke-width="0.7"/>
<line x1="195.32" y1="317.2" x2="199.12" y2="317.2" stroke="#999" stroke-width="0.7"/>
<rect x="193.52" y="311.26" width="7.4" height="5.72" fill="#f06e1f" stroke="#94400c" stroke-width="0.6"/>
<line x1="193.52" y1="315.37" x2="200.92" y2="315.37" stroke="#94400c" stroke-width="0.7"/>
<text text-anchor="end" transform="translate(200.52 326.4) rotate(-90)"><tspan font-style="italic">tbh-1</tspan></text>
<text transform="translate(195.02 240.2) rotate(-45)">***</text>
<line x1="231.96" y1="319.9" x2="231.96" y2="322.4" stroke="#b4b4b4" stroke-width="0.8"/>
<line x1="231.96" y1="272.31" x2="231.96" y2="298.42" stroke="#555" stroke-width="0.6"/>
<line x1="231.96" y1="316.47" x2="231.96" y2="317.2" stroke="#555" stroke-width="0.6"/>
<line x1="230.06" y1="272.31" x2="233.86" y2="272.31" stroke="#999" stroke-width="0.7"/>
<line x1="230.06" y1="317.2" x2="233.86" y2="317.2" stroke="#999" stroke-width="0.7"/>
<rect x="228.26" y="298.42" width="7.4" height="18.04" fill="#c1232b" stroke="#741015" stroke-width="0.6"/>
<line x1="228.26" y1="306.27" x2="235.66" y2="306.27" stroke="#741015" stroke-width="0.7"/>
<text text-anchor="end" transform="translate(235.26 326.4) rotate(-90)">WT</text>
<line x1="247.32" y1="319.9" x2="247.32" y2="322.4" stroke="#b4b4b4" stroke-width="0.8"/>
<line x1="247.32" y1="307.44" x2="247.32" y2="313.09" stroke="#555" stroke-width="0.6"/>
<line x1="247.32" y1="317.2" x2="247.32" y2="317.2" stroke="#555" stroke-width="0.6"/>
<line x1="245.42" y1="307.44" x2="249.22" y2="307.44" stroke="#999" stroke-width="0.7"/>
<line x1="245.42" y1="317.2" x2="249.22" y2="317.2" stroke="#999" stroke-width="0.7"/>
<rect x="243.62" y="313.09" width="7.4" height="4.11" fill="#c1232b" stroke="#741015" stroke-width="0.6"/>
<line x1="243.62" y1="316.61" x2="251.02" y2="316.61" stroke="#741015" stroke-width="0.7"/>
<text text-anchor="end" transform="translate(250.62 326.4) rotate(-90)"><tspan font-style="italic">tph-1</tspan></text>
<text transform="translate(246.62 240.2) rotate(-45)">****</text>
<line x1="262.68" y1="319.9" x2="262.68" y2="322.4" stroke="#b4b4b4" stroke-width="0.8"/>
<line x1="262.68" y1="300.62" x2="262.68" y2="310.38" stroke="#555" stroke-width="0.6"/>
<line x1="262.68" y1="317.2" x2="262.68" y2="317.2" stroke="#555" stroke-width="0.6"/>
<line x1="260.78" y1="300.62" x2="264.58" y2="300.62" stroke="#999" stroke-width="0.7"/>
<line x1="260.78" y1="317.2" x2="264.58" y2="317.2" stroke="#999" stroke-width="0.7"/>
<rect x="258.98" y="310.38" width="7.4" height="6.82" fill="#c1232b" stroke="#741015" stroke-width="0.6"/>
<line x1="258.98" y1="316.69" x2="266.38" y2="316.69" stroke="#741015" stroke-width="0.7"/>
<text text-anchor="end" transform="translate(265.98 326.4) rotate(-90)"><tspan font-style="italic">cat-2</tspan></text>
<text transform="translate(261.98 240.2) rotate(-45)">****</text>
<line x1="278.04" y1="319.9" x2="278.04" y2="322.4" stroke="#b4b4b4" stroke-width="0.8"/>
<line x1="278.04" y1="285.44" x2="278.04" y2="301.28" stroke="#555" stroke-width="0.6"/>
<line x1="278.04" y1="315.59" x2="278.04" y2="317.2" stroke="#555" stroke-width="0.6"/>
<line x1="276.14" y1="285.44" x2="279.94" y2="285.44" stroke="#999" stroke-width="0.7"/>
<line x1="276.14" y1="317.2" x2="279.94" y2="317.2" stroke="#999" stroke-width="0.7"/>
<rect x="274.34" y="301.28" width="7.4" height="14.3" fill="#c1232b" stroke="#741015" stroke-width="0.6"/>
<line x1="274.34" y1="310.38" x2="281.74" y2="310.38" stroke="#741015" stroke-width="0.7"/>
<text text-anchor="end" transform="translate(281.34 326.4) rotate(-90)"><tspan font-style="italic">tdc-1</tspan></text>
<text transform="translate(277.44 238.6) rotate(-45)">NS</text>
<line x1="293.4" y1="319.9" x2="293.4" y2="322.4" stroke="#b4b4b4" stroke-width="0.8"/>
<line x1="293.4" y1="292.48" x2="293.4" y2="306.05" stroke="#555" stroke-width="0.6"/>
<line x1="293.4" y1="317.05" x2="293.4" y2="317.2" stroke="#555" stroke-width="0.6"/>
<line x1="291.5" y1="292.48" x2="295.3" y2="292.48" stroke="#999" stroke-width="0.7"/>
<line x1="291.5" y1="317.2" x2="295.3" y2="317.2" stroke="#999" stroke-width="0.7"/>
<rect x="289.7" y="306.05" width="7.4" height="11" fill="#c1232b" stroke="#741015" stroke-width="0.6"/>
<line x1="289.7" y1="316.54" x2="297.1" y2="316.54" stroke="#741015" stroke-width="0.7"/>
<text text-anchor="end" transform="translate(296.7 326.4) rotate(-90)"><tspan font-style="italic">tbh-1</tspan></text>
<text transform="translate(292.7 240.2) rotate(-45)">*</text>
<line x1="328.14" y1="319.9" x2="328.14" y2="322.4" stroke="#b4b4b4" stroke-width="0.8"/>
<line x1="328.14" y1="295.86" x2="328.14" y2="307.44" stroke="#555" stroke-width="0.6"/>
<line x1="328.14" y1="316.25" x2="328.14" y2="317.2" stroke="#555" stroke-width="0.6"/>
<line x1="326.24" y1="295.86" x2="330.04" y2="295.86" stroke="#999" stroke-width="0.7"/>
<line x1="326.24" y1="317.2" x2="330.04" y2="317.2" stroke="#999" stroke-width="0.7"/>
<rect x="324.44" y="307.44" width="7.4" height="8.8" fill="#1f3869" stroke="#101f40" stroke-width="0.6"/>
<line x1="324.44" y1="312.8" x2="331.84" y2="312.8" stroke="#101f40" stroke-width="0.7"/>
<text text-anchor="end" transform="translate(331.44 326.4) rotate(-90)">WT</text>
<line x1="343.5" y1="319.9" x2="343.5" y2="322.4" stroke="#b4b4b4" stroke-width="0.8"/>
<line x1="343.5" y1="301.28" x2="343.5" y2="309.72" stroke="#555" stroke-width="0.6"/>
<line x1="343.5" y1="316.69" x2="343.5" y2="317.2" stroke="#555" stroke-width="0.6"/>
<line x1="341.6" y1="301.28" x2="345.4" y2="301.28" stroke="#999" stroke-width="0.7"/>
<line x1="341.6" y1="317.2" x2="345.4" y2="317.2" stroke="#999" stroke-width="0.7"/>
<rect x="339.8" y="309.72" width="7.4" height="6.97" fill="#1f3869" stroke="#101f40" stroke-width="0.6"/>
<line x1="339.8" y1="314.19" x2="347.2" y2="314.19" stroke="#101f40" stroke-width="0.7"/>
<text text-anchor="end" transform="translate(346.8 326.4) rotate(-90)"><tspan font-style="italic">tph-1</tspan></text>
<text transform="translate(344.2 238.6) rotate(-45)">NS</text>
<line x1="358.86" y1="319.9" x2="358.86" y2="322.4" stroke="#b4b4b4" stroke-width="0.8"/>
<line x1="358.86" y1="281.33" x2="358.86" y2="301.72" stroke="#555" stroke-width="0.6"/>
<line x1="358.86" y1="314.93" x2="358.86" y2="317.2" stroke="#555" stroke-width="0.6"/>
<line x1="356.96" y1="281.33" x2="360.76" y2="281.33" stroke="#999" stroke-width="0.7"/>
<line x1="356.96" y1="317.2" x2="360.76" y2="317.2" stroke="#999" stroke-width="0.7"/>
<rect x="355.16" y="301.72" width="7.4" height="13.2" fill="#1f3869" stroke="#101f40" stroke-width="0.6"/>
<line x1="355.16" y1="311.26" x2="362.56" y2="311.26" stroke="#101f40" stroke-width="0.7"/>
<text text-anchor="end" transform="translate(362.16 326.4) rotate(-90)"><tspan font-style="italic">cat-2</tspan></text>
<text transform="translate(359.56 238.6) rotate(-45)">NS</text>
<line x1="374.22" y1="319.9" x2="374.22" y2="322.4" stroke="#b4b4b4" stroke-width="0.8"/>
<line x1="374.22" y1="284.05" x2="374.22" y2="301.5" stroke="#555" stroke-width="0.6"/>
<line x1="374.22" y1="314.41" x2="374.22" y2="317.2" stroke="#555" stroke-width="0.6"/>
<line x1="372.32" y1="284.05" x2="376.12" y2="284.05" stroke="#999" stroke-width="0.7"/>
<line x1="372.32" y1="317.2" x2="376.12" y2="317.2" stroke="#999" stroke-width="0.7"/>
<rect x="370.52" y="301.5" width="7.4" height="12.91" fill="#1f3869" stroke="#101f40" stroke-width="0.6"/>
<line x1="370.52" y1="308.98" x2="377.92" y2="308.98" stroke="#101f40" stroke-width="0.7"/>
<text text-anchor="end" transform="translate(377.52 326.4) rotate(-90)"><tspan font-style="italic">tdc-1</tspan></text>
<text transform="translate(374.82 240.2) rotate(-45)">*</text>
<line x1="389.58" y1="319.9" x2="389.58" y2="322.4" stroke="#b4b4b4" stroke-width="0.8"/>
<line x1="389.58" y1="307.66" x2="389.58" y2="313.09" stroke="#555" stroke-width="0.6"/>
<line x1="389.58" y1="316.91" x2="389.58" y2="317.2" stroke="#555" stroke-width="0.6"/>
<line x1="387.68" y1="307.66" x2="391.48" y2="307.66" stroke="#999" stroke-width="0.7"/>
<line x1="387.68" y1="317.2" x2="391.48" y2="317.2" stroke="#999" stroke-width="0.7"/>
<rect x="385.88" y="313.09" width="7.4" height="3.81" fill="#1f3869" stroke="#101f40" stroke-width="0.6"/>
<line x1="385.88" y1="316.03" x2="393.28" y2="316.03" stroke="#101f40" stroke-width="0.7"/>
<text text-anchor="end" transform="translate(392.88 326.4) rotate(-90)"><tspan font-style="italic">tbh-1</tspan></text>
<text transform="translate(390.18 240.2) rotate(-45)">*</text>
<line x1="424.32" y1="319.9" x2="424.32" y2="322.4" stroke="#b4b4b4" stroke-width="0.8"/>
<line x1="424.32" y1="305.39" x2="424.32" y2="312.21" stroke="#555" stroke-width="0.6"/>
<line x1="424.32" y1="316.91" x2="424.32" y2="317.2" stroke="#555" stroke-width="0.6"/>
<line x1="422.42" y1="305.39" x2="426.22" y2="305.39" stroke="#999" stroke-width="0.7"/>
<line x1="422.42" y1="317.2" x2="426.22" y2="317.2" stroke="#999" stroke-width="0.7"/>
<rect x="420.62" y="312.21" width="7.4" height="4.69" fill="#6c1f6d" stroke="#3f0d40" stroke-width="0.6"/>
<line x1="420.62" y1="315.81" x2="428.02" y2="315.81" stroke="#3f0d40" stroke-width="0.7"/>
<text text-anchor="end" transform="translate(427.62 326.4) rotate(-90)">WT</text>
<line x1="439.68" y1="319.9" x2="439.68" y2="322.4" stroke="#b4b4b4" stroke-width="0.8"/>
<line x1="439.68" y1="275.24" x2="439.68" y2="289.33" stroke="#555" stroke-width="0.6"/>
<line x1="439.68" y1="308.1" x2="439.68" y2="317.2" stroke="#555" stroke-width="0.6"/>
<line x1="437.78" y1="275.24" x2="441.58" y2="275.24" stroke="#999" stroke-width="0.7"/>
<line x1="437.78" y1="317.2" x2="441.58" y2="317.2" stroke="#999" stroke-width="0.7"/>
<rect x="435.98" y="289.33" width="7.4" height="18.78" fill="#6c1f6d" stroke="#3f0d40" stroke-width="0.6"/>
<line x1="435.98" y1="301.5" x2="443.38" y2="301.5" stroke="#3f0d40" stroke-width="0.7"/>
<text text-anchor="end" transform="translate(442.98 326.4) rotate(-90)"><tspan font-style="italic">tph-1</tspan></text>
<text transform="translate(437.48 240.2) rotate(-45)">****</text>
<line x1="455.04" y1="319.9" x2="455.04" y2="322.4" stroke="#b4b4b4" stroke-width="0.8"/>
<line x1="455.04" y1="249.86" x2="455.04" y2="276.42" stroke="#555" stroke-width="0.6"/>
<line x1="455.04" y1="315.59" x2="455.04" y2="317.2" stroke="#555" stroke-width="0.6"/>
<line x1="453.14" y1="249.86" x2="456.94" y2="249.86" stroke="#999" stroke-width="0.7"/>
<line x1="453.14" y1="317.2" x2="456.94" y2="317.2" stroke="#999" stroke-width="0.7"/>
<rect x="451.34" y="276.42" width="7.4" height="39.17" fill="#6c1f6d" stroke="#3f0d40" stroke-width="0.6"/>
<line x1="451.34" y1="303.34" x2="458.74" y2="303.34" stroke="#3f0d40" stroke-width="0.7"/>
<text text-anchor="end" transform="translate(458.34 326.4) rotate(-90)"><tspan font-style="italic">cat-2</tspan></text>
<text transform="translate(452.84 240.2) rotate(-45)">****</text>
<line x1="470.4" y1="319.9" x2="470.4" y2="322.4" stroke="#b4b4b4" stroke-width="0.8"/>
<line x1="470.4" y1="305.39" x2="470.4" y2="312.43" stroke="#555" stroke-width="0.6"/>
<line x1="470.4" y1="316.91" x2="470.4" y2="317.2" stroke="#555" stroke-width="0.6"/>
<line x1="468.5" y1="305.39" x2="472.3" y2="305.39" stroke="#999" stroke-width="0.7"/>
<line x1="468.5" y1="317.2" x2="472.3" y2="317.2" stroke="#999" stroke-width="0.7"/>
<rect x="466.7" y="312.43" width="7.4" height="4.47" fill="#6c1f6d" stroke="#3f0d40" stroke-width="0.6"/>
<line x1="466.7" y1="315.15" x2="474.1" y2="315.15" stroke="#3f0d40" stroke-width="0.7"/>
<text text-anchor="end" transform="translate(473.7 326.4) rotate(-90)"><tspan font-style="italic">tdc-1</tspan></text>
<text transform="translate(468.3 238.6) rotate(-45)">NS</text>
<line x1="485.76" y1="319.9" x2="485.76" y2="322.4" stroke="#b4b4b4" stroke-width="0.8"/>
<line x1="485.76" y1="271.87" x2="485.76" y2="297.25" stroke="#555" stroke-width="0.6"/>
<line x1="485.76" y1="315.59" x2="485.76" y2="317.2" stroke="#555" stroke-width="0.6"/>
<line x1="483.86" y1="271.87" x2="487.66" y2="271.87" stroke="#999" stroke-width="0.7"/>
<line x1="483.86" y1="317.2" x2="487.66" y2="317.2" stroke="#999" stroke-width="0.7"/>
<rect x="482.06" y="297.25" width="7.4" height="18.34" fill="#6c1f6d" stroke="#3f0d40" stroke-width="0.6"/>
<line x1="482.06" y1="310.38" x2="489.46" y2="310.38" stroke="#3f0d40" stroke-width="0.7"/>
<text text-anchor="end" transform="translate(489.06 326.4) rotate(-90)"><tspan font-style="italic">tbh-1</tspan></text>
<text transform="translate(483.56 240.2) rotate(-45)">****</text>
<line x1="520.5" y1="319.9" x2="520.5" y2="322.4" stroke="#b4b4b4" stroke-width="0.8"/>
<line x1="520.5" y1="263.65" x2="520.5" y2="293.58" stroke="#555" stroke-width="0.6"/>
<line x1="520.5" y1="314.41" x2="520.5" y2="317.2" stroke="#555" stroke-width="0.6"/>
<line x1="518.6" y1="263.65" x2="522.4" y2="263.65" stroke="#999" stroke-width="0.7"/>
<line x1="518.6" y1="317.2" x2="522.4" y2="317.2" stroke="#999" stroke-width="0.7"/>
<rect x="516.8" y="293.58" width="7.4" height="20.83" fill="#a64e9b" stroke="#632660" stroke-width="0.6"/>
<line x1="516.8" y1="307.44" x2="524.2" y2="307.44" stroke="#632660" stroke-width="0.7"/>
<text text-anchor="end" transform="translate(523.8 326.4) rotate(-90)">WT</text>
<line x1="535.86" y1="319.9" x2="535.86" y2="322.4" stroke="#b4b4b4" stroke-width="0.8"/>
<line x1="535.86" y1="267.32" x2="535.86" y2="280.23" stroke="#555" stroke-width="0.6"/>
<line x1="535.86" y1="306.49" x2="535.86" y2="317.2" stroke="#555" stroke-width="0.6"/>
<line x1="533.96" y1="267.32" x2="537.76" y2="267.32" stroke="#999" stroke-width="0.7"/>
<line x1="533.96" y1="317.2" x2="537.76" y2="317.2" stroke="#999" stroke-width="0.7"/>
<rect x="532.16" y="280.23" width="7.4" height="26.26" fill="#a64e9b" stroke="#632660" stroke-width="0.6"/>
<line x1="532.16" y1="291.31" x2="539.56" y2="291.31" stroke="#632660" stroke-width="0.7"/>
<text text-anchor="end" transform="translate(539.16 326.4) rotate(-90)"><tspan font-style="italic">tph-1</tspan></text>
<text transform="translate(534.36 240.2) rotate(-45)">***</text>
<line x1="551.22" y1="319.9" x2="551.22" y2="322.4" stroke="#b4b4b4" stroke-width="0.8"/>
<line x1="551.22" y1="266.44" x2="551.22" y2="286.39" stroke="#555" stroke-width="0.6"/>
<line x1="551.22" y1="310.38" x2="551.22" y2="317.2" stroke="#555" stroke-width="0.6"/>
<line x1="549.32" y1="266.44" x2="553.12" y2="266.44" stroke="#999" stroke-width="0.7"/>
<line x1="549.32" y1="317.2" x2="553.12" y2="317.2" stroke="#999" stroke-width="0.7"/>
<rect x="547.52" y="286.39" width="7.4" height="23.99" fill="#a64e9b" stroke="#632660" stroke-width="0.6"/>
<line x1="547.52" y1="300.4" x2="554.92" y2="300.4" stroke="#632660" stroke-width="0.7"/>
<text text-anchor="end" transform="translate(554.52 326.4) rotate(-90)"><tspan font-style="italic">cat-2</tspan></text>
<text transform="translate(549.82 238.6) rotate(-45)">NS</text>
<line x1="566.58" y1="319.9" x2="566.58" y2="322.4" stroke="#b4b4b4" stroke-width="0.8"/>
<line x1="566.58" y1="262.33" x2="566.58" y2="293.36" stroke="#555" stroke-width="0.6"/>
<line x1="566.58" y1="314.19" x2="566.58" y2="317.2" stroke="#555" stroke-width="0.6"/>
<line x1="564.68" y1="262.33" x2="568.48" y2="262.33" stroke="#999" stroke-width="0.7"/>
<line x1="564.68" y1="317.2" x2="568.48" y2="317.2" stroke="#999" stroke-width="0.7"/>
<rect x="562.88" y="293.36" width="7.4" height="20.83" fill="#a64e9b" stroke="#632660" stroke-width="0.6"/>
<line x1="562.88" y1="306.93" x2="570.28" y2="306.93" stroke="#632660" stroke-width="0.7"/>
<text text-anchor="end" transform="translate(569.88 326.4) rotate(-90)"><tspan font-style="italic">tdc-1</tspan></text>
<text transform="translate(565.18 238.6) rotate(-45)">NS</text>
<line x1="581.94" y1="319.9" x2="581.94" y2="322.4" stroke="#b4b4b4" stroke-width="0.8"/>
<line x1="581.94" y1="261.45" x2="581.94" y2="292.26" stroke="#555" stroke-width="0.6"/>
<line x1="581.94" y1="313.53" x2="581.94" y2="317.2" stroke="#555" stroke-width="0.6"/>
<line x1="580.04" y1="261.45" x2="583.84" y2="261.45" stroke="#999" stroke-width="0.7"/>
<line x1="580.04" y1="317.2" x2="583.84" y2="317.2" stroke="#999" stroke-width="0.7"/>
<rect x="578.24" y="292.26" width="7.4" height="21.27" fill="#a64e9b" stroke="#632660" stroke-width="0.6"/>
<line x1="578.24" y1="303.34" x2="585.64" y2="303.34" stroke="#632660" stroke-width="0.7"/>
<text text-anchor="end" transform="translate(585.24 326.4) rotate(-90)"><tspan font-style="italic">tbh-1</tspan></text>
<text transform="translate(580.54 238.6) rotate(-45)">NS</text>
<text x="599.6" y="232.5">States</text>
<rect x="599.6" y="238.3" width="8" height="7.8" fill="#f9a24b"/>
<text x="612.5" y="245.8">Predatory search</text>
<rect x="599.6" y="251.15" width="8" height="7.8" fill="#f26a1b"/>
<text x="612.5" y="258.65">Predatory biting</text>
<rect x="599.6" y="264" width="8" height="7.8" fill="#c1272d"/>
<text x="612.5" y="271.5">Predatory feeding</text>
<rect x="599.6" y="276.85" width="8" height="7.8" fill="#1f3a6e"/>
<text x="612.5" y="284.35">Dwelling</text>
<rect x="599.6" y="289.7" width="8" height="7.8" fill="#6a1f6e"/>
<text x="612.5" y="297.2">Roaming</text>
<rect x="599.6" y="302.55" width="8" height="7.8" fill="#a84f9e"/>
<text x="612.5" y="310.05">Search</text>
</g>
<g>
<text x="0" y="368.6" font-weight="bold" font-size="9.9" stroke="#1a1a1a" stroke-width="0.3">e</text>
<path d="M61.57 398.69Q71.43 400.42 81.29 398.75" fill="none" stroke="#f9a24b" stroke-width="0.35" opacity="0.22"/>
<path d="M44.55 407.65Q37.3 434.3 44.45 460.96" fill="none" stroke="#f9a24b" stroke-width="0.35" opacity="0.22"/>
<path d="M39.23 404.23Q32.8 411.9 29.32 421.28" fill="none" stroke="#f9a24b" stroke-width="0.35" opacity="0.22"/>
<path d="M81.63 391.33Q71.77 389.6 61.91 391.27" fill="none" stroke="#f26a1b" stroke-width="0.35" opacity="0.22"/>
<path d="M90.15 407.65Q82.9 434.3 90.05 460.96" fill="none" stroke="#f26a1b" stroke-width="0.35" opacity="0.22"/>
<path d="M84.38 403.71Q59.72 427.38 51.44 460.51" fill="none" stroke="#f26a1b" stroke-width="0.35" opacity="0.22"/>
<path d="M107.63 443.72Q101.2 451.39 97.72 460.77" fill="none" stroke="#c1272d" stroke-width="0.35" opacity="0.22"/>
<path d="M104.13 437.14Q77.42 444.19 57.91 463.71" fill="none" stroke="#c1272d" stroke-width="0.35" opacity="0.22"/>
<path d="M104.66 430.17Q71.83 420.65 39 430.04" fill="none" stroke="#c1272d" stroke-width="0.35" opacity="0.22"/>
<path d="M98.65 461.35Q105.9 434.7 98.75 408.04" fill="none" stroke="#a84f9e" stroke-width="0.35" opacity="0.22"/>
<path d="M103.97 464.77Q110.4 457.1 113.88 447.72" fill="none" stroke="#a84f9e" stroke-width="0.35" opacity="0.22"/>
<path d="M53.05 461.35Q60.3 434.7 53.15 408.04" fill="none" stroke="#6a1f6e" stroke-width="0.35" opacity="0.22"/>
<path d="M58.82 465.29Q83.48 441.62 91.76 408.49" fill="none" stroke="#6a1f6e" stroke-width="0.35" opacity="0.22"/>
<path d="M61.87 471.35Q88.58 464.3 108.09 444.79" fill="none" stroke="#6a1f6e" stroke-width="0.35" opacity="0.22"/>
<path d="M45.6 461.09Q42.17 451.69 35.79 443.99" fill="none" stroke="#6a1f6e" stroke-width="0.35" opacity="0.22"/>
<path d="M35.57 425.28Q42 417.61 45.48 408.23" fill="none" stroke="#1f3a6e" stroke-width="0.35" opacity="0.22"/>
<path d="M38.54 438.83Q71.37 448.35 104.2 438.96" fill="none" stroke="#1f3a6e" stroke-width="0.35" opacity="0.22"/>
<path d="M29.2 447.4Q32.63 456.8 39.01 464.51" fill="none" stroke="#1f3a6e" stroke-width="0.35" opacity="0.22"/>
<path d="M57.62 405Q76.14 423.67 101.19 431.04" fill="none" stroke="#f9a24b" stroke-width="1.25"/>
<polygon points="103.74,431.75 100.01,432.15 100.71,429.54" fill="#f9a24b"/>
<path d="M51.32 408.03Q59.18 439.96 82.19 463.14" fill="none" stroke="#f9a24b" stroke-width="1.25"/>
<polygon points="84.04,464.96 80.59,463.5 82.46,461.56" fill="#f9a24b"/>
<path d="M91.88 460.97Q84.02 429.04 61.01 405.86" fill="none" stroke="#a84f9e" stroke-width="1.25"/>
<polygon points="59.16,404.04 62.61,405.5 60.74,407.44" fill="#a84f9e"/>
<path d="M81.33 397.65Q55.91 404.36 37.01 422.36" fill="none" stroke="#f26a1b" stroke-width="1.25"/>
<polygon points="35.11,424.21 36.63,420.78 38.54,422.69" fill="#f26a1b"/>
<path d="M39.07 431.86Q64.39 425.18 83.25 407.28" fill="none" stroke="#1f3a6e" stroke-width="1.44"/>
<polygon points="85.29,405.29 83.63,409.15 81.44,406.96" fill="#1f3a6e"/>
<path d="M34.82 444.5Q53.27 463.09 78.19 470.47" fill="none" stroke="#1f3a6e" stroke-width="1.44"/>
<polygon points="80.94,471.24 76.77,471.73 77.57,468.74" fill="#1f3a6e"/>
<path d="M108.38 424.5Q89.93 405.91 65.01 398.53" fill="none" stroke="#c1272d" stroke-width="1.5"/>
<polygon points="62.26,397.76 66.43,397.27 65.63,400.26" fill="#c1272d"/>
<path d="M114 421.6Q111.05 413.5 105.9 406.66" fill="none" stroke="#c1272d" stroke-width="1.56"/>
<polygon points="104.19,404.49 107.87,406.51 105.49,408.49" fill="#c1272d"/>
<path d="M97.6 407.91Q100.55 416.01 105.7 422.84" fill="none" stroke="#f26a1b" stroke-width="1.5"/>
<polygon points="107.41,425.01 103.73,423 106.11,421.02" fill="#f26a1b"/>
<path d="M85.58 464Q67.06 445.33 42.01 437.96" fill="none" stroke="#a84f9e" stroke-width="1"/>
<polygon points="39.46,437.25 43.19,436.85 42.49,439.46" fill="#a84f9e"/>
<path d="M81.63 470.31Q73.03 468.8 64.42 469.88" fill="none" stroke="#a84f9e" stroke-width="1.12"/>
<polygon points="61.91,470.25 65.13,468.34 65.59,471" fill="#a84f9e"/>
<path d="M61.57 477.67Q70.17 479.18 78.78 478.1" fill="none" stroke="#6a1f6e" stroke-width="1.25"/>
<polygon points="81.29,477.73 78.07,479.64 77.61,476.98" fill="#6a1f6e"/>
<circle cx="48.8" cy="395.01" r="13" fill="#f9a850" stroke="#f59a3e" stroke-width="0.7"/>
<text x="48.8" y="398.31" text-anchor="middle" font-size="9.35">33%</text>
<circle cx="94.4" cy="395.01" r="13" fill="#fcc6a2" stroke="#f26a1b" stroke-width="0.7"/>
<text x="94.4" y="398.31" text-anchor="middle" font-size="9.35">13%</text>
<circle cx="117.2" cy="434.5" r="13" fill="#d5806c" stroke="#c1272d" stroke-width="0.7"/>
<text x="117.2" y="437.8" text-anchor="middle" font-size="9.35">17%</text>
<circle cx="94.4" cy="473.99" r="13" fill="#c088b8" stroke="#a84f9e" stroke-width="0.7"/>
<text x="94.4" y="477.29" text-anchor="middle" font-size="9.35">21%</text>
<circle cx="48.8" cy="473.99" r="13" fill="#e2d3e3" stroke="#6a1f6e" stroke-width="0.7"/>
<text x="48.8" y="477.29" text-anchor="middle" font-size="9.35">5%</text>
<circle cx="26" cy="434.5" r="13" fill="#9a9cba" stroke="#1f3a6e" stroke-width="0.7"/>
<text x="26" y="437.8" text-anchor="middle" font-size="9.35">11%</text>
<text x="73.6" y="379.4" text-anchor="middle">WT</text>
<path d="M234.77 399.69Q244.63 401.42 254.49 399.75" fill="none" stroke="#f9a24b" stroke-width="0.35" opacity="0.22"/>
<path d="M217.75 408.65Q210.5 435.3 217.65 461.96" fill="none" stroke="#f9a24b" stroke-width="0.35" opacity="0.22"/>
<path d="M212.43 405.23Q206 412.9 202.52 422.28" fill="none" stroke="#f9a24b" stroke-width="0.35" opacity="0.22"/>
<path d="M254.83 392.33Q244.97 390.6 235.11 392.27" fill="none" stroke="#f26a1b" stroke-width="0.35" opacity="0.22"/>
<path d="M263.35 408.65Q256.1 435.3 263.25 461.96" fill="none" stroke="#f26a1b" stroke-width="0.35" opacity="0.22"/>
<path d="M257.58 404.71Q232.92 428.38 224.64 461.51" fill="none" stroke="#f26a1b" stroke-width="0.35" opacity="0.22"/>
<path d="M280.83 444.72Q274.4 452.39 270.92 461.77" fill="none" stroke="#c1272d" stroke-width="0.35" opacity="0.22"/>
<path d="M277.33 438.14Q250.62 445.19 231.11 464.71" fill="none" stroke="#c1272d" stroke-width="0.35" opacity="0.22"/>
<path d="M277.86 431.17Q245.03 421.65 212.2 431.04" fill="none" stroke="#c1272d" stroke-width="0.35" opacity="0.22"/>
<path d="M271.85 462.35Q279.1 435.7 271.95 409.04" fill="none" stroke="#a84f9e" stroke-width="0.35" opacity="0.22"/>
<path d="M277.17 465.77Q283.6 458.1 287.08 448.72" fill="none" stroke="#a84f9e" stroke-width="0.35" opacity="0.22"/>
<path d="M226.25 462.35Q233.5 435.7 226.35 409.04" fill="none" stroke="#6a1f6e" stroke-width="0.35" opacity="0.22"/>
<path d="M232.02 466.29Q256.68 442.62 264.96 409.49" fill="none" stroke="#6a1f6e" stroke-width="0.35" opacity="0.22"/>
<path d="M235.07 472.35Q261.78 465.3 281.29 445.79" fill="none" stroke="#6a1f6e" stroke-width="0.35" opacity="0.22"/>
<path d="M218.8 462.09Q215.37 452.69 208.99 444.99" fill="none" stroke="#6a1f6e" stroke-width="0.35" opacity="0.22"/>
<path d="M208.77 426.28Q215.2 418.61 218.68 409.23" fill="none" stroke="#1f3a6e" stroke-width="0.35" opacity="0.22"/>
<path d="M211.74 439.83Q244.57 449.35 277.4 439.96" fill="none" stroke="#1f3a6e" stroke-width="0.35" opacity="0.22"/>
<path d="M202.4 448.4Q205.83 457.8 212.21 465.51" fill="none" stroke="#1f3a6e" stroke-width="0.35" opacity="0.22"/>
<path d="M230.82 406Q249.34 424.67 274.39 432.04" fill="none" stroke="#f9a24b" stroke-width="1.25"/>
<polygon points="276.94,432.75 273.21,433.15 273.91,430.54" fill="#f9a24b"/>
<path d="M224.52 409.03Q232.38 440.96 255.39 464.14" fill="none" stroke="#f9a24b" stroke-width="1.25"/>
<polygon points="257.24,465.96 253.79,464.5 255.66,462.56" fill="#f9a24b"/>
<path d="M265.08 461.97Q257.22 430.04 234.21 406.86" fill="none" stroke="#a84f9e" stroke-width="1.25"/>
<polygon points="232.36,405.04 235.81,406.5 233.94,408.44" fill="#a84f9e"/>
<path d="M254.53 398.65Q229.11 405.36 210.21 423.36" fill="none" stroke="#f26a1b" stroke-width="1.25"/>
<polygon points="208.31,425.21 209.83,421.78 211.74,423.69" fill="#f26a1b"/>
<path d="M212.27 432.86Q237.59 426.18 256.45 408.28" fill="none" stroke="#1f3a6e" stroke-width="1.44"/>
<polygon points="258.49,406.29 256.83,410.15 254.64,407.96" fill="#1f3a6e"/>
<path d="M208.02 445.5Q226.47 464.09 251.39 471.47" fill="none" stroke="#1f3a6e" stroke-width="1.44"/>
<polygon points="254.14,472.24 249.97,472.73 250.77,469.74" fill="#1f3a6e"/>
<path d="M281.58 425.5Q263.13 406.91 238.21 399.53" fill="none" stroke="#c1272d" stroke-width="1.5"/>
<polygon points="235.46,398.76 239.63,398.27 238.83,401.26" fill="#c1272d"/>
<path d="M287.2 422.6Q284.25 414.5 279.1 407.66" fill="none" stroke="#c1272d" stroke-width="1.56"/>
<polygon points="277.39,405.49 281.07,407.51 278.69,409.49" fill="#c1272d"/>
<path d="M270.8 408.91Q273.75 417.01 278.9 423.84" fill="none" stroke="#f26a1b" stroke-width="1.5"/>
<polygon points="280.61,426.01 276.93,424 279.31,422.02" fill="#f26a1b"/>
<path d="M258.78 465Q239.32 445.39 212.66 438.25" fill="none" stroke="#a84f9e" stroke-width="0.88"/>
<path d="M254.83 471.31Q246.22 469.8 237.62 470.88" fill="none" stroke="#a84f9e" stroke-width="1"/>
<polygon points="235.11,471.25 238.33,469.34 238.79,472" fill="#a84f9e"/>
<path d="M234.77 478.67Q243.38 480.18 251.98 479.1" fill="none" stroke="#6a1f6e" stroke-width="1.12"/>
<polygon points="254.49,478.73 251.27,480.64 250.81,477.98" fill="#6a1f6e"/>
<circle cx="222" cy="396.01" r="13" fill="#f9a850" stroke="#f59a3e" stroke-width="0.7"/>
<text x="222" y="399.31" text-anchor="middle" font-size="9.35">36%</text>
<circle cx="267.6" cy="396.01" r="13" fill="#fdd3b6" stroke="#f26a1b" stroke-width="0.7"/>
<text x="267.6" y="399.31" text-anchor="middle" font-size="9.35">7%</text>
<circle cx="290.4" cy="435.5" r="13" fill="#da8a74" stroke="#c1272d" stroke-width="0.7"/>
<text x="290.4" y="438.8" text-anchor="middle" font-size="9.35">11%</text>
<circle cx="267.6" cy="474.99" r="13" fill="#c286ba" stroke="#a84f9e" stroke-width="0.7"/>
<text x="267.6" y="478.29" text-anchor="middle" font-size="9.35">23%</text>
<circle cx="222" cy="474.99" r="13" fill="#a87ea9" stroke="#6a1f6e" stroke-width="0.7"/>
<text x="222" y="478.29" text-anchor="middle" font-size="9.35">17%</text>
<circle cx="199.2" cy="435.5" r="13" fill="#c6c9db" stroke="#1f3a6e" stroke-width="0.7"/>
<text x="199.2" y="438.8" text-anchor="middle" font-size="9.35">6%</text>
<text x="244.6" y="379.8" text-anchor="middle"><tspan font-style="italic">tbh-1</tspan></text>
<path d="M142.77 484.49Q152.63 486.22 162.49 484.55" fill="none" stroke="#f9a24b" stroke-width="0.35" opacity="0.22"/>
<path d="M125.75 493.45Q118.5 520.1 125.65 546.76" fill="none" stroke="#f9a24b" stroke-width="0.35" opacity="0.22"/>
<path d="M120.43 490.03Q114 497.7 110.52 507.08" fill="none" stroke="#f9a24b" stroke-width="0.35" opacity="0.22"/>
<path d="M162.83 477.13Q152.97 475.4 143.11 477.07" fill="none" stroke="#f26a1b" stroke-width="0.35" opacity="0.22"/>
<path d="M171.35 493.45Q164.1 520.1 171.25 546.76" fill="none" stroke="#f26a1b" stroke-width="0.35" opacity="0.22"/>
<path d="M165.58 489.51Q140.92 513.18 132.64 546.31" fill="none" stroke="#f26a1b" stroke-width="0.35" opacity="0.22"/>
<path d="M188.83 529.52Q182.4 537.19 178.92 546.57" fill="none" stroke="#c1272d" stroke-width="0.35" opacity="0.22"/>
<path d="M185.33 522.94Q158.62 529.99 139.11 549.51" fill="none" stroke="#c1272d" stroke-width="0.35" opacity="0.22"/>
<path d="M185.86 515.97Q153.03 506.45 120.2 515.84" fill="none" stroke="#c1272d" stroke-width="0.35" opacity="0.22"/>
<path d="M179.85 547.15Q187.1 520.5 179.95 493.84" fill="none" stroke="#a84f9e" stroke-width="0.35" opacity="0.22"/>
<path d="M185.17 550.57Q191.6 542.9 195.08 533.52" fill="none" stroke="#a84f9e" stroke-width="0.35" opacity="0.22"/>
<path d="M134.25 547.15Q141.5 520.5 134.35 493.84" fill="none" stroke="#6a1f6e" stroke-width="0.35" opacity="0.22"/>
<path d="M140.02 551.09Q164.68 527.42 172.96 494.29" fill="none" stroke="#6a1f6e" stroke-width="0.35" opacity="0.22"/>
<path d="M143.07 557.15Q169.78 550.1 189.29 530.59" fill="none" stroke="#6a1f6e" stroke-width="0.35" opacity="0.22"/>
<path d="M126.8 546.89Q123.37 537.49 116.99 529.79" fill="none" stroke="#6a1f6e" stroke-width="0.35" opacity="0.22"/>
<path d="M116.77 511.08Q123.2 503.41 126.68 494.03" fill="none" stroke="#1f3a6e" stroke-width="0.35" opacity="0.22"/>
<path d="M119.74 524.63Q152.57 534.15 185.4 524.76" fill="none" stroke="#1f3a6e" stroke-width="0.35" opacity="0.22"/>
<path d="M110.4 533.2Q113.83 542.6 120.21 550.31" fill="none" stroke="#1f3a6e" stroke-width="0.35" opacity="0.22"/>
<path d="M138.82 490.8Q157.34 509.47 182.39 516.84" fill="none" stroke="#f9a24b" stroke-width="1.25"/>
<polygon points="184.94,517.55 181.21,517.95 181.91,515.34" fill="#f9a24b"/>
<path d="M132.52 493.83Q140.38 525.76 163.39 548.94" fill="none" stroke="#f9a24b" stroke-width="1.25"/>
<polygon points="165.24,550.76 161.79,549.3 163.66,547.36" fill="#f9a24b"/>
<path d="M173.08 546.77Q165.22 514.84 142.21 491.66" fill="none" stroke="#a84f9e" stroke-width="1.25"/>
<polygon points="140.36,489.84 143.81,491.3 141.94,493.24" fill="#a84f9e"/>
<path d="M162.53 483.45Q137.11 490.16 118.21 508.16" fill="none" stroke="#f26a1b" stroke-width="1.25"/>
<polygon points="116.31,510.01 117.83,506.58 119.74,508.49" fill="#f26a1b"/>
<path d="M120.27 517.66Q145.59 510.98 164.45 493.08" fill="none" stroke="#1f3a6e" stroke-width="1.44"/>
<polygon points="166.49,491.09 164.83,494.95 162.64,492.76" fill="#1f3a6e"/>
<path d="M116.02 530.3Q134.47 548.89 159.39 556.27" fill="none" stroke="#1f3a6e" stroke-width="1.44"/>
<polygon points="162.14,557.04 157.97,557.53 158.77,554.54" fill="#1f3a6e"/>
<path d="M189.58 510.3Q171.13 491.71 146.21 484.33" fill="none" stroke="#c1272d" stroke-width="1.5"/>
<polygon points="143.46,483.56 147.63,483.07 146.83,486.06" fill="#c1272d"/>
<path d="M195.2 507.4Q192.25 499.3 187.1 492.46" fill="none" stroke="#c1272d" stroke-width="1.5"/>
<polygon points="185.39,490.29 189.07,492.31 186.69,494.29" fill="#c1272d"/>
<path d="M178.8 493.71Q181.75 501.81 186.9 508.64" fill="none" stroke="#f26a1b" stroke-width="1.38"/>
<polygon points="188.61,510.81 184.93,508.8 187.31,506.82" fill="#f26a1b"/>
<path d="M166.78 549.8Q147.32 530.19 120.66 523.05" fill="none" stroke="#a84f9e" stroke-width="0.9"/>
<path d="M162.83 556.11Q154.23 554.6 145.62 555.68" fill="none" stroke="#a84f9e" stroke-width="1"/>
<polygon points="143.11,556.05 146.33,554.14 146.79,556.8" fill="#a84f9e"/>
<path d="M142.77 563.47Q151.38 564.98 159.98 563.9" fill="none" stroke="#6a1f6e" stroke-width="1.12"/>
<polygon points="162.49,563.53 159.27,565.44 158.81,562.78" fill="#6a1f6e"/>
<circle cx="130" cy="480.81" r="13" fill="#f9b264" stroke="#f59a3e" stroke-width="0.7"/>
<text x="130" y="484.11" text-anchor="middle" font-size="9.35">27%</text>
<circle cx="175.6" cy="480.81" r="13" fill="#fbba8c" stroke="#f26a1b" stroke-width="0.7"/>
<text x="175.6" y="484.11" text-anchor="middle" font-size="9.35">15%</text>
<circle cx="198.4" cy="520.3" r="13" fill="#dc957e" stroke="#c1272d" stroke-width="0.7"/>
<text x="198.4" y="523.6" text-anchor="middle" font-size="9.35">15%</text>
<circle cx="175.6" cy="559.79" r="13" fill="#c28aba" stroke="#a84f9e" stroke-width="0.7"/>
<text x="175.6" y="563.09" text-anchor="middle" font-size="9.35">20%</text>
<circle cx="130" cy="559.79" r="13" fill="#dac9db" stroke="#6a1f6e" stroke-width="0.7"/>
<text x="130" y="563.09" text-anchor="middle" font-size="9.35">7%</text>
<circle cx="107.2" cy="520.3" r="13" fill="#8286aa" stroke="#1f3a6e" stroke-width="0.7"/>
<text x="107.2" y="523.6" text-anchor="middle" font-size="9.35">16%</text>
<text x="155.7" y="463.2" text-anchor="middle"><tspan font-style="italic">tdc-1</tspan></text>
<text x="1.9" y="532.5">Arrows</text>
<line x1="5.1" y1="541.6" x2="15.7" y2="541.6" stroke="#8c8c8c" stroke-width="2.2"/>
<polygon points="20.6,541.6 13.6,537.3 13.6,545.9" fill="#8c8c8c"/>
<text x="24.1" y="545">100%</text>
<line x1="5.1" y1="554.2" x2="16.76" y2="554.2" stroke="#8c8c8c" stroke-width="1.2"/>
<polygon points="20.4,554.2 15.2,551.6 15.2,556.8" fill="#8c8c8c"/>
<text x="24.1" y="557.4">80%</text>
<line x1="5.1" y1="567.3" x2="16.9" y2="567.3" stroke="#8c8c8c" stroke-width="0.9"/>
<polygon points="20.4,567.3 15.4,564.9 15.4,569.7" fill="#8c8c8c"/>
<text x="24.1" y="570.5">60%</text>
<line x1="58.6" y1="554.2" x2="71.22" y2="554.2" stroke="#8c8c8c" stroke-width="0.6"/>
<polygon points="73.6,554.2 70.2,552.7 70.2,555.7" fill="#8c8c8c"/>
<text x="77.6" y="557.4">40%</text>
<line x1="58.6" y1="567.3" x2="71.92" y2="567.3" stroke="#8c8c8c" stroke-width="0.35"/>
<polygon points="73.6,567.3 71.2,566.4 71.2,568.2" fill="#8c8c8c"/>
<text x="77.6" y="570.5">20%</text>
<text x="242.4" y="527.5">Nodes</text>
<circle cx="296.95" cy="538.48" r="7.3" fill="#f9a24b"/>
<circle cx="313.25" cy="538.48" r="7.3" fill="#f26a1b"/>
<circle cx="321.4" cy="552.6" r="7.3" fill="#c1272d"/>
<circle cx="313.25" cy="566.72" r="7.3" fill="#a84f9e"/>
<circle cx="296.95" cy="566.72" r="7.3" fill="#6a1f6e"/>
<circle cx="288.8" cy="552.6" r="7.3" fill="#1f3a6e"/>
<text x="284.2" y="541.6" text-anchor="end">Predatory search</text>
<text x="324.6" y="541.6">Predatory biting</text>
<text x="276.4" y="555.7" text-anchor="end">Dwelling</text>
<text x="332.2" y="555.7">Predatory feeding</text>
<text x="283.8" y="569.8" text-anchor="end">Roaming</text>
<text x="324.6" y="569.8">Search</text>
</g>
<g>
<text x="318.2" y="368.4" font-weight="bold" font-size="9.9" stroke="#1a1a1a" stroke-width="0.3">f</text>
<defs><filter id="bl1" x="-50%" y="-50%" width="200%" height="200%"><feGaussianBlur stdDeviation="0.8"/></filter><filter id="bl3" x="-50%" y="-50%" width="200%" height="200%"><feGaussianBlur stdDeviation="2.5"/></filter><filter id="bl05" x="-50%" y="-50%" width="200%" height="200%"><feGaussianBlur stdDeviation="0.45"/></filter><clipPath id="cf"><rect x="324.4" y="370" width="168.8" height="103.1"/></clipPath></defs>
<g clip-path="url(#cf)">
<rect x="324.4" y="370" width="168.8" height="103.1" fill="#262325"/>
<polygon points="324.4,381.4 493.2,381.4 493.2,468.2 340,468.2 324.4,411" fill="#050505"/>
<path d="M494 389.1C485 389.15 455.62 389.2 440 389.4C424.38 389.6 409.3 390.12 400.3 390.3C391.3 390.48 390.78 390.33 386 390.5C381.22 390.67 376.37 390.95 371.6 391.3C366.83 391.65 360.93 392.1 357.4 392.6C353.87 393.1 352.73 393.87 350.4 394.3C348.07 394.73 345.75 394.7 343.4 395.2C341.05 395.7 338.35 396.28 336.3 397.3C334.25 398.32 332.23 399.52 331.1 401.3C329.97 403.08 329.75 405.72 329.5 408C329.25 410.28 329.25 412.7 329.6 415C329.95 417.3 330.33 420.08 331.6 421.8C332.87 423.52 335.1 424.48 337.2 425.3C339.3 426.12 341.83 426.33 344.2 426.7C346.57 427.07 347.8 427.07 351.4 427.5C355 427.93 361.03 428.72 365.8 429.3C370.57 429.88 374.1 430.3 380 431C385.9 431.7 391.2 432.4 401.2 433.5C411.2 434.6 424.53 435.95 440 437.6C455.47 439.25 485 442.43 494 443.4Z" fill="#141414"/>
<path d="M336 409 C360 400 420 398 494 399 L494 428 C440 426 380 421 336 409Z" fill="#1a1a1a" filter="url(#bl3)"/>
<path d="M425 404 C440 401 470 401 494 404 L494 432 C470 430 440 424 425 416Z" fill="#1f1f1f" filter="url(#bl3)"/>
<g fill="none" stroke="#f0f0f0" stroke-width="0.8" filter="url(#bl05)">
<path d="M433.2 404 L434.2 408.5 L435.4 412.6 L438.3 417.5 L443.6 420.2" opacity="0.95"/>
<path d="M433.6 404.8 L436.5 410 L439.4 414.5 L444.4 419.5" opacity="0.9"/>
<path d="M444.4 419.5 L453.6 427.7 L463.8 433.3 L471.5 436.9" opacity="0.5"/>
<path d="M471.5 436.9 L473 432.8 L474.6 425.6" opacity="0.5"/>
<path d="M476.5 412.6 Q480 411.3 484 412.1" opacity="0.6" stroke-width="0.7"/>
<path d="M443.6 420.2 L450 421.6 L458 420" opacity="0.35"/>
</g>
<circle cx="433.2" cy="404.2" r="0.9" fill="#fff" filter="url(#bl05)"/>
<ellipse cx="470.2" cy="413.3" rx="6.2" ry="2.6" transform="rotate(-20 470.2 413.3)" fill="#fff" filter="url(#bl1)"/>
<ellipse cx="471" cy="412.9" rx="4.6" ry="1.9" transform="rotate(-18 471 412.9)" fill="#fff"/>
<ellipse cx="468.2" cy="416.6" rx="3.6" ry="1.5" transform="rotate(-20 468.2 416.6)" fill="#fff" filter="url(#bl1)"/>
<ellipse cx="463.4" cy="418.2" rx="3.4" ry="1.3" transform="rotate(-22 463.4 418.2)" fill="#ddd" filter="url(#bl1)"/>
<polygon points="453,412.7 458.4,415 453,417.3 454.08,415" fill="#fff"/>
<polygon points="453,418.3 458.4,420.6 453,422.9 454.08,420.6" fill="#fff"/>
<text x="486.1" y="415.14" text-anchor="middle" font-size="5.4" fill="#fff" font-family="DejaVu Sans, sans-serif">★</text>
<text x="486.1" y="421.74" text-anchor="middle" font-size="5.4" fill="#fff" font-family="DejaVu Sans, sans-serif">★</text>
<path d="M494 443.4C485 442.43 455.47 439.25 440 437.6C424.53 435.95 411.2 434.6 401.2 433.5C391.2 432.4 385.9 431.7 380 431C374.1 430.3 370.57 429.88 365.8 429.3C361.03 428.72 355 427.93 351.4 427.5C347.8 427.07 346.57 427.07 344.2 426.7C341.83 426.33 339.3 426.12 337.2 425.3C335.1 424.48 332.87 423.52 331.6 421.8C330.33 420.08 329.95 417.3 329.6 415C329.25 412.7 329.25 410.28 329.5 408C329.75 405.72 329.97 403.08 331.1 401.3C332.23 399.52 334.25 398.32 336.3 397.3C338.35 396.28 341.05 395.7 343.4 395.2C345.75 394.7 348.07 394.73 350.4 394.3C352.73 393.87 353.87 393.1 357.4 392.6C360.93 392.1 366.83 391.65 371.6 391.3C376.37 390.95 381.22 390.67 386 390.5C390.78 390.33 391.3 390.48 400.3 390.3C409.3 390.12 424.38 389.6 440 389.4C455.62 389.2 485 389.15 494 389.1" fill="none" stroke="#fff" stroke-width="1.35" stroke-linecap="round" stroke-dasharray="0.01 7.1" opacity="0.92"/>
<rect x="441.1" y="467.2" width="47.7" height="2" fill="#fff"/>
</g>
<text x="326.6" y="380.6" font-size="9.8" fill="#fff"><tspan font-style="italic">tdc-1p</tspan>::GFP</text>
</g>
<g>
<text x="506.6" y="368.4" font-weight="bold" font-size="9.9" stroke="#1a1a1a" stroke-width="0.3">g</text>
<rect x="514.8" y="370" width="142.1" height="202.9" fill="#020202"/>
<defs><clipPath id="cg"><rect x="514.8" y="370" width="142.1" height="202.9"/></clipPath></defs>
<g clip-path="url(#cg)">
<path d="M658 407.42C655.86 405.94 649.63 401.19 645.15 398.54C640.68 395.9 636.59 393.75 631.14 391.53C625.69 389.32 618.68 386.59 612.45 385.23C606.22 383.87 600.38 383.36 593.76 383.36C587.15 383.36 579.75 384.06 572.74 385.23C565.73 386.4 557.75 388.42 551.72 390.37C545.68 392.31 539.73 394.77 536.53 396.91C533.34 399.05 532.95 401.19 532.56 403.21C532.17 405.24 531.01 407.96 534.2 409.05C537.39 410.14 544.91 409.56 551.72 409.75C558.53 409.95 568.07 409.75 575.08 410.22C582.08 410.69 588.7 411.39 593.76 412.56C598.83 413.73 601.94 415.28 605.44 417.23C608.95 419.18 611.67 421.9 614.79 424.24C617.9 426.57 621.41 429.1 624.13 431.25C626.86 433.39 629.97 436.11 631.14 437.08" fill="none" stroke="#fff" stroke-width="1.15" stroke-linecap="round" stroke-dasharray="0.01 6.3" opacity="0.95"/>
<ellipse cx="613.6" cy="402" rx="1.7" ry="2.5" fill="#d8222b" transform="rotate(20 613.6 402)" filter="url(#bl05)" opacity="1"/>
<ellipse cx="613.8" cy="401.6" rx="0.8" ry="1.4" fill="#f03038" transform="rotate(20 613.8 401.6)" filter="url(#bl05)" opacity="1"/>
<ellipse cx="615" cy="409" rx="3" ry="1.1" fill="#d8222b" transform="rotate(0 615 409)" filter="url(#bl05)" opacity="1"/>
<ellipse cx="614.2" cy="409" rx="1.5" ry="0.6" fill="#f03038" transform="rotate(0 614.2 409)" filter="url(#bl05)" opacity="1"/>
<path d="M621.8 480.22 C631.14 476.72 645.15 469.71 660.34 470.88 L660.34 508.25 L629.97 508.25 Z" fill="#071d22" filter="url(#bl3)" opacity="0.9"/>
<path d="M621.8 547.52 C631.14 544.02 645.15 537.01 660.34 538.18 L660.34 575.55 L629.97 575.55 Z" fill="#071d22" filter="url(#bl3)" opacity="0.9"/>
<path d="M658 474.85C654.69 473.02 644.18 466.87 638.15 463.87C632.11 460.87 627.63 458.73 621.8 456.86C615.96 454.99 609.34 453.44 603.11 452.66C596.88 451.88 591.04 451.76 584.42 452.19C577.8 452.62 570.41 453.48 563.4 455.23C556.39 456.98 547.63 459.9 542.37 462.7C537.12 465.51 533.42 469.71 531.86 472.05C530.31 474.38 529.72 475.67 533.03 476.72C536.34 477.77 544.71 477.96 551.72 478.35C558.73 478.74 568.07 478.47 575.08 479.05C582.08 479.64 588.7 480.57 593.76 481.86C598.83 483.14 601.94 484.97 605.44 486.76C608.95 488.55 611.48 490.38 614.79 492.6C618.1 494.82 622.38 497.74 625.3 500.08C628.22 502.41 631.14 505.53 632.31 506.62" fill="none" stroke="#fff" stroke-width="1.15" stroke-linecap="round" stroke-dasharray="0.01 6.3" opacity="0.95"/>
<ellipse cx="615.96" cy="467.84" rx="1.5" ry="2" fill="#2aa3b0" transform="rotate(0 615.96 467.84)" filter="url(#bl05)" opacity="0.85"/>
<ellipse cx="617.59" cy="476.72" rx="2.4" ry="1.4" fill="#2aa3b0" transform="rotate(0 617.59 476.72)" filter="url(#bl05)" opacity="0.85"/>
<ellipse cx="540.04" cy="469.71" rx="1.5" ry="0.9" fill="#2aa3b0" transform="rotate(0 540.04 469.71)" filter="url(#bl05)" opacity="0.85"/>
<ellipse cx="535.37" cy="473.21" rx="0.8" ry="0.8" fill="#2aa3b0" transform="rotate(0 535.37 473.21)" filter="url(#bl05)" opacity="0.85"/>
<ellipse cx="534.9" cy="477.89" rx="0.8" ry="0.8" fill="#2aa3b0" transform="rotate(0 534.9 477.89)" filter="url(#bl05)" opacity="0.85"/>
<ellipse cx="635.81" cy="466.21" rx="0.7" ry="0.7" fill="#2aa3b0" transform="rotate(0 635.81 466.21)" filter="url(#bl05)" opacity="0.85"/>
<path d="M658 542.19C654.69 540.36 644.18 534.2 638.15 531.21C632.11 528.21 627.63 526.03 621.8 524.2C615.96 522.37 609.34 520.93 603.11 520.23C596.88 519.53 591.04 519.33 584.42 519.99C577.8 520.66 570.41 522.33 563.4 524.2C556.39 526.07 547.51 528.68 542.37 531.21C537.24 533.74 534.12 537.16 532.56 539.38C531.01 541.6 529.84 543.35 533.03 544.52C536.22 545.69 544.71 546 551.72 546.39C558.73 546.78 568.46 546.55 575.08 546.86C581.7 547.17 586.37 547.17 591.43 548.26C596.49 549.35 601.55 551.45 605.44 553.4C609.34 555.34 611.28 557.6 614.79 559.94C618.29 562.27 623.43 565.15 626.47 567.41C629.5 569.67 631.92 572.47 633.01 573.49" fill="none" stroke="#fff" stroke-width="1.15" stroke-linecap="round" stroke-dasharray="0.01 6.3" opacity="0.95"/>
<ellipse cx="612.9" cy="538" rx="1.6" ry="2.4" fill="#d8222b" transform="rotate(20 612.9 538)" filter="url(#bl05)" opacity="1"/>
<ellipse cx="613" cy="537.8" rx="0.8" ry="1.3" fill="#f03038" transform="rotate(20 613 537.8)" filter="url(#bl05)" opacity="1"/>
<ellipse cx="613.6" cy="545.4" rx="2.5" ry="1.1" fill="#d8222b" transform="rotate(-8 613.6 545.4)" filter="url(#bl05)" opacity="1"/>
<ellipse cx="613.2" cy="545.4" rx="1.3" ry="0.6" fill="#f03038" transform="rotate(-8 613.2 545.4)" filter="url(#bl05)" opacity="1"/>
<ellipse cx="616.66" cy="535.88" rx="1.1" ry="1.1" fill="#2aa3b0" transform="rotate(0 616.66 535.88)" filter="url(#bl05)" opacity="0.85"/>
<ellipse cx="618.76" cy="544.75" rx="1.8" ry="1" fill="#2aa3b0" transform="rotate(0 618.76 544.75)" filter="url(#bl05)" opacity="0.85"/>
<ellipse cx="540.04" cy="537.75" rx="1.5" ry="0.9" fill="#2aa3b0" transform="rotate(0 540.04 537.75)" filter="url(#bl05)" opacity="0.85"/>
<ellipse cx="534.9" cy="540.55" rx="0.7" ry="0.7" fill="#2aa3b0" transform="rotate(0 534.9 540.55)" filter="url(#bl05)" opacity="0.85"/>
<ellipse cx="534.9" cy="545.22" rx="0.7" ry="0.7" fill="#2aa3b0" transform="rotate(0 534.9 545.22)" filter="url(#bl05)" opacity="0.85"/>
<ellipse cx="635.11" cy="535.88" rx="0.8" ry="0.6" fill="#2aa3b0" transform="rotate(0 635.11 535.88)" filter="url(#bl05)" opacity="0.85"/>
<polygon points="597.9,534.8 603.5,537.5 597.9,540.2 599.02,537.5" fill="#fff"/>
<polygon points="597.9,543.2 603.5,545.9 597.9,548.6 599.02,545.9" fill="#fff"/>
<text x="628.3" y="538.94" text-anchor="middle" font-size="5.4" fill="#fff" font-family="DejaVu Sans, sans-serif">★</text>
<text x="628.3" y="546.74" text-anchor="middle" font-size="5.4" fill="#fff" font-family="DejaVu Sans, sans-serif">★</text>
<rect x="619.6" y="568.5" width="34.6" height="2.3" fill="#fff"/>
<rect x="514.8" y="436.2" width="142.1" height="1.3" fill="#9a9a9a"/>
<rect x="514.8" y="504.4" width="142.1" height="1.3" fill="#c8c8c8"/>
</g>
<text x="517.1" y="380.6" font-size="9.8" fill="#fff"><tspan font-style="italic">tdc-1</tspan> HCR</text>
<text x="517.1" y="448.7" font-size="9.8" fill="#fff"><tspan font-style="italic">tbh-1</tspan> HCR</text>
</g>
</svg>
</body></html>
